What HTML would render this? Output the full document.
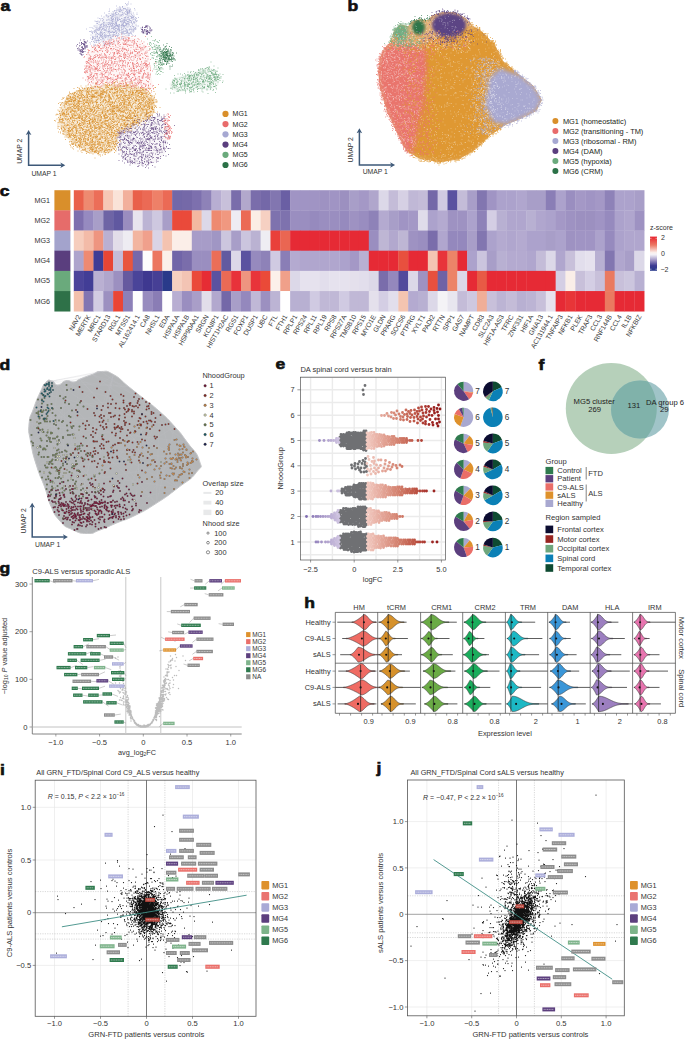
<!DOCTYPE html>
<html><head><meta charset="utf-8"><style>
html,body{margin:0;padding:0;background:#fff;}
svg{display:block;font-family:"Liberation Sans",sans-serif;}
</style></head><body>
<svg width="685" height="1039" viewBox="0 0 685 1039">
<rect width="685" height="1039" fill="#fff"/>
<text transform="translate(0.60 10.80) scale(1.17 1)" font-size="15" font-weight="bold" fill="#111" stroke="#111" stroke-width="0.6">a</text>
<g filter="url(#blr1)">
<polygon points="57.9,120.9 60.0,108.0 66.0,98.0 75.0,91.0 89.4,86.7 115.7,84.1 136.0,86.0 150.0,92.0 155.1,100.0 155.0,110.0 149.8,118.0 138.0,124.0 128.0,128.0 118.3,136.0 116.0,148.0 110.4,152.4 92.0,153.7 76.3,147.1 63.1,134.0" fill="#d98f2b" fill-opacity="0.2"/>
<polygon points="87.0,55.0 92.0,46.0 105.2,40.5 120.9,36.5 136.7,38.5 147.2,46.0 149.8,60.4 151.2,76.2 153.8,89.3 136.7,88.0 115.7,85.0 96.0,87.5 86.5,82.0 85.0,68.0" fill="#e86b6b" fill-opacity="0.06"/>
<polygon points="94.0,26.0 104.0,16.0 117.0,9.2 124.9,5.3 131.0,9.2 136.5,20.0 137.5,28.0 133.0,33.0 120.0,37.0 105.0,41.0 93.0,44.0 91.5,36.0" fill="#a6a8d2" fill-opacity="0.1"/>
<polygon points="118.3,131.4 128.8,126.1 147.2,118.2 160.4,115.6 166.9,120.9 168.2,136.6 165.6,152.4 157.7,161.6 144.6,165.5 131.4,164.2 122.3,157.6 117.8,147.1" fill="#5a3e7e" fill-opacity="0.05"/>
<polygon points="169.5,84.1 173.5,78.8 184.0,74.9 197.1,70.9 207.6,67.0 215.5,69.6 220.3,77.5 218.2,85.4 210.3,90.6 199.8,89.3 189.3,90.6 178.7,92.0 170.9,89.3" fill="#6aaa7c" fill-opacity="0.08"/>
</g>
<path transform="scale(.5)" d="M232 163h0m3-1h0m5 2h0m6 0h0m5 0h0m14 0h0m-89 6h0m14 2h0m1-4h0m1-3h0m0 3h0m16 0h0m2 2h0m1 0h0m0-5h0m1 4h0m1 2h0m2 1h0m1-5h0m2 4h0m1-1h0m0 0h0m0-1h0m3 2h0m1-2h0m4-3h0m1 0h0m1-1h0m0 3h0m0-3h0m7 5h0m2-2h0m2-1h0m0 4h0m1 0h0m1 1h0m5-5h0m1 5h0m4-7h0m0 5h0m1-1h0m1 1h0m1 0h0m0 1h0m1 0h0m0-1h0m2-1h0m3-3h0m1 6h0m2-6h0m4 4h0m3 1h0m26 1h0m-149 5h0m7-2h0m3 1h0m1 1h0m1 3h0m2-8h0m2 3h0m1 2h0m3 1h0m1-1h0m1-1h0m0 2h0m2-6h0m2 6h0m0-3h0m1 2h0m0 2h0m0-1h0m1-1h0m1-2h0m2 3h0m2-3h0m1 2h0m1 0h0m0-5h0m1 4h0m0 1h0m2-3h0m1 3h0m3-4h0m0 7h0m1-7h0m3 7h0m1-7h0m0 0h0m1 2h0m2-1h0m0 1h0m1 4h0m1-2h0m4 0h0m0 0h0m1 3h0m3-1h0m0 0h0m3-5h0m0 2h0m2 0h0m1-4h0m0 2h0m0 0h0m1 0h0m1 5h0m1-4h0m0 0h0m2 3h0m1-1h0m1 2h0m2 0h0m0-3h0m0 1h0m1 2h0m0-3h0m1 2h0m0 0h0m0 1h0m1-7h0m2 5h0m0-3h0m1 3h0m0-1h0m2 4h0m0-5h0m0-1h0m0 5h0m1-3h0m0-2h0m0 5h0m1-1h0m1 1h0m1-3h0m0 2h0m1-4h0m1 0h0m2 4h0m0 0h0m1 1h0m0-3h0m0-3h0m1 7h0m1-6h0m1 3h0m2 1h0m1-5h0m2 4h0m0 0h0m0-5h0m0 5h0m1-5h0m3 5h0m0 3h0m0-6h0m2 1h0m0 5h0m0-7h0m2 3h0m2-2h0m2 2h0m0-1h0m1 5h0m2-7h0m0 4h0m3 0h0m3-1h0m0 4h0m3-6h0m0 4h0m1-1h0m3 1h0m1-4h0m3 6h0m1-4h0m0 0h0m2 1h0m2 1h0m0 1h0m1-1h0m0 1h0m1-1h0m2-2h0m1 3h0m1-1h0m2 0h0m0 2h0m4-3h0m2 1h0m1 0h0m10-3h0m1 0h0m-172 11h0m0-2h0m1 4h0m1-1h0m4 0h0m1-1h0m3-1h0m0 1h0m0 1h0m2-2h0m2 2h0m1-4h0m0-2h0m1 5h0m2-4h0m1 0h0m0-1h0m1 3h0m0-4h0m0 6h0m1 2h0m0-4h0m1-4h0m0 1h0m1 0h0m0 6h0m0-3h0m1-1h0m0 5h0m1-6h0m0 3h0m0 1h0m1-5h0m1 0h0m2 1h0m4 1h0m0-2h0m1 5h0m0 0h0m0-4h0m2 1h0m0-3h0m0 4h0m1 0h0m0 2h0m0-2h0m0 0h0m1 0h0m1 4h0m0-2h0m0-6h0m0 1h0m1 2h0m2 1h0m2 1h0m0-2h0m1-2h0m0 7h0m0-7h0m0-1h0m2 1h0m0 1h0m1 0h0m3 0h0m0-1h0m0 6h0m0-2h0m1 2h0m1-1h0m0 0h0m0-1h0m1-3h0m0 4h0m0 2h0m1-2h0m0-1h0m0-1h0m2-2h0m0 4h0m0 0h0m0-4h0m4-2h0m0 6h0m1-2h0m0 3h0m0-5h0m1 5h0m1-5h0m0 5h0m0 0h0m0-4h0m1 2h0m1-2h0m0 2h0m1 2h0m0-6h0m0 5h0m1-5h0m0 4h0m0-2h0m1-1h0m1 3h0m0-2h0m1 3h0m0-3h0m2 2h0m0 0h0m0-2h0m1 4h0m0 1h0m0-6h0m1-2h0m0 1h0m0 4h0m0-3h0m2 6h0m2-8h0m1 3h0m0 1h0m1 1h0m0-2h0m1 2h0m0-5h0m3 2h0m1 3h0m1 2h0m2 0h0m0 0h0m0-2h0m1 0h0m1 0h0m0 0h0m0-3h0m0 4h0m2 0h0m1-3h0m1 3h0m0 2h0m0-4h0m1-2h0m0 2h0m0-1h0m0 1h0m1-3h0m2 1h0m1 3h0m1-4h0m1 2h0m1-1h0m0 3h0m1-3h0m0 0h0m1 2h0m1-3h0m1 1h0m0 3h0m0 0h0m0 2h0m1-5h0m0 0h0m1 6h0m0-4h0m1 3h0m3-3h0m0-1h0m1-3h0m1 1h0m3 2h0m0 1h0m1 3h0m1 1h0m1-5h0m0 0h0m0 2h0m1-5h0m0 5h0m3-3h0m0 4h0m0-4h0m1 2h0m0-4h0m0 5h0m0 2h0m0-3h0m1 1h0m0 2h0m0-2h0m0 0h0m1-3h0m0 4h0m3-5h0m0 6h0m1-2h0m0 0h0m1 1h0m0-1h0m0-1h0m1-3h0m0 2h0m0-1h0m0 0h0m1-1h0m1 5h0m0-4h0m0-1h0m0 2h0m2-2h0m0 6h0m0-3h0m0 3h0m1-2h0m0-4h0m1 6h0m0-2h0m1-3h0m0 0h0m0-1h0m1 4h0m1-2h0m1 2h0m0 0h0m0 2h0m0-6h0m2 6h0m0-2h0m1-3h0m0-1h0m0 7h0m1-1h0m1-6h0m0 4h0m1 2h0m1-4h0m1 3h0m0-6h0m1 7h0m2-1h0m0-1h0m3-2h0m2 3h0m1 1h0m3-6h0m5 2h0m-183 13h0m3-1h0m5-1h0m3 2h0m0-5h0m0 1h0m1-1h0m1-2h0m0 3h0m1 4h0m1-3h0m1 1h0m0-1h0m0 2h0m2-7h0m1 7h0m1 1h0m0-2h0m1-6h0m0 6h0m1-5h0m0 5h0m1-3h0m0 4h0m1 1h0m0-6h0m1 4h0m0-3h0m1 1h0m0 0h0m3 2h0m0-5h0m1 4h0m1-1h0m0 1h0m0 3h0m0-2h0m0 0h0m1-5h0m0 1h0m1 6h0m1-5h0m1 0h0m0 5h0m1-6h0m1 4h0m1-3h0m0 2h0m1-1h0m0 3h0m0-6h0m0 7h0m1-7h0m1 1h0m1 1h0m0 4h0m0-4h0m2 4h0m0-2h0m0 0h0m3 2h0m0-4h0m0 3h0m1-5h0m0 7h0m1-6h0m0 3h0m1-1h0m0 3h0m0 0h0m0-5h0m0 2h0m1 2h0m1-6h0m0 0h0m2 5h0m0-4h0m1 4h0m1-3h0m1 6h0m0-4h0m1 1h0m0 3h0m1-5h0m0-3h0m0 5h0m0-1h0m1 1h0m0 1h0m1 0h0m0-5h0m0 5h0m0 0h0m0-4h0m0 2h0m0 2h0m0-5h0m1 3h0m1 0h0m0 1h0m0 1h0m1-6h0m0 4h0m0 2h0m0-1h0m1 2h0m0-3h0m1 2h0m2 1h0m0-2h0m2-1h0m1 3h0m0-5h0m1 1h0m0-1h0m1 1h0m0 1h0m1 0h0m1-2h0m0 1h0m0-2h0m1 3h0m0-3h0m0 5h0m1-2h0m0 3h0m0-6h0m0 3h0m0 2h0m1 0h0m1 1h0m0-5h0m0 6h0m0-7h0m1-1h0m0 6h0m0-6h0m1 6h0m0-5h0m1 0h0m2 7h0m0-1h0m1-1h0m1-2h0m0-1h0m1 2h0m0-2h0m0 3h0m4-1h0m0-2h0m1 3h0m0-4h0m0-2h0m1 3h0m0 5h0m0-1h0m1-3h0m0-2h0m0 2h0m0-2h0m0 3h0m1 1h0m0 0h0m1 1h0m2-7h0m2 4h0m0-2h0m1 0h0m0 3h0m1 1h0m1 2h0m1-6h0m3 2h0m1-1h0m1 1h0m0-1h0m0-1h0m1 3h0m0-1h0m1-1h0m0 4h0m2 1h0m0-6h0m1 5h0m0-7h0m1 8h0m1 0h0m0-3h0m0-3h0m1 2h0m0-2h0m1 0h0m0-1h0m1 6h0m1-2h0m1 0h0m0 2h0m1-4h0m2 0h0m1 0h0m0-2h0m0 7h0m0-3h0m0 1h0m1-1h0m1-5h0m0 3h0m0 0h0m0 0h0m1 0h0m1 4h0m0 0h0m0-4h0m2 1h0m1 4h0m0-6h0m1 0h0m0 0h0m1 2h0m0 0h0m2 3h0m0-7h0m0 4h0m2 2h0m0-5h0m0 1h0m1-1h0m0 0h0m0 1h0m0 3h0m0-4h0m2 1h0m1 5h0m1-6h0m0 2h0m3 3h0m0-4h0m1 2h0m0 3h0m0-6h0m1 3h0m2 1h0m1-3h0m0 1h0m0-1h0m1 1h0m1 2h0m0 2h0m1-1h0m1 0h0m1 2h0m0-7h0m1 4h0m0 0h0m1-4h0m0 2h0m0-2h0m1 6h0m0-6h0m1 0h0m0-1h0m1 7h0m1-3h0m0 2h0m1-3h0m0 3h0m1 1h0m1-1h0m1-4h0m2 3h0m0-5h0m1 2h0m0 4h0m0-2h0m0 2h0m2 0h0m1-5h0m3 6h0m1-4h0m0 0h0m1 0h0m1 3h0m1-2h0m2 0h0m3 0h0m0 3h0m2-7h0m-187 11h0m3-2h0m4 5h0m1 1h0m1 1h0m1 0h0m0-6h0m0 0h0m0 0h0m0-2h0m0 2h0m1 6h0m1-6h0m0 4h0m0 1h0m0-5h0m1 5h0m1-5h0m0 4h0m0-5h0m0 4h0m1 1h0m0 1h0m0-1h0m2-3h0m0-3h0m0 0h0m0 7h0m1-2h0m0 1h0m1-3h0m0 3h0m0 1h0m0 0h0m0-5h0m1 1h0m1 1h0m1 0h0m1-3h0m0 6h0m0-1h0m0 0h0m1 0h0m0-1h0m1 0h0m1-2h0m0-3h0m0 4h0m0 2h0m0 0h0m0-1h0m1-3h0m0 3h0m0-4h0m1 1h0m0 1h0m2 4h0m1-3h0m1 2h0m1 1h0m0-2h0m0 3h0m1-3h0m1 1h0m0 1h0m0-5h0m0 0h0m1-1h0m0-1h0m0 6h0m1 1h0m0-7h0m2 7h0m2-7h0m0 2h0m1 2h0m0 2h0m0 0h0m1-2h0m1 1h0m1-1h0m0-1h0m0 1h0m1-2h0m2 4h0m0-2h0m2 2h0m0 0h0m0-3h0m1 1h0m1-2h0m0 3h0m0 1h0m1-5h0m1 7h0m1-4h0m0 2h0m1-2h0m0-2h0m1 6h0m1-1h0m0-2h0m1-1h0m0-3h0m1 5h0m0 1h0m1-3h0m0-4h0m1 6h0m5 1h0m1-3h0m0 4h0m1-3h0m0 3h0m1-5h0m0 3h0m1-3h0m1-2h0m2 1h0m3 0h0m0 3h0m1-5h0m0 2h0m3 4h0m1 1h0m1-4h0m0 4h0m0-2h0m1-1h0m2-2h0m0 2h0m0 0h0m1-1h0m1 2h0m0 1h0m0-1h0m4 2h0m0 1h0m1-4h0m0 3h0m0 0h0m1-4h0m0-1h0m0 4h0m1-6h0m0 4h0m0 1h0m1-3h0m1-1h0m1-1h0m0 2h0m1 0h0m0 0h0m2 5h0m3-5h0m3 3h0m0 2h0m1 0h0m0-4h0m1-1h0m1-1h0m2-1h0m0 4h0m1-3h0m1 4h0m0 2h0m1-1h0m1-3h0m2-1h0m1 3h0m2 1h0m0-1h0m1 0h0m0-4h0m1 2h0m0-2h0m1 3h0m0 3h0m0-6h0m0 4h0m1-1h0m0 4h0m1-2h0m0-3h0m1 1h0m1 3h0m0 0h0m2-3h0m0-1h0m1-2h0m0 2h0m1 5h0m1-6h0m0 3h0m1-5h0m0 0h0m0 0h0m0 5h0m1-5h0m0 7h0m0-6h0m1 7h0m1-3h0m2-4h0m1 3h0m1-1h0m1 4h0m0-6h0m1-1h0m2 2h0m0 2h0m1 4h0m1-2h0m0-2h0m0 1h0m1 1h0m0-1h0m0 0h0m0-5h0m1 5h0m0-1h0m0-3h0m0 5h0m0-2h0m3-1h0m0-1h0m0 4h0m0-3h0m1 3h0m1-3h0m0 4h0m0-2h0m1-1h0m1-1h0m3 1h0m0-3h0m1 3h0m1-4h0m0 6h0m0-1h0m1 0h0m1-2h0m0-2h0m0 6h0m1-3h0m0 0h0m2-4h0m0 3h0m1-2h0m1 7h0m0-1h0m1-2h0m2 3h0m1-1h0m0-5h0m0 4h0m1-4h0m1 1h0m0-2h0m0 3h0m1 1h0m0-1h0m1 0h0m0-2h0m2 2h0m0-3h0m0 4h0m0 2h0m2-5h0m0 1h0m1 2h0m0 0h0m1 1h0m0 2h0m1-4h0m1-4h0m0 2h0m4 2h0m0-1h0m2 3h0m-197 5h0m3-2h0m1 6h0m0-2h0m2-3h0m0 2h0m2-3h0m1 1h0m2 5h0m1-1h0m1-2h0m0-4h0m0 2h0m1 2h0m1-1h0m0-3h0m1 4h0m0-2h0m0 3h0m3 2h0m0-4h0m0-2h0m1 3h0m2 0h0m0 4h0m1-3h0m0 1h0m1-2h0m2 1h0m1-5h0m0 3h0m2 1h0m1 1h0m0 0h0m1-4h0m0 3h0m0 3h0m1 1h0m0-4h0m0-2h0m1 6h0m1-1h0m0-1h0m1-4h0m1 3h0m1-1h0m0 4h0m0-5h0m1 3h0m0 2h0m1-7h0m0 0h0m0 2h0m1 0h0m0 4h0m0 0h0m0-7h0m1 6h0m1-1h0m0-1h0m0-4h0m1 3h0m4 0h0m0-1h0m2 4h0m1-1h0m0-4h0m1 4h0m0-1h0m0-1h0m0-3h0m1 3h0m0 0h0m1 4h0m1-7h0m0 1h0m1 6h0m1-7h0m0 1h0m1 0h0m0 1h0m0 5h0m1-6h0m1 7h0m1-5h0m0 3h0m0-2h0m0-2h0m0 1h0m1 2h0m1 2h0m1-6h0m0 7h0m0-6h0m1 2h0m1-2h0m3 0h0m0 0h0m1 0h0m0-1h0m1 6h0m0-1h0m1-6h0m2 0h0m1 8h0m2-7h0m0 4h0m0-2h0m1 5h0m0-7h0m0 0h0m1 0h0m1 5h0m0 0h0m1 0h0m1-1h0m3 2h0m0-3h0m0-3h0m0 0h0m0 6h0m2-7h0m0 5h0m1-1h0m1 3h0m1-6h0m0 6h0m3-3h0m2-3h0m0 1h0m1 5h0m1-7h0m1 5h0m0-5h0m1 4h0m1-3h0m0 7h0m1-4h0m2 1h0m0-5h0m0 6h0m1-6h0m0 5h0m0-2h0m1 2h0m0 2h0m1-7h0m0 5h0m0-4h0m0-1h0m1 5h0m1-2h0m1 5h0m0-6h0m0-1h0m0 1h0m1-1h0m1 5h0m1 2h0m0-6h0m1-2h0m0 3h0m0-2h0m0 6h0m1 1h0m2 0h0m1-1h0m1-6h0m0 3h0m1 2h0m0 1h0m1 1h0m1-8h0m2 3h0m0 1h0m0 3h0m1 0h0m0-2h0m0-2h0m1-2h0m0 6h0m1-3h0m0-3h0m1 1h0m0 2h0m0 1h0m2 3h0m0-7h0m2 7h0m0-3h0m0-3h0m0 0h0m1 4h0m0-3h0m1-2h0m0 4h0m0-2h0m0-1h0m1 4h0m2-5h0m0 3h0m0 1h0m2 1h0m0 1h0m2-2h0m0 3h0m1-1h0m0-5h0m0 1h0m1-2h0m0 4h0m0 2h0m1-6h0m0 2h0m0-2h0m1 5h0m0-2h0m1 0h0m0 2h0m1 1h0m0-6h0m2 6h0m1-2h0m0-1h0m2-1h0m0-1h0m3 0h0m0-1h0m1 7h0m1-5h0m3 3h0m2-2h0m0 0h0m0 1h0m2-2h0m0 0h0m0-2h0m0 6h0m1 0h0m0-4h0m1 2h0m0-4h0m1 2h0m0 1h0m1-3h0m1 5h0m0-5h0m0 5h0m2-1h0m2 1h0m0-4h0m0 6h0m0-1h0m2-5h0m1 2h0m0-4h0m0 7h0m0-3h0m1-3h0m0 7h0m1-2h0m1 0h0m1-4h0m0 2h0m1-1h0m1 1h0m0 2h0m1-6h0m0 3h0m0 5h0m0-8h0m0 6h0m1-5h0m0 1h0m0-1h0m1 4h0m0-3h0m1-2h0m1 5h0m0-3h0m0 6h0m1-6h0m1 2h0m0-2h0m0 4h0m2-3h0m0-1h0m1-1h0m1 0h0m0 5h0m2 1h0m1-7h0m1 8h0m1-8h0m1 0h0m-194 11h0m3 1h0m2 4h0m1-1h0m3-5h0m1 0h0m2 5h0m0-1h0m1 1h0m2-2h0m1-2h0m0 1h0m0 3h0m2-1h0m0-1h0m0 2h0m0-4h0m2 0h0m1 0h0m1 2h0m0 2h0m0-3h0m0-2h0m2 5h0m0-6h0m1 0h0m1 4h0m1-5h0m0 3h0m1-1h0m1-2h0m0 5h0m1-1h0m0 1h0m1-5h0m0 5h0m2-4h0m0 3h0m0-1h0m2 3h0m0-2h0m1 2h0m0-5h0m0 1h0m1 2h0m0 2h0m1-5h0m0 3h0m0 0h0m0 3h0m1 1h0m0-7h0m1 4h0m1-2h0m1-1h0m0 5h0m1-3h0m0-4h0m0 1h0m0 5h0m1-4h0m1 4h0m1 0h0m0-6h0m1 1h0m2 4h0m0-3h0m1-1h0m0 3h0m0 4h0m0-1h0m1 0h0m0-5h0m2 2h0m1 0h0m1-2h0m0 3h0m1 0h0m2-1h0m0 2h0m0-5h0m2 3h0m0-2h0m0 4h0m0-1h0m1 1h0m0 1h0m1 0h0m1-1h0m1 1h0m0 1h0m0-4h0m1 4h0m0-1h0m0-5h0m1-1h0m1 2h0m1 3h0m0-2h0m1-1h0m0 0h0m0 3h0m1 2h0m1-6h0m1-2h0m1 5h0m1-1h0m0-3h0m1 1h0m0 0h0m1 4h0m0-4h0m1 1h0m0 2h0m1-4h0m0 4h0m1 0h0m2 3h0m1-4h0m0 2h0m2 1h0m2-2h0m0 3h0m0-6h0m1 0h0m0 2h0m3-1h0m0 3h0m1-4h0m0 5h0m1-2h0m1-2h0m3-2h0m1 0h0m2 3h0m1 2h0m0 1h0m0 1h0m1 0h0m0-8h0m1 2h0m0-1h0m0 5h0m1 2h0m1-4h0m0 2h0m1-5h0m0-1h0m1 3h0m0 2h0m0 3h0m0-7h0m0 6h0m0-3h0m1-3h0m1 4h0m0 0h0m1-1h0m0 1h0m0 0h0m0-4h0m1 3h0m2-1h0m0 3h0m0-4h0m1 1h0m1 2h0m0-4h0m1 2h0m0 0h0m1 0h0m0 3h0m0-4h0m1 4h0m1-4h0m0 0h0m0 5h0m0 1h0m1-1h0m1-2h0m0 0h0m1 1h0m1-2h0m1-1h0m1-1h0m0 5h0m0-7h0m1 5h0m1 0h0m2-2h0m0-1h0m1-1h0m0 1h0m1 4h0m0 0h0m0-4h0m2-1h0m0 2h0m0 3h0m1-4h0m0 4h0m1-3h0m0 1h0m2 2h0m0 1h0m0-1h0m2-3h0m3 3h0m1-5h0m1 1h0m0 0h0m0 1h0m1 1h0m1-2h0m2 4h0m3-5h0m1 3h0m0 1h0m0 0h0m2-1h0m1 0h0m0-4h0m0 5h0m1 2h0m1-1h0m0-5h0m0 3h0m0 1h0m1-1h0m0-3h0m1 1h0m1 3h0m1-2h0m0 0h0m1-2h0m0 0h0m0 0h0m1 3h0m0 4h0m1-3h0m0 1h0m1-2h0m1 2h0m0 0h0m1-4h0m0 6h0m0 0h0m0-1h0m1-1h0m1-5h0m0 2h0m1-2h0m0 1h0m1-1h0m0 5h0m0 1h0m0 1h0m2-3h0m1-5h0m0 7h0m2-4h0m1-1h0m0 5h0m0-7h0m0 7h0m0-3h0m0-2h0m2 0h0m0-2h0m1 5h0m0-5h0m0 5h0m0 1h0m0-1h0m0-3h0m1 0h0m0 2h0m3 1h0m0-1h0m1-3h0m0 5h0m0-3h0m0-1h0m1 0h0m0 5h0m0-5h0m0 4h0m0 0h0m0-2h0m2 3h0m2-4h0m2-2h0m2 2h0m7 0h0m-206 13h0m2-8h0m2 2h0m1 1h0m0 4h0m2 1h0m1 0h0m1-4h0m1-1h0m0 5h0m1-7h0m0 7h0m1-2h0m0 1h0m0-2h0m1 2h0m0 1h0m0-3h0m1-3h0m1 2h0m0 3h0m0 0h0m1 1h0m0-8h0m3 5h0m0-1h0m0-2h0m0 6h0m1-4h0m1-2h0m1-1h0m0 6h0m1 0h0m1-3h0m3-1h0m0 2h0m1-4h0m0 3h0m0 0h0m0 0h0m1 4h0m1-7h0m0 2h0m1-2h0m0-1h0m1 7h0m0-7h0m1 2h0m1 1h0m0-2h0m0 2h0m1 1h0m0 2h0m1-3h0m0-3h0m1 2h0m1 0h0m0 3h0m1 1h0m1-3h0m2 4h0m0-6h0m1 0h0m0-1h0m3 6h0m1-2h0m0 0h0m0-3h0m1 4h0m1 1h0m1 1h0m0 0h0m0-4h0m0-1h0m1 4h0m1-5h0m0 1h0m1 0h0m0-1h0m0 3h0m0-3h0m1 0h0m1 2h0m0-1h0m2 4h0m1 0h0m0 0h0m1-6h0m1 2h0m1 0h0m0 6h0m1-1h0m0 0h0m0-3h0m0 0h0m1 4h0m3-7h0m0 1h0m0 2h0m1-1h0m0 4h0m2-6h0m0 2h0m1-2h0m2 7h0m0-3h0m0-1h0m1 0h0m0-1h0m2-2h0m0 0h0m0 2h0m1-3h0m1 6h0m0 0h0m1 1h0m1-2h0m0-2h0m0-1h0m2 0h0m1-1h0m1 7h0m1-3h0m0-4h0m2 4h0m0 3h0m4-3h0m0-3h0m0 3h0m1 1h0m0-4h0m0 3h0m0 1h0m0 1h0m0-1h0m0-3h0m2-3h0m0 4h0m1 4h0m1-8h0m1 3h0m0 2h0m0-3h0m1 5h0m0 1h0m1-5h0m2 2h0m0-4h0m1 0h0m0 1h0m0 0h0m1 2h0m0-1h0m0-3h0m1 1h0m1 7h0m1 0h0m0-8h0m2 7h0m0-4h0m2 1h0m1 2h0m0-4h0m0 2h0m1-1h0m0 3h0m0-4h0m0-1h0m0 7h0m1-6h0m0 2h0m0-4h0m1 3h0m0-1h0m1-1h0m0 4h0m1-2h0m0 4h0m0-4h0m1 4h0m0-7h0m1 6h0m1 1h0m0 1h0m0-1h0m0 0h0m1-4h0m1-3h0m0 1h0m1 1h0m1 0h0m1 0h0m0 0h0m1 2h0m1-3h0m0 0h0m1 1h0m0-1h0m1 3h0m0 2h0m0-4h0m1-1h0m1 2h0m0 1h0m1-1h0m0 1h0m1 0h0m0-1h0m1-2h0m1 3h0m0 1h0m0-3h0m1-2h0m0 2h0m1 0h0m0 2h0m1-3h0m1 4h0m0 2h0m2-7h0m0 8h0m1-1h0m0-6h0m1 4h0m1 1h0m1-6h0m1 3h0m1 2h0m0 1h0m0-5h0m0 7h0m1 0h0m1-6h0m0-1h0m1 0h0m0 6h0m0-5h0m2 3h0m0-1h0m1 3h0m1-2h0m1 1h0m0-2h0m1 2h0m0 1h0m1-6h0m0 7h0m0-8h0m0 1h0m1 2h0m1 3h0m0-2h0m0-2h0m0 0h0m3-1h0m0 7h0m1-4h0m0 1h0m1 0h0m1-1h0m1 0h0m2-4h0m1 2h0m1 5h0m1-3h0m2 2h0m0-4h0m1 4h0m1-4h0m1 3h0m1 1h0m2 0h0m2-2h0m0-1h0m0-2h0m0 5h0m1-4h0m0 4h0m0-5h0m0 7h0m0-2h0m0 0h0m1 1h0m0-3h0m2 3h0m0-2h0m1 0h0m1 0h0m1-3h0m1 1h0m0 3h0m0-2h0m1-2h0m1 1h0m0 1h0m3 2h0m0-4h0m1 2h0m1-2h0m0 2h0m2 1h0m5-1h0m-203 6h0m2-1h0m2 0h0m1 6h0m4-3h0m0-1h0m0 0h0m0 4h0m1-4h0m3-1h0m0-1h0m1-1h0m1 4h0m1-2h0m1-1h0m1 4h0m0-2h0m1 1h0m1-3h0m0 4h0m1-3h0m1 3h0m0 1h0m0-5h0m2 0h0m1 0h0m1 1h0m1 3h0m2 2h0m0 0h0m2-5h0m0 4h0m1 1h0m1-2h0m0-2h0m0-1h0m0 4h0m0-1h0m1 1h0m0-6h0m1 8h0m0 0h0m1-7h0m0-1h0m0 3h0m1 3h0m1-3h0m0 0h0m0-1h0m1 2h0m1-4h0m0 3h0m2 0h0m0 5h0m1-7h0m1 6h0m1 0h0m0-3h0m0 0h0m1 3h0m0-1h0m0-5h0m1 2h0m0-2h0m0 7h0m1-1h0m0-1h0m0-1h0m0 0h0m1-2h0m1 3h0m1-5h0m1 5h0m0-3h0m0 3h0m1 0h0m0-1h0m1-2h0m2-2h0m0 6h0m2-6h0m0 2h0m1-1h0m0 4h0m0 2h0m1-3h0m0-5h0m1 7h0m0-4h0m0 2h0m0 0h0m1-2h0m1 2h0m2-5h0m1 7h0m0 0h0m0-5h0m1 3h0m0-5h0m1 2h0m1 2h0m2-2h0m1-2h0m0 8h0m1 0h0m1-7h0m1 1h0m1 2h0m0 3h0m1-7h0m0 2h0m1 3h0m2-2h0m0 5h0m0-5h0m1 1h0m2 1h0m0-3h0m1 6h0m1-3h0m0-3h0m1 4h0m2-2h0m0 0h0m0-3h0m0 1h0m1 1h0m0 3h0m1 1h0m1 0h0m0-7h0m0 8h0m0-3h0m0 0h0m5-2h0m0-2h0m0 4h0m0-2h0m0 1h0m0 0h0m1 1h0m0 3h0m0-2h0m1-3h0m0 4h0m0-1h0m0-3h0m1 5h0m0-7h0m1 7h0m0-6h0m0 6h0m1-8h0m0 8h0m0-5h0m0 4h0m1-3h0m1 4h0m0-2h0m0 1h0m0-3h0m2 1h0m1-5h0m0 1h0m1 7h0m1-6h0m1 4h0m1-6h0m0 1h0m3 4h0m0-4h0m1 6h0m0 1h0m0-3h0m1-1h0m0-4h0m1 1h0m0 1h0m4 2h0m0 3h0m1-2h0m0-3h0m0 3h0m1-3h0m0 0h0m2 2h0m1 2h0m1 2h0m1-4h0m0-3h0m2 3h0m0-1h0m1 1h0m0 0h0m2-1h0m0 3h0m1 0h0m0-3h0m1 3h0m0-5h0m1 2h0m0 1h0m0 1h0m2 0h0m2-1h0m0 3h0m1 0h0m0 0h0m0-1h0m2 0h0m0 1h0m0 1h0m1-3h0m1-2h0m0 4h0m0-1h0m1 2h0m0-5h0m0-1h0m1 6h0m1-2h0m0-5h0m0 4h0m1-1h0m1 0h0m0 3h0m0-5h0m0 4h0m1-6h0m0 2h0m1 2h0m1 3h0m1 0h0m2-1h0m1-3h0m0 0h0m1 0h0m0 2h0m0-3h0m1 2h0m1 0h0m3 0h0m0-2h0m0 1h0m0-3h0m1 4h0m0 4h0m0-5h0m2 3h0m1-4h0m0 5h0m3-5h0m0 4h0m0-4h0m1 1h0m1-1h0m0-2h0m3 6h0m3-4h0m1 1h0m0 3h0m0-1h0m1-3h0m0-1h0m1 2h0m1 3h0m0-1h0m0-4h0m2 4h0m3-2h0m0 2h0m0 3h0m0-4h0m0 2h0m1-4h0m1 1h0m1 0h0m1-1h0m2 0h0m1 0h0m2 5h0m-198 6h0m2 1h0m3-4h0m5 0h0m0 4h0m0 0h0m1-3h0m0 0h0m0 1h0m1 4h0m1-6h0m1 1h0m1 4h0m0-4h0m1-2h0m0 4h0m0-2h0m1-1h0m0 0h0m1 3h0m2-5h0m2 2h0m0 0h0m1 0h0m2 3h0m0-3h0m1 6h0m1-5h0m0 0h0m0 0h0m1 5h0m0-7h0m2 4h0m1-3h0m0 5h0m1-6h0m0 0h0m0 0h0m1 1h0m2 0h0m0-2h0m1 6h0m0 0h0m1-1h0m2 0h0m1 1h0m0-2h0m1-3h0m0 0h0m0 4h0m2-4h0m1 0h0m1 5h0m0-4h0m1 5h0m1-7h0m2 1h0m0 4h0m1-4h0m0 4h0m1-4h0m2 5h0m1-4h0m0-1h0m0 1h0m1 1h0m1 2h0m0-3h0m0 0h0m0-1h0m1 4h0m1 1h0m0-2h0m1 1h0m1-5h0m0 3h0m0 4h0m0-2h0m1 2h0m1-2h0m0-4h0m1 2h0m1 4h0m1-3h0m0 3h0m1 0h0m1-6h0m2 5h0m0-1h0m0 0h0m0 1h0m1-5h0m0 4h0m0 2h0m1-2h0m0-4h0m1 2h0m0 0h0m0-1h0m1 1h0m0 0h0m2 5h0m0-1h0m0-3h0m1-1h0m0 3h0m0 1h0m1-6h0m0 4h0m0 2h0m0 1h0m0 0h0m1-3h0m1-2h0m0 4h0m1-5h0m0 4h0m0-3h0m0-3h0m1 3h0m0-2h0m1 4h0m0-2h0m0 4h0m4 1h0m0-4h0m1-3h0m0 4h0m0-2h0m2-3h0m1 4h0m0 2h0m2 0h0m0-1h0m0-3h0m1 2h0m0 1h0m0-2h0m2-2h0m4 0h0m0 3h0m0 4h0m2 0h0m0-3h0m0 2h0m0-6h0m1 4h0m0-1h0m1 3h0m1-2h0m1 1h0m0-1h0m1 1h0m0-1h0m1 1h0m0-1h0m1-1h0m1-1h0m1-3h0m0 2h0m2 1h0m0-1h0m1 0h0m0-2h0m0 7h0m1-2h0m2-2h0m0 4h0m1 0h0m0-6h0m0 5h0m1-3h0m0 0h0m1-3h0m1 4h0m0 3h0m2-1h0m1 1h0m2-3h0m0-3h0m1 5h0m0-6h0m0 0h0m2 1h0m1 3h0m0-2h0m0 6h0m1-2h0m1-3h0m2 0h0m0-1h0m1 0h0m0-2h0m1 6h0m0-4h0m1 1h0m0 3h0m2-2h0m1 2h0m0-1h0m0 0h0m0-1h0m1-1h0m0 2h0m2-3h0m1 3h0m1-5h0m0 1h0m0-1h0m1 6h0m0-2h0m0-3h0m0 0h0m1 3h0m3 1h0m0-4h0m0 4h0m0 2h0m1-6h0m2 0h0m0 7h0m0-6h0m2-1h0m0 0h0m1 4h0m0-5h0m1 1h0m0 5h0m0-2h0m1-3h0m1 6h0m1-3h0m0 1h0m0 1h0m1 0h0m0-4h0m1 3h0m0 1h0m0-2h0m1-3h0m1 7h0m1-2h0m0-2h0m0 1h0m1-5h0m1 6h0m1-3h0m0 0h0m1 1h0m1-4h0m1 3h0m0 0h0m2-1h0m1 4h0m1 0h0m2-5h0m2 5h0m0-5h0m1 6h0m0-5h0m4 1h0m0-2h0m1 3h0m4-3h0m1-1h0m0 3h0m4-3h0m-186 12h0m0 4h0m0-7h0m2 0h0m4-1h0m2 2h0m0-1h0m1-1h0m1 8h0m2-6h0m0-1h0m0 1h0m1 2h0m0 3h0m2-1h0m2 1h0m1-3h0m1 2h0m0 1h0m1-2h0m0 1h0m0 0h0m2 1h0m1-5h0m1 4h0m2-3h0m1 2h0m1 0h0m0 1h0m0-5h0m1-1h0m1 6h0m1-4h0m0-1h0m1 3h0m1 3h0m2-1h0m1 2h0m0-2h0m2-3h0m0 5h0m1-7h0m0 0h0m2 5h0m0-1h0m1 0h0m0 0h0m0 1h0m1-4h0m0 1h0m0 1h0m1 3h0m1-4h0m0 4h0m0 0h0m1-1h0m1-6h0m0 6h0m1-3h0m0-2h0m1 6h0m0-6h0m1 3h0m1 1h0m0-1h0m1-1h0m0-2h0m0 0h0m1 3h0m1 4h0m1-6h0m1 2h0m3 3h0m0-4h0m1 1h0m0-1h0m2 2h0m1-3h0m0-1h0m0 0h0m0 2h0m0-1h0m1 2h0m0-2h0m0-1h0m0 3h0m1 3h0m0 1h0m0 0h0m1-2h0m0-2h0m2-3h0m1 2h0m2 4h0m0-5h0m1 3h0m1-4h0m0 6h0m2-4h0m0 0h0m1 3h0m1-5h0m0-1h0m1 5h0m1-4h0m0 5h0m1-5h0m0 3h0m1 2h0m0-2h0m1-4h0m0 2h0m0 3h0m2 3h0m1-2h0m1 1h0m0-6h0m0 2h0m1 3h0m0-4h0m0 0h0m0 5h0m2-5h0m0 6h0m0-8h0m1 0h0m0 5h0m0-3h0m0-2h0m3 4h0m1-4h0m0 3h0m0 0h0m1 2h0m0-1h0m1 1h0m0 3h0m1-5h0m0 3h0m0 1h0m2 0h0m0 1h0m1-5h0m1-1h0m0 3h0m1-4h0m0 6h0m1-1h0m0-2h0m1 4h0m1-4h0m1-3h0m0 5h0m1-3h0m2 0h0m0 4h0m1 0h0m1-1h0m0-5h0m1 0h0m0 0h0m1 4h0m2 1h0m1 1h0m1-2h0m0-5h0m1 5h0m1 0h0m0-2h0m0 3h0m2-5h0m1-1h0m0 1h0m3 7h0m0-4h0m0 3h0m1-2h0m1-2h0m0 3h0m2 1h0m1-3h0m1-2h0m0 6h0m1-3h0m1-2h0m0 0h0m0 3h0m0-1h0m1 0h0m0 3h0m0-7h0m0 1h0m1-2h0m1 7h0m0-1h0m0 0h0m1-1h0m0 1h0m0 0h0m1 2h0m0-6h0m1 3h0m0-1h0m0 1h0m1-2h0m4 5h0m0-3h0m0 1h0m2-2h0m0-1h0m0-1h0m2 1h0m1-2h0m0 1h0m1 4h0m0-6h0m0 2h0m0 2h0m0 1h0m1-3h0m0-1h0m1 6h0m0-2h0m0-1h0m1 1h0m0-4h0m3 3h0m0-3h0m1 0h0m0 1h0m1 0h0m0-1h0m1 0h0m2-1h0m0 7h0m0-3h0m1-2h0m2 0h0m2 4h0m9-4h0m-175 8h0m0 3h0m2-4h0m1 6h0m3-3h0m1 0h0m0 1h0m0 1h0m0-6h0m3 2h0m1 1h0m1-1h0m0 2h0m1 1h0m0 2h0m2 0h0m1-3h0m0-3h0m4 3h0m1 1h0m0 0h0m1 2h0m0-1h0m1-4h0m0 2h0m0 4h0m1-4h0m1-1h0m2 4h0m1-2h0m0 2h0m0-5h0m0 5h0m1-3h0m0 2h0m2-1h0m0-4h0m1 0h0m0 2h0m0-2h0m0 2h0m1 0h0m1-3h0m1 3h0m1 2h0m0 1h0m0-2h0m0-1h0m0 4h0m1-5h0m1 4h0m0 2h0m2-3h0m2-5h0m0 0h0m1 4h0m1 0h0m0-2h0m0 0h0m1 4h0m1-3h0m1 1h0m0-1h0m0 1h0m2 2h0m0-1h0m1 2h0m0-1h0m0 2h0m1-6h0m0 5h0m1-5h0m2 5h0m0-6h0m1 7h0m2 0h0m0-5h0m1-3h0m0 2h0m1-2h0m1 3h0m0-1h0m2 4h0m0 1h0m2-5h0m0-1h0m1 4h0m1-3h0m0 2h0m0 0h0m1 1h0m0-5h0m1 7h0m1-5h0m0 1h0m3-1h0m1 0h0m0 4h0m0 0h0m1-4h0m0-2h0m0 2h0m0 3h0m1 0h0m0-2h0m1-3h0m0 5h0m1 0h0m0-2h0m1 1h0m1-1h0m1 4h0m1-6h0m0 3h0m1 2h0m0-2h0m1-3h0m0 4h0m0-2h0m0 3h0m1-2h0m0 3h0m1-5h0m0 2h0m0 0h0m1-1h0m1-2h0m0 5h0m1-6h0m1 2h0m1 0h0m0 1h0m2 0h0m1 4h0m0-4h0m2 1h0m1 2h0m1-1h0m2 0h0m0-4h0m1 5h0m0-5h0m0 2h0m0-1h0m1 6h0m1-8h0m0 0h0m1 3h0m1 3h0m0-1h0m1-3h0m0-1h0m0 2h0m0 0h0m1 4h0m1-3h0m0 4h0m0-7h0m1 5h0m1-3h0m1 1h0m0-1h0m1-1h0m0-2h0m0 5h0m2-4h0m2 2h0m2 4h0m0-3h0m1-3h0m0 7h0m1-1h0m1-6h0m0 7h0m1-4h0m0 4h0m1-3h0m1-2h0m1 5h0m0-4h0m3 1h0m1 0h0m0 1h0m1-3h0m1 3h0m0-1h0m2 3h0m1-3h0m1-4h0m0 1h0m1-1h0m1 3h0m0 3h0m4-1h0m0-5h0m2 2h0m1 3h0m2-5h0m0 0h0m0 2h0m0 2h0m1-5h0m1 2h0m1 4h0m6-2h0m1 0h0m-154 8h0m4 0h0m0 2h0m3-6h0m2 7h0m0 1h0m0-5h0m1-1h0m1 0h0m0-1h0m2 3h0m2-2h0m2 4h0m1-5h0m1 1h0m0 3h0m1-4h0m0 2h0m0-2h0m1 7h0m0-4h0m0 4h0m0-1h0m0-6h0m0 7h0m0-4h0m1-1h0m2-2h0m0 2h0m0-2h0m0 7h0m1-6h0m1-2h0m1 7h0m0-1h0m1-5h0m0 5h0m1-4h0m0 1h0m2 3h0m3 2h0m1-7h0m0 4h0m1-2h0m0-1h0m0 3h0m0 2h0m0-4h0m1 4h0m0-5h0m0-1h0m2 1h0m2 3h0m0-1h0m0 2h0m1 2h0m1-7h0m0 0h0m1 6h0m0-2h0m1 3h0m2-1h0m1-6h0m0 4h0m2 3h0m0-1h0m1-3h0m0 3h0m1-3h0m0-1h0m2 1h0m0 2h0m0 2h0m0-2h0m0-3h0m1 3h0m1-2h0m0-4h0m1 8h0m0-5h0m0-1h0m0 3h0m1-4h0m1-1h0m1 0h0m1 4h0m0-4h0m0 1h0m1 7h0m0-1h0m1-3h0m0-1h0m0 0h0m0 2h0m0 2h0m1-2h0m1-1h0m0 3h0m2-4h0m0-3h0m0 4h0m0-3h0m1 2h0m1-2h0m1 1h0m2 0h0m0 2h0m1 0h0m1 1h0m1-4h0m1 7h0m0-6h0m1 0h0m3 5h0m1-4h0m0 1h0m1 3h0m1-2h0m0-4h0m0 6h0m1 1h0m1-5h0m0 5h0m2-7h0m0 3h0m1-3h0m0 5h0m1-2h0m0 1h0m2-1h0m0-2h0m0 6h0m1-4h0m1 2h0m0-4h0m1-1h0m1 6h0m0-6h0m1 5h0m1-3h0m1 0h0m0 4h0m0-1h0m1-1h0m0 1h0m1 0h0m0 0h0m2-6h0m0 0h0m0 6h0m3-2h0m1-3h0m0 4h0m0 0h0m0-3h0m1 4h0m1-6h0m0 4h0m0 1h0m2 1h0m1 0h0m0 1h0m1-6h0m0 5h0m0-5h0m0 3h0m1-3h0m1 2h0m0 5h0m2 0h0m0-5h0m1 4h0m0 0h0m2-5h0m1-1h0m1-1h0m0 7h0m1-1h0m0-3h0m1 2h0m0 2h0m3-4h0m5 2h0m0 0h0m1 0h0m1-2h0m2-3h0m4 0h0m1 2h0m3-1h0m3 1h0m-135 7h0m2 5h0m2-4h0m2 0h0m0 4h0m1-5h0m2 6h0m1-5h0m0 2h0m1-2h0m0 0h0m0 3h0m1 2h0m0-3h0m0 1h0m0-2h0m0 2h0m2-2h0m0 4h0m1-6h0m0 1h0m2 1h0m2-1h0m0 3h0m0-4h0m1 3h0m0-1h0m1 4h0m0 0h0m0-4h0m0 5h0m1-6h0m0 2h0m0 3h0m1-4h0m1 2h0m0-2h0m0 4h0m1-1h0m2-2h0m2 3h0m1-4h0m2 0h0m0 5h0m1-2h0m0-4h0m1 3h0m1 3h0m0-6h0m2 4h0m0 0h0m0-3h0m1 0h0m2 0h0m0 5h0m0-5h0m1-2h0m0 6h0m0-2h0m2-1h0m1-3h0m0 4h0m3-4h0m1 7h0m1-6h0m0 5h0m0-4h0m1 3h0m0-2h0m0-2h0m1-2h0m2 3h0m0 2h0m1-2h0m0-1h0m0-1h0m0 4h0m0-2h0m1 5h0m3-3h0m0 2h0m0 0h0m0 1h0m0-8h0m1 1h0m1-1h0m0 8h0m0-2h0m0-2h0m2 1h0m0-4h0m0 1h0m1 6h0m0-3h0m1 3h0m0-1h0m0-1h0m0-2h0m1 3h0m0-3h0m1-2h0m0 3h0m1 0h0m0 0h0m1-3h0m1-1h0m2 0h0m2 5h0m1-3h0m2 3h0m0-5h0m0 4h0m0 0h0m0 2h0m1 0h0m3-2h0m1-4h0m1 6h0m0-3h0m1 3h0m1-3h0m1-2h0m0-2h0m1 5h0m1 2h0m1-4h0m3-2h0m0 0h0m1 1h0m0 1h0m0-2h0m0 6h0m1-2h0m1-4h0m1 3h0m0-4h0m0 1h0m1 3h0m0 2h0m1 1h0m0 0h0m1-5h0m1 1h0m0 0h0m0 2h0m2-5h0m1 3h0m0 5h0m1-6h0m0 1h0m0 5h0m1-3h0m1-2h0m1 0h0m2-2h0m0 5h0m2-3h0m-107 8h0m9 4h0m3 0h0m1-4h0m2-2h0m0 1h0m0 2h0m4 0h0m1 2h0m1-3h0m0 0h0m1 0h0m0-1h0m0 3h0m0 0h0m1-3h0m2 4h0m0 1h0m1-1h0m0-5h0m2 2h0m0 3h0m0-5h0m1 5h0m0-3h0m0-3h0m0 2h0m1-1h0m0 4h0m2 3h0m0-4h0m0-1h0m0 0h0m3 4h0m1-1h0m0-4h0m0 1h0m0-1h0m1 4h0m0 0h0m1-4h0m1 5h0m0-6h0m1 0h0m0 6h0m0-3h0m0 0h0m3-3h0m0 2h0m1 1h0m1-3h0m0 4h0m0-1h0m1-1h0m0 1h0m0-1h0m3 5h0m0 0h0m1-7h0m0 1h0m1 4h0m0-2h0m2 2h0m0 0h0m0-2h0m1 0h0m0 3h0m0-5h0m0 1h0m0 2h0m0-2h0m2 4h0m3 1h0m0 0h0m1-2h0m1-4h0m2 1h0m0 3h0m1 1h0m0-7h0m1 4h0m0 3h0m0 1h0m1-4h0m1-2h0m1 1h0m0-1h0m0 5h0m1-5h0m0-2h0m1 3h0m0-2h0m2 5h0m1-6h0m2 1h0m3 0h0m1 5h0m0-1h0m1-4h0m0 4h0m0-2h0m0 2h0m1 1h0m1-4h0m1-2h0m0 3h0m1 3h0m1 0h0m0-5h0m1 5h0m0 2h0m1-7h0m0 3h0m0 1h0m3 0h0m2-4h0m0 5h0m1-3h0m1 4h0m0-5h0m1 2h0m1 3h0m2 1h0m1-6h0m1 5h0m1-2h0m0 2h0m1-3h0m1 3h0m0-3h0m7 2h0m-102 2h0m1 5h0m1 2h0m2-7h0m0 4h0m1-1h0m1 2h0m1-1h0m0 0h0m0-4h0m0 4h0m1 0h0m1-2h0m1-2h0m2 2h0m0 5h0m0-2h0m1-3h0m0 5h0m1-6h0m2 0h0m2 6h0m0-2h0m0 2h0m2-1h0m1 1h0m0-5h0m0-1h0m0 6h0m0-7h0m0 5h0m1-1h0m0-1h0m0-3h0m1 4h0m0-4h0m2 6h0m0-1h0m1-1h0m0 0h0m1-2h0m4 2h0m0-4h0m0 6h0m1-3h0m0-3h0m0 7h0m1-4h0m0 4h0m0-6h0m2 1h0m0-1h0m0 4h0m0 0h0m0-2h0m0 2h0m1 1h0m1-3h0m1 4h0m1 0h0m0-3h0m1-2h0m0 4h0m1-2h0m1-4h0m0 4h0m1 3h0m1-1h0m0-5h0m1 5h0m0 0h0m0-1h0m0-3h0m1-1h0m1 4h0m0-3h0m0 4h0m1-2h0m1 1h0m1 1h0m0-2h0m1 0h0m0-2h0m0-1h0m0 6h0m1-1h0m1-1h0m3-1h0m0 0h0m1-2h0m0 3h0m1 1h0m1 0h0m0-5h0m0 2h0m0 0h0m0 1h0m1 2h0m0-5h0m1 5h0m1-1h0m0 2h0m0-5h0m1-2h0m1 1h0m1 0h0m0 0h0m0 3h0m1-3h0m1 5h0m0-4h0m1-1h0m0 5h0m1-2h0m1 2h0m0 2h0m1-8h0m1 4h0m2 4h0m1-8h0m0 6h0m1-3h0m1 4h0m0-6h0m0 3h0m0-2h0m1 0h0m0 2h0m1 4h0m0 0h0m0-7h0m1 3h0m0 3h0m0-6h0m1 3h0m1 4h0m0-7h0m2 3h0m0-2h0m3 0h0m0 0h0m1 1h0m0 1h0m0-2h0m2 3h0m0 1h0m1-1h0m1-2h0m0-1h0m2 3h0m1 2h0m1-4h0m1-2h0m1 0h0m-95 9h0m3 2h0m2 2h0m0-5h0m7 1h0m1 0h0m4-1h0m0 0h0m0 1h0m0 4h0m1-5h0m2 1h0m1 0h0m1 1h0m1 4h0m3-5h0m0-2h0m1 7h0m1-3h0m1 1h0m0 2h0m5-2h0m3-2h0m1 3h0m0-1h0m1 1h0m0-4h0m1 4h0m0-4h0m0 2h0m0-1h0m0 4h0m1-4h0m0-1h0m0 6h0m1-4h0m0 2h0m1-5h0m0 6h0m0 0h0m1-3h0m0-3h0m0 5h0m0-2h0m1 3h0m1-4h0m1-2h0m1 4h0m1-2h0m1 1h0m1 1h0m0-2h0m2-2h0m0 2h0m1-2h0m1 4h0m2-1h0m1 4h0m0-3h0m1-2h0m0 0h0m1 0h0m0-1h0m1 3h0m1-2h0m1 4h0m0-2h0m0-5h0m0 5h0m1-4h0m0 6h0m3-1h0m1-3h0m1 5h0m0-2h0m2-1h0m0-5h0m0 8h0m1 0h0m0 0h0m1-5h0m2-2h0m0 6h0m1 0h0m1-5h0m0 5h0m1 1h0m1-6h0m2 6h0m0-1h0m0 1h0m1-6h0m1-1h0m1 3h0m1 1h0m2 1h0m0 1h0m0-6h0m2 0h0m0 1h0m2 4h0m4-3h0m-81 7h0m6 0h0m2-1h0m0 4h0m2-5h0m1 0h0m1 0h0m2 1h0m1 1h0m2 1h0m0 4h0m1-3h0m1 0h0m2 1h0m2 1h0m0-5h0m3 5h0m0-3h0m2-3h0m1 3h0m0-2h0m1 1h0m2 1h0m1 1h0m0-1h0m1 2h0m0 0h0m0-5h0m0 2h0m1 0h0m0 1h0m1-1h0m0 0h0m1 3h0m0-5h0m0 0h0m1 2h0m1 0h0m0 5h0m2-4h0m0 4h0m0 0h0m0-2h0m1-5h0m1 4h0m1-2h0m1-1h0m2 3h0m0-4h0m1 1h0m4 5h0m0-3h0m1-1h0m0 1h0m1-2h0m0 4h0m0-4h0m1 7h0m1-3h0m0 0h0m3-3h0m1-2h0m0 6h0m1-1h0m1-1h0m2-2h0m9 3h0m2-4h0m1 1h0m9-2h0m-55 8h0m4 8h0m6-8h0m2 2h0m2-1h0m1 3h0m4-2h0m5-1h0" stroke="#d98f2b" stroke-width="1.60" stroke-linecap="round" fill="none"/>
<path transform="scale(.5)" d="M243 68h0m-16 4h0m4 1h0m7 3h0m5-2h0m5-1h0m2 3h0m2-2h0m4 1h0m8-2h0m6 0h0m21 0h0m-84 10h0m5 0h0m2 1h0m3 0h0m0-2h0m2-2h0m1 4h0m2-4h0m4-1h0m1 4h0m1-1h0m0 0h0m5-2h0m1 2h0m2-6h0m1 7h0m0-1h0m2-6h0m1 4h0m6-1h0m1-2h0m0 3h0m1 1h0m2 1h0m0 1h0m1-2h0m1-1h0m0 0h0m2-1h0m0 5h0m2-3h0m0 1h0m1-6h0m0 6h0m0-4h0m1 2h0m0-3h0m1-1h0m1 5h0m2 1h0m3 0h0m1-1h0m2 3h0m0-3h0m1-2h0m0 4h0m6 0h0m1-6h0m2 2h0m5 3h0m5 2h0m-105 8h0m8-2h0m4 0h0m2 1h0m1 1h0m1-5h0m2 3h0m7 1h0m1-1h0m0 1h0m0-2h0m1-3h0m0 6h0m1-4h0m0-1h0m1-3h0m1 5h0m1-3h0m1 2h0m0 0h0m2-1h0m1 3h0m0-2h0m1-2h0m0 5h0m1-4h0m2-1h0m0 2h0m1-3h0m1 0h0m1 4h0m1-1h0m0-2h0m2 2h0m3 2h0m0 1h0m4-3h0m1-3h0m1 2h0m1 3h0m1-5h0m2 4h0m5-3h0m1 2h0m0 1h0m2-3h0m1 3h0m0 0h0m0 0h0m1-2h0m1 2h0m1-3h0m1 4h0m2-1h0m2 1h0m1 1h0m3 0h0m0-1h0m2-5h0m2 6h0m1-3h0m1 0h0m1-2h0m1 0h0m3 1h0m0 3h0m1 0h0m1 1h0m0 1h0m5-3h0m5-2h0m10 1h0m-119 11h0m9-4h0m1 0h0m2-2h0m1 6h0m0-1h0m1-2h0m0 4h0m1-5h0m0 2h0m3-5h0m3 3h0m1-1h0m1 1h0m0-2h0m2 4h0m1 3h0m1-3h0m3 0h0m0-2h0m3-1h0m3 3h0m1-2h0m0-1h0m1 5h0m2-3h0m1-1h0m3-2h0m1 4h0m0 1h0m2-1h0m0 0h0m3-4h0m1 5h0m1-1h0m3 2h0m1-5h0m2 5h0m2-4h0m4 2h0m0-4h0m4 5h0m1-2h0m0 1h0m1-3h0m0 6h0m2-3h0m0 1h0m1 0h0m1 1h0m1-1h0m2 1h0m2-6h0m2 5h0m5-3h0m5-1h0m1 5h0m4 0h0m0-3h0m1 3h0m2-7h0m0 2h0m1 5h0m2-5h0m1 1h0m1-1h0m1 3h0m1-1h0m0 2h0m2-3h0m1 1h0m1 4h0m0-1h0m2-7h0m0 4h0m2-1h0m1-2h0m1 0h0m6 0h0m2 6h0m0-2h0m-124 11h0m0-3h0m1-4h0m0 3h0m2-3h0m5 3h0m1-1h0m3 1h0m3-3h0m2-1h0m1 2h0m1 1h0m1 1h0m3-3h0m1 0h0m5 1h0m0 1h0m4 4h0m2-6h0m3-1h0m0 4h0m0 0h0m1 1h0m0-3h0m2 0h0m4 4h0m3-6h0m2 5h0m2 2h0m0 1h0m1-2h0m0 0h0m0-1h0m4-3h0m1 5h0m0-3h0m1 3h0m0-6h0m1 4h0m1 1h0m0-5h0m0 1h0m1 2h0m1 3h0m0-7h0m1 3h0m2 5h0m1-7h0m2 2h0m2 5h0m2-2h0m0 0h0m1 0h0m3-5h0m1 4h0m1-3h0m2-1h0m4 1h0m0 5h0m0-2h0m2 1h0m2-1h0m0-1h0m0 3h0m4-6h0m0 1h0m1 1h0m1 0h0m2 0h0m2 2h0m0 2h0m3-4h0m0 2h0m0 1h0m1-2h0m3-2h0m0-2h0m1 7h0m2 1h0m4 0h0m1-2h0m1-2h0m1 3h0m2-5h0m0 3h0m4-4h0m-130 14h0m1-2h0m4-4h0m5 7h0m1-6h0m1 5h0m1-3h0m0 2h0m1-1h0m5 1h0m2 1h0m0-4h0m1 4h0m1-1h0m0-4h0m0 4h0m3-5h0m0 4h0m1-2h0m1 0h0m1 4h0m2-1h0m0-5h0m0 5h0m1-3h0m1-1h0m1 5h0m1-7h0m1 7h0m0-3h0m2 2h0m0 2h0m2-2h0m1-4h0m1 5h0m0-6h0m1 6h0m0-3h0m0-2h0m2 4h0m0-2h0m1 3h0m4 0h0m0-2h0m1-4h0m3 5h0m1 1h0m2 1h0m1-3h0m0 3h0m1 0h0m0-5h0m1-2h0m1 4h0m1 0h0m2 3h0m3-8h0m1 7h0m2-2h0m1-2h0m1 1h0m1 0h0m1 1h0m1 0h0m4-3h0m0 4h0m1-4h0m0 5h0m1-5h0m1 3h0m1-3h0m0 5h0m0-6h0m1 1h0m0 2h0m3 1h0m1-5h0m1 6h0m1-6h0m1 3h0m0 3h0m2-6h0m1 7h0m1-2h0m3 0h0m2 1h0m2-5h0m0 2h0m1 0h0m0 3h0m0 1h0m3-7h0m0 4h0m4 2h0m0-4h0m2 1h0m1-1h0m4 5h0m6-4h0m2 2h0m1-1h0m2 1h0m-123 10h0m2 0h0m2-2h0m1-1h0m0-3h0m0 3h0m2-3h0m1 2h0m0-1h0m1 0h0m0-1h0m0 5h0m3-4h0m0 1h0m2-2h0m0 4h0m1-3h0m3 6h0m0-3h0m1 3h0m3-2h0m2-6h0m0 8h0m2-2h0m3-5h0m1 3h0m4 2h0m1-3h0m3 3h0m2-5h0m0 5h0m4 0h0m1-5h0m1 3h0m3 1h0m0-4h0m1 3h0m0-3h0m1 7h0m0-1h0m5-4h0m1 4h0m1-5h0m0 1h0m3 4h0m4-1h0m0-6h0m1 2h0m0 6h0m1-3h0m1 1h0m1-1h0m0 1h0m1-4h0m2 3h0m1 2h0m1 0h0m1-2h0m1-4h0m0-1h0m0 1h0m1 4h0m4-4h0m2 1h0m3 3h0m2-3h0m2 2h0m3 1h0m2-3h0m5 4h0m2-5h0m0 3h0m4-3h0m1 2h0m1-1h0m0 1h0m0-1h0m2 5h0m3-7h0m4 6h0m1-5h0m1 5h0m2 0h0m2-4h0m5 1h0m-131 13h0m2-8h0m1 8h0m0-5h0m1 5h0m2-7h0m0 0h0m0 1h0m2 1h0m1 1h0m1-4h0m1 5h0m1 2h0m1 0h0m0-7h0m3 0h0m1 2h0m0 6h0m1-8h0m6 2h0m0 2h0m1 1h0m1-1h0m1-1h0m0 4h0m3-3h0m3-1h0m2 1h0m1-3h0m0 1h0m2 5h0m1-2h0m1-2h0m1-2h0m0 4h0m0 3h0m1-8h0m1 6h0m0-2h0m2-1h0m0 1h0m2-3h0m0 5h0m1 0h0m0-1h0m3 1h0m1 0h0m1-5h0m0 2h0m2-1h0m1 4h0m1-2h0m2-4h0m0 3h0m1-3h0m2 7h0m0-4h0m2 2h0m1-3h0m2 5h0m1-2h0m3 2h0m3 1h0m1-1h0m0-4h0m1 2h0m0-4h0m1 6h0m3 0h0m1-5h0m0-2h0m4 5h0m0-3h0m0 6h0m2-5h0m0-2h0m2 7h0m2-7h0m4 0h0m0 5h0m0-3h0m1-1h0m0 1h0m0 2h0m1 2h0m1-3h0m2 1h0m3-2h0m1 0h0m1-2h0m0 1h0m1 6h0m1-2h0m0-2h0m4 1h0m1 1h0m1-4h0m3 2h0m1-1h0m2 4h0m0-5h0m0 0h0m2 2h0m0-2h0m0 3h0m0-1h0m1 3h0m1-4h0m0 4h0m0-3h0m1 1h0m1 1h0m0 1h0m2-2h0m2-3h0m0 2h0m12-2h0m-142 13h0m1-2h0m1-1h0m2-2h0m1 6h0m0-3h0m2-5h0m1 4h0m1 3h0m0-5h0m1-1h0m0 2h0m1-3h0m0 6h0m2 0h0m0-3h0m2 2h0m0-3h0m2 4h0m3-2h0m0-3h0m1 6h0m1-4h0m0 3h0m0-1h0m1 1h0m1 0h0m0-2h0m0 2h0m1-6h0m0 5h0m1-1h0m0-3h0m1 6h0m3-2h0m1-3h0m5 2h0m0-4h0m1 0h0m1 7h0m0-1h0m1-6h0m0 2h0m1-2h0m2 5h0m4-1h0m0-3h0m1 4h0m0 0h0m3-1h0m1-4h0m2 4h0m0 4h0m0-3h0m0-2h0m1 0h0m1 4h0m2-5h0m1 4h0m1 0h0m2 1h0m1 0h0m0 0h0m0-6h0m3 6h0m3 1h0m1-7h0m0 4h0m0-1h0m0 2h0m4 1h0m1-4h0m3-1h0m1 4h0m1 1h0m1 1h0m1-8h0m1 2h0m7 4h0m1-5h0m0 6h0m3-2h0m0-1h0m2 4h0m2-6h0m1 3h0m0 0h0m0-4h0m0 1h0m0 3h0m1-3h0m1 6h0m0-3h0m3-5h0m1 3h0m0-3h0m2 1h0m2 6h0m2-6h0m2 5h0m1-4h0m1 2h0m2 2h0m1-1h0m0-5h0m1 3h0m5-2h0m0 2h0m2-2h0m0 6h0m1-2h0m1-3h0m4-2h0m1 4h0m-132 9h0m1-1h0m0-1h0m1 3h0m1-5h0m0 4h0m1-2h0m2-1h0m0 3h0m5-2h0m0-2h0m1 3h0m0-4h0m2 6h0m1 0h0m2-6h0m4 0h0m0 3h0m1 4h0m3 0h0m0 0h0m1-6h0m1 1h0m1-2h0m2 1h0m2 0h0m1 5h0m2-2h0m0 3h0m1 1h0m3-5h0m1-2h0m1 6h0m1-2h0m1-3h0m0 3h0m1-1h0m1-3h0m1-1h0m1 4h0m2 2h0m1-6h0m2 4h0m0 2h0m2-5h0m1 1h0m2 0h0m7 0h0m6 4h0m5-1h0m0-3h0m2 4h0m3 0h0m0 0h0m1-3h0m0-2h0m1 1h0m3 6h0m3-1h0m0-1h0m0 1h0m0 0h0m4-5h0m2-2h0m0 2h0m0 5h0m1-5h0m2 4h0m0 1h0m2-5h0m0-1h0m1 3h0m0 4h0m1-7h0m2 1h0m1-1h0m1 4h0m3-5h0m0 6h0m0 0h0m1-3h0m1 3h0m1 1h0m0-1h0m1-5h0m0 2h0m1-3h0m1 3h0m0-3h0m4 7h0m1-6h0m1 0h0m0 5h0m0-2h0m2 3h0m5-2h0m0 2h0m5-7h0m0 1h0m4 1h0m-139 14h0m9-3h0m1 1h0m1 0h0m0 0h0m3-6h0m0 3h0m0 3h0m1 1h0m0-5h0m1 0h0m1-1h0m0 4h0m2 2h0m1-1h0m1-2h0m0 1h0m1-2h0m0 1h0m1-4h0m2 8h0m2-8h0m1 3h0m0-2h0m1 5h0m5-5h0m2 7h0m0-1h0m1-7h0m1 4h0m1-2h0m0 2h0m1 3h0m0-6h0m2 0h0m0 7h0m1-4h0m2 1h0m0 1h0m1-1h0m2 0h0m0 2h0m1-1h0m1 1h0m1-5h0m3-2h0m1 7h0m1 1h0m1-7h0m3 7h0m1-6h0m2 0h0m2 3h0m3-1h0m1 1h0m0-1h0m1 0h0m0-1h0m0 3h0m0-4h0m2 5h0m2-6h0m1 6h0m1-5h0m1 3h0m1-3h0m3 0h0m1 0h0m4 5h0m0-5h0m1 0h0m1-1h0m1 2h0m1-1h0m0 3h0m1 2h0m0-4h0m1-1h0m1 3h0m0 1h0m2-5h0m4 6h0m1 0h0m1-6h0m1 0h0m0 1h0m1 0h0m0 0h0m1 3h0m1-5h0m5 8h0m2-3h0m0 0h0m1 1h0m5 2h0m0-2h0m1 2h0m0-4h0m1 2h0m1-4h0m0 2h0m0-3h0m1-1h0m4 7h0m0-1h0m0-5h0m2 4h0m1-3h0m0 6h0m1-3h0m0-2h0m0 5h0m1-7h0m1 1h0m0 5h0m2-1h0m1-6h0m0 2h0m-130 10h0m5 2h0m0-3h0m1-2h0m1 0h0m1-1h0m3 3h0m1 5h0m0-1h0m1-6h0m2 3h0m1-2h0m5-2h0m1 4h0m1-4h0m1 7h0m1-3h0m2 0h0m2 0h0m2 3h0m1-3h0m2 0h0m0 2h0m1-1h0m0 2h0m2-4h0m6-2h0m0 5h0m1-4h0m0 1h0m1-1h0m1-1h0m2 0h0m1 0h0m2 1h0m0 2h0m3-1h0m0 4h0m2-1h0m0-2h0m2 0h0m2 4h0m0-5h0m1-1h0m1 1h0m0 1h0m1-2h0m1-2h0m1 1h0m4 0h0m2 0h0m1 5h0m1-6h0m1 6h0m0-1h0m3 1h0m1-4h0m2 3h0m0-3h0m1-1h0m0-1h0m0 2h0m2 1h0m2 5h0m4-6h0m0 5h0m1-3h0m1-1h0m0 4h0m1-2h0m0-4h0m0 5h0m5-2h0m0 1h0m2-2h0m0 1h0m1-3h0m0 1h0m0-2h0m2 2h0m3 4h0m0-2h0m3-2h0m0 2h0m1-1h0m1 2h0m1 0h0m1 1h0m1-1h0m2-5h0m7 5h0m2 2h0m1 0h0m1 1h0m1-7h0m1 2h0m-122 9h0m2-3h0m2 5h0m5-4h0m6 1h0m0 0h0m1 1h0m0-1h0m1 3h0m0-5h0m1 1h0m1-2h0m0 5h0m3 0h0m2-2h0m2 5h0m0-7h0m1 0h0m2 5h0m0-3h0m7-2h0m1 0h0m1 4h0m3-3h0m2-2h0m3 1h0m1 3h0m1-4h0m0 3h0m0-3h0m4 8h0m1-1h0m5 1h0m0-7h0m3 3h0m0 4h0m3-5h0m2 0h0m1 1h0m3 0h0m4 2h0m0-4h0m1 0h0m1 5h0m0-4h0m6-1h0m2 4h0m2-4h0m2 1h0m0 3h0m2 2h0m2 0h0m1-4h0m0-3h0m2 2h0m1 3h0m1 1h0m0-3h0m1-3h0m2 2h0m0 1h0m1-4h0m0 2h0m1-1h0m1-1h0m1 0h0m1 4h0m1-3h0m1 6h0m3-4h0m1 1h0m2 0h0m1 2h0m2 0h0m4 1h0m0-1h0m4-2h0m4 4h0m2-1h0m10-2h0m-135 6h0m8-1h0m1 0h0m9 1h0m1-1h0m28 5h0m5-7h0m12 1h0m2-1h0m1 1h0m2 4h0m12-1h0m0-3h0m1-1h0m2 0h0m4 3h0m11 0h0m1 0h0m1-2h0m1 1h0m1 1h0m2 0h0m4-3h0m0 1h0m1 5h0m0 1h0m2 1h0m2-4h0m2 0h0m3 1h0m6 1h0m0-1h0m-26 5h0m11 4h0m4-5h0m7 3h0" stroke="#e86b6b" stroke-width="1.60" stroke-linecap="round" fill="none"/>
<path transform="scale(.5)" d="M257 4h0m-6 3h0m2 2h0m1 2h0m2-2h0m0-2h0m6 1h0m-43 10h0m14-6h0m0 6h0m3 1h0m0-3h0m3 2h0m0-4h0m1 6h0m0-6h0m1 2h0m0 3h0m0-1h0m4-4h0m0 6h0m0-7h0m0 1h0m2 3h0m0 0h0m2 0h0m1 1h0m1-1h0m1 2h0m2 1h0m0-1h0m1-3h0m3 4h0m0-4h0m2 3h0m1-1h0m8-1h0m1 3h0m-61 6h0m9 1h0m0-4h0m1-1h0m7 1h0m0 5h0m0 0h0m1-2h0m2-5h0m0 1h0m1 5h0m1 0h0m0-2h0m1-4h0m0 4h0m1-3h0m1 3h0m2-4h0m1 6h0m1-4h0m0-3h0m1 3h0m0-1h0m1 2h0m0-1h0m1-1h0m2-2h0m0 1h0m1 3h0m1 1h0m1 2h0m1-7h0m1 6h0m1 0h0m2-3h0m0 5h0m2-4h0m0-3h0m1 5h0m0-4h0m1 4h0m0 0h0m0 1h0m0-4h0m0 5h0m0-3h0m0-1h0m1 2h0m0-6h0m1 6h0m0-2h0m1 4h0m0-6h0m1 0h0m0 1h0m0-2h0m0 4h0m0 1h0m1-4h0m0 0h0m2 5h0m0-3h0m5 2h0m7 0h0m-78 10h0m7-4h0m5 2h0m4-4h0m1 0h0m1 3h0m0-2h0m2 4h0m1-2h0m1-1h0m3-1h0m0 5h0m0-5h0m1 0h0m1-3h0m0 6h0m1 0h0m0 0h0m1-4h0m0 3h0m1-1h0m0-3h0m0 5h0m1-2h0m1-3h0m0 2h0m2 4h0m0-3h0m1-2h0m1 2h0m0-4h0m1 1h0m1 5h0m0-5h0m1 7h0m1-6h0m0 6h0m0-2h0m2-5h0m1 5h0m1-3h0m1 1h0m1-3h0m1 2h0m1-2h0m0 3h0m1-3h0m2 1h0m1 6h0m1 0h0m1-1h0m0 0h0m1 0h0m1-6h0m0 0h0m0 4h0m2-3h0m1 5h0m0-5h0m1 4h0m1 1h0m1-3h0m0 0h0m4 1h0m0-1h0m0 1h0m1 3h0m0-7h0m0 7h0m0-1h0m1 0h0m1 0h0m0-4h0m1 2h0m1 2h0m0-1h0m1-4h0m0 3h0m3 2h0m1 1h0m2-7h0m3 6h0m-87 7h0m2 1h0m2 0h0m0 0h0m2-1h0m2 2h0m1-7h0m2 3h0m1-3h0m3 5h0m0-5h0m1 4h0m1-2h0m1 5h0m5-4h0m1 1h0m2-2h0m2 1h0m0-2h0m2 2h0m2 1h0m1-3h0m0-2h0m0 5h0m0-4h0m1 2h0m1 5h0m0-2h0m0-4h0m0 1h0m0 4h0m1-4h0m0 2h0m0-2h0m1-2h0m0 1h0m1 5h0m2-3h0m1-3h0m0 1h0m0 3h0m0-5h0m0 3h0m1 4h0m1-7h0m0 8h0m1-4h0m1 1h0m0-2h0m0 3h0m0-3h0m1-2h0m1 4h0m1-2h0m1-1h0m0 1h0m0 0h0m2 4h0m0-4h0m0 3h0m1 1h0m1-6h0m1 6h0m0-2h0m0-4h0m1 7h0m1-2h0m0-2h0m1 4h0m1-3h0m0-1h0m0 4h0m0-5h0m1 2h0m0 2h0m0-4h0m2-1h0m1 4h0m0-1h0m0-5h0m0 4h0m0 1h0m2-2h0m0 5h0m1-1h0m0 0h0m1-4h0m0-2h0m1 6h0m1-4h0m0 1h0m1-2h0m0 2h0m1 1h0m1 0h0m0 0h0m1-4h0m0 7h0m1-1h0m1-2h0m1-5h0m1 3h0m2 4h0m0-4h0m0-2h0m2 7h0m1-5h0m0 2h0m2-4h0m0 6h0m1-1h0m0-1h0m-86 11h0m2 0h0m4-6h0m0 6h0m0-5h0m1 0h0m3 2h0m1-5h0m2 6h0m0 0h0m2 0h0m0-1h0m0-1h0m3-1h0m0 1h0m1 1h0m0 2h0m0-6h0m1 0h0m0 3h0m1 3h0m1-1h0m0-4h0m1 4h0m2 1h0m0-1h0m1-5h0m0 3h0m2 0h0m1-3h0m0 4h0m0 0h0m1 3h0m0-4h0m1-2h0m1-2h0m0 1h0m0 3h0m0 0h0m1 1h0m1 2h0m0-1h0m0-3h0m1-3h0m0 3h0m1-1h0m0 5h0m1 0h0m0-3h0m0 1h0m1-5h0m0 8h0m0-5h0m0 1h0m1-1h0m2 2h0m1 3h0m0-4h0m0-2h0m1 0h0m0 5h0m1-5h0m0 3h0m0-4h0m0 1h0m0-2h0m1 7h0m0-3h0m0 2h0m0-3h0m0 3h0m0-3h0m1 4h0m0 1h0m1-2h0m0 1h0m1 0h0m0 0h0m2-1h0m0-1h0m1 0h0m0 1h0m1 1h0m2-7h0m1 8h0m0-6h0m0 4h0m0 1h0m1 0h0m0-2h0m1 1h0m0-2h0m0 2h0m1-3h0m0 2h0m1 2h0m0-6h0m0 5h0m0-3h0m0 4h0m1 1h0m1-7h0m0-1h0m1 7h0m0 0h0m1-6h0m0 5h0m0-3h0m1 4h0m1-2h0m0-2h0m0 2h0m0-2h0m1 3h0m1-2h0m0-1h0m1-1h0m1 1h0m1 5h0m0-8h0m0 0h0m0 4h0m0 2h0m0-1h0m2-4h0m3 1h0m0-1h0m1 6h0m1-3h0m0 0h0m2-4h0m1 1h0m0 1h0m1 0h0m3 4h0m5 2h0m-104 6h0m7-3h0m4 0h0m2 2h0m5 3h0m1-5h0m1 3h0m0 2h0m1-4h0m1 3h0m1-3h0m1 2h0m1-1h0m1-1h0m0 3h0m0-5h0m1 4h0m0-6h0m0 4h0m0 0h0m0 4h0m1-8h0m0 3h0m1 0h0m1-1h0m0 5h0m1-6h0m1 3h0m0 3h0m0-2h0m1 0h0m1-3h0m0 3h0m0 3h0m0-7h0m2 5h0m0-4h0m1 5h0m0 0h0m2 1h0m0-7h0m0 1h0m0 1h0m1 2h0m2-4h0m0 1h0m2 4h0m1-4h0m0 5h0m1-3h0m0-3h0m0 3h0m1-3h0m2 7h0m1-3h0m0-4h0m1 0h0m0 3h0m1 1h0m1-2h0m1 2h0m0-1h0m0-4h0m1 3h0m0 4h0m0 0h0m1-5h0m0 0h0m0 0h0m1 6h0m0-2h0m1-1h0m0-4h0m0 3h0m1-4h0m1 5h0m1-1h0m1-3h0m0 5h0m0-6h0m0 7h0m2-4h0m0-2h0m0 1h0m0 3h0m0 1h0m1-5h0m0 6h0m1-5h0m0 4h0m0 0h0m1-4h0m3 4h0m0 2h0m0-5h0m1-1h0m0 4h0m1 1h0m1-6h0m1-1h0m0 5h0m1-5h0m0 3h0m1-2h0m1 3h0m1 1h0m1-5h0m0 6h0m1 1h0m1 1h0m0-6h0m2 6h0m0-6h0m3 5h0m0-1h0m2-4h0m0-1h0m0 5h0m1 1h0m1 1h0m0-4h0m1 3h0m1-6h0m1 5h0m1-4h0m0-1h0m0 7h0m1-6h0m0 4h0m1-1h0m1 2h0m1-1h0m0-2h0m0-1h0m1 3h0m2-6h0m7 4h0m-102 7h0m2 0h0m2-1h0m1 3h0m0-1h0m1 0h0m0 3h0m3-4h0m1-2h0m0 3h0m0 1h0m2-3h0m1-2h0m0 4h0m0-1h0m1 2h0m2 2h0m0 0h0m1-6h0m0-1h0m2 1h0m0 7h0m2 0h0m0-2h0m1 2h0m0-5h0m0 2h0m1 0h0m1-4h0m0 4h0m1-2h0m0 3h0m1 2h0m1-2h0m2 0h0m1-1h0m0 0h0m0-4h0m2 0h0m1 3h0m1-4h0m1 2h0m2 4h0m0-3h0m1 0h0m0 1h0m0-2h0m1 2h0m1 3h0m0-3h0m0-2h0m0 0h0m1 1h0m1 2h0m1 0h0m1 0h0m1-2h0m1 1h0m1-2h0m0 2h0m1 1h0m0 3h0m0-3h0m1 0h0m1 0h0m0 0h0m0 0h0m1-2h0m1 0h0m0-2h0m1 5h0m1-4h0m0 4h0m0 1h0m1-5h0m0 3h0m2-5h0m1 0h0m0 7h0m1-4h0m1-2h0m0-1h0m0 4h0m1-3h0m2 4h0m2 0h0m0-3h0m0 1h0m0 2h0m0 2h0m2 1h0m0-4h0m0 2h0m1 0h0m0-3h0m0-3h0m2 2h0m1 5h0m0-4h0m1-1h0m1 0h0m0 5h0m1-2h0m0-3h0m1 0h0m0 5h0m1-5h0m0 3h0m0 0h0m0-2h0m1 2h0m1 2h0m2-7h0m0 7h0m1-1h0m1-2h0m0 2h0m2-2h0m0 3h0m2-5h0m2 2h0m0-4h0m1 2h0m-87 14h0m1-6h0m3 5h0m0-2h0m1 2h0m1-1h0m0 2h0m3-3h0m1 1h0m0-4h0m1-2h0m1 6h0m1-6h0m0 4h0m1 4h0m0-4h0m0 1h0m0 0h0m1 3h0m1-7h0m2 1h0m0 5h0m1-1h0m1-3h0m0-1h0m0 3h0m1-5h0m0 3h0m1 1h0m0-1h0m0 1h0m0 3h0m1-7h0m1 6h0m0 2h0m0-6h0m0-1h0m0 4h0m2 1h0m1-3h0m1 1h0m0-3h0m1 5h0m0-2h0m0 0h0m0 4h0m1-1h0m0-7h0m0 3h0m1 2h0m0 2h0m1-5h0m0 2h0m2 0h0m1-1h0m0 0h0m1 1h0m0 0h0m1 2h0m1-4h0m0 1h0m1-2h0m1 2h0m0 5h0m0-1h0m0-1h0m2 0h0m1-4h0m1 2h0m0 1h0m1-4h0m1 1h0m0 2h0m2-3h0m1 2h0m1-1h0m2 1h0m1-1h0m1 3h0m1-2h0m0 0h0m2-2h0m6-1h0m1 5h0m1 1h0m3-6h0m3 3h0m4-1h0m0 2h0m2-1h0m0 0h0m0-2h0m6 0h0m2 2h0m5 0h0m-88 12h0m1-4h0m1-1h0m0 1h0m0 0h0m1-2h0m1 6h0m2-5h0m1 3h0m0 3h0m0-7h0m1 3h0m0-3h0m2 5h0m0-1h0m1-1h0m1 1h0m2 0h0m0-1h0m0 0h0m0 2h0m0-2h0m2 1h0m0-4h0m2 2h0m3 3h0m0-3h0m1-2h0m2 0h0m1 3h0m0 0h0m3 4h0m5-5h0m0-3h0m4 2h0m0 4h0m3-5h0m0 3h0m10-3h0m3 6h0m7-5h0m1-1h0m3 0h0m5 0h0m-72 8h0m1 3h0m7 3h0m0-2h0m1-4h0m1 6h0m3-6h0m4 1h0m3-1h0m6-1h0m0 8h0m2-6h0m0 2h0m2 1h0m4 1h0m5-4h0m1 0h0m0 3h0m9-5h0" stroke="#a6a8d2" stroke-width="1.60" stroke-linecap="round" fill="none"/>
<path transform="scale(.5)" d="M314 227h0m5 1h0m-48 5h0m22-5h0m2 6h0m6-1h0m3 2h0m1-3h0m2 3h0m0 0h0m2 0h0m0 0h0m6-6h0m0 3h0m3 0h0m1-2h0m4 4h0m5-4h0m1 6h0m1-3h0m-74 8h0m13 0h0m6 2h0m1-4h0m3 1h0m8 3h0m1 0h0m3-2h0m2 2h0m1-2h0m1-2h0m0 1h0m3-4h0m2 4h0m1 0h0m2 1h0m0 0h0m1-5h0m2 5h0m1 1h0m0-2h0m2-2h0m0 0h0m2-2h0m4 3h0m0 3h0m1-3h0m0 0h0m3 2h0m2 0h0m1 1h0m1-1h0m0-2h0m1-2h0m1 6h0m0-4h0m1 4h0m0-6h0m1-1h0m3 4h0m1 1h0m-75 8h0m10-2h0m0 3h0m2 0h0m4-1h0m6-4h0m1 2h0m4 2h0m3 0h0m2-2h0m1 2h0m0 1h0m1 1h0m2-2h0m2 0h0m2 0h0m1 0h0m1-5h0m3 8h0m1-2h0m0-2h0m1 2h0m0 0h0m0-4h0m1-1h0m0 5h0m0-4h0m1 0h0m3 2h0m1-4h0m2 2h0m3 2h0m2-4h0m1 0h0m0 4h0m1 0h0m1 2h0m4 2h0m1-1h0m1-2h0m2-1h0m2 0h0m2 1h0m0 0h0m18 2h0m-106 4h0m6 5h0m1-3h0m3 0h0m1-4h0m1 6h0m1-3h0m1 4h0m3-3h0m0 0h0m2 0h0m1 0h0m0-5h0m3 2h0m4 3h0m2-3h0m2 5h0m1 1h0m0-8h0m2 4h0m2-2h0m2 4h0m0 0h0m4 0h0m1 1h0m1-3h0m0 4h0m1-6h0m0 1h0m1 3h0m0-5h0m1 5h0m3-2h0m2-3h0m5 3h0m2 1h0m1-2h0m0 3h0m0 0h0m1 0h0m1-2h0m1 2h0m0 0h0m0-2h0m0 0h0m1 3h0m0-1h0m1-3h0m2-2h0m0 5h0m1 0h0m0-2h0m0 0h0m0 2h0m1 1h0m1-6h0m0 3h0m2 1h0m4-1h0m0 2h0m4-2h0m1-1h0m1 0h0m5 5h0m2-7h0m4 1h0m-101 10h0m2 2h0m1 0h0m2-4h0m0 3h0m0 2h0m0 1h0m2-1h0m0-2h0m2-3h0m0 2h0m0 3h0m2-2h0m1-4h0m0 3h0m3 3h0m2-5h0m0 2h0m3-1h0m0 3h0m2-2h0m3 0h0m0 0h0m0 0h0m1 2h0m2-2h0m1-2h0m0 5h0m3-3h0m0 1h0m2 0h0m1-1h0m0 1h0m1-2h0m2-1h0m1 5h0m1-3h0m2 0h0m2 3h0m3-2h0m1 2h0m2-2h0m1 1h0m0-4h0m0 3h0m1 3h0m3-7h0m0 6h0m2-4h0m1 2h0m2 1h0m1-3h0m1 1h0m0 3h0m0-7h0m2 4h0m1 3h0m0-6h0m1 0h0m0 1h0m2 3h0m2 0h0m0 1h0m2-4h0m0 4h0m1-2h0m1 3h0m1-4h0m2 3h0m1-2h0m1-2h0m1 3h0m2 3h0m1-1h0m0-7h0m1 3h0m1-3h0m1 2h0m2 2h0m0-2h0m2 4h0m2-3h0m2 2h0m1-3h0m0 3h0m2-3h0m0 5h0m1-1h0m0 0h0m0-5h0m1 3h0m0-3h0m0 6h0m1 1h0m4-4h0m-105 12h0m2-2h0m2 1h0m1-3h0m1 3h0m0 1h0m1-3h0m1 1h0m0-4h0m2 0h0m3-2h0m1 6h0m1 2h0m2-5h0m1 1h0m2-2h0m1 2h0m0-1h0m1 1h0m0 3h0m2-3h0m2 0h0m3-2h0m5-2h0m2 1h0m1 2h0m0-1h0m2-2h0m0 6h0m2 1h0m4-5h0m2 6h0m5-5h0m1-2h0m1 5h0m1-6h0m0 5h0m0 2h0m4-2h0m1-3h0m1 2h0m0-3h0m2 0h0m0 7h0m2-6h0m1 3h0m1 2h0m0-4h0m1 3h0m1 1h0m1-1h0m5-1h0m1-1h0m1 0h0m0 4h0m3-7h0m1 4h0m0-1h0m1 4h0m0-5h0m5 3h0m2 0h0m0 1h0m1-2h0m4 0h0m2 0h0m2-5h0m5 6h0m1 2h0m-99 5h0m1 1h0m2-3h0m0 0h0m3 0h0m1 2h0m1-1h0m1-1h0m1-2h0m0 2h0m1-2h0m2 3h0m1 0h0m0-1h0m2 2h0m1 1h0m0-1h0m1 1h0m0-5h0m3 6h0m0-7h0m2 4h0m0 0h0m3-2h0m0 2h0m1 2h0m1-6h0m0 1h0m0 0h0m0 2h0m2-2h0m1 3h0m2 2h0m5 0h0m2-5h0m2 5h0m1-3h0m1 5h0m1-7h0m1 6h0m1-3h0m5-2h0m1 3h0m0 2h0m1 1h0m0-6h0m1 1h0m1 0h0m0-2h0m2 2h0m1 1h0m0-2h0m1-1h0m0 1h0m1 2h0m0 4h0m2-7h0m0-1h0m2 1h0m2 3h0m2-1h0m0-1h0m1 5h0m0-1h0m2-4h0m5 1h0m0-1h0m2-2h0m1 7h0m1-5h0m3 2h0m0 1h0m0-1h0m1-3h0m2 6h0m1 1h0m0-2h0m3 0h0m1 2h0m-97 3h0m5 1h0m0 4h0m0-3h0m2 1h0m1-4h0m0 2h0m5-3h0m1-1h0m1 3h0m1 5h0m1-6h0m5 4h0m1-6h0m0 1h0m1 6h0m0-5h0m1 1h0m1 2h0m0-4h0m1 0h0m1 0h0m1 1h0m1 1h0m0-2h0m4 6h0m3 0h0m1-7h0m2 3h0m1-2h0m0 0h0m1 0h0m0 1h0m2 2h0m0-1h0m1-2h0m1 5h0m0 2h0m1 0h0m0-6h0m2 1h0m0-2h0m1 7h0m0-2h0m1 0h0m1 2h0m0-7h0m1 2h0m0 4h0m1-1h0m1 0h0m0-6h0m1 6h0m0-3h0m1 4h0m4-2h0m0-4h0m3 6h0m0-3h0m2 4h0m3-5h0m2 2h0m1-2h0m4 2h0m2-1h0m2-1h0m0 1h0m5 0h0m0 3h0m1-2h0m0 1h0m1-5h0m5 0h0m1 3h0m0 4h0m1-7h0m3 1h0m0-1h0m4 1h0m4 3h0m-103 5h0m1 2h0m4-2h0m1 5h0m1-1h0m2-2h0m1-1h0m0-1h0m1-1h0m2 2h0m1 0h0m2 1h0m1-2h0m0 3h0m1 2h0m0-4h0m1 4h0m3-3h0m2 3h0m2-1h0m3-3h0m1 2h0m0-2h0m0 1h0m0 0h0m2-3h0m2 5h0m0 1h0m1 0h0m1-2h0m1-4h0m0 5h0m5-1h0m1-3h0m0 3h0m0 3h0m1-1h0m0-4h0m1 4h0m0 1h0m1-7h0m2 1h0m1 3h0m1-3h0m2 2h0m0-4h0m4 8h0m0-3h0m1-2h0m3 2h0m1 0h0m0-1h0m1-4h0m1 6h0m0-1h0m1-2h0m1-2h0m1 4h0m0-5h0m1 1h0m0 2h0m0 1h0m1 0h0m4 4h0m1-6h0m2 2h0m0-3h0m1 1h0m1 5h0m0-3h0m3 2h0m4 2h0m0 0h0m0-1h0m1-6h0m0 1h0m1-1h0m0 5h0m1 0h0m4-1h0m0-1h0m1 2h0m0-3h0m1 5h0m1-3h0m3-3h0m0-1h0m3 4h0m1 0h0m3 0h0m-103 3h0m1 0h0m0 8h0m6-7h0m1 1h0m0 2h0m1 0h0m1 0h0m1 1h0m1-2h0m4 3h0m0-3h0m0 4h0m6-1h0m0-4h0m1 1h0m1 4h0m3 1h0m1-5h0m3-3h0m1 7h0m1-6h0m0 0h0m0-1h0m1 1h0m1 4h0m2 2h0m0-2h0m0-2h0m1-2h0m2 4h0m2 1h0m1 0h0m0-2h0m2 2h0m2 0h0m1-2h0m2 0h0m0-1h0m1-2h0m3-1h0m3 5h0m0 0h0m0-4h0m2-1h0m1 1h0m0-1h0m2 1h0m3 5h0m0-5h0m0 0h0m1 5h0m0-5h0m3 5h0m6-5h0m2 0h0m0 3h0m1 0h0m0-3h0m3 1h0m1 4h0m1-1h0m4 0h0m0-3h0m7 1h0m-88 9h0m2-4h0m1 5h0m1 2h0m1-2h0m2-2h0m0-3h0m1 2h0m0 0h0m1 5h0m2-6h0m1 4h0m1-4h0m1 3h0m3-3h0m1 6h0m2-6h0m1 0h0m4 2h0m0-2h0m0 3h0m0-4h0m2 4h0m2 1h0m1-5h0m1 2h0m4 5h0m2-2h0m2 0h0m1 1h0m0 1h0m0-5h0m1-1h0m1 6h0m1-3h0m1-3h0m0 1h0m4 3h0m0-3h0m1 5h0m0-3h0m3 1h0m1 3h0m0-6h0m0 2h0m3-4h0m0 7h0m1-4h0m2 2h0m1 0h0m1 1h0m1 2h0m0-8h0m0 2h0m2 5h0m4-7h0m2 7h0m3-6h0m0 6h0m0 1h0m0-7h0m5 4h0m6-2h0m5 1h0m5-3h0m-99 12h0m7 1h0m0-6h0m3 2h0m3 1h0m0-1h0m0-1h0m3 3h0m1 4h0m0-2h0m3 0h0m2-6h0m0 3h0m1 4h0m1-2h0m2 2h0m1 1h0m0-2h0m3-5h0m1 2h0m1-1h0m0 4h0m4 0h0m2-5h0m1 1h0m2 5h0m4-4h0m1 2h0m0 3h0m0-3h0m0-4h0m5 1h0m0 5h0m0 1h0m1-6h0m4 3h0m0 2h0m3-3h0m1 0h0m3 4h0m0-5h0m2 5h0m10 0h0m0-4h0m3 3h0m0-6h0m0-1h0m5 1h0m-72 9h0m7-1h0m4-1h0m0 6h0m1-4h0m2-1h0m2 2h0m2-2h0m2 0h0m1 1h0m6 1h0m2 4h0m1-4h0m1-2h0m4 1h0m0 4h0m1-4h0m0 0h0m2 1h0m4 2h0m2 3h0m1-8h0m2 6h0m0-1h0m1-4h0m0 2h0m0-3h0m1 2h0m5-1h0m2 6h0m1-6h0m-30 8h0m0 0h0m10-1h0m5 3h0m6 1h0m13-2h0" stroke="#5a3e7e" stroke-width="1.60" stroke-linecap="round" fill="none"/>
<path transform="scale(.5)" d="M422 124h0m6 8h0m-31 8h0m0 0h0m4-2h0m1 0h0m3 2h0m0-3h0m5 1h0m1-1h0m2-1h0m2 4h0m0-5h0m2 2h0m1-1h0m0 3h0m0-5h0m1 0h0m8 6h0m1-1h0m0 1h0m8-4h0m-80 12h0m13-1h0m7-3h0m5 1h0m1-2h0m5 0h0m2 5h0m1 0h0m1-3h0m1 1h0m4 0h0m1-1h0m1 0h0m0-5h0m1 7h0m1-2h0m0-3h0m1 5h0m3-3h0m0 3h0m2-3h0m0 3h0m1-7h0m0 6h0m0-4h0m3 0h0m0 0h0m0 3h0m2 2h0m0-1h0m4-2h0m2-1h0m0-3h0m2 2h0m1 1h0m1 0h0m1 2h0m0 2h0m0-7h0m1 5h0m0 1h0m1-5h0m0 7h0m1-1h0m2-5h0m3 3h0m0-3h0m0 6h0m0-2h0m3-3h0m0-1h0m6 6h0m-91 3h0m12-3h0m3 7h0m1-5h0m3 4h0m3 0h0m0-4h0m1 2h0m3-2h0m1 1h0m0-2h0m1 5h0m1-1h0m0-3h0m0 4h0m1 2h0m0-2h0m0-1h0m0-2h0m0 1h0m2-1h0m0 1h0m1 0h0m0 3h0m1-5h0m2 1h0m0 1h0m2 3h0m0-1h0m0-4h0m1 5h0m1-2h0m0-2h0m0-1h0m3 6h0m0-2h0m1-5h0m0 1h0m1-2h0m0 3h0m0-1h0m1 5h0m1-3h0m0-3h0m1 1h0m1 0h0m3 3h0m2-1h0m0-3h0m1 5h0m0-5h0m3 3h0m1 2h0m0-3h0m2 4h0m3-3h0m0 2h0m1-5h0m1 1h0m0 2h0m1-2h0m0 5h0m0-2h0m2-1h0m0 1h0m1-2h0m0 5h0m1-5h0m1 1h0m0 0h0m1-1h0m0 4h0m4-6h0m0 2h0m1 3h0m1-6h0m0 3h0m0-2h0m0 6h0m0-6h0m1 4h0m0 2h0m1-6h0m0-1h0m0 6h0m2-5h0m0 6h0m0-2h0m0-5h0m1 1h0m0 1h0m1 4h0m1 1h0m0-2h0m0 3h0m1-7h0m0 5h0m1 0h0m0-4h0m1 1h0m1 5h0m1 0h0m2-3h0m4-4h0m-101 15h0m0 0h0m1-4h0m1 1h0m1-1h0m1 1h0m0 1h0m0 0h0m1-6h0m0 1h0m2 1h0m0 1h0m2-1h0m0 4h0m1 0h0m1 1h0m3-4h0m1-3h0m2 5h0m1 2h0m1-1h0m0-2h0m2-4h0m2 6h0m1-4h0m0-1h0m1 0h0m0 3h0m4-3h0m1-1h0m1 1h0m0 1h0m0 2h0m1 1h0m0 1h0m2-5h0m0 1h0m0 3h0m1-3h0m1 4h0m1-1h0m1-2h0m0-2h0m3 7h0m0-6h0m1 1h0m0 3h0m0-3h0m0-3h0m1 3h0m0-3h0m2 3h0m1 1h0m0 4h0m0-7h0m2 0h0m0 5h0m1-4h0m1 1h0m0 3h0m0 0h0m1 1h0m0-1h0m3-4h0m1 5h0m1-7h0m1 1h0m2 2h0m0 0h0m1 5h0m0-2h0m1 1h0m0 0h0m0 0h0m0 0h0m1-3h0m0 1h0m0 1h0m2-4h0m1 5h0m1-2h0m0-1h0m2-3h0m0-1h0m0 0h0m1 6h0m1 0h0m1-4h0m0 6h0m1-6h0m1 5h0m0 0h0m0-5h0m1-2h0m0 2h0m1-2h0m0 0h0m0 1h0m0 7h0m0-6h0m1 2h0m1 4h0m1-5h0m0 0h0m0 5h0m1-7h0m1 4h0m3 1h0m1-3h0m1-3h0m0 4h0m0-1h0m0-3h0m1 2h0m1 3h0m0 1h0m0-5h0m1 3h0m2-1h0m1 5h0m0-5h0m1 0h0m3 2h0m2-5h0m4 6h0m-102 8h0m2-2h0m0-3h0m0 3h0m1 3h0m0-4h0m1-3h0m1 4h0m1 3h0m0-1h0m2 0h0m1-5h0m0 6h0m1-6h0m0 1h0m0 0h0m1 3h0m0 0h0m4 0h0m0-1h0m1-1h0m0 2h0m1 0h0m0 1h0m1-5h0m0 2h0m0 2h0m1-3h0m0 1h0m0 0h0m5 0h0m0 5h0m1 0h0m0-6h0m0 0h0m0-1h0m0 4h0m1-1h0m0 3h0m0-7h0m0 6h0m1-1h0m2-5h0m1 8h0m0-3h0m0-4h0m1 7h0m1-2h0m0-3h0m0 4h0m0-2h0m1-1h0m0 0h0m2 1h0m0 0h0m0-3h0m1 2h0m3-1h0m1-2h0m0 3h0m0 0h0m2 4h0m0-8h0m0 7h0m1-7h0m1 5h0m1 2h0m1-5h0m0 4h0m0-1h0m2-4h0m1 5h0m1-2h0m1 0h0m0 0h0m1 0h0m0 1h0m1-2h0m1 1h0m0 4h0m0-7h0m1 3h0m2-1h0m1 3h0m2-2h0m1 4h0m1-7h0m2 3h0m0-3h0m2 4h0m5 1h0m0 2h0m3-1h0m1-4h0m0 3h0m0-2h0m1-2h0m1 1h0m1 2h0m0-5h0m0 4h0m1-3h0m1-1h0m1 2h0m2-2h0m0 3h0m0 2h0m4 3h0m0-4h0m2 3h0m12-6h0m-113 13h0m10-1h0m0-1h0m3 2h0m1-3h0m0-2h0m3 2h0m0-3h0m1 4h0m2-2h0m2-1h0m0 5h0m2 0h0m2-3h0m1 4h0m2-7h0m1 3h0m0-2h0m1 3h0m2 4h0m0-8h0m1 7h0m3-3h0m0 1h0m1 2h0m0-5h0m1-2h0m3 5h0m1-4h0m0 5h0m2-5h0m2 2h0m0 3h0m1-3h0m1 1h0m1 2h0m0-4h0m1 1h0m0 5h0m1-5h0m1-2h0m1 6h0m1-1h0m1-1h0m4-2h0m2-2h0m0 2h0m1 3h0m0-5h0m0 6h0m2-2h0m3 0h0m2-1h0m2 2h0m1-5h0m1 4h0m0-3h0m1 1h0m2 0h0m0-1h0m0 0h0m0 2h0m5 4h0m0-2h0m1-5h0m0 0h0m2 0h0m0 1h0m1-1h0m0 2h0m3-3h0m0 6h0m0 0h0m1-4h0m0 1h0m5 4h0m0-6h0m2 0h0m0 0h0m3 3h0m1 2h0m-92 8h0m7 0h0m6-3h0m1-1h0m2 0h0m0 0h0m3-1h0m2-1h0m6 1h0m3 5h0m0-4h0m0 0h0m8 2h0m0-3h0m2 2h0m1 1h0m1-1h0m4-2h0m1 3h0m7-1h0m9-1h0m2 2h0m10 3h0m10-6h0m5 4h0" stroke="#6aaa7c" stroke-width="1.60" stroke-linecap="round" fill="none"/>
<path transform="scale(.5)" d="M161 80h0m7-1h0m0 3h0m1 1h0m1 0h0m2 1h0m3-2h0m-22 10h0m2-3h0m4-3h0m1 5h0m3-2h0m0-3h0m0-1h0m0 0h0m1 2h0m1 0h0m2 2h0m0-2h0m1 2h0m0 1h0m1-1h0m0-3h0m0 4h0m0 2h0m1-7h0m0 7h0m0-5h0m0 3h0m1-5h0m1 7h0m1-6h0m1 5h0m-19 6h0m1 3h0m1-4h0m1 4h0m1-2h0m0-6h0m2 8h0m2-5h0m0 5h0m1-7h0m0 6h0m1-5h0m0 3h0m0 3h0m0-5h0m2 4h0m0-2h0m0 0h0m2-3h0m1 3h0m0-2h0m0 3h0m1-4h0m1 0h0m1 0h0m1-2h0m1 2h0m-16 8h0m1 5h0m1-5h0m0 0h0m1 3h0m0-5h0m0 7h0m0-4h0m1 0h0m2-2h0m0 4h0m0-2h0m1 1h0m0 1h0m1-2h0m3 0h0m-8 6h0m1 0h0m1 2h0m2-2h0" stroke="#5a3e7e" stroke-width="1.70" stroke-linecap="round" fill="none"/>
<path transform="scale(.5)" d="M292 51h0m3 1h0m-12 7h0m1-3h0m1-2h0m0 1h0m0 4h0m0 0h0m4-4h0m0 4h0m2-5h0m0 0h0m1 0h0m0 0h0m0 5h0m1-6h0m0-1h0m2 4h0m1-4h0m3 2h0m1 4h0m0 0h0m1-2h0m3 4h0m-20 3h0m0 1h0m1-3h0m0 3h0m1 2h0m1 0h0m0-1h0m0-1h0m1-1h0m0-2h0m1-1h0m1 6h0m1-4h0m2 2h0m0-2h0m0 1h0m1-1h0m0 5h0m0-5h0m1 5h0m0 1h0m0-4h0m0-3h0m1 1h0m0 2h0m0 0h0m1 1h0m2 0h0m0 1h0m1-4h0m0-1h0m0 5h0m2-4h0m1-2h0m-10 8h0m1 1h0" stroke="#5a3e7e" stroke-width="1.70" stroke-linecap="round" fill="none"/>
<path transform="scale(.5)" d="M327 90h0m7-3h0m-20 8h0m2 1h0m4 3h0m0-4h0m1 3h0m6 0h0m1-1h0m0 2h0m2-3h0m0-2h0m1-1h0m1 6h0m1-2h0m0-5h0m1 7h0m2 1h0m1-2h0m2-5h0m2 6h0m2-4h0m-39 10h0m9-3h0m0 2h0m1 2h0m1 0h0m4-6h0m2 3h0m1 4h0m1-1h0m1-4h0m0 1h0m0 0h0m0 3h0m2-5h0m0-1h0m0 5h0m0 1h0m1 0h0m0 1h0m0 0h0m0-2h0m1 0h0m0-1h0m1-1h0m0 1h0m2 1h0m0-1h0m0 1h0m0 0h0m0-5h0m1 6h0m0 2h0m0-2h0m0-2h0m0 2h0m1-3h0m0 2h0m0-2h0m2 0h0m0-1h0m0 0h0m0 4h0m0 2h0m1-2h0m0-2h0m0 3h0m1-5h0m1 0h0m0 2h0m2 4h0m0-2h0m0 0h0m1-4h0m1 0h0m0 4h0m1-6h0m2 5h0m1 2h0m1-1h0m6 0h0m-39 8h0m5-5h0m1 2h0m0 5h0m2 0h0m0-4h0m1 0h0m1 0h0m0-4h0m0 4h0m1-4h0m1 7h0m0-6h0m0 2h0m0-2h0m1 5h0m0-1h0m0-4h0m0 7h0m0-4h0m0-3h0m1 2h0m0 4h0m0 0h0m1-3h0m0-4h0m0 8h0m0-8h0m1 5h0m0-2h0m0 1h0m0 3h0m0 0h0m1-6h0m0 5h0m1-3h0m0 3h0m0 1h0m0-7h0m1 3h0m0-1h0m0 6h0m0-8h0m0 1h0m0 7h0m1-1h0m0-3h0m0-3h0m0 1h0m1 2h0m0-1h0m0 0h0m0 2h0m1-3h0m1 6h0m0-2h0m1-1h0m0 1h0m0-3h0m0 5h0m0-5h0m1 5h0m0-4h0m0-4h0m0 3h0m2-2h0m0 2h0m0 2h0m1-3h0m0 0h0m1 4h0m1-2h0m0-1h0m0 5h0m1-7h0m0 1h0m1 0h0m1 6h0m1-4h0m-37 11h0m8-6h0m1 4h0m0 0h0m2-1h0m1-3h0m2 3h0m0 4h0m1-5h0m1 0h0m1-1h0m1 4h0m0 0h0m0-2h0m0 1h0m1-3h0m0 1h0m1 4h0m0-3h0m0-3h0m0 6h0m1-3h0m0 3h0m0-1h0m0-6h0m1 2h0m1-2h0m1 4h0m0 3h0m0 0h0m1-5h0m0 0h0m0 4h0m0 2h0m1-6h0m0 0h0m1 0h0m0 0h0m0 3h0m1-2h0m0-1h0m1 4h0m1-3h0m1 0h0m0-1h0m0 1h0m1-3h0m0 6h0m0-2h0m0-4h0m2 2h0m0 5h0m1-7h0m0 3h0m2-2h0m0 3h0m1-2h0m2 2h0m-31 8h0m1-4h0m0 1h0m2 1h0m0 3h0m2-1h0m2 0h0m1 0h0m5 0h0m0 1h0m1-2h0m0-2h0m4 2h0m7 3h0m-28 5h0m2 2h0m3-2h0m18-3h0m0 2h0m0 4h0m4-5h0" stroke="#2b7147" stroke-width="1.70" stroke-linecap="round" fill="none"/>
<path transform="scale(.5)" d="M303 73h0m-8 5h0m11 3h0m3 1h0m1-1h0m1-2h0m3 4h0m5-2h0m-20 5h0m0 3h0m1-3h0m1 5h0m0-6h0m2 3h0m4-1h0m2 3h0m3 0h0m1 1h0m2-7h0m1 8h0m1-7h0m0 7h0m2-1h0m-20 7h0m4-4h0m2 2h0m0-1h0m1 4h0m2-5h0m1-1h0m0 6h0m2 0h0m0-1h0m0-4h0m2 4h0m2 0h0m1-2h0m2 2h0m1-6h0m-18 15h0m6-1h0m1-3h0m1 4h0m1-2h0m1 1h0m2-1h0m2 1h0m1-4h0m3 0h0m2 2h0m1-4h0m5 7h0m-26 1h0m3 8h0m0-6h0m1 1h0m1 4h0m2-4h0m5 2h0m2-1h0m1-2h0m2-1h0m0 4h0m0-2h0m2 2h0m1-3h0m0 2h0m1 1h0m2 2h0m3-6h0m-20 8h0m4 2h0m2 4h0m1-4h0m2 5h0m1-2h0m2 1h0m0-5h0m2 1h0m5-3h0m-18 12h0m1-1h0m0 4h0m4-5h0m1 5h0m3-3h0m0 1h0m1-4h0m1 4h0m2 2h0m0-5h0m3 5h0m1-1h0m1-1h0m2-1h0m-20 10h0m1-4h0m3 0h0m0 5h0m2-1h0m3-5h0m1 3h0m0-2h0m1 5h0m1-2h0m2 1h0m2-2h0m2 2h0m-14 10h0m1-4h0m2-1h0m1-3h0m1 7h0m1-6h0m2-1h0m1 3h0m2 0h0m3 2h0m-11 4h0m5 0h0" stroke="#6aaa7c" stroke-width="1.60" stroke-linecap="round" fill="none"/>
<path transform="scale(.5)" d="M336 227h0m-8 6h0m6-3h0m3-1h0m0 4h0m1 2h0m0-2h0m1 2h0m2-4h0m-15 11h0m2 0h0m1-1h0m0 2h0m0-6h0m2 1h0m0 3h0m3-4h0m0 3h0m1 2h0m1 0h0m1-2h0m1 1h0m1 0h0m-9 7h0m0-2h0m1 0h0m1-1h0m2 1h0m0 1h0m1 2h0m1 0h0m2 2h0m0 0h0m-9 7h0m0-2h0m1 2h0m0-5h0m1 2h0m1 1h0m0-3h0m2 5h0m1-5h0m1-1h0m0 1h0m1 0h0m0 6h0m1-6h0m0 6h0m0-3h0m0-2h0m1 3h0m0 0h0m1-2h0m1-1h0m0 4h0m2-1h0m-12 10h0m2-2h0m1 2h0m1-6h0m1 4h0m0-3h0m1 1h0m1 3h0m1-4h0m0 5h0m2-6h0m2 6h0m0-4h0m1 2h0m0-1h0m-15 8h0m0-3h0m2 6h0m2-6h0m1 6h0m3-4h0m0 1h0m1 2h0m1 2h0m0-2h0m1-2h0m0 2h0m1-1h0m-9 3h0m3 1h0m1 2h0m2-2h0m1 1h0m2-2h0" stroke="#e86b6b" stroke-width="1.60" stroke-linecap="round" fill="none"/>
<circle cx="225.5" cy="113.90" r="3.1" fill="#d98f2b"/>
<text x="232.60" y="113.90" dy="0.35em" font-size="7" fill="#231f20">MG1</text>
<circle cx="225.5" cy="124.12" r="3.1" fill="#e86b6b"/>
<text x="232.60" y="124.12" dy="0.35em" font-size="7" fill="#231f20">MG2</text>
<circle cx="225.5" cy="134.34" r="3.1" fill="#a6a8d2"/>
<text x="232.60" y="134.34" dy="0.35em" font-size="7" fill="#231f20">MG3</text>
<circle cx="225.5" cy="144.56" r="3.1" fill="#5a3e7e"/>
<text x="232.60" y="144.56" dy="0.35em" font-size="7" fill="#231f20">MG4</text>
<circle cx="225.5" cy="154.78" r="3.1" fill="#6aaa7c"/>
<text x="232.60" y="154.78" dy="0.35em" font-size="7" fill="#231f20">MG5</text>
<circle cx="225.5" cy="165.00" r="3.1" fill="#2b7147"/>
<text x="232.60" y="165.00" dy="0.35em" font-size="7" fill="#231f20">MG6</text>
<path d="M28.6 133.5 V165.3 H61.8" stroke="#3d5878" stroke-width="1.5" fill="none"/>
<path d="M25.8 135.0 L28.6 130.0 L31.400000000000002 135.0 L28.6 133.7Z" fill="#3d5878"/>
<path d="M60.3 162.5 L65.3 165.3 L60.3 168.10000000000002 L61.599999999999994 165.3Z" fill="#3d5878"/>
<text x="19.60" y="151.20" dy="0.35em" font-size="6.8" text-anchor="middle" fill="#333" transform="rotate(-90 19.60 151.20)">UMAP 2</text>
<text x="44.00" y="173.60" dy="0.35em" font-size="6.8" text-anchor="middle" fill="#333">UMAP 1</text>
<text transform="translate(347.40 10.70) scale(1.17 1)" font-size="15" font-weight="bold" fill="#111" stroke="#111" stroke-width="0.6">b</text>
<defs><filter id="blr1" x="-10%" y="-10%" width="120%" height="120%"><feGaussianBlur stdDeviation="0.6"/></filter><filter id="blr2" x="-20%" y="-20%" width="140%" height="140%"><feGaussianBlur stdDeviation="2.2"/></filter><filter id="blr3" x="-30%" y="-30%" width="160%" height="160%"><feGaussianBlur stdDeviation="1.4"/></filter><clipPath id="clipb"><polygon points="379.7,58.3 383.0,50.0 390.0,42.0 394.0,30.0 400.0,24.0 408.0,26.0 412.0,21.0 420.0,19.0 428.0,20.0 432.0,15.0 442.0,12.0 455.0,12.0 466.0,18.0 472.0,25.0 481.0,30.5 494.8,44.4 503.1,61.0 519.8,74.9 533.7,86.0 542.0,99.9 536.4,111.0 519.8,119.3 506.0,124.8 489.3,135.9 475.4,149.8 458.8,159.5 439.3,162.3 419.9,159.0 406.0,151.0 397.5,134.0 387.0,112.0 380.0,88.8 378.0,72.1"/></clipPath></defs>
<g clip-path="url(#clipb)">
<polygon points="379.7,58.3 383.0,50.0 390.0,42.0 394.0,30.0 400.0,24.0 408.0,26.0 412.0,21.0 420.0,19.0 428.0,20.0 432.0,15.0 442.0,12.0 455.0,12.0 466.0,18.0 472.0,25.0 481.0,30.5 494.8,44.4 503.1,61.0 519.8,74.9 533.7,86.0 542.0,99.9 536.4,111.0 519.8,119.3 506.0,124.8 489.3,135.9 475.4,149.8 458.8,159.5 439.3,162.3 419.9,159.0 406.0,151.0 397.5,134.0 387.0,112.0 380.0,88.8 378.0,72.1" fill="#e4b27a"/>
<polygon points="418.0,48.0 428.0,40.0 440.0,36.0 455.0,34.0 468.0,27.0 481.0,30.5 494.8,44.4 503.1,61.0 519.8,74.9 533.7,86.0 542.0,99.9 536.4,111.0 519.8,119.3 506.0,124.8 489.3,135.9 475.4,149.8 458.8,159.5 439.3,162.3 419.9,158.1 408.8,149.8 404.0,130.0 408.0,90.0 412.0,60.0" fill="#df9830" filter="url(#blr2)"/>
<polygon points="378.0,72.1 379.7,58.3 384.0,49.0 392.0,44.0 405.0,43.0 417.0,45.0 425.0,52.0 426.0,70.0 423.0,100.0 418.0,130.0 413.0,154.0 406.0,151.0 397.5,134.0 387.0,112.0 380.0,88.8" fill="#e9756d" filter="url(#blr2)"/>
<polygon points="489.0,78.0 500.0,68.0 519.8,74.9 533.7,86.0 542.0,99.9 536.4,111.0 519.8,119.3 506.0,124.8 494.0,123.0 485.0,106.0" fill="#a9a9d1" filter="url(#blr2)"/>
<ellipse cx="449" cy="25" rx="17" ry="12" fill="#5c4484" filter="url(#blr3)"/>
<ellipse cx="418.5" cy="27.5" rx="6.5" ry="7.5" fill="#2f7449" filter="url(#blr3)"/>
<ellipse cx="401" cy="33" rx="7.5" ry="9" fill="#72ad82" filter="url(#blr3)"/>
</g>
<path transform="scale(.5)" d="M894 27h0m8-2h0m7 0h0m-47 8h0m6-2h0m8 3h0m7-4h0m7 4h0m7-1h0m3-4h0m6 0h0m8-1h0m5 4h0m-94 11h0m16 0h0m2-3h0m12 3h0m1 1h0m3-7h0m6 6h0m1-3h0m3-1h0m9-2h0m1 5h0m3-5h0m1 6h0m1-4h0m0 2h0m7-4h0m9 6h0m5-2h0m3-1h0m1 1h0m10-2h0m8 3h0m2-2h0m-129 10h0m2 0h0m18-1h0m4 1h0m7 2h0m13-3h0m4-2h0m3 0h0m4 5h0m6-4h0m9 0h0m0 2h0m16-4h0m0 3h0m2-4h0m2 0h0m1 6h0m0-3h0m4-2h0m1 4h0m0-4h0m9-1h0m36 6h0m-149 6h0m3-3h0m5 1h0m1 0h0m10 2h0m1-2h0m10-1h0m1 2h0m10-3h0m0 4h0m20-3h0m6 5h0m1-1h0m3-6h0m19 5h0m8-1h0m0-2h0m5 3h0m9 0h0m0-4h0m2 0h0m4 3h0m1-3h0m1 2h0m13 2h0m13 0h0m6-1h0m-157 8h0m3-2h0m5 0h0m9 4h0m1-3h0m4 3h0m17-6h0m0 4h0m1-2h0m24 6h0m11-1h0m4-6h0m2 2h0m9-1h0m4 5h0m12 0h0m1 0h0m5-6h0m7 3h0m27 2h0m3-3h0m7-2h0m4 6h0m1-6h0m2 4h0m14-1h0m2 1h0m-180 6h0m5 2h0m6-2h0m2 4h0m6-4h0m3 2h0m5-3h0m33 3h0m10-5h0m4 6h0m0-4h0m2 4h0m0-5h0m6 5h0m6-1h0m0 1h0m0-4h0m3 1h0m15 5h0m11-4h0m14 3h0m1 0h0m0-6h0m4 3h0m4-4h0m4 1h0m3 4h0m0-4h0m2 1h0m4 1h0m8 3h0m10-4h0m6 4h0m-178 5h0m9 4h0m10-4h0m3-1h0m1-2h0m1 6h0m8-4h0m1-1h0m4 3h0m2 2h0m1-4h0m1 4h0m1-3h0m4-3h0m2 6h0m8-2h0m3-1h0m2 1h0m3 0h0m6-1h0m19-2h0m5 7h0m13-3h0m6-1h0m3 3h0m11-4h0m2-2h0m9 6h0m12-2h0m2-1h0m1 3h0m1 0h0m4-3h0m0 1h0m6 1h0m0-2h0m4-2h0m4 0h0m7-1h0m1 6h0m3-5h0m5 1h0m8 4h0m-206 7h0m0-1h0m3 1h0m6-2h0m1-3h0m17 4h0m2 0h0m17-3h0m1 5h0m3-7h0m8 6h0m7 1h0m17-7h0m4 0h0m7 5h0m3-3h0m8 4h0m7 0h0m1 1h0m21 1h0m2-2h0m8 1h0m0 1h0m2-2h0m7-4h0m2 6h0m12-3h0m7 1h0m17-5h0m5 2h0m5 3h0m9 0h0m-216 10h0m2 0h0m19-1h0m3-7h0m3 7h0m3-3h0m7 2h0m0 1h0m7-3h0m5 2h0m2 0h0m1-1h0m3 0h0m5 3h0m8-4h0m9-3h0m3 6h0m9-6h0m6 7h0m2-1h0m6-1h0m15-2h0m12-4h0m12 5h0m1 2h0m1-2h0m4 0h0m4 0h0m19 0h0m1 0h0m18 2h0m13-1h0m7-2h0m8 0h0m-222 11h0m5-2h0m8 2h0m3-5h0m6 4h0m2-5h0m15 6h0m2-5h0m4 4h0m11-5h0m5 4h0m0-1h0m1 1h0m16 2h0m3-2h0m1-5h0m17 2h0m4 1h0m9 3h0m1-6h0m4 5h0m13 2h0m8-1h0m12 0h0m7-2h0m6-1h0m7-1h0m3-1h0m20-1h0m2 4h0m1 4h0m12-5h0m11 5h0m0 0h0m5-3h0m4-2h0m-224 9h0m2-4h0m7 2h0m5 3h0m3 1h0m4 1h0m3-3h0m1-3h0m6 6h0m0-5h0m14 3h0m4-2h0m0 2h0m3-2h0m12 1h0m2 2h0m4 0h0m3-6h0m5 8h0m3-6h0m3-1h0m8 2h0m5 2h0m14-1h0m0-2h0m4-2h0m4 6h0m3-1h0m2 1h0m17-3h0m37 0h0m2 4h0m3-5h0m3 2h0m18 2h0m1 0h0m14-1h0m0 1h0m2-3h0m-222 12h0m2-2h0m4 0h0m0 0h0m0-4h0m2 4h0m6-3h0m7-2h0m1 5h0m2-5h0m5 6h0m3-3h0m0-1h0m9 4h0m1 1h0m3 0h0m3-3h0m2-4h0m7 7h0m4 0h0m8-1h0m0-4h0m4-1h0m3 3h0m7-3h0m11 1h0m3 2h0m2-2h0m6 2h0m17-2h0m4-1h0m2 0h0m3 3h0m1-4h0m1 4h0m7 3h0m0 1h0m11-1h0m15-6h0m8 6h0m6-4h0m1-2h0m0 1h0m13 0h0m2 2h0m3 1h0m6-1h0m4-3h0m2 0h0m2 0h0m17 3h0m2 4h0m2-4h0m2-2h0m-231 11h0m2-1h0m3 2h0m3-2h0m15 0h0m3 0h0m3 1h0m1 3h0m2-7h0m3 2h0m0-2h0m2 6h0m4-1h0m2 0h0m11-1h0m3 0h0m3 3h0m15-1h0m2-3h0m24-3h0m1 6h0m2-6h0m2 3h0m17 1h0m2-1h0m1 0h0m3 2h0m0-4h0m9-1h0m5-1h0m3 3h0m5 4h0m1-3h0m18-4h0m7 2h0m1 2h0m4 3h0m15-3h0m6 1h0m8-2h0m1-1h0m6 5h0m1 0h0m0-7h0m1 7h0m4-2h0m0-2h0m4 2h0m8 1h0m2-4h0m-239 8h0m10 2h0m2 0h0m11 3h0m5 0h0m1-1h0m8 2h0m28-3h0m7-4h0m17 5h0m3-2h0m2 4h0m0-2h0m2-5h0m5 1h0m0 4h0m6 2h0m4-7h0m1 6h0m3-5h0m5 1h0m11-2h0m3 0h0m8 7h0m5-5h0m1 4h0m13-4h0m1-1h0m3 0h0m6 3h0m3-3h0m2 6h0m10-3h0m6 1h0m11-2h0m7 0h0m0-2h0m1 4h0m5 1h0m8-2h0m6 0h0m1-4h0m3 6h0m1-4h0m1 5h0m8-7h0m3 3h0m1 2h0m-256 5h0m5 1h0m7 2h0m3-5h0m10 4h0m4-2h0m1 3h0m5 1h0m0 0h0m0-6h0m12 5h0m2-1h0m0-3h0m0 0h0m3 6h0m5-2h0m1-2h0m1 3h0m6-6h0m0 4h0m6-4h0m18 1h0m0-1h0m6 4h0m3-4h0m4 2h0m3 3h0m8-4h0m3-2h0m0 1h0m4 6h0m6-1h0m9 0h0m5 0h0m3-2h0m6-3h0m5 1h0m5 5h0m7 0h0m1-6h0m14 2h0m1 1h0m4-4h0m3 4h0m2 1h0m9-2h0m5 5h0m3-8h0m1 4h0m4 4h0m8-1h0m8-4h0m6 3h0m13 2h0m18-7h0m-268 13h0m6-4h0m3-1h0m5 4h0m6 3h0m5-2h0m7 1h0m3-2h0m2 3h0m24-3h0m6-2h0m2-1h0m0 4h0m6-3h0m3-1h0m3 6h0m5-5h0m4 1h0m1-1h0m1 1h0m9 0h0m1-3h0m5 7h0m4-2h0m9 0h0m0-6h0m0 8h0m3-1h0m20-5h0m9 2h0m1 0h0m0 1h0m2 1h0m16-4h0m2-2h0m8 1h0m7-1h0m0 1h0m2 0h0m5 5h0m11-4h0m1-1h0m1 1h0m16 3h0m5 2h0m6-2h0m4-4h0m6 0h0m0 7h0m3-2h0m4-3h0m0-2h0m4 7h0m0-2h0m6 1h0m0-1h0m1-3h0m5 2h0m2-1h0m0 0h0m-270 11h0m0-1h0m5-1h0m4 0h0m15-5h0m1 1h0m21 1h0m3 5h0m5 0h0m6-2h0m1 1h0m2-2h0m6 0h0m4 0h0m2-4h0m6 5h0m10-5h0m1 4h0m8 4h0m1-7h0m14 0h0m0 3h0m6 3h0m11-4h0m8 1h0m6-3h0m3 4h0m9 0h0m4-4h0m3 4h0m4-3h0m7-1h0m7 5h0m6-1h0m1 0h0m13 2h0m2-2h0m1-4h0m12 4h0m15-3h0m5-1h0m7-1h0m0 5h0m3-3h0m15 0h0m0 5h0m7 1h0m6 0h0m0-8h0m10 4h0m0-2h0m-287 8h0m4 3h0m22-4h0m10 4h0m8-3h0m3 4h0m9 1h0m9-7h0m14 8h0m0-6h0m3 1h0m1-3h0m2 0h0m8 5h0m6 0h0m5-5h0m5 5h0m8 2h0m5 0h0m0-3h0m9 2h0m3 0h0m1-5h0m3 3h0m10 1h0m1-4h0m1 0h0m10 4h0m6-5h0m9 8h0m9-6h0m2 4h0m1-3h0m10-1h0m10 1h0m5-2h0m0 4h0m7-3h0m12-1h0m3 4h0m13-4h0m2 7h0m5-2h0m3 1h0m17-2h0m2-2h0m5 1h0m7-4h0m9 3h0m3 3h0m2 0h0m-297 9h0m2-1h0m5-4h0m15-2h0m1 4h0m5 2h0m1-2h0m1-3h0m10 2h0m4 5h0m6-5h0m2 3h0m7-2h0m2 1h0m4-1h0m6-1h0m0 3h0m6 1h0m7-6h0m11 4h0m6-2h0m1 5h0m1-4h0m2 0h0m13-4h0m4 7h0m1 0h0m5-3h0m9 1h0m0-3h0m0 3h0m2-4h0m2 2h0m2 2h0m24-2h0m1 2h0m5 2h0m4 1h0m2-7h0m4 4h0m0 0h0m9 3h0m6-4h0m0 3h0m4-6h0m7 2h0m4 0h0m5 1h0m6-1h0m9-2h0m7 1h0m24 4h0m3-4h0m0-1h0m7 6h0m1-1h0m1 0h0m2-1h0m11-5h0m2 4h0m3 3h0m5 0h0m4 1h0m1-3h0m-303 5h0m1 4h0m2-4h0m9 5h0m7-5h0m5 3h0m14-5h0m4 0h0m8 1h0m2 1h0m3 3h0m13-2h0m12 0h0m4-2h0m4 4h0m6 3h0m1-2h0m13 0h0m18-4h0m4-2h0m14 6h0m0 1h0m1-2h0m2 1h0m7-3h0m3 0h0m7 1h0m2 1h0m4 2h0m4-5h0m10-1h0m15 6h0m3-6h0m7 6h0m13 0h0m25-7h0m18 4h0m2 4h0m10-3h0m10 3h0m8-3h0m9-2h0m-303 12h0m3-3h0m9 0h0m1 1h0m2 1h0m4 0h0m0-1h0m14-1h0m7-1h0m1 2h0m20 1h0m2 0h0m6-4h0m13 1h0m4 5h0m2-4h0m1 0h0m22-2h0m2-1h0m2 1h0m6 0h0m4 0h0m0-1h0m10 2h0m5-1h0m9 5h0m6-4h0m2 1h0m7 0h0m2-1h0m13 4h0m1-4h0m1 4h0m4-2h0m3 1h0m0-4h0m1-1h0m9 1h0m2 3h0m9 0h0m1 1h0m8-2h0m1-2h0m3 0h0m1 1h0m9 3h0m0 1h0m9-5h0m2 2h0m31-3h0m18 1h0m1 4h0m16-5h0m-299 13h0m14-6h0m17 0h0m8 7h0m8 0h0m0 0h0m5 1h0m12-3h0m10-1h0m4 3h0m7-6h0m3 4h0m0 3h0m32-6h0m15-2h0m14 5h0m27-1h0m4-1h0m6 4h0m1-3h0m2 3h0m7-4h0m2 3h0m8-1h0m21-1h0m2-2h0m5 6h0m2-2h0m0-4h0m4 6h0m0-8h0m1 4h0m7-3h0m9 0h0m8 3h0m3 0h0m9-4h0m11 8h0m3-3h0m0-3h0m15 1h0m-303 8h0m14 4h0m0 0h0m4-3h0m21-1h0m12-3h0m13 0h0m7 5h0m2 2h0m7-6h0m7 4h0m2 1h0m2 0h0m8 2h0m10-2h0m5-2h0m0-2h0m1-1h0m1 3h0m2 3h0m2-4h0m3 0h0m9 1h0m12 1h0m2 0h0m1 1h0m7-2h0m15-3h0m9 7h0m9-2h0m0-5h0m8 5h0m10 1h0m10-2h0m1-3h0m2-1h0m5 6h0m4-2h0m7-2h0m8 3h0m3-1h0m11-2h0m2 1h0m0 3h0m9 1h0m3-1h0m8-4h0m1 1h0m7 2h0m9-2h0m1-1h0m2 4h0m3-5h0m-310 8h0m2 3h0m4 2h0m2-1h0m5-3h0m5 0h0m1 3h0m1 1h0m7-7h0m2 1h0m1 4h0m2 0h0m4-4h0m1 4h0m2 2h0m6-5h0m1 1h0m1 4h0m0-7h0m2 5h0m3 1h0m7-2h0m8 4h0m1-3h0m0-2h0m2 0h0m2 4h0m4-6h0m8 6h0m6-5h0m2 0h0m1 5h0m1 0h0m4-5h0m4 2h0m1 3h0m9-4h0m0-2h0m6 1h0m3-2h0m2 1h0m13 0h0m12 6h0m10-3h0m24 2h0m5 2h0m0-2h0m4-3h0m20 2h0m20-2h0m10 1h0m4 2h0m9 0h0m5-3h0m4 3h0m2-5h0m12 0h0m1 0h0m2 4h0m4-1h0m1 1h0m3-1h0m1 1h0m5 0h0m1 0h0m-291 3h0m1 0h0m0 4h0m2-3h0m8 2h0m8 5h0m1-4h0m0 2h0m3 0h0m2 2h0m1 0h0m6-2h0m9 2h0m7-6h0m3-2h0m3 5h0m0-3h0m0 4h0m5 2h0m1-6h0m5-1h0m9 3h0m13 4h0m4-5h0m10 0h0m11 0h0m3-1h0m1 6h0m10-6h0m8 2h0m7 1h0m1-2h0m15 5h0m2-5h0m13 0h0m4 1h0m3 2h0m2-3h0m12 1h0m1-3h0m3 3h0m2-2h0m4 3h0m4 0h0m13-5h0m1 8h0m6-2h0m4-1h0m9-2h0m4 4h0m4 0h0m7-5h0m6-1h0m1 3h0m6-3h0m6 3h0m4 0h0m2-2h0m3 4h0m1-4h0m-272 11h0m1-4h0m2 6h0m7-4h0m2 5h0m19-1h0m3-7h0m2 8h0m2-3h0m9 2h0m4-4h0m3 4h0m2-2h0m1 0h0m9 1h0m2-1h0m4-1h0m12-2h0m2-1h0m29-1h0m5 5h0m5-5h0m1 4h0m4-3h0m5-1h0m3 7h0m0-3h0m2 3h0m5 1h0m0-5h0m6 5h0m6-2h0m5 0h0m2-6h0m0 4h0m7-2h0m6 0h0m0-1h0m1 5h0m2 1h0m8 0h0m16-3h0m2-4h0m12 5h0m0 2h0m4-3h0m4-3h0m1 0h0m1-1h0m8 5h0m1-4h0m3 2h0m1 4h0m1-5h0m1 4h0m9-5h0m9 4h0m2-2h0m-269 7h0m21-1h0m1-1h0m3 2h0m3 4h0m0-1h0m1-4h0m3 6h0m4-7h0m8 5h0m5 2h0m13-4h0m3-1h0m1 3h0m9-2h0m3-1h0m6 1h0m1 3h0m8-5h0m13 1h0m18-1h0m5 7h0m0-3h0m13 1h0m23 1h0m4-7h0m2 2h0m0 5h0m1-1h0m5 1h0m1-4h0m2-2h0m7 3h0m3-2h0m6 5h0m4-2h0m12 1h0m17-4h0m3 3h0m1-3h0m7 6h0m1-8h0m4 1h0m11 2h0m1-2h0m-250 9h0m4 5h0m6-6h0m2 6h0m2-5h0m2 3h0m2-3h0m4-1h0m2 4h0m12-5h0m2 2h0m15 3h0m0-3h0m4 0h0m14 2h0m7 1h0m5-3h0m6 3h0m2-1h0m7-4h0m4 6h0m30-2h0m3 4h0m4-3h0m11-1h0m7 2h0m13 1h0m1-4h0m2-2h0m2-1h0m5 4h0m4-3h0m7 6h0m2-7h0m3 6h0m1-3h0m3 4h0m2-2h0m3 1h0m1-4h0m8 4h0m6-6h0m9 3h0m6-2h0m-229 13h0m2-1h0m4 1h0m1 2h0m5-3h0m5-3h0m6-2h0m1 4h0m12 1h0m7-1h0m2-1h0m9 0h0m1 0h0m4 3h0m2 1h0m0-1h0m6-1h0m1 2h0m10-6h0m0 0h0m6 4h0m1-4h0m23 4h0m9 1h0m4-5h0m6-1h0m4 7h0m3 1h0m1-8h0m6 3h0m19 2h0m3 2h0m7 1h0m6-5h0m14 4h0m2-6h0m12 2h0m-204 8h0m0-2h0m4 1h0m9 5h0m13-6h0m6-1h0m1 3h0m9 3h0m3 1h0m9-4h0m6 0h0m6 1h0m1 0h0m2-3h0m8 2h0m2 2h0m12 0h0m12-5h0m7 4h0m5 3h0m9-4h0m1 0h0m3 4h0m6 1h0m3-5h0m5 2h0m2 3h0m15-3h0m4-1h0m2-2h0m6 1h0m2 2h0m7 0h0m3-2h0m1 3h0m2 0h0m-181 7h0m2 0h0m4-3h0m3 1h0m3 0h0m3 2h0m3 2h0m9-1h0m2-6h0m1 6h0m2-2h0m6-4h0m10 3h0m2-1h0m9 3h0m5-1h0m6-1h0m0-2h0m4 0h0m2 7h0m10 0h0m0-7h0m5 0h0m2 1h0m1 5h0m3-6h0m0 5h0m1-3h0m0 0h0m5 3h0m0-2h0m7 2h0m13-2h0m2-2h0m1 2h0m4-3h0m8 4h0m0 1h0m2 0h0m7-3h0m4 3h0m4-3h0m3 2h0m0 0h0m20-3h0m0 1h0m5-2h0m-174 9h0m2 0h0m0-2h0m6 4h0m1-1h0m14 1h0m1-1h0m5 5h0m8 0h0m1-2h0m9-5h0m4 6h0m1-4h0m3 4h0m5-2h0m2-2h0m2 2h0m8-4h0m3 6h0m1-5h0m4 5h0m0 0h0m4-1h0m7-4h0m11 5h0m14-4h0m12 3h0m1-2h0m2 2h0m3 0h0m4-2h0m9-2h0m1 0h0m-145 9h0m13-1h0m3 2h0m0 0h0m4-1h0m1 1h0m8 4h0m2-7h0m6 6h0m6-1h0m12-1h0m1 1h0m6 0h0m0-1h0m2-3h0m10 1h0m6-1h0m7-1h0m1 6h0m1-4h0m4-1h0m3 3h0m1-4h0m1 0h0m2 1h0m0 3h0m4 1h0m5-1h0m2-4h0m1 2h0m1 2h0m6-4h0m1 0h0m12-1h0m2 5h0m2-1h0m0-3h0m8 5h0m2-4h0m0 0h0m0 4h0m1-5h0m2 2h0m1 0h0m-134 7h0m0 0h0m3 1h0m4-3h0m11 6h0m10-4h0m14 2h0m4 0h0m9 4h0m11-1h0m2-4h0m1 3h0m1 0h0m3-2h0m1 3h0m2-4h0m0-2h0m2 2h0m23 3h0m1 1h0m6-4h0m3 1h0m13 1h0m5-5h0m1 0h0m-145 8h0m4 0h0m11 7h0m10 0h0m13-4h0m13 1h0m4-1h0m14 2h0m17-1h0m7 4h0m1-2h0m4-6h0m10 3h0m0 2h0m5-4h0m18-1h0m-119 9h0m12 2h0m3 1h0m11 0h0m8-2h0m7 4h0m0-6h0m1 2h0m1 5h0m6 0h0m5-3h0m5 3h0m0-3h0m2 0h0m1-3h0m1 0h0m1 4h0m2-3h0m1 2h0m6-3h0m4 2h0m1 4h0m0-4h0m2-2h0m5 3h0m4-2h0m7 1h0m-78 5h0m6 1h0m14 1h0m0 1h0m8-2h0m2 2h0m2 2h0m6-1h0m6 0h0m12-3h0m8 3h0" stroke="#ffffff" stroke-width="1.40" stroke-linecap="round" fill="none" stroke-opacity="0.5"/>
<path transform="scale(.5)" d="M791 91h0m10-1h0m4-1h0m1 3h0m3-5h0m2-1h0m4 5h0m7 1h0m5 0h0m-51 5h0m3-4h0m1 0h0m2 6h0m5-5h0m1 1h0m3 1h0m2 0h0m1 4h0m1-5h0m8 2h0m3-4h0m5 5h0m8 0h0m6-1h0m0-1h0m1-1h0m1-3h0m9 2h0m4 3h0m1 2h0m2 0h0m1 1h0m-76 7h0m1-2h0m1-5h0m0 2h0m1 3h0m5 0h0m2 0h0m3-5h0m1 7h0m2-3h0m1-1h0m1 4h0m0-1h0m1-5h0m10 3h0m3 1h0m0-4h0m5 6h0m0-4h0m1-1h0m2 4h0m0-4h0m0 5h0m6 0h0m1-4h0m3-1h0m7-1h0m2 3h0m1 0h0m0-3h0m2 3h0m4-1h0m1 1h0m2-1h0m2 1h0m4 0h0m4 3h0m-84 8h0m4-2h0m0-3h0m1-2h0m0 6h0m2 0h0m2-3h0m5 0h0m0 5h0m1-5h0m3-1h0m2 3h0m3 2h0m3 1h0m1-3h0m5 0h0m1-1h0m1 3h0m1-7h0m9 3h0m5 0h0m6 0h0m1-2h0m3 6h0m0 0h0m4-5h0m4 5h0m11-1h0m6-4h0m-85 12h0m2-2h0m3 4h0m2-5h0m3-1h0m0 2h0m1-4h0m1 1h0m1 7h0m0-1h0m1 1h0m3-8h0m1 5h0m2-3h0m1 4h0m1 1h0m2 0h0m4-2h0m2 1h0m8-4h0m0-2h0m5 5h0m1 2h0m3-5h0m0 0h0m3 0h0m2 4h0m1-5h0m15 4h0m2 3h0m0-5h0m1 1h0m0-2h0m2-1h0m7 6h0m2-6h0m1 1h0m1 2h0m-88 10h0m1 1h0m2-5h0m1-2h0m2 5h0m1-2h0m2 0h0m0-1h0m5-2h0m0 0h0m0 7h0m3-5h0m8 5h0m2-3h0m1-1h0m6 1h0m0 4h0m0-1h0m1-2h0m4 2h0m1-1h0m0 2h0m1-3h0m2-5h0m1 7h0m0 0h0m7-5h0m1 2h0m3-3h0m5 3h0m2 0h0m4 3h0m2-1h0m0-4h0m0 3h0m1-2h0m1 1h0m5-3h0m4 0h0m8 6h0m1 1h0m3-3h0m2-3h0m0 0h0m-90 6h0m1 1h0m5 2h0m0 1h0m2-2h0m1 3h0m1-2h0m5 5h0m0-3h0m2 3h0m0-8h0m2 7h0m0-4h0m5 2h0m1-4h0m2 4h0m1-2h0m8-1h0m3 4h0m10 1h0m1-5h0m2-1h0m0 2h0m3-2h0m5 6h0m7-4h0m2 1h0m1 1h0m3-4h0m2 1h0m2 0h0m3 3h0m3 0h0m4-3h0m2 0h0m1 2h0m-94 12h0m3-7h0m3 3h0m0 2h0m7-3h0m2 2h0m2 2h0m1-6h0m2 4h0m3 2h0m2-1h0m1-5h0m5 2h0m1 4h0m4-3h0m4 0h0m0-2h0m4 4h0m2-3h0m1 5h0m2 0h0m8-6h0m0 0h0m1 5h0m1-1h0m0-2h0m3 0h0m6-3h0m13 2h0m7-2h0m2 5h0m5-6h0m-93 8h0m1 0h0m2 2h0m1-1h0m0 5h0m0-6h0m5 5h0m4-5h0m0 6h0m3-1h0m1 1h0m0-5h0m4 3h0m0 3h0m3-4h0m2 1h0m0 0h0m4-2h0m2-1h0m1 6h0m3 0h0m1-2h0m0 0h0m1-4h0m3 2h0m1 2h0m2-4h0m1 3h0m1-3h0m2 1h0m2-1h0m1-1h0m0 5h0m2 1h0m6 1h0m1-1h0m1-5h0m1 1h0m0 0h0m2 6h0m1-8h0m0 7h0m1-5h0m0 5h0m2-1h0m0-3h0m1 1h0m4 2h0m3-1h0m0-2h0m3-2h0m4 3h0m1 3h0m2-3h0m2 0h0m-87 5h0m2 0h0m5 1h0m3 5h0m3-4h0m3-2h0m11 3h0m1 3h0m1 0h0m3-6h0m1 3h0m3 1h0m3 3h0m10-3h0m7-4h0m0 0h0m0 6h0m1-6h0m1 4h0m0-5h0m0 4h0m1 1h0m3-5h0m1 2h0m2 3h0m0 1h0m5-2h0m0-1h0m4 3h0m0 1h0m3 0h0m5-1h0m2-1h0m0 2h0m1-6h0m1 6h0m2-4h0m0 5h0m2-8h0m-92 9h0m1 1h0m4 0h0m0 2h0m3 3h0m0-2h0m10-4h0m1 5h0m0-1h0m2 0h0m1 1h0m1-1h0m13 2h0m2 0h0m4-4h0m1 0h0m5 4h0m2 1h0m0-2h0m3 1h0m1 0h0m6-3h0m2 1h0m6-3h0m0 3h0m3-3h0m2 5h0m1-7h0m3 6h0m2-4h0m1 0h0m4 5h0m1-5h0m1 0h0m0-2h0m3 0h0m0 8h0m-78 4h0m1 0h0m1-1h0m1 1h0m1-2h0m9 1h0m1-1h0m1 2h0m1 1h0m2-3h0m5 2h0m3 0h0m3 3h0m2-3h0m3 2h0m0-5h0m15 3h0m0-1h0m10 4h0m1-3h0m2 0h0m5 1h0m2 0h0m8 0h0m-83 8h0m0-1h0m3 1h0m2-1h0m1-1h0m0 0h0m2-3h0m0 7h0m0 0h0m3-7h0m1 6h0m6 1h0m13-5h0m3 0h0m0 4h0m4 1h0m0-6h0m7 5h0m1-6h0m4 4h0m6-3h0m3 7h0m1-6h0m5 3h0m3 0h0m5-3h0m1 5h0m2-2h0m4 1h0m1 2h0m0-2h0m3-6h0m0 4h0m-73 11h0m1-1h0m1-3h0m0-2h0m0 6h0m1-7h0m5 1h0m0 0h0m4 4h0m4 2h0m3-2h0m1-2h0m3 0h0m1 5h0m1-3h0m2-1h0m1-2h0m1 5h0m0-7h0m3 1h0m5 7h0m1-4h0m1 3h0m5-2h0m0-3h0m4 4h0m8-3h0m9-2h0m8 2h0m0 0h0m-77 11h0m2-3h0m1 3h0m2-6h0m2 2h0m2 6h0m0-3h0m3 1h0m0 1h0m4-3h0m1-3h0m0 0h0m0 2h0m5 4h0m1-7h0m1 2h0m4-2h0m1 3h0m0 2h0m0-2h0m4-3h0m0 5h0m6-4h0m1 2h0m2 0h0m8 3h0m5 0h0m1-2h0m3-1h0m5 3h0m6 1h0m6-4h0m-66 8h0m1-1h0m2 3h0m0 2h0m1 1h0m4-2h0m18-4h0m3 6h0m9-6h0m4 0h0m2 1h0m0 2h0m4-4h0m2 3h0m2 2h0m2 0h0m0-2h0m0-2h0m2 6h0m1-6h0m3 4h0m2-6h0m2 7h0m0-5h0m-72 8h0m1 2h0m2 2h0m6-5h0m8 7h0m0-7h0m3 7h0m7-7h0m0 1h0m2-1h0m3 1h0m2 0h0m3-1h0m2 3h0m3 0h0m0 3h0m3-2h0m1-5h0m3 7h0m0-7h0m2 7h0m3-5h0m8 0h0m8 4h0m-67 9h0m1-7h0m2 6h0m2-3h0m2 4h0m5-4h0m2 2h0m2-2h0m1-3h0m1 4h0m2-2h0m11 4h0m2 1h0m3-4h0m1 5h0m1-3h0m16-2h0m4 3h0m0-5h0m3 4h0m0-3h0m1 3h0m1-1h0m-59 8h0m1-2h0m6 3h0m0-2h0m12 1h0m3 0h0m0 0h0m2-1h0m7-1h0m7 5h0m6-5h0m3 2h0m3-3h0m7 0h0m1 2h0m-55 5h0m1 4h0m7 1h0m2 0h0m3-2h0m11 4h0m3-6h0m0 5h0m2 1h0m4-1h0m1-5h0m2 2h0m0 2h0m1 2h0m0-6h0m4 3h0m2 4h0m2-2h0m0-4h0m2 5h0m2-1h0m3-1h0m1-4h0m-47 10h0m0 4h0m1-5h0m6-2h0m1 4h0m6 1h0m2-4h0m4 7h0m1-4h0m2-2h0m0 0h0m1 5h0m0-3h0m4-3h0m0 6h0m2-6h0m3 0h0m2 5h0m5 2h0m0-4h0m5-3h0m0 1h0m-39 11h0m10 2h0m1-3h0m7 3h0m1-6h0m0 4h0m2 2h0m1-4h0m5 4h0m4 0h0m1-2h0m1-3h0m2 3h0m2-1h0m2 4h0m1-7h0m-31 11h0m6 1h0m1 2h0m3-1h0m4-2h0m1-4h0m2 8h0m3-6h0m5 1h0m-30 9h0m5 3h0m1-7h0m0 6h0m11-5h0m8 5h0m0 2h0m8-6h0m1 6h0m-28 2h0m1-1h0m2 2h0m1 1h0m0 1h0m0 1h0m6-2h0m1-2h0m0 5h0m2-1h0m1-2h0m3-4h0m1 5h0m0-2h0m2 2h0m0-3h0m1 4h0m0 2h0m1-7h0m0 5h0m3 1h0m-19 7h0m1-5h0m11 0h0m1 0h0m2 6h0m4-1h0m1-5h0m-20 12h0m4-5h0m2 6h0m5 1h0m4-5h0m1 1h0m-9 8h0m5-1h0m2 1h0" stroke="#ffffff" stroke-width="1.40" stroke-linecap="round" fill="none" stroke-opacity="0.55"/>
<path transform="scale(.5)" d="M801 56h0m12 4h0m123-1h0m-142 8h0m19 0h0m8-7h0m3 1h0m3 6h0m7-4h0m5 3h0m4 2h0m10-7h0m5 3h0m17 1h0m33-4h0m1-1h0m6 2h0m24 2h0m-154 10h0m4-2h0m2-1h0m3 3h0m2-2h0m0 1h0m10-1h0m0 4h0m2-3h0m0-3h0m6 0h0m0 3h0m3 0h0m0 0h0m7-2h0m1 0h0m2-1h0m2 0h0m1 1h0m9 5h0m8-4h0m2 4h0m14-1h0m1-4h0m0 4h0m2 1h0m0-3h0m1 3h0m0-5h0m2 2h0m4 3h0m0-7h0m1 4h0m2 2h0m0-3h0m1 4h0m0-6h0m1-1h0m0 0h0m4 4h0m9 3h0m2-5h0m1 1h0m3-2h0m0 3h0m8-3h0m4 2h0m1 3h0m5-3h0m3 0h0m0 2h0m2-6h0m5 4h0m3 3h0m1-1h0m4-3h0m3 2h0m2 1h0m-154 2h0m2 0h0m1 6h0m0-5h0m1 0h0m3 5h0m0-2h0m4 0h0m1 3h0m1 1h0m1-4h0m1 4h0m0-3h0m1-4h0m1 5h0m0-5h0m0 2h0m1 2h0m1 0h0m2 3h0m0-1h0m1-4h0m1-2h0m3 2h0m3-2h0m0 6h0m1-5h0m1 2h0m0-1h0m3 4h0m0-5h0m1 2h0m0 4h0m1-8h0m1 0h0m1 2h0m3-2h0m1 6h0m0 1h0m1-6h0m2-1h0m5 4h0m1 3h0m1 0h0m1-4h0m2 1h0m0 0h0m1-1h0m2-2h0m3 5h0m2-1h0m0 1h0m1-3h0m0 5h0m4-5h0m1 4h0m2-6h0m0 6h0m0-1h0m1 0h0m0 1h0m4-2h0m1 1h0m2-2h0m0 3h0m2-4h0m1 1h0m1 1h0m1-2h0m1 0h0m1 4h0m0-7h0m1 7h0m0-7h0m3 2h0m0-2h0m2 5h0m1 2h0m1 1h0m1 0h0m1-1h0m0 0h0m1-5h0m3 2h0m0 0h0m2 1h0m2-1h0m1-1h0m1 3h0m1-2h0m1 4h0m1-2h0m3-1h0m1 1h0m0-1h0m0 2h0m1-6h0m1 4h0m1-4h0m0 3h0m6 1h0m1-4h0m6 1h0m3 2h0m0-3h0m1 2h0m0-2h0m1 5h0m1-5h0m1 0h0m0 3h0m3-2h0m1 0h0m3 1h0m4 1h0m0-3h0m1-1h0m0 5h0m2 1h0m1-5h0m0 2h0m3 1h0m1 2h0m1-1h0m-159 5h0m0-1h0m1 0h0m1 6h0m1 0h0m3-3h0m4 2h0m0-3h0m1-1h0m1 6h0m0-1h0m0-4h0m2-1h0m1-2h0m1 1h0m2 4h0m4-2h0m0-3h0m1 7h0m1-5h0m0 1h0m1 2h0m2-4h0m0 0h0m1 5h0m0-4h0m3 2h0m0-2h0m2 4h0m0-1h0m1 0h0m0-3h0m0 4h0m1-1h0m0 2h0m2-6h0m1 6h0m1 0h0m5-1h0m1-5h0m0 5h0m0-5h0m3 3h0m0-2h0m1-1h0m1 5h0m0-1h0m2-5h0m3 4h0m1-3h0m0 3h0m6 3h0m4-6h0m1 5h0m1-2h0m0 1h0m1-4h0m2 0h0m0 2h0m1 4h0m1-2h0m0-5h0m0 1h0m2 1h0m3 3h0m1 0h0m1 1h0m2-4h0m0-1h0m4 1h0m1 3h0m0-1h0m1 0h0m0-2h0m2-1h0m2-1h0m0 5h0m1-5h0m2 4h0m1-2h0m1 1h0m0 0h0m1-3h0m1 7h0m0 0h0m2-5h0m3-1h0m2 1h0m0 5h0m1 0h0m0-1h0m0-4h0m1 2h0m2 0h0m0-4h0m0 4h0m1-2h0m0 5h0m2 1h0m2-4h0m0-1h0m1 1h0m1 3h0m1-4h0m2-1h0m0-1h0m1 5h0m3-2h0m2 1h0m1 2h0m0-1h0m1-3h0m2-1h0m0 2h0m0 3h0m1-1h0m1 1h0m0-1h0m3-4h0m1 0h0m2 5h0m1 0h0m0-4h0m0 0h0m2-2h0m5 6h0m0 0h0m1-2h0m0 1h0m2-5h0m1 3h0m0-2h0m2 2h0m1 3h0m3-7h0m0 4h0m2-1h0m-158 7h0m8 4h0m0-4h0m1-1h0m4-1h0m2 3h0m3-2h0m4 1h0m1 4h0m2-1h0m3-2h0m0-3h0m0 1h0m1 0h0m2 2h0m1-2h0m0 1h0m14-1h0m1-1h0m4 2h0m2-2h0m1 7h0m0-6h0m1 2h0m1-2h0m2 3h0m0 0h0m0-2h0m1 2h0m2-3h0m1 4h0m1-1h0m3 3h0m2-7h0m3 4h0m1-3h0m2 1h0m1 2h0m1-1h0m2 0h0m0 0h0m5-2h0m0 4h0m7-4h0m0 5h0m0 1h0m1-7h0m2 1h0m1 6h0m0-2h0m1-1h0m2 2h0m0-3h0m4-2h0m1 6h0m3-2h0m0-4h0m1 0h0m2 2h0m1-3h0m2 7h0m1-4h0m1 2h0m2 0h0m6-3h0m0-1h0m4 5h0m1 0h0m1-4h0m1 1h0m2 1h0m5-1h0m2 5h0m1-3h0m1 0h0m2 1h0m3-4h0m5-1h0m1 0h0m3-1h0m3 3h0m0-1h0m2 2h0m1 4h0m-157 3h0m1-3h0m5 7h0m17-6h0m7 3h0m8-3h0m7 0h0m5 2h0m6 0h0m9-1h0m5 2h0m11 0h0m6 4h0m2-8h0m4 3h0m5 2h0m24-4h0m2 0h0m6 1h0m4 4h0m6-1h0m0-1h0m1-3h0m8 4h0m3-1h0m-155 4h0m76 1h0m37 0h0m29 8h0" stroke="#ffffff" stroke-width="1.60" stroke-linecap="round" fill="none" stroke-opacity="0.6"/>
<path transform="scale(.5)" d="M805 59h0m-7 8h0m11-1h0m2 0h0m3-4h0m9 5h0m2-1h0m49-2h0m4-1h0m35 0h0m3-1h0m3 2h0m-131 6h0m2 5h0m3 0h0m8-2h0m1 0h0m6 2h0m10-3h0m10-2h0m8-1h0m3 3h0m1 4h0m4-5h0m1-1h0m13 6h0m2-8h0m0 6h0m3 0h0m3 0h0m3-3h0m5-2h0m9 4h0m3 0h0m11 1h0m12 0h0m1-6h0m8 1h0m2 6h0m8 1h0m6-1h0m0-1h0m-153 9h0m4 0h0m1 1h0m2-4h0m0 4h0m5-2h0m2-5h0m1 2h0m1 4h0m3-7h0m0 5h0m3-1h0m4 0h0m2 1h0m3-1h0m4 0h0m1-3h0m2 0h0m1 3h0m0 3h0m13-3h0m10-1h0m1 1h0m0-2h0m0 1h0m5 4h0m2-5h0m0-1h0m1 7h0m5-5h0m0 1h0m4 0h0m1 2h0m0-2h0m4 3h0m1-5h0m3 3h0m1 2h0m1-4h0m4 4h0m0-3h0m1 2h0m2 0h0m0-3h0m3 1h0m7 1h0m2-2h0m0 3h0m2 1h0m4-4h0m2 5h0m4-8h0m4 7h0m0-7h0m2 7h0m0-1h0m3-4h0m1 2h0m13 1h0m6-4h0m5 6h0m0 0h0m-154 4h0m2 1h0m14 2h0m7-1h0m1-3h0m0 5h0m0-5h0m5 2h0m1-1h0m7 3h0m1 0h0m7 1h0m0 0h0m7-2h0m3 2h0m7-3h0m0-2h0m1 1h0m7-2h0m4 3h0m4 3h0m1 1h0m1-2h0m2-3h0m0-1h0m1 5h0m1-6h0m0 5h0m1-3h0m2 3h0m1-2h0m5 2h0m2-3h0m1-1h0m3 0h0m5-1h0m3 3h0m0 0h0m9-2h0m3 3h0m3-2h0m0 4h0m3-5h0m5 1h0m3-1h0m11 5h0m0-7h0m0 2h0m2-1h0m0 7h0m1 0h0m3-7h0m0 4h0m-152 6h0m9-1h0m10-1h0m0 4h0m7-3h0m9-2h0m8 4h0m14-1h0m1 4h0m8-6h0m0 2h0m12-1h0m0 3h0m2 2h0m4-6h0m2 0h0m6 3h0m8 3h0m2 0h0m5 1h0m0-4h0m2-3h0m4 3h0m5-3h0m4 1h0m2 0h0m1 1h0m2 2h0m5-3h0m10 0h0m5-1h0m1 7h0m2-2h0m1-6h0m-151 11h0m24-3h0m27 1h0m12 3h0m2 0h0m7-4h0m14 5h0m5-2h0m14 10h0" stroke="#e9756d" stroke-width="1.60" stroke-linecap="round" fill="none"/>
<path transform="scale(.5)" d="M800 57h0m63 2h0m-47 8h0m29-2h0m22 3h0m8-2h0m3-5h0m3 5h0m7 1h0m18-3h0m9 3h0m11 1h0m-133 1h0m0 1h0m13 5h0m0-3h0m2 0h0m4 4h0m3-3h0m5 2h0m3-5h0m3 4h0m3-2h0m4 1h0m1-5h0m8 5h0m2 1h0m3-1h0m3 1h0m9-3h0m3 4h0m4 0h0m4-5h0m4 5h0m3 1h0m11 0h0m0-1h0m6-3h0m7 0h0m0 2h0m1-6h0m6 0h0m3 5h0m2 1h0m4 0h0m1-3h0m13 2h0m-151 10h0m2-1h0m0-5h0m1 6h0m2-1h0m5 0h0m0-4h0m2 2h0m2-4h0m1 1h0m1 2h0m6 3h0m2 0h0m0-2h0m8 4h0m1-1h0m1-3h0m7 0h0m2 0h0m1-2h0m2 0h0m0 5h0m2-2h0m3-4h0m1 3h0m3 1h0m1 2h0m0-6h0m5 6h0m1-2h0m2 2h0m4-2h0m2 1h0m7-4h0m3 2h0m1-1h0m4 1h0m0 2h0m5 2h0m1-4h0m3-4h0m4 8h0m0-8h0m2 5h0m9-4h0m0 4h0m4 3h0m2-1h0m3-1h0m0-5h0m0 5h0m1 0h0m4-2h0m3 1h0m0-1h0m0-1h0m1 4h0m0-1h0m1-3h0m1-2h0m0 0h0m4 4h0m3-4h0m2 6h0m0-6h0m0 1h0m1 5h0m0-5h0m5-1h0m3 4h0m0 2h0m3 0h0m0-1h0m1 0h0m1-3h0m2 2h0m3-2h0m2 0h0m-157 8h0m1-2h0m5 5h0m1-4h0m1 4h0m2-2h0m2 4h0m13-4h0m3 1h0m2 1h0m4 1h0m1-4h0m0 2h0m3-1h0m1 0h0m7-4h0m3 2h0m2 6h0m0-2h0m0-4h0m1-1h0m6 6h0m3-3h0m3 4h0m1-1h0m3-1h0m0-4h0m6 0h0m5 1h0m1 1h0m1 4h0m4-6h0m0 0h0m1 4h0m0-2h0m3 2h0m0-1h0m1 0h0m1-1h0m3 0h0m3 2h0m1-4h0m10 0h0m8 2h0m1-3h0m5 7h0m0-2h0m2 2h0m1-6h0m5 5h0m1-2h0m3 1h0m3-3h0m2 0h0m2 1h0m3-4h0m3 1h0m0 2h0m3-1h0m2 4h0m-154 5h0m1 4h0m1-3h0m0-3h0m7-1h0m3 2h0m1 4h0m2 1h0m1-4h0m3 5h0m1-5h0m1 2h0m2 2h0m0-6h0m7 5h0m2-1h0m8-3h0m9 6h0m4-1h0m2-7h0m4 1h0m3 0h0m1 0h0m3 4h0m0 2h0m13-3h0m5-1h0m1 0h0m10-3h0m1 0h0m1 0h0m3 8h0m1-7h0m1 7h0m5-8h0m9 3h0m0 1h0m1 1h0m1-3h0m3 0h0m2 2h0m7-4h0m2 1h0m3 0h0m9 4h0m15-4h0m-128 13h0m1-1h0m9-3h0m1-2h0m31 1h0m14 1h0m38-1h0m28 3h0m3-3h0m-47 9h0m-76 10h0" stroke="#df9830" stroke-width="1.60" stroke-linecap="round" fill="none"/>
<path transform="scale(.5)" d="M859 49h0m13 1h0m8 2h0m3 0h0m0-6h0m24 0h0m5 4h0m28-2h0m-95 12h0m27-7h0m3 5h0m1 0h0m5-1h0m0-5h0m1 4h0m0 3h0m0-3h0m2 0h0m5-2h0m3 4h0m1-2h0m3-1h0m1 1h0m2 3h0m1 0h0m2-2h0m0 0h0m3 2h0m2-2h0m1 0h0m0 0h0m6-4h0m5 6h0m4 0h0m5-4h0m14 4h0m-121 7h0m16-3h0m8 1h0m0 2h0m7 2h0m1-1h0m4 0h0m3-2h0m0-1h0m0-1h0m3 4h0m1 0h0m1-3h0m0-1h0m0 1h0m8 4h0m1-5h0m8-2h0m1 5h0m4-4h0m1 2h0m0 1h0m2-4h0m3 6h0m1-4h0m0 1h0m1 3h0m1-2h0m0 2h0m1-3h0m0 3h0m1-7h0m0 6h0m8 1h0m0 1h0m1-1h0m3-5h0m2 4h0m1 0h0m1 1h0m3-1h0m0 1h0m2-3h0m1-2h0m1 2h0m4 3h0m0 0h0m6-2h0m2-4h0m3 1h0m0 5h0m2-1h0m0 1h0m1-5h0m4-1h0m0 2h0m12-3h0m10 7h0m-115 8h0m0-6h0m5 0h0m1 3h0m4 4h0m2-1h0m1 0h0m1-3h0m1-4h0m6 4h0m2 0h0m2-1h0m1 2h0m0 3h0m0-2h0m2 0h0m0-6h0m3 2h0m1 6h0m1-6h0m0 4h0m1-1h0m1-1h0m0-3h0m0 2h0m0-1h0m3-1h0m2 0h0m1 7h0m0-3h0m0 2h0m2 0h0m0-1h0m2-5h0m2 6h0m1-7h0m2 1h0m0 2h0m1-2h0m0 0h0m1-1h0m1 3h0m0 1h0m0 0h0m2-2h0m3 1h0m1-2h0m1 4h0m1-2h0m0 4h0m0-1h0m0-3h0m1 4h0m5-6h0m0 6h0m1-4h0m0 0h0m3 0h0m0-2h0m2 1h0m1-1h0m1 5h0m1 1h0m0-3h0m5 2h0m1-1h0m0 1h0m1 0h0m8-5h0m2 0h0m2 1h0m2 3h0m21-3h0m-122 12h0m2 0h0m0-5h0m0 4h0m8-4h0m2 5h0m1-5h0m3 1h0m4-1h0m1 6h0m0-4h0m0 0h0m8-2h0m6 5h0m0 1h0m0-7h0m4 7h0m1-1h0m3 2h0m0-7h0m1 1h0m0 0h0m1 0h0m1-2h0m0 6h0m1 1h0m1-4h0m0-2h0m0 1h0m1 4h0m0-2h0m0 4h0m0-5h0m1-1h0m1 2h0m0 2h0m0-1h0m1-5h0m2 8h0m0-5h0m0 5h0m2-2h0m0-4h0m0-2h0m0 3h0m1 4h0m0-2h0m3 2h0m0-5h0m1 0h0m0 4h0m1 0h0m1-6h0m0 0h0m0 7h0m2-5h0m2 0h0m2 4h0m0 2h0m3-4h0m3-2h0m10 3h0m7-1h0m9 3h0m26 1h0m-133 2h0m9 2h0m6-2h0m18 1h0m4-1h0m4 3h0m0-1h0m1-3h0m3 0h0m0 0h0m4 0h0m1 0h0m3 6h0m1-5h0m1 4h0m7-2h0m7 0h0m4-2h0m7 4h0m8 0h0m14-5h0m13 3h0m-104 6h0m41 1h0m10-1h0m15 4h0m1-6h0" stroke="#5c4484" stroke-width="1.60" stroke-linecap="round" fill="none"/>
<path transform="scale(.5)" d="M805 67h0m2 0h0m5-2h0m30 3h0m-53 3h0m0 2h0m1-3h0m1 3h0m9-2h0m2 3h0m3 1h0m0-2h0m14-4h0m1 5h0m2-2h0m5 1h0m1 1h0m20 2h0m-66 3h0m4 2h0m3 0h0m1-4h0m1 2h0m0 4h0m3 1h0m1-3h0m1 2h0m1 1h0m0-5h0m0 0h0m2 3h0m0-6h0m3 7h0m0-5h0m1 0h0m0 6h0m1-6h0m0 1h0m2 3h0m0 0h0m2-3h0m0-1h0m3 0h0m1 2h0m0-3h0m2 3h0m3 0h0m2 2h0m0-3h0m0 1h0m1 2h0m0-2h0m0-1h0m1 0h0m2 5h0m0-2h0m1 1h0m0-5h0m0 3h0m2 1h0m0 0h0m2-6h0m0 1h0m2 2h0m3 5h0m1-1h0m1-4h0m3 4h0m1 0h0m1-6h0m2 0h0m2 0h0m2 1h0m-67 7h0m3 6h0m1-7h0m0 7h0m1-6h0m3 2h0m0-2h0m1 4h0m1-2h0m0-2h0m4 6h0m0-5h0m2 1h0m0 4h0m0 0h0m1-1h0m0-4h0m0 1h0m1-3h0m0 4h0m0-3h0m0 6h0m2-7h0m1 8h0m0-1h0m1-5h0m1-1h0m0 2h0m0 1h0m1-1h0m0 1h0m1-4h0m1 5h0m1 0h0m1-3h0m0 5h0m1-3h0m0-4h0m0 3h0m2 3h0m1-6h0m0 0h0m2 5h0m0 2h0m1-1h0m0 1h0m0-4h0m2 5h0m2-6h0m1 4h0m0 0h0m2-5h0m1 3h0m1 2h0m1 0h0m0-4h0m0 2h0m2 1h0m0 0h0m0-1h0m0-1h0m1 2h0m2 0h0m2 2h0m2-3h0m0 3h0m2-6h0m1-1h0m1 3h0m2 0h0m1 4h0m0-7h0m2 3h0m2-1h0m8 0h0m-75 13h0m10-7h0m5 5h0m4-4h0m0 0h0m9 0h0m0 0h0m1 0h0m4 7h0m0-7h0m2-1h0m1 2h0m1 2h0m2-4h0m0 6h0m3-5h0m1-1h0m0 5h0m1-4h0m2 0h0m2 7h0m6-8h0m4 4h0m2-1h0m2 3h0m3-2h0m-45 5h0" stroke="#72ad82" stroke-width="1.60" stroke-linecap="round" fill="none"/>
<path transform="scale(.5)" d="M940 45h0m1 2h0m2 3h0m1-5h0m0 1h0m0 3h0m2 1h0m0-1h0m6 3h0m1-1h0m0 0h0m-10 2h0m6 4h0m2 0h0m2 0h0m1-2h0m1-1h0m1 4h0m0-2h0m2 3h0m1-1h0m0 2h0m0-2h0m0-3h0m0 1h0m1 0h0m0 3h0m2 6h0m1 0h0m2 0h0m0 2h0m1-5h0m0 5h0m3 0h0m2 0h0m1 0h0m4 0h0m-6 4h0m0-3h0m2 2h0m2 5h0m0-4h0m1 2h0m0 2h0m0-1h0m0-4h0m6 5h0m-7 2h0m9 4h0m1 2h0m0 1h0m1-3h0m0-4h0m0 6h0m1-1h0m1-1h0m4 1h0m-10 4h0m1 0h0m1 1h0m0 3h0m1-5h0m2 1h0m1 1h0m0-3h0m0 2h0m1 2h0m0-1h0m1-2h0m0 3h0m0-1h0m1 3h0m1-6h0m1 6h0m1 0h0m-5 5h0m3 1h0m1 0h0m9 3h0m-11 2h0m5 0h0m1 5h0m1-3h0m0-3h0m0 3h0m1 3h0m2-4h0m0 3h0m0 1h0m1-5h0m0 2h0m0 4h0m-5 2h0m0 5h0m3 2h0m1-5h0m0 1h0m1-3h0m0 1h0m2 2h0m0 1h0m0-5h0m2 4h0m1 3h0m-5 2h0m1 7h0m0-5h0m0 0h0m1 3h0m0-1h0m2-3h0m0-2h0m2 1h0m4 1h0m-4 10h0m0-2h0m2 4h0m3-4h0m0 0h0m0 0h0m1 1h0m1 4h0m0-7h0m1 4h0m0 0h0m2 1h0m1 3h0m1 4h0m0-1h0m3 3h0m0-3h0m1 4h0m0-2h0m1-4h0m0 2h0m0 3h0m2-1h0m4 3h0m-36 119h0m0-1h0m1 1h0m1 0h0m2 1h0m2-3h0m1 1h0m0 0h0m1 1h0m-23 8h0m2 0h0m1-2h0m0 3h0m6-5h0m0 3h0m0 0h0m3-3h0m1 4h0m2-7h0m0 2h0m1 0h0m0 0h0m1 3h0m5-5h0m-31 13h0m4 1h0m1 0h0m0 0h0m1-2h0m0 2h0m0 1h0m0-2h0m3-2h0m0 3h0m2-1h0m4-5h0m1 1h0m0 3h0m1-4h0m5 0h0m-28 13h0m1 1h0m1 1h0m1-2h0m1 1h0m0-1h0m1 1h0m1-1h0m0 2h0m2-6h0m0 1h0m1 0h0m2-1h0m1 1h0m-17 11h0m0 1h0m1 0h0m1-1h0m0-3h0m1 3h0m0 2h0m2-4h0m0 2h0m0-2h0m3-2h0m0-1h0m0 0h0m-22 16h0m1-2h0m3 1h0m5-3h0m0-3h0m1 6h0m1-3h0m2-3h0m5-1h0m-136 15h0m2-1h0m103 2h0m3-1h0m0-1h0m1 2h0m2-1h0m3-5h0m0 0h0m1 4h0m0-5h0m0 4h0m2 0h0m0-3h0m0 1h0m1 1h0m1-2h0m2 1h0m1 0h0m0 1h0m1-1h0m-126 7h0m1 1h0m1 3h0m1 1h0m2 0h0m2-4h0m0-1h0m1 3h0m1-1h0m2-2h0m1 6h0m0-3h0m1-2h0m1 1h0m0 4h0m1-3h0m71 3h0m3-1h0m3-1h0m2 0h0m0 1h0m10-4h0m0 5h0m1-8h0m1 8h0m0-7h0m1 3h0m1 0h0m2-2h0m1 0h0m1-1h0m4 1h0m0-2h0m-108 8h0m5 4h0m2 0h0m1 3h0m1-5h0m1 5h0m0-2h0m1 1h0m1-4h0m0 0h0m2 5h0m1-5h0m0 1h0m1 4h0m1-1h0m1-1h0m1 0h0m0-4h0m3 3h0m0 0h0m0 0h0m0 3h0m1-5h0m1 5h0m3-3h0m1 3h0m0 0h0m1 0h0m2-4h0m0 1h0m4 1h0m0 0h0m1 2h0m1-3h0m0 0h0m1 3h0m1 1h0m0-1h0m2 1h0m3-3h0m3 0h0m0 0h0m3 2h0m0-1h0m0 1h0m3-1h0m3 1h0m0 0h0m0-1h0m2-2h0m1 2h0m3 2h0m0-3h0m2-1h0m1 2h0m0 1h0m4-3h0m1 2h0m6-5h0m1 1h0m1 5h0m0-2h0m2 0h0m0 3h0m2-3h0m2 0h0m0-2h0m1-1h0m1 3h0m0-3h0m1 2h0m2-3h0m2 1h0m2 0h0m1-1h0m-68 7h0m11 2h0m6-1h0m1 2h0m0 0h0m2 3h0m0-5h0m1 1h0m1 0h0m1 0h0m0-1h0m1-1h0m4 1h0m2 3h0m4-1h0m9-3h0" stroke="#df9830" stroke-width="1.60" stroke-linecap="round" fill="none"/>
<path transform="scale(.5)" d="M770 90h0m3 2h0m2-2h0m2-1h0m2 0h0m2-1h0m1 3h0m-17 2h0m2 3h0m1-1h0m1 1h0m1-1h0m0 3h0m0-2h0m0 1h0m1 2h0m1-3h0m2-3h0m3 0h0m-18 14h0m2 1h0m1 0h0m2-4h0m0 2h0m1-5h0m0 5h0m1-3h0m2 2h0m-10 8h0m1 3h0m1-6h0m0 3h0m0 2h0m0-2h0m1 2h0m3-6h0m1 4h0m-14 7h0m3 2h0m0-4h0m3 5h0m1-6h0m0-1h0m0 3h0m1 1h0m0-1h0m-5 11h0m1-1h0m1 3h0m1-4h0m0 0h0m1 1h0m0-1h0m2 2h0m0-3h0m1-3h0m0 2h0m-7 6h0m2 4h0m0 0h0m0 0h0m0 1h0m1 0h0m1-3h0m1 5h0m1-1h0m2-5h0m-7 9h0m1 1h0m1 1h0m0 2h0m2-1h0m1 1h0m2-5h0m-9 8h0m0 0h0m2 1h0m1 0h0m0-2h0m3 1h0m-4 11h0m0-1h0m2 1h0m1 0h0m0 3h0m0 1h0m1-1h0m0-6h0m1 0h0m4 4h0m-10 4h0m1 3h0m0 2h0m1 0h0m1-3h0m1 2h0m1 1h0m0 1h0m0-6h0m0 1h0m1 3h0m2 1h0m-6 6h0m1-2h0m1 3h0m2-1h0m0-3h0m0 6h0m1-2h0m0 3h0m1-5h0m-2 11h0m1-5h0m1 5h0m1 2h0m1-6h0m-4 8h0m2 3h0m1 2h0m0-4h0m1 0h0m0 3h0m1-4h0m1 3h0m4 2h0m-8 3h0m2 1h0m0 1h0m2-3h0m0 3h0m3-1h0m-8 6h0m1 2h0m2 1h0m5 4h0m0-5h0m1 4h0m0-4h0m2 3h0m2 0h0m1-5h0m-6 14h0m0-1h0m0-5h0m3 0h0m0 6h0m1-6h0m1 5h0m1-2h0m0 3h0m2-1h0m-9 4h0m3 0h0m1 2h0m0-1h0m2 3h0m0-6h0m1 1h0m0 6h0m1-6h0m0 5h0m0 1h0m-5 7h0m2-5h0m1 3h0m1 0h0m2-3h0m1 5h0m1-4h0m1 3h0m0-3h0m0 3h0m1 3h0m0-2h0m2-1h0m-5 6h0m1 1h0m1-2h0m1 5h0m1-1h0m3 1h0m0-3h0m-2 11h0m0-6h0m1 4h0m0-4h0m2 0h0m0 3h0m1 4h0m2-3h0m2 1h0m-6 3h0m0 4h0m1-4h0m1 5h0m2-3h0m2 1h0m2 0h0m1 1h0m1 0h0m-10 4h0m6-1h0m0 1h0m0 7h0m1-7h0m1 3h0m1-2h0m1 2h0m0-2h0m1 4h0m1 1h0m3 0h0m-5 5h0m0-3h0m3 5h0m0-1h0m1 2h0m1-4h0m2 4h0m-5 2h0m1 3h0m0-3h0m1 0h0m2 2h0m0 1h0m0 6h0m1-2h0m1 3h0m0-1h0m1 0h0m0-1h0m1 1h0m0 4h0m1-1h0m1 2h0m0-5h0m0 1h0m0 8h0m0 4h0m0-6h0m0 4h0m2-5h0m0 1h0m2 1h0m1 6h0m1 0h0m2-3h0m1 0h0m-6 6h0m0-2h0m2 1h0m0-1h0m0 1h0m1 4h0m1-5h0m1 4h0m1-1h0m0-1h0m0 3h0m2-5h0m1 5h0m0-4h0m1 3h0m3 0h0m-3 7h0m2-1h0m1 0h0m1-1h0" stroke="#e9756d" stroke-width="1.60" stroke-linecap="round" fill="none"/>
<path transform="scale(.5)" d="M1026 140h0m3 3h0m0 1h0m0-3h0m0 3h0m1 2h0m1-5h0m0 1h0m0 4h0m0-3h0m1-1h0m1 4h0m2-2h0m0 3h0m0-2h0m0-3h0m2 2h0m1 1h0m0 3h0m-1 5h0m1-4h0m1 2h0m2 0h0m0 1h0m1 1h0m1 0h0m1-1h0m0 2h0m1 0h0m0-4h0m0 3h0m1 2h0m1 0h0m1-2h0m4 3h0m-10 0h0m1 3h0m2 0h0m2 0h0m4 2h0m1-3h0m1 3h0m1-3h0m0 5h0m0 1h0m2-7h0m0 6h0m2 2h0m1 1h0m1 2h0m0-3h0m2 3h0m1 4h0m0-3h0m-3 5h0m4-1h0m1 1h0m0 5h0m1-6h0m2 5h0m0-3h0m0-2h0m1-1h0m2 0h0m0 2h0m0 5h0m1-5h0m0 3h0m-4 7h0m3 1h0m3-1h0m1 2h0m1-5h0m0 6h0m0-3h0m0 2h0m1-4h0m1 3h0m1 3h0m2-1h0m0-6h0m-9 7h0m1 1h0m1 1h0m2-1h0m1 1h0m0 5h0m1-4h0m3 2h0m0 1h0m3 0h0m-5 5h0m0 2h0m3-1h0m0-1h0m2 1h0m1-4h0m1 4h0m-10 8h0m3 2h0m0-2h0m1-3h0m0 4h0m1 1h0m2 1h0m0-4h0m1-1h0m1 0h0m-15 12h0m7-6h0m0 1h0m1 1h0m0 6h0m0-8h0m2 7h0m-19 9h0m1-1h0m2-3h0m1 2h0m0-3h0m1 2h0m1-1h0m3-2h0m1-1h0m1 3h0m0-2h0m1 0h0m1 0h0m1-2h0m1 6h0m2-3h0m-35 12h0m1-1h0m0 2h0m0-1h0m3-3h0m4-3h0m1 1h0m1 4h0m1-1h0m0-3h0m0 2h0m0 1h0m2-1h0m0-2h0m2 1h0m1-2h0m0 1h0m0 4h0m1-4h0m1-2h0m2 2h0m4-2h0m-42 11h0m1 4h0m0 0h0m3-2h0m0-2h0m2 0h0m1-1h0m2 3h0m0-3h0m1 4h0m0 0h0m2 0h0m1-1h0m0-5h0m2 1h0m0-1h0m3 6h0m1-5h0m1 0h0m1-1h0m4 0h0m2 1h0m-45 14h0m0 0h0m0-1h0m2-1h0m1 1h0m0-1h0m4 2h0m0 0h0m1-6h0m1 6h0m2-1h0m0-3h0m1 1h0m0-1h0m1 3h0m0-1h0m1-2h0m1-2h0m3 4h0m4-5h0m4 3h0m2-1h0m-34 9h0m0 0h0m1-1h0m1 2h0m2-2h0m0-1h0m5 2h0m7-1h0m8-2h0" stroke="#a9a9d1" stroke-width="1.60" stroke-linecap="round" fill="none"/>
<path transform="scale(.5)" d="M885 18h0m-21 7h0m8-1h0m1 2h0m0-3h0m2 5h0m1-6h0m1 5h0m1-6h0m1 2h0m0 0h0m0-2h0m1 4h0m2 3h0m2-4h0m0-1h0m2 0h0m0-3h0m0 3h0m3 0h0m0 1h0m0 0h0m0-3h0m1 5h0m3-1h0m0 0h0m0-2h0m1 0h0m1-2h0m0 4h0m1-3h0m1 1h0m0 5h0m3-2h0m1-2h0m4 3h0m1-4h0m0 2h0m1-2h0m2 2h0m1-5h0m0 2h0m1 3h0m1 1h0m1 1h0m0-1h0m2-4h0m0 2h0m1-2h0m1 5h0m3 0h0m5 1h0m3-1h0m-65 4h0m1 0h0m1 3h0m2-3h0m2-2h0m0 0h0m1 3h0m3-4h0m2 1h0m2 0h0m1 1h0m17-1h0m6 0h0m12-1h0m0 2h0m5 3h0m1-4h0m2 2h0m0-1h0m1-2h0m1 4h0m0 2h0m0 1h0m0-6h0m2 0h0m4 4h0m1-1h0m4 3h0m1 1h0m0-4h0m-75 5h0m1 3h0m2-4h0m69 6h0m0-6h0m3 1h0m0 0h0m0 7h0m1-6h0m1-1h0m0 2h0m1-2h0m0 5h0m1 2h0m1-6h0m-5 7h0m2 5h0" stroke="#5c4484" stroke-width="1.60" stroke-linecap="round" fill="none"/>
<path transform="scale(.5)" d="M802 43h0m-11 8h0m4-2h0m1 2h0m1-1h0m0-5h0m2 2h0m1 4h0m1-3h0m1-1h0m0 1h0m0 0h0m4-2h0m0 1h0m0 2h0m3-1h0m2-1h0m0 3h0m1-1h0m2-2h0m0 2h0m3-3h0m1 3h0m0-3h0m1 3h0m1 0h0m-34 10h0m0 0h0m1-1h0m1-4h0m1 5h0m0-2h0m1-1h0m0 1h0m1-1h0m1 1h0m3-2h0m5 0h0m0-1h0m3 0h0m6-1h0m4-1h0m0 1h0m1 1h0m2-1h0m0 1h0m2 2h0m-35 12h0m3-7h0m1 5h0m0 1h0m1-6h0m2 7h0m0-2h0m0-1h0m1-2h0m2 0h0m1 0h0m-14 11h0m1-2h0m2 2h0m1-2h0m1 1h0m1-4h0m1 6h0m1-5h0m-8 11h0m1 2h0m0-2h0m1 2h0m0-5h0m0-1h0m1 5h0m-14 5h0m8-3h0" stroke="#72ad82" stroke-width="1.60" stroke-linecap="round" fill="none"/>
<path transform="scale(.5)" d="M830 33h0m9 2h0m3 0h0m1-4h0m12 0h0m0 5h0m4-2h0m-38 9h0m2-1h0m1 2h0m0-3h0m3 0h0m2-2h0m0 2h0m0 1h0m0-3h0m3 4h0m1-4h0m1 4h0m2-2h0m0 0h0m1-4h0m0 6h0m2-6h0m3 1h0m1 2h0m0-3h0m2 2h0m0 1h0m1 1h0m3-2h0m0-1h0m2 3h0m0 1h0m0-2h0m2-3h0m2-1h0m1 3h0m0 3h0m2-4h0m1-1h0m1 3h0m-40 7h0m0 0h0m1-3h0m1 2h0m12 1h0" stroke="#2f7449" stroke-width="1.60" stroke-linecap="round" fill="none"/>
<path transform="scale(.5)" d="M846 91h0m5 1h0m1-2h0m12 1h0m4 1h0m-47 3h0m2 4h0m2 0h0m3-3h0m4 3h0m2-3h0m12-3h0m0 6h0m2-1h0m0-2h0m1 1h0m1-4h0m1 6h0m0-2h0m6 3h0m3-5h0m1 2h0m1 3h0m0-2h0m13-4h0m-50 8h0m8 0h0m3 4h0m3 0h0m4-2h0m2 2h0m2-3h0m1 5h0m0-7h0m2 2h0m1 1h0m0 0h0m2 1h0m2 0h0m0-3h0m8 0h0m0 4h0m2-2h0m4 2h0m-49 8h0m10-4h0m2 3h0m0-3h0m4 3h0m0 1h0m2 1h0m0-4h0m1 3h0m1-4h0m2 2h0m1 2h0m1 0h0m0 1h0m2-2h0m1-3h0m0-1h0m2 1h0m2-2h0m0 8h0m1-7h0m2 7h0m1-2h0m0-2h0m0-1h0m2-3h0m4 2h0m2-1h0m5 0h0m0 1h0m-43 9h0m7 4h0m3 0h0m0-6h0m1 6h0m2-2h0m1 2h0m0-2h0m2 0h0m3 0h0m0-3h0m0-1h0m3 4h0m1-5h0m2 3h0m1 1h0m6-3h0m3-1h0m4 0h0m7 1h0m-49 13h0m11 0h0m4-1h0m0-4h0m3 4h0m0-3h0m2 1h0m2 0h0m0 1h0m2-3h0m1 4h0m1 2h0m0-5h0m1 4h0m0-3h0m1-1h0m0 4h0m2-2h0m2-3h0m2 3h0m0 0h0m18-4h0m9 5h0m-66 7h0m12-3h0m4 1h0m4-1h0m3 0h0m2 5h0m2-5h0m1-1h0m1 3h0m1-1h0m0-2h0m0 4h0m1 1h0m0 3h0m2-1h0m0-6h0m2 3h0m0 1h0m1 2h0m0-5h0m3 0h0m3 1h0m1 3h0m2-1h0m2-4h0m12 7h0m-49 7h0m7-3h0m2 0h0m1 1h0m5-5h0m1 2h0m0-1h0m3 7h0m0-4h0m0-3h0m1 3h0m1 0h0m0 2h0m1-5h0m4 0h0m1 6h0m1-2h0m9 2h0m0-7h0m5 0h0m1 8h0m-43 5h0m10-4h0m1 2h0m2 4h0m2-1h0m3-3h0m2 0h0m2-3h0m3 8h0m5-8h0m0 7h0m8-2h0m1-2h0m-52 13h0m7-1h0m17-2h0m0-2h0m2 1h0m0-1h0m1-2h0m3 0h0m0 4h0m0 2h0m1-2h0m1 1h0m1 2h0m0-1h0m4 1h0m4-8h0m2 4h0m1-3h0m2 4h0m-28 10h0m2-1h0m0-6h0m2 7h0m1-1h0m1-3h0m0 3h0m7 0h0m2 1h0m2-2h0m0-3h0m1 0h0m2 3h0m0-2h0m4-3h0m2 4h0m3-1h0m2-3h0m3 6h0m-47 9h0m10-4h0m2 4h0m4-1h0m0-5h0m1 2h0m3-1h0m3 1h0m1 4h0m0-3h0m4 2h0m3-3h0m0 1h0m0 2h0m5-3h0m1 4h0m2-1h0m0 0h0m3-2h0m5-4h0m7 3h0m-41 11h0m2-4h0m6 1h0m3 0h0m1 5h0m2-6h0m0 2h0m5 3h0m2-3h0m2-3h0m0 0h0m1 5h0m1-1h0m0-4h0m3 6h0m12-2h0m-50 10h0m15-1h0m3-5h0m1 6h0m2-1h0m1-6h0m0 1h0m0 2h0m1 2h0m2 0h0m1-1h0m1-1h0m1 4h0m1-3h0m1 3h0m14 0h0m3-1h0m-35 8h0m0-5h0m2 5h0m2-4h0m1 2h0m0-1h0m3 1h0m3 1h0m1-4h0m1 7h0m0-5h0m1-3h0m1 6h0m0-2h0m1-2h0m0-1h0m0 6h0m0-5h0m0-1h0m1-1h0m0 4h0m2-2h0m0-1h0m2 6h0m4-4h0m3 4h0m3 0h0m-33 2h0m0 1h0m0 0h0m4 1h0m6 3h0m2-3h0m1 4h0m2 1h0m1-3h0m1 2h0m1-1h0m1-3h0m0 1h0m1-3h0m2 0h0m1 2h0m0 3h0m0-5h0m3 3h0m1-2h0m2 0h0m7-2h0m-53 14h0m1-3h0m16 4h0m6-3h0m4 0h0m0-3h0m2 4h0m0 1h0m1-6h0m2 6h0m0-5h0m0 1h0m2 4h0m0-2h0m1 1h0m2-1h0m1-2h0m1 6h0m0-2h0m1-3h0m1 3h0m0 2h0m6-4h0m2-4h0m1 5h0m-43 11h0m11-8h0m2 6h0m3-2h0m1 0h0m2-2h0m1-1h0m1 1h0m2 5h0m1-2h0m0-1h0m2-4h0m1 7h0m3-2h0m2 2h0m2-5h0m1-1h0m0 4h0m0-3h0m2 4h0m2-6h0m7 5h0m7 1h0m-52 8h0m4-5h0m3 5h0m0 0h0m2 0h0m1 0h0m1-1h0m2-5h0m1 8h0m4-6h0m4-1h0m1 0h0m1 5h0m1-1h0m2-2h0m2 4h0m0-6h0m2 7h0m3-6h0m2 3h0m1-4h0m5 3h0m1-2h0m2 2h0m-51 4h0m10 4h0m4 3h0m2-4h0m3 4h0m6-1h0m1-5h0m0 7h0m1-7h0m2 4h0m3 1h0m2-2h0m0 0h0m2-1h0m0-1h0m2 4h0m2 0h0m1 0h0m1 1h0m0 1h0m1-7h0m2 1h0m1-1h0m12 4h0m7 1h0m-64 9h0m8 0h0m1-2h0m3 2h0m0-5h0m5-1h0m0 5h0m1 0h0m3-1h0m5-2h0m3 3h0m1-6h0m0 8h0m0-4h0m1 1h0m0 0h0m1 3h0m0-8h0m1 7h0m1-5h0m1 6h0m0-7h0m0 1h0m3 3h0m1 0h0m1-5h0m1 8h0m0-3h0m4-3h0m5 0h0m-34 10h0m3 0h0m1 0h0m1-2h0m1 1h0m1 3h0m0-3h0m5 1h0m1-2h0m0-1h0m1 6h0m4-1h0m0-1h0m2-1h0m5 2h0m5 1h0m3-3h0m7 2h0m0-1h0m0-1h0m-43 12h0m3-6h0m1 5h0m3-3h0m4-4h0m1 4h0m1 1h0m2-5h0m1 4h0m4-1h0m1 2h0m1 2h0m2-2h0m1-2h0m1 0h0m1-3h0m3 2h0m7 4h0m-49 8h0m19-2h0m1-3h0m0 5h0m2-6h0m0 5h0m1-2h0m0 1h0m1-4h0m1 5h0m2-1h0m4-1h0m2 3h0m0-5h0m1 4h0m0-5h0m1 0h0m0 4h0m1 2h0m0-2h0m1-3h0m2 6h0m5-6h0m-43 7h0m1 8h0m0-5h0m10 4h0m2-3h0m1 2h0m1-4h0m1-1h0m5 7h0m5-1h0m1 0h0m0-4h0m8-1h0m1 4h0m1-5h0m0 1h0m5 1h0m2 3h0m5 0h0m5-6h0m-44 16h0m2-5h0m2-2h0m4 3h0m2 3h0m1-4h0m1-3h0m1 2h0m1 2h0m3-3h0m2 2h0m3 5h0m1-5h0m1 3h0m1-2h0m0-2h0m2-1h0m1 6h0m8-2h0m4-2h0m4-2h0m6 5h0m-48 2h0m2 8h0m1-1h0m2-4h0m3 1h0m0 4h0m3-7h0m3 1h0m0 2h0m1 0h0m1 3h0m0 0h0m1-1h0m1-5h0m4 3h0m2-4h0m3 7h0m0-2h0m1 2h0m1-2h0m1-2h0m2-3h0m-36 13h0m2 0h0m2-2h0m4-1h0m4 5h0m1-6h0m0 2h0m0 1h0m1-1h0m0 2h0m3 0h0m1 1h0m1 1h0m1-5h0m4 5h0m2-4h0m0 5h0m2-1h0m8-4h0m2 2h0m1-3h0m1 5h0m13-1h0m-41 3h0m1-1h0m2 1h0m4 1h0m0-2h0m5 0h0m4 1h0" stroke="#e9756d" stroke-width="1.60" stroke-linecap="round" fill="none"/>
<path transform="scale(.5)" d="M808 91h0m13 0h0m6-1h0m7 2h0m2-1h0m6 0h0m-33 1h0m4 1h0m4 5h0m4 0h0m1 0h0m1 1h0m1-1h0m2-1h0m0 2h0m1-4h0m0 4h0m1-1h0m2 1h0m2-7h0m7 3h0m0 2h0m3-5h0m4 3h0m-40 8h0m2 3h0m1 0h0m1-5h0m4 1h0m4 3h0m1-4h0m1 6h0m1-1h0m2-6h0m7 7h0m2-4h0m0-2h0m2 2h0m1-1h0m0 6h0m2-7h0m0 4h0m3-4h0m-31 12h0m3 2h0m6-6h0m1 3h0m0-1h0m7 0h0m1 2h0m4 2h0m3-6h0m0 4h0m2-3h0m0 0h0m-27 14h0m9-1h0m2-4h0m1 4h0m1 0h0m0-1h0m5-2h0m3-4h0m0 6h0m0-6h0m4 6h0m0-2h0m1 2h0m0-2h0m5-3h0m17 6h0m-59 3h0m15 1h0m6-1h0m6 4h0m1-3h0m2 0h0m1 1h0m8-1h0m3 4h0m-48 4h0m15 4h0m1-3h0m3 0h0m7 3h0m3-1h0m0-4h0m4 1h0m0 3h0m4-2h0m0 1h0m1-4h0m1 2h0m2-1h0m3 5h0m10-7h0m-29 11h0m2 3h0m0 0h0m0-6h0m1 8h0m2 0h0m0-1h0m2-2h0m3-5h0m0 3h0m0 0h0m3 0h0m0 0h0m10-2h0m1 2h0m-33 6h0m32 2h0m-40 5h0m13 6h0m3-6h0m3 6h0m1 1h0m5-4h0m1-1h0m2-1h0m7 5h0m0-3h0m2 3h0m8-5h0m2 0h0m3 0h0m-33 15h0m1-1h0m2 0h0m0-4h0m2 0h0m0 1h0m3 4h0m2-5h0m1-2h0m1 6h0m2-1h0m2-1h0m5 1h0m5-5h0m1 1h0m3 4h0m0-5h0m8 1h0m-45 6h0m1 6h0m14-2h0m2-1h0m3-2h0m2 5h0m2-5h0m3 5h0m1-5h0m1 5h0m-35 3h0m10 2h0m0-3h0m1 7h0m1-2h0m7 1h0m4-4h0m5 5h0m2-7h0m1 5h0m-29 8h0m12 0h0m2-2h0m1 0h0m1 2h0m11-4h0m3 4h0m4-1h0m2 0h0m6-4h0m2 3h0m-40 9h0m2-2h0m3 1h0m5 2h0m1-3h0m3 4h0m3 0h0m0-1h0m1-5h0m0 4h0m1-2h0m5 5h0m2 0h0m1 0h0m2-7h0m4 5h0m9-4h0m2 6h0m-49 6h0m3 3h0m2-7h0m0 4h0m1-1h0m2 2h0m3-4h0m1 3h0m1 2h0m1-7h0m0 5h0m5 3h0m1-4h0m2 2h0m1-6h0m1 7h0m1-5h0m0-2h0m0 6h0m1-2h0m1-4h0m1 4h0m4 3h0m1 0h0m1 1h0m-39 4h0m10-1h0m10 4h0m1-7h0m1 5h0m6 0h0m1 3h0m3-3h0m6 3h0m6-5h0m12 3h0m-63 6h0m16 2h0m2-3h0m0-1h0m5 2h0m0 0h0m0 2h0m4 1h0m1-4h0m2 4h0m0-1h0m1-1h0m1 1h0m13-1h0m0-2h0m3 2h0m10-5h0m-56 12h0m8-1h0m21-2h0m0 5h0m1-3h0m2 3h0m0-6h0m3 2h0m1 0h0m2 3h0m0 1h0m11-1h0m1 1h0m-36 8h0m13 0h0m2-2h0m0-4h0m1 6h0m1-6h0m0 3h0m3-2h0m1 0h0m2 2h0m0 3h0m4 0h0m1 1h0m1 1h0m0-2h0m3-5h0m4-1h0m-48 12h0m5 2h0m4-2h0m3-1h0m2 3h0m5-3h0m7 3h0m1 1h0m0-6h0m5 6h0m1-5h0m3 2h0m1 0h0m3-3h0m2 2h0m1 1h0m1-4h0m-31 15h0m1-2h0m8 3h0m2-4h0m1-4h0m1 7h0m0-7h0m3 3h0m5 1h0m0 1h0m0-5h0m3 7h0m1-7h0m0 7h0m2-7h0m0 6h0m1-3h0m12 3h0m-48 2h0m2 6h0m12 0h0m0 0h0m2-2h0m1-4h0m2 3h0m3 4h0m3-5h0m3 5h0m3-2h0m1 0h0m5-3h0m3 1h0m6 2h0m-41 4h0m1 6h0m11 0h0m0-3h0m1 1h0m4 0h0m2 1h0m3-1h0m4 2h0m1-2h0m4-5h0m2 1h0m1 2h0m10 0h0m-33 12h0m7-7h0m2 6h0m1-4h0m3 5h0m4 1h0m1-8h0m3 1h0m1 4h0m18 3h0m-50 4h0m11-3h0m0 6h0m2-1h0m2-1h0m5-1h0m9-1h0m0 2h0m3-2h0m-23 13h0m3-5h0m1 0h0m2-1h0m0 4h0m1 1h0m3-4h0m1 0h0m2 0h0m0 5h0m1-2h0m4 0h0m3-1h0m2-4h0m-23 8h0m1 2h0m1 3h0m1-1h0m1 1h0m1-2h0m1-3h0m6 0h0m2 6h0m0-3h0m1-4h0m1 4h0m1-3h0m6 5h0m-12 3h0m7 0h0m1-1h0m0 1h0" stroke="#df9830" stroke-width="1.60" stroke-linecap="round" fill="none"/>
<path transform="scale(.5)" d="M940 119h0m1 2h0m1 0h0m8-3h0m2 5h0m4-4h0m3-2h0m2 0h0m1-1h0m3 4h0m0 0h0m1-4h0m1 2h0m1 2h0m1 2h0m0-1h0m0-3h0m0 1h0m3 5h0m0-7h0m1-1h0m1 5h0m1-2h0m1 4h0m2-6h0m2 1h0m4 6h0m3-1h0m0-3h0m3-3h0m6 6h0m3 1h0m-57 4h0m14 1h0m0 0h0m1-1h0m2 3h0m2-2h0m2 1h0m1-5h0m1-1h0m3 4h0m0 1h0m1 1h0m2 0h0m1 0h0m0-3h0m2 0h0m2-2h0m2 2h0m0-1h0m1 4h0m1-6h0m1 3h0m0-1h0m1 2h0m0 4h0m2-8h0m2 3h0m0-1h0m2 0h0m2 1h0m2 4h0m0-5h0m1 1h0m-60 11h0m1-1h0m14 3h0m6-4h0m1-2h0m2 4h0m1 0h0m5-3h0m1 0h0m1 0h0m4 3h0m2 1h0m2-4h0m1 4h0m1-4h0m2 0h0m0 0h0m1 4h0m0-3h0m2-3h0m1 3h0m2-1h0m7 2h0m0 0h0m3-2h0m1-3h0m1 5h0m1 2h0m2 0h0m11-1h0m-84 5h0m27-1h0m0 3h0m0-2h0m3 0h0m7-1h0m1-1h0m1 6h0m2-6h0m2 4h0m1-4h0m0 6h0m0-6h0m1 4h0m0-3h0m1 4h0m0-1h0m0-2h0m4-2h0m2 0h0m0 1h0m0 0h0m1 6h0m2-2h0m1-5h0m1 3h0m2 1h0m1-4h0m1 2h0m1-2h0m2 6h0m1-6h0m1 4h0m7 0h0m5-5h0m2 1h0m0 0h0m-56 13h0m2-4h0m3 2h0m0 1h0m2-4h0m1 3h0m2 0h0m1-1h0m0 0h0m2 4h0m0-2h0m2-4h0m1 1h0m0 6h0m1-7h0m1 5h0m1-2h0m0 2h0m2-3h0m1 3h0m0-4h0m1 1h0m0 4h0m1-3h0m3 2h0m0-6h0m6 5h0m1 1h0m3-6h0m1 4h0m8 1h0m3-4h0m1 7h0m0 0h0m1-4h0m1 0h0m-73 7h0m23-2h0m4 2h0m0-3h0m6 4h0m1 0h0m1 2h0m3-5h0m3 4h0m0-3h0m1 1h0m1 4h0m0-3h0m0-2h0m3-1h0m0 5h0m1-3h0m1-3h0m2 4h0m2 2h0m0 1h0m1-3h0m2 1h0m0 1h0m2-3h0m1 4h0m0-5h0m1 2h0m1 2h0m4-4h0m4 1h0m1 0h0m0 4h0m1-2h0m9 0h0m0-2h0m3 1h0m1-3h0m-64 12h0m0 0h0m10 1h0m3-3h0m1 0h0m0-1h0m0 4h0m1-4h0m2 5h0m0-5h0m1 5h0m0-1h0m5-1h0m1-1h0m1 4h0m0-6h0m1 1h0m1 1h0m1-3h0m0 3h0m1 0h0m3 1h0m1-3h0m1 5h0m0 1h0m2-8h0m0 6h0m1-2h0m1 3h0m0 0h0m5-4h0m1 2h0m0-2h0m1 3h0m0-2h0m5 4h0m1 0h0m0-7h0m1 6h0m13 0h0m-62 6h0m3 3h0m2-3h0m2 0h0m1 0h0m0-1h0m3 2h0m1-3h0m2 0h0m1 0h0m1-2h0m3 4h0m1-3h0m2 1h0m2 2h0m4-4h0m5 2h0m1-2h0m1 4h0m1 0h0m0 1h0m2 2h0m3-8h0m1 3h0m3 0h0m12 1h0m1 2h0m7-4h0m-83 13h0m11 1h0m3-6h0m10 1h0m1 5h0m5 0h0m5-5h0m1-3h0m1 8h0m1-7h0m1 5h0m0-4h0m1 3h0m5 2h0m0-6h0m0 6h0m0-4h0m0 1h0m1 3h0m0 0h0m1-2h0m2-2h0m1-2h0m0 0h0m1 5h0m1-1h0m0-3h0m0 3h0m1 3h0m2-3h0m1-3h0m0 0h0m0 0h0m1-2h0m1 3h0m5-2h0m0 5h0m3-1h0m1 2h0m17-5h0m-66 7h0m0 1h0m3 2h0m0 3h0m5-3h0m1 4h0m2-2h0m2-1h0m2-4h0m2 1h0m0 1h0m3 4h0m0 0h0m1-1h0m0-3h0m0 2h0m0 2h0m1-4h0m1 4h0m1 1h0m0-4h0m2 0h0m0-4h0m3 1h0m3 3h0m1 0h0m2-4h0m2 0h0m2 7h0m1-6h0m2 6h0m2-3h0m1 1h0m4-1h0m6 1h0m0 1h0m-66 5h0m3 4h0m4-4h0m2 0h0m5 2h0m0-1h0m1-3h0m0 0h0m2-1h0m1 5h0m0-4h0m3 3h0m1 0h0m3-4h0m0 5h0m1 1h0m0-6h0m1 1h0m5 3h0m1-2h0m0 2h0m1-1h0m1 5h0m0-4h0m0 4h0m2-6h0m1 1h0m3 3h0m0-3h0m3 1h0m0 2h0m0-1h0m1 3h0m2-4h0m1 2h0m5-3h0m1 1h0m0 2h0m1-6h0m1 6h0m10-4h0m4 6h0m-62 7h0m1-2h0m10 3h0m0-5h0m4-1h0m0-1h0m1 5h0m1-6h0m0 3h0m1 1h0m0 0h0m1-2h0m1 0h0m1 3h0m3 0h0m0 2h0m1 0h0m0-2h0m0 2h0m2-5h0m1 5h0m3-4h0m2-3h0m1 2h0m4-1h0m4 4h0m4-5h0m4 8h0m0-4h0m2 1h0m14-1h0m-71 5h0m4 1h0m7 0h0m2 3h0m2-3h0m2 5h0m2-7h0m1 2h0m0 3h0m2-4h0m0 3h0m3 3h0m0 0h0m0-2h0m1 2h0m0-2h0m1 1h0m0 0h0m0-3h0m1 1h0m0 4h0m0-2h0m1-1h0m5 0h0m5-3h0m1 3h0m0-4h0m1 3h0m1-3h0m1 7h0m2-7h0m2 6h0m1-3h0m0-4h0m8 1h0m1-1h0m1 7h0m16-5h0m-65 11h0m3 0h0m0-5h0m2 3h0m0-2h0m5 1h0m0 2h0m1-4h0m4 6h0m0-3h0m0 3h0m1 1h0m1-5h0m1 5h0m2-3h0m1 1h0m3-4h0m0 2h0m2 4h0m3 0h0m2-7h0m4 5h0m0 0h0m2 2h0m13 1h0m0-2h0m3-1h0m-55 7h0m1 0h0m3 3h0m1 1h0m4-2h0m2 0h0m1-5h0m0 1h0m3 3h0m3-5h0m0 2h0m1 4h0m1 0h0m2 2h0m1-2h0m1-1h0m0-2h0m3-1h0m2 5h0m1-4h0m0 2h0m0-4h0m2 1h0m0-1h0m1 4h0m2 2h0m1-2h0m0-1h0m0-3h0m0 1h0m2 0h0m2 5h0m1-1h0m0-3h0m1 1h0m1 0h0m3-2h0m2 4h0m3 1h0m3-4h0m26 0h0m-92 6h0m13 6h0m0-5h0m9 2h0m2-1h0m1 2h0m5-4h0m1 0h0m1 3h0m0-3h0m1 2h0m0 1h0m2-1h0m1 3h0m2-4h0m1 5h0m1-1h0m1-5h0m0 2h0m0-3h0m2 0h0m1 5h0m0-1h0m3 2h0m2-2h0m2-4h0m1 3h0m1-1h0m0 2h0m2 4h0m4-7h0m8 2h0m-59 10h0m13-1h0m8 4h0m1-7h0m1 2h0m0 0h0m1 4h0m1-1h0m0-1h0m1-3h0m0 0h0m1 5h0m2-4h0m3 3h0m4-4h0m4 3h0m0-5h0m3 7h0m3 1h0m1-8h0m-59 8h0m8 2h0m3 6h0m10-1h0m0-3h0m1 3h0m3-3h0m0-1h0m2 3h0m1-2h0m1 0h0m1 3h0m0-1h0m2 1h0m0 0h0m4-2h0m1 2h0m1-1h0m0-6h0m2 1h0m0 2h0m1 0h0m1 3h0m1-2h0m2 4h0m0-2h0m0-6h0m5 1h0m0 3h0m0 4h0m1-6h0m4-1h0m1 0h0m0 6h0m1 0h0m0-1h0m2-4h0m0 0h0m3 4h0m4-3h0m1-3h0m0 3h0m-70 8h0m11 4h0m15-2h0m6-3h0m1 4h0m2 1h0m1-6h0m0 3h0m0-3h0m0 3h0m1-3h0m1 3h0m2-4h0m0 3h0m0 4h0m0-6h0m1 6h0m2-1h0m1 1h0m7-5h0m2 4h0m0-5h0m3 2h0m-28 6h0m8 0h0m5-1h0m6 1h0" stroke="#a9a9d1" stroke-width="1.60" stroke-linecap="round" fill="none"/>
<path transform="scale(.5)" d="M946 121h0m2-3h0m10 1h0m5 1h0m2-2h0m3-1h0m6 4h0m4-2h0m5 0h0m1 0h0m1 1h0m2 1h0m6-1h0m2 3h0m-37 2h0m0 7h0m6-7h0m3 6h0m1-1h0m0-2h0m2-1h0m3 0h0m3 4h0m1-6h0m0 0h0m1 6h0m7 0h0m0-4h0m1-2h0m3 2h0m5-1h0m3-2h0m1 7h0m0-2h0m-55 7h0m2-1h0m4 5h0m6-5h0m6 1h0m2 2h0m1-5h0m3 0h0m7 6h0m1-6h0m2 6h0m2-1h0m2 0h0m0-4h0m3 0h0m2-2h0m8 6h0m2-2h0m9-1h0m-61 5h0m10 4h0m0 4h0m0-6h0m3 3h0m5 1h0m0-5h0m4 7h0m0-3h0m0 2h0m4-4h0m0 3h0m3 1h0m1-4h0m2 2h0m0-4h0m0 1h0m4 4h0m0-1h0m1 0h0m3-5h0m0 5h0m1-4h0m1 4h0m0-5h0m3 3h0m12-1h0m-61 10h0m0-2h0m12 5h0m4-6h0m0 0h0m1 0h0m0 5h0m1-1h0m1 0h0m7 3h0m3-6h0m0 0h0m4 5h0m2 0h0m2 1h0m2-7h0m0 5h0m2 2h0m1-6h0m1 5h0m0-6h0m3 4h0m0-3h0m17 3h0m0 3h0m0 0h0m-60 2h0m6 3h0m1-3h0m16 1h0m0 4h0m2-5h0m2-1h0m1 3h0m1-4h0m7 5h0m0-2h0m1-2h0m0 3h0m6 3h0m1 0h0m2-3h0m1-2h0m18 4h0m3 0h0m-64 7h0m1-4h0m5-1h0m1 3h0m1 1h0m7-4h0m4 7h0m2-7h0m1 2h0m0-1h0m4-1h0m1 2h0m2 5h0m1-6h0m1 2h0m2-1h0m0-1h0m2 0h0m0 2h0m6 4h0m2 0h0m1-6h0m2 1h0m39 3h0m-89 10h0m7 1h0m3-6h0m5 0h0m4 5h0m1-2h0m0-1h0m5-1h0m0-1h0m1-1h0m2 3h0m3-1h0m2 4h0m1-3h0m0-1h0m0 1h0m2 2h0m1-1h0m0-1h0m4 3h0m1-2h0m2-3h0m1-2h0m2 5h0m4-5h0m1 1h0m0-1h0m2 5h0m2-2h0m-57 5h0m5 4h0m5-4h0m4 3h0m3-1h0m0 3h0m2 2h0m0-5h0m2 3h0m2-1h0m1-1h0m0 3h0m1-5h0m0 5h0m0-5h0m4 6h0m1-3h0m1-2h0m1 5h0m6-6h0m0 3h0m0 0h0m1 0h0m0 3h0m3-4h0m2-2h0m3 2h0m29 2h0m-91 6h0m22 5h0m8-7h0m0 6h0m3-1h0m3 0h0m2-3h0m4 5h0m1-7h0m1 0h0m2 3h0m1-1h0m2-1h0m1 5h0m5-4h0m0 1h0m1 3h0m0-5h0m2 4h0m1-5h0m0 1h0m1-1h0m1 5h0m1-2h0m4-3h0m-56 11h0m7-1h0m8-2h0m2 4h0m6-4h0m4 5h0m5-3h0m2 5h0m1-1h0m3-6h0m3 3h0m0-3h0m3 6h0m0 0h0m2-6h0m0 6h0m6-1h0m0-2h0m2-3h0m1 0h0m0 7h0m1-2h0m5-2h0m1-4h0m4 2h0m-62 14h0m4-6h0m1 0h0m2-1h0m0 2h0m4 4h0m0-2h0m1 0h0m10-2h0m1 2h0m4-2h0m1 2h0m0-1h0m2-1h0m1 1h0m0 2h0m0-1h0m0-2h0m2-2h0m3 5h0m2-5h0m1 2h0m1-1h0m2 0h0m1 1h0m14 2h0m1-5h0m2 4h0m3-2h0m-62 9h0m9 1h0m0-2h0m2 2h0m2 1h0m0 3h0m0-7h0m2 5h0m6-3h0m7-2h0m2 3h0m3 4h0m5-7h0m1 2h0m2-1h0m1 6h0m2-2h0m1 0h0m0-5h0m4 6h0m4-2h0m8 2h0m0-5h0m8 2h0m0 3h0m-72 1h0m15 1h0m5 4h0m1 2h0m3-3h0m7-2h0m2 0h0m0 2h0m1-2h0m2 5h0m0-6h0m0 1h0m1 5h0m2-1h0m3-3h0m2 4h0m1-6h0m1 1h0m2 3h0m1-5h0m1 2h0m1 2h0m25 0h0m-78 8h0m5-2h0m5-2h0m11 4h0m12-2h0m1 5h0m1 0h0m0-4h0m3 2h0m1-1h0m1 4h0m3-4h0m3 0h0m1-1h0m2 2h0m0 1h0m8-4h0m1 3h0m5-1h0m0 0h0m-62 6h0m4 3h0m0-1h0m5 1h0m1 0h0m1-2h0m1 1h0m0-1h0m1 1h0m6-3h0m5 0h0m1 2h0m0 1h0m0 2h0m3-5h0m1 0h0m3 5h0m14-6h0m5 1h0m17 4h0m4-4h0m-63 9h0m11 5h0m1-1h0m1 2h0m1-1h0m6-4h0m2 1h0m2 1h0m2 1h0m0-1h0m2-1h0m3 1h0m1-3h0m1 4h0m1-1h0m5-4h0m1 4h0m8 0h0m1-1h0m2-1h0m-51 5h0m0 6h0m8 1h0m4 1h0m0-1h0m5-5h0m4 4h0m4 0h0m3-5h0m0 2h0m4-1h0m1 1h0m0 2h0m2-3h0m7-2h0m2 1h0m0 6h0m1-3h0m3-3h0m-60 10h0m6 0h0m6 3h0m5 1h0m3-3h0m3 0h0m8 1h0m1 0h0m1-2h0m1 0h0m2 4h0m1-6h0m1 1h0m0 3h0m2 0h0m0-1h0m1 4h0m2-1h0m1 0h0m2-1h0m0 1h0m0-1h0m-9 3h0" stroke="#ffffff" stroke-width="1.60" stroke-linecap="round" fill="none" stroke-opacity="0.6"/>
<circle cx="555.4" cy="121.00" r="3.0" fill="#d98f2b"/>
<text x="562.90" y="121.00" dy="0.35em" font-size="7.45" fill="#231f20">MG1 (homeostatic)</text>
<circle cx="555.4" cy="130.98" r="3.0" fill="#e86b6b"/>
<text x="562.90" y="130.98" dy="0.35em" font-size="7.45" fill="#231f20">MG2 (transitioning - TM)</text>
<circle cx="555.4" cy="140.96" r="3.0" fill="#a6a8d2"/>
<text x="562.90" y="140.96" dy="0.35em" font-size="7.45" fill="#231f20">MG3 (ribosomal - RM)</text>
<circle cx="555.4" cy="150.94" r="3.0" fill="#5a3e7e"/>
<text x="562.90" y="150.94" dy="0.35em" font-size="7.45" fill="#231f20">MG4 (DAM)</text>
<circle cx="555.4" cy="160.92" r="3.0" fill="#6aaa7c"/>
<text x="562.90" y="160.92" dy="0.35em" font-size="7.45" fill="#231f20">MG5 (hypoxia)</text>
<circle cx="555.4" cy="170.90" r="3.0" fill="#2b7147"/>
<text x="562.90" y="170.90" dy="0.35em" font-size="7.45" fill="#231f20">MG6 (CRM)</text>
<path d="M359.4 131.8 V165.0 H391.6" stroke="#3d5878" stroke-width="1.5" fill="none"/>
<path d="M356.59999999999997 133.3 L359.4 128.3 L362.2 133.3 L359.4 132.0Z" fill="#3d5878"/>
<path d="M390.1 162.2 L395.1 165.0 L390.1 167.8 L391.40000000000003 165.0Z" fill="#3d5878"/>
<text x="351.00" y="149.80" dy="0.35em" font-size="6.8" text-anchor="middle" fill="#333" transform="rotate(-90 351.00 149.80)">UMAP 2</text>
<text x="375.30" y="171.80" dy="0.35em" font-size="6.8" text-anchor="middle" fill="#333">UMAP 1</text>
<text transform="translate(-0.20 195.60) scale(1.17 1)" font-size="15" font-weight="bold" fill="#111" stroke="#111" stroke-width="0.6">c</text>
<rect x="73.80" y="190.20" width="10.13" height="20.47" fill="#e9604a"/>
<rect x="83.63" y="190.20" width="10.13" height="20.47" fill="#ee8a70"/>
<rect x="93.47" y="190.20" width="10.13" height="20.47" fill="#ec6e58"/>
<rect x="103.30" y="190.20" width="10.13" height="20.47" fill="#f6c7b5"/>
<rect x="113.14" y="190.20" width="10.13" height="20.47" fill="#fae3d8"/>
<rect x="122.97" y="190.20" width="10.13" height="20.47" fill="#f2b09c"/>
<rect x="132.80" y="190.20" width="10.13" height="20.47" fill="#e9604a"/>
<rect x="142.64" y="190.20" width="10.13" height="20.47" fill="#eb6a55"/>
<rect x="152.47" y="190.20" width="10.13" height="20.47" fill="#ee8068"/>
<rect x="162.31" y="190.20" width="10.13" height="20.47" fill="#eb6a55"/>
<rect x="172.14" y="190.20" width="10.13" height="20.47" fill="#7268a8"/>
<rect x="181.97" y="190.20" width="10.13" height="20.47" fill="#7569a8"/>
<rect x="191.81" y="190.20" width="10.13" height="20.47" fill="#7d70ae"/>
<rect x="201.64" y="190.20" width="10.13" height="20.47" fill="#8e82b8"/>
<rect x="211.48" y="190.20" width="10.13" height="20.47" fill="#b8aed2"/>
<rect x="221.31" y="190.20" width="10.13" height="20.47" fill="#c8c0da"/>
<rect x="231.14" y="190.20" width="10.13" height="20.47" fill="#7a6dab"/>
<rect x="240.98" y="190.20" width="10.13" height="20.47" fill="#b2a8cc"/>
<rect x="250.81" y="190.20" width="10.13" height="20.47" fill="#7a6dab"/>
<rect x="260.65" y="190.20" width="10.13" height="20.47" fill="#7468a8"/>
<rect x="270.48" y="190.20" width="10.13" height="20.47" fill="#8276b0"/>
<rect x="280.31" y="190.20" width="10.13" height="20.47" fill="#6a5fa4"/>
<rect x="290.15" y="190.20" width="10.13" height="20.47" fill="#a094c4"/>
<rect x="299.98" y="190.20" width="10.13" height="20.47" fill="#a094c4"/>
<rect x="309.82" y="190.20" width="10.13" height="20.47" fill="#a094c4"/>
<rect x="319.65" y="190.20" width="10.13" height="20.47" fill="#9e92c2"/>
<rect x="329.48" y="190.20" width="10.13" height="20.47" fill="#a094c4"/>
<rect x="339.32" y="190.20" width="10.13" height="20.47" fill="#9c90c0"/>
<rect x="349.15" y="190.20" width="10.13" height="20.47" fill="#a89ec8"/>
<rect x="358.99" y="190.20" width="10.13" height="20.47" fill="#a498c6"/>
<rect x="368.82" y="190.20" width="10.13" height="20.47" fill="#b0a6cc"/>
<rect x="378.65" y="190.20" width="10.13" height="20.47" fill="#dcd8e8"/>
<rect x="388.49" y="190.20" width="10.13" height="20.47" fill="#c4bcd8"/>
<rect x="398.32" y="190.20" width="10.13" height="20.47" fill="#d6d0e4"/>
<rect x="408.16" y="190.20" width="10.13" height="20.47" fill="#c0b8d6"/>
<rect x="417.99" y="190.20" width="10.13" height="20.47" fill="#c4bcd8"/>
<rect x="427.82" y="190.20" width="10.13" height="20.47" fill="#7468a8"/>
<rect x="437.66" y="190.20" width="10.13" height="20.47" fill="#d0cae2"/>
<rect x="447.49" y="190.20" width="10.13" height="20.47" fill="#5a52a0"/>
<rect x="457.33" y="190.20" width="10.13" height="20.47" fill="#c4bcd8"/>
<rect x="467.16" y="190.20" width="10.13" height="20.47" fill="#a89ec8"/>
<rect x="476.99" y="190.20" width="10.13" height="20.47" fill="#8276b0"/>
<rect x="486.83" y="190.20" width="10.13" height="20.47" fill="#a094c4"/>
<rect x="496.66" y="190.20" width="10.13" height="20.47" fill="#aca2cc"/>
<rect x="506.50" y="190.20" width="10.13" height="20.47" fill="#aca2cc"/>
<rect x="516.33" y="190.20" width="10.13" height="20.47" fill="#b0a6ce"/>
<rect x="526.16" y="190.20" width="10.13" height="20.47" fill="#a89ec8"/>
<rect x="536.00" y="190.20" width="10.13" height="20.47" fill="#a89ec8"/>
<rect x="545.83" y="190.20" width="10.13" height="20.47" fill="#8a7eb6"/>
<rect x="555.67" y="190.20" width="10.13" height="20.47" fill="#aca2cc"/>
<rect x="565.50" y="190.20" width="10.13" height="20.47" fill="#9a8ec0"/>
<rect x="575.33" y="190.20" width="10.13" height="20.47" fill="#a498c6"/>
<rect x="585.17" y="190.20" width="10.13" height="20.47" fill="#a094c4"/>
<rect x="595.00" y="190.20" width="10.13" height="20.47" fill="#a498c6"/>
<rect x="604.84" y="190.20" width="10.13" height="20.47" fill="#8e82b8"/>
<rect x="614.67" y="190.20" width="10.13" height="20.47" fill="#aca2cc"/>
<rect x="624.50" y="190.20" width="10.13" height="20.47" fill="#aca2cc"/>
<rect x="634.34" y="190.20" width="10.13" height="20.47" fill="#a89ec8"/>
<rect x="73.80" y="210.37" width="10.13" height="20.47" fill="#7e6fae"/>
<rect x="83.63" y="210.37" width="10.13" height="20.47" fill="#968ac0"/>
<rect x="93.47" y="210.37" width="10.13" height="20.47" fill="#a89ec8"/>
<rect x="103.30" y="210.37" width="10.13" height="20.47" fill="#6e64a5"/>
<rect x="113.14" y="210.37" width="10.13" height="20.47" fill="#6058a0"/>
<rect x="122.97" y="210.37" width="10.13" height="20.47" fill="#9a8dbf"/>
<rect x="132.80" y="210.37" width="10.13" height="20.47" fill="#e8e4ee"/>
<rect x="142.64" y="210.37" width="10.13" height="20.47" fill="#bcb4d4"/>
<rect x="152.47" y="210.37" width="10.13" height="20.47" fill="#cec8e0"/>
<rect x="162.31" y="210.37" width="10.13" height="20.47" fill="#a89ec8"/>
<rect x="172.14" y="210.37" width="10.13" height="20.47" fill="#ea4a3a"/>
<rect x="181.97" y="210.37" width="10.13" height="20.47" fill="#ea4a3a"/>
<rect x="191.81" y="210.37" width="10.13" height="20.47" fill="#f3b8a0"/>
<rect x="201.64" y="210.37" width="10.13" height="20.47" fill="#dcd8e8"/>
<rect x="211.48" y="210.37" width="10.13" height="20.47" fill="#ee8a70"/>
<rect x="221.31" y="210.37" width="10.13" height="20.47" fill="#f09880"/>
<rect x="231.14" y="210.37" width="10.13" height="20.47" fill="#eeecf3"/>
<rect x="240.98" y="210.37" width="10.13" height="20.47" fill="#eb6a55"/>
<rect x="250.81" y="210.37" width="10.13" height="20.47" fill="#fbede5"/>
<rect x="260.65" y="210.37" width="10.13" height="20.47" fill="#f6d0c2"/>
<rect x="270.48" y="210.37" width="10.13" height="20.47" fill="#7e72ae"/>
<rect x="280.31" y="210.37" width="10.13" height="20.47" fill="#7e72ae"/>
<rect x="290.15" y="210.37" width="10.13" height="20.47" fill="#9a8ec0"/>
<rect x="299.98" y="210.37" width="10.13" height="20.47" fill="#9a8ec0"/>
<rect x="309.82" y="210.37" width="10.13" height="20.47" fill="#968abe"/>
<rect x="319.65" y="210.37" width="10.13" height="20.47" fill="#9a8ec0"/>
<rect x="329.48" y="210.37" width="10.13" height="20.47" fill="#9a8ec0"/>
<rect x="339.32" y="210.37" width="10.13" height="20.47" fill="#968abe"/>
<rect x="349.15" y="210.37" width="10.13" height="20.47" fill="#9e92c2"/>
<rect x="358.99" y="210.37" width="10.13" height="20.47" fill="#998dc0"/>
<rect x="368.82" y="210.37" width="10.13" height="20.47" fill="#8e82b8"/>
<rect x="378.65" y="210.37" width="10.13" height="20.47" fill="#b4aad0"/>
<rect x="388.49" y="210.37" width="10.13" height="20.47" fill="#a89ec8"/>
<rect x="398.32" y="210.37" width="10.13" height="20.47" fill="#a094c4"/>
<rect x="408.16" y="210.37" width="10.13" height="20.47" fill="#a498c6"/>
<rect x="417.99" y="210.37" width="10.13" height="20.47" fill="#e0dcea"/>
<rect x="427.82" y="210.37" width="10.13" height="20.47" fill="#aca2cc"/>
<rect x="437.66" y="210.37" width="10.13" height="20.47" fill="#b4aad0"/>
<rect x="447.49" y="210.37" width="10.13" height="20.47" fill="#9e92c2"/>
<rect x="457.33" y="210.37" width="10.13" height="20.47" fill="#9e92c2"/>
<rect x="467.16" y="210.37" width="10.13" height="20.47" fill="#aca2cc"/>
<rect x="476.99" y="210.37" width="10.13" height="20.47" fill="#8e82b8"/>
<rect x="486.83" y="210.37" width="10.13" height="20.47" fill="#d4cee4"/>
<rect x="496.66" y="210.37" width="10.13" height="20.47" fill="#b8b0d2"/>
<rect x="506.50" y="210.37" width="10.13" height="20.47" fill="#b0a6ce"/>
<rect x="516.33" y="210.37" width="10.13" height="20.47" fill="#b0a6ce"/>
<rect x="526.16" y="210.37" width="10.13" height="20.47" fill="#b8b0d2"/>
<rect x="536.00" y="210.37" width="10.13" height="20.47" fill="#b0a6ce"/>
<rect x="545.83" y="210.37" width="10.13" height="20.47" fill="#aca2cc"/>
<rect x="555.67" y="210.37" width="10.13" height="20.47" fill="#a498c6"/>
<rect x="565.50" y="210.37" width="10.13" height="20.47" fill="#9e92c2"/>
<rect x="575.33" y="210.37" width="10.13" height="20.47" fill="#9c90c0"/>
<rect x="585.17" y="210.37" width="10.13" height="20.47" fill="#9c90c0"/>
<rect x="595.00" y="210.37" width="10.13" height="20.47" fill="#a094c4"/>
<rect x="604.84" y="210.37" width="10.13" height="20.47" fill="#968abe"/>
<rect x="614.67" y="210.37" width="10.13" height="20.47" fill="#aca2cc"/>
<rect x="624.50" y="210.37" width="10.13" height="20.47" fill="#b0a6ce"/>
<rect x="634.34" y="210.37" width="10.13" height="20.47" fill="#9e92c2"/>
<rect x="73.80" y="230.54" width="10.13" height="20.47" fill="#f6cdbd"/>
<rect x="83.63" y="230.54" width="10.13" height="20.47" fill="#f3bba8"/>
<rect x="93.47" y="230.54" width="10.13" height="20.47" fill="#ee9580"/>
<rect x="103.30" y="230.54" width="10.13" height="20.47" fill="#bab0d2"/>
<rect x="113.14" y="230.54" width="10.13" height="20.47" fill="#e2dde9"/>
<rect x="122.97" y="230.54" width="10.13" height="20.47" fill="#eeecf2"/>
<rect x="132.80" y="230.54" width="10.13" height="20.47" fill="#f2b5a0"/>
<rect x="142.64" y="230.54" width="10.13" height="20.47" fill="#f0a08c"/>
<rect x="152.47" y="230.54" width="10.13" height="20.47" fill="#dad4e6"/>
<rect x="162.31" y="230.54" width="10.13" height="20.47" fill="#f4c3b0"/>
<rect x="172.14" y="230.54" width="10.13" height="20.47" fill="#fbeee8"/>
<rect x="181.97" y="230.54" width="10.13" height="20.47" fill="#fbeee8"/>
<rect x="191.81" y="230.54" width="10.13" height="20.47" fill="#a79cc8"/>
<rect x="201.64" y="230.54" width="10.13" height="20.47" fill="#a79cc8"/>
<rect x="211.48" y="230.54" width="10.13" height="20.47" fill="#a096c4"/>
<rect x="221.31" y="230.54" width="10.13" height="20.47" fill="#ccc6de"/>
<rect x="231.14" y="230.54" width="10.13" height="20.47" fill="#a89ec8"/>
<rect x="240.98" y="230.54" width="10.13" height="20.47" fill="#cbc5de"/>
<rect x="250.81" y="230.54" width="10.13" height="20.47" fill="#bab2d2"/>
<rect x="260.65" y="230.54" width="10.13" height="20.47" fill="#eeedf3"/>
<rect x="270.48" y="230.54" width="10.13" height="20.47" fill="#e9403a"/>
<rect x="280.31" y="230.54" width="10.13" height="20.47" fill="#ea6652"/>
<rect x="290.15" y="230.54" width="10.13" height="20.47" fill="#e62a35"/>
<rect x="299.98" y="230.54" width="10.13" height="20.47" fill="#e62a35"/>
<rect x="309.82" y="230.54" width="10.13" height="20.47" fill="#e62a35"/>
<rect x="319.65" y="230.54" width="10.13" height="20.47" fill="#e62a35"/>
<rect x="329.48" y="230.54" width="10.13" height="20.47" fill="#e62a35"/>
<rect x="339.32" y="230.54" width="10.13" height="20.47" fill="#e62a35"/>
<rect x="349.15" y="230.54" width="10.13" height="20.47" fill="#e62a35"/>
<rect x="358.99" y="230.54" width="10.13" height="20.47" fill="#e62a35"/>
<rect x="368.82" y="230.54" width="10.13" height="20.47" fill="#9a8ec0"/>
<rect x="378.65" y="230.54" width="10.13" height="20.47" fill="#beb6d4"/>
<rect x="388.49" y="230.54" width="10.13" height="20.47" fill="#b2a8ce"/>
<rect x="398.32" y="230.54" width="10.13" height="20.47" fill="#beb6d4"/>
<rect x="408.16" y="230.54" width="10.13" height="20.47" fill="#9e92c2"/>
<rect x="417.99" y="230.54" width="10.13" height="20.47" fill="#9a8ec0"/>
<rect x="427.82" y="230.54" width="10.13" height="20.47" fill="#7a6dab"/>
<rect x="437.66" y="230.54" width="10.13" height="20.47" fill="#b0a6ce"/>
<rect x="447.49" y="230.54" width="10.13" height="20.47" fill="#9488bd"/>
<rect x="457.33" y="230.54" width="10.13" height="20.47" fill="#9488bd"/>
<rect x="467.16" y="230.54" width="10.13" height="20.47" fill="#a89ec8"/>
<rect x="476.99" y="230.54" width="10.13" height="20.47" fill="#8276b0"/>
<rect x="486.83" y="230.54" width="10.13" height="20.47" fill="#aca2cc"/>
<rect x="496.66" y="230.54" width="10.13" height="20.47" fill="#b4aad0"/>
<rect x="506.50" y="230.54" width="10.13" height="20.47" fill="#b0a6ce"/>
<rect x="516.33" y="230.54" width="10.13" height="20.47" fill="#b4aad0"/>
<rect x="526.16" y="230.54" width="10.13" height="20.47" fill="#aca2cc"/>
<rect x="536.00" y="230.54" width="10.13" height="20.47" fill="#aca2cc"/>
<rect x="545.83" y="230.54" width="10.13" height="20.47" fill="#a89ec8"/>
<rect x="555.67" y="230.54" width="10.13" height="20.47" fill="#aca2cc"/>
<rect x="565.50" y="230.54" width="10.13" height="20.47" fill="#9e92c2"/>
<rect x="575.33" y="230.54" width="10.13" height="20.47" fill="#a094c4"/>
<rect x="585.17" y="230.54" width="10.13" height="20.47" fill="#a094c4"/>
<rect x="595.00" y="230.54" width="10.13" height="20.47" fill="#aca2cc"/>
<rect x="604.84" y="230.54" width="10.13" height="20.47" fill="#968abe"/>
<rect x="614.67" y="230.54" width="10.13" height="20.47" fill="#aca2cc"/>
<rect x="624.50" y="230.54" width="10.13" height="20.47" fill="#b0a6ce"/>
<rect x="634.34" y="230.54" width="10.13" height="20.47" fill="#b0a6ce"/>
<rect x="73.80" y="250.71" width="10.13" height="20.47" fill="#aea4cc"/>
<rect x="83.63" y="250.71" width="10.13" height="20.47" fill="#ee8a72"/>
<rect x="93.47" y="250.71" width="10.13" height="20.47" fill="#3f3c95"/>
<rect x="103.30" y="250.71" width="10.13" height="20.47" fill="#e84535"/>
<rect x="113.14" y="250.71" width="10.13" height="20.47" fill="#c4bcd8"/>
<rect x="122.97" y="250.71" width="10.13" height="20.47" fill="#e8563f"/>
<rect x="132.80" y="250.71" width="10.13" height="20.47" fill="#7668aa"/>
<rect x="142.64" y="250.71" width="10.13" height="20.47" fill="#fdfcfc"/>
<rect x="152.47" y="250.71" width="10.13" height="20.47" fill="#ec7660"/>
<rect x="162.31" y="250.71" width="10.13" height="20.47" fill="#fbf0ea"/>
<rect x="172.14" y="250.71" width="10.13" height="20.47" fill="#7165a8"/>
<rect x="181.97" y="250.71" width="10.13" height="20.47" fill="#7a6dab"/>
<rect x="191.81" y="250.71" width="10.13" height="20.47" fill="#9a8ec0"/>
<rect x="201.64" y="250.71" width="10.13" height="20.47" fill="#9a8ec0"/>
<rect x="211.48" y="250.71" width="10.13" height="20.47" fill="#eb6e58"/>
<rect x="221.31" y="250.71" width="10.13" height="20.47" fill="#625aa0"/>
<rect x="231.14" y="250.71" width="10.13" height="20.47" fill="#dcd8e8"/>
<rect x="240.98" y="250.71" width="10.13" height="20.47" fill="#5a52a0"/>
<rect x="250.81" y="250.71" width="10.13" height="20.47" fill="#968abe"/>
<rect x="260.65" y="250.71" width="10.13" height="20.47" fill="#8e82b8"/>
<rect x="270.48" y="250.71" width="10.13" height="20.47" fill="#d0cae2"/>
<rect x="280.31" y="250.71" width="10.13" height="20.47" fill="#8a7eb6"/>
<rect x="290.15" y="250.71" width="10.13" height="20.47" fill="#b4aad0"/>
<rect x="299.98" y="250.71" width="10.13" height="20.47" fill="#b0a6ce"/>
<rect x="309.82" y="250.71" width="10.13" height="20.47" fill="#b0a6ce"/>
<rect x="319.65" y="250.71" width="10.13" height="20.47" fill="#b0a6ce"/>
<rect x="329.48" y="250.71" width="10.13" height="20.47" fill="#b0a6ce"/>
<rect x="339.32" y="250.71" width="10.13" height="20.47" fill="#aca2cc"/>
<rect x="349.15" y="250.71" width="10.13" height="20.47" fill="#a498c6"/>
<rect x="358.99" y="250.71" width="10.13" height="20.47" fill="#b8b0d2"/>
<rect x="368.82" y="250.71" width="10.13" height="20.47" fill="#e62a35"/>
<rect x="378.65" y="250.71" width="10.13" height="20.47" fill="#e62a35"/>
<rect x="388.49" y="250.71" width="10.13" height="20.47" fill="#e62a35"/>
<rect x="398.32" y="250.71" width="10.13" height="20.47" fill="#e8503e"/>
<rect x="408.16" y="250.71" width="10.13" height="20.47" fill="#e62a35"/>
<rect x="417.99" y="250.71" width="10.13" height="20.47" fill="#e62a35"/>
<rect x="427.82" y="250.71" width="10.13" height="20.47" fill="#f4c4b2"/>
<rect x="437.66" y="250.71" width="10.13" height="20.47" fill="#e8343a"/>
<rect x="447.49" y="250.71" width="10.13" height="20.47" fill="#ec8468"/>
<rect x="457.33" y="250.71" width="10.13" height="20.47" fill="#e62a35"/>
<rect x="467.16" y="250.71" width="10.13" height="20.47" fill="#aca2cc"/>
<rect x="476.99" y="250.71" width="10.13" height="20.47" fill="#cbc5de"/>
<rect x="486.83" y="250.71" width="10.13" height="20.47" fill="#a89ec8"/>
<rect x="496.66" y="250.71" width="10.13" height="20.47" fill="#b8b0d2"/>
<rect x="506.50" y="250.71" width="10.13" height="20.47" fill="#b4aad0"/>
<rect x="516.33" y="250.71" width="10.13" height="20.47" fill="#b4aad0"/>
<rect x="526.16" y="250.71" width="10.13" height="20.47" fill="#b0a6ce"/>
<rect x="536.00" y="250.71" width="10.13" height="20.47" fill="#c4bcd8"/>
<rect x="545.83" y="250.71" width="10.13" height="20.47" fill="#dcd8e8"/>
<rect x="555.67" y="250.71" width="10.13" height="20.47" fill="#b0a6ce"/>
<rect x="565.50" y="250.71" width="10.13" height="20.47" fill="#c8c0da"/>
<rect x="575.33" y="250.71" width="10.13" height="20.47" fill="#e2deec"/>
<rect x="585.17" y="250.71" width="10.13" height="20.47" fill="#e6e2ee"/>
<rect x="595.00" y="250.71" width="10.13" height="20.47" fill="#b8b0d2"/>
<rect x="604.84" y="250.71" width="10.13" height="20.47" fill="#8276b0"/>
<rect x="614.67" y="250.71" width="10.13" height="20.47" fill="#b0a6ce"/>
<rect x="624.50" y="250.71" width="10.13" height="20.47" fill="#a89ec8"/>
<rect x="634.34" y="250.71" width="10.13" height="20.47" fill="#dcd8e8"/>
<rect x="73.80" y="270.88" width="10.13" height="20.47" fill="#4b449a"/>
<rect x="83.63" y="270.88" width="10.13" height="20.47" fill="#423d96"/>
<rect x="93.47" y="270.88" width="10.13" height="20.47" fill="#bab0d2"/>
<rect x="103.30" y="270.88" width="10.13" height="20.47" fill="#b0a6cc"/>
<rect x="113.14" y="270.88" width="10.13" height="20.47" fill="#9c90c0"/>
<rect x="122.97" y="270.88" width="10.13" height="20.47" fill="#665a9f"/>
<rect x="132.80" y="270.88" width="10.13" height="20.47" fill="#4a4499"/>
<rect x="142.64" y="270.88" width="10.13" height="20.47" fill="#3e3890"/>
<rect x="152.47" y="270.88" width="10.13" height="20.47" fill="#463f95"/>
<rect x="162.31" y="270.88" width="10.13" height="20.47" fill="#293a8a"/>
<rect x="172.14" y="270.88" width="10.13" height="20.47" fill="#f6d0c0"/>
<rect x="181.97" y="270.88" width="10.13" height="20.47" fill="#f3c4b4"/>
<rect x="191.81" y="270.88" width="10.13" height="20.47" fill="#ea4a3a"/>
<rect x="201.64" y="270.88" width="10.13" height="20.47" fill="#e62c34"/>
<rect x="211.48" y="270.88" width="10.13" height="20.47" fill="#5a52a0"/>
<rect x="221.31" y="270.88" width="10.13" height="20.47" fill="#eb6a55"/>
<rect x="231.14" y="270.88" width="10.13" height="20.47" fill="#e8323a"/>
<rect x="240.98" y="270.88" width="10.13" height="20.47" fill="#ee9580"/>
<rect x="250.81" y="270.88" width="10.13" height="20.47" fill="#e8343a"/>
<rect x="260.65" y="270.88" width="10.13" height="20.47" fill="#ea4a38"/>
<rect x="270.48" y="270.88" width="10.13" height="20.47" fill="#fcf0ea"/>
<rect x="280.31" y="270.88" width="10.13" height="20.47" fill="#f0a08a"/>
<rect x="290.15" y="270.88" width="10.13" height="20.47" fill="#dcd8e8"/>
<rect x="299.98" y="270.88" width="10.13" height="20.47" fill="#e6e2ee"/>
<rect x="309.82" y="270.88" width="10.13" height="20.47" fill="#e6e2ee"/>
<rect x="319.65" y="270.88" width="10.13" height="20.47" fill="#e2deec"/>
<rect x="329.48" y="270.88" width="10.13" height="20.47" fill="#e6e2ee"/>
<rect x="339.32" y="270.88" width="10.13" height="20.47" fill="#e6e2ee"/>
<rect x="349.15" y="270.88" width="10.13" height="20.47" fill="#e4e0ec"/>
<rect x="358.99" y="270.88" width="10.13" height="20.47" fill="#e2deec"/>
<rect x="368.82" y="270.88" width="10.13" height="20.47" fill="#dcd8e8"/>
<rect x="378.65" y="270.88" width="10.13" height="20.47" fill="#7a6dab"/>
<rect x="388.49" y="270.88" width="10.13" height="20.47" fill="#9488bd"/>
<rect x="398.32" y="270.88" width="10.13" height="20.47" fill="#524a9c"/>
<rect x="408.16" y="270.88" width="10.13" height="20.47" fill="#dcd8e8"/>
<rect x="417.99" y="270.88" width="10.13" height="20.47" fill="#9e92c2"/>
<rect x="427.82" y="270.88" width="10.13" height="20.47" fill="#e8503e"/>
<rect x="437.66" y="270.88" width="10.13" height="20.47" fill="#6e62a5"/>
<rect x="447.49" y="270.88" width="10.13" height="20.47" fill="#ec8468"/>
<rect x="457.33" y="270.88" width="10.13" height="20.47" fill="#dcd8e8"/>
<rect x="467.16" y="270.88" width="10.13" height="20.47" fill="#e62a35"/>
<rect x="476.99" y="270.88" width="10.13" height="20.47" fill="#e85a45"/>
<rect x="486.83" y="270.88" width="10.13" height="20.47" fill="#e62a35"/>
<rect x="496.66" y="270.88" width="10.13" height="20.47" fill="#e62a35"/>
<rect x="506.50" y="270.88" width="10.13" height="20.47" fill="#e62a35"/>
<rect x="516.33" y="270.88" width="10.13" height="20.47" fill="#e62a35"/>
<rect x="526.16" y="270.88" width="10.13" height="20.47" fill="#e62a35"/>
<rect x="536.00" y="270.88" width="10.13" height="20.47" fill="#e62a35"/>
<rect x="545.83" y="270.88" width="10.13" height="20.47" fill="#e62a35"/>
<rect x="555.67" y="270.88" width="10.13" height="20.47" fill="#d4cee4"/>
<rect x="565.50" y="270.88" width="10.13" height="20.47" fill="#faeee8"/>
<rect x="575.33" y="270.88" width="10.13" height="20.47" fill="#c8c0da"/>
<rect x="585.17" y="270.88" width="10.13" height="20.47" fill="#d4cee4"/>
<rect x="595.00" y="270.88" width="10.13" height="20.47" fill="#c8c0da"/>
<rect x="604.84" y="270.88" width="10.13" height="20.47" fill="#ea7a60"/>
<rect x="614.67" y="270.88" width="10.13" height="20.47" fill="#c8c0da"/>
<rect x="624.50" y="270.88" width="10.13" height="20.47" fill="#ccc6de"/>
<rect x="634.34" y="270.88" width="10.13" height="20.47" fill="#b8b0d2"/>
<rect x="73.80" y="291.05" width="10.13" height="20.47" fill="#f3c0ac"/>
<rect x="83.63" y="291.05" width="10.13" height="20.47" fill="#8275b2"/>
<rect x="93.47" y="291.05" width="10.13" height="20.47" fill="#d2cce2"/>
<rect x="103.30" y="291.05" width="10.13" height="20.47" fill="#9c90c0"/>
<rect x="113.14" y="291.05" width="10.13" height="20.47" fill="#ea4535"/>
<rect x="122.97" y="291.05" width="10.13" height="20.47" fill="#8c80b8"/>
<rect x="132.80" y="291.05" width="10.13" height="20.47" fill="#fefefe"/>
<rect x="142.64" y="291.05" width="10.13" height="20.47" fill="#988cbf"/>
<rect x="152.47" y="291.05" width="10.13" height="20.47" fill="#8a7db5"/>
<rect x="162.31" y="291.05" width="10.13" height="20.47" fill="#fefefe"/>
<rect x="172.14" y="291.05" width="10.13" height="20.47" fill="#b8aed2"/>
<rect x="181.97" y="291.05" width="10.13" height="20.47" fill="#9a8ec0"/>
<rect x="191.81" y="291.05" width="10.13" height="20.47" fill="#a99ec8"/>
<rect x="201.64" y="291.05" width="10.13" height="20.47" fill="#e2deea"/>
<rect x="211.48" y="291.05" width="10.13" height="20.47" fill="#b2a8ce"/>
<rect x="221.31" y="291.05" width="10.13" height="20.47" fill="#7468a8"/>
<rect x="231.14" y="291.05" width="10.13" height="20.47" fill="#a89ec8"/>
<rect x="240.98" y="291.05" width="10.13" height="20.47" fill="#9488bd"/>
<rect x="250.81" y="291.05" width="10.13" height="20.47" fill="#c0b8d6"/>
<rect x="260.65" y="291.05" width="10.13" height="20.47" fill="#9c90c0"/>
<rect x="270.48" y="291.05" width="10.13" height="20.47" fill="#bcb4d4"/>
<rect x="280.31" y="291.05" width="10.13" height="20.47" fill="#ffffff"/>
<rect x="290.15" y="291.05" width="10.13" height="20.47" fill="#b8b0d2"/>
<rect x="299.98" y="291.05" width="10.13" height="20.47" fill="#b8b0d2"/>
<rect x="309.82" y="291.05" width="10.13" height="20.47" fill="#d0cae2"/>
<rect x="319.65" y="291.05" width="10.13" height="20.47" fill="#c0b8d6"/>
<rect x="329.48" y="291.05" width="10.13" height="20.47" fill="#c0b8d6"/>
<rect x="339.32" y="291.05" width="10.13" height="20.47" fill="#d0cae2"/>
<rect x="349.15" y="291.05" width="10.13" height="20.47" fill="#c0b8d6"/>
<rect x="358.99" y="291.05" width="10.13" height="20.47" fill="#c0b8d6"/>
<rect x="368.82" y="291.05" width="10.13" height="20.47" fill="#e4e0ec"/>
<rect x="378.65" y="291.05" width="10.13" height="20.47" fill="#d4cee4"/>
<rect x="388.49" y="291.05" width="10.13" height="20.47" fill="#e2deec"/>
<rect x="398.32" y="291.05" width="10.13" height="20.47" fill="#f4c4b0"/>
<rect x="408.16" y="291.05" width="10.13" height="20.47" fill="#b4aad0"/>
<rect x="417.99" y="291.05" width="10.13" height="20.47" fill="#b8b0d2"/>
<rect x="427.82" y="291.05" width="10.13" height="20.47" fill="#dcd8e8"/>
<rect x="437.66" y="291.05" width="10.13" height="20.47" fill="#f4f3f6"/>
<rect x="447.49" y="291.05" width="10.13" height="20.47" fill="#e8e6ef"/>
<rect x="457.33" y="291.05" width="10.13" height="20.47" fill="#c4bcd8"/>
<rect x="467.16" y="291.05" width="10.13" height="20.47" fill="#cec8e0"/>
<rect x="476.99" y="291.05" width="10.13" height="20.47" fill="#f0ae98"/>
<rect x="486.83" y="291.05" width="10.13" height="20.47" fill="#c8c0da"/>
<rect x="496.66" y="291.05" width="10.13" height="20.47" fill="#bcb4d4"/>
<rect x="506.50" y="291.05" width="10.13" height="20.47" fill="#c4bcd8"/>
<rect x="516.33" y="291.05" width="10.13" height="20.47" fill="#b8b0d2"/>
<rect x="526.16" y="291.05" width="10.13" height="20.47" fill="#bcb4d4"/>
<rect x="536.00" y="291.05" width="10.13" height="20.47" fill="#c8c0da"/>
<rect x="545.83" y="291.05" width="10.13" height="20.47" fill="#e6e2ee"/>
<rect x="555.67" y="291.05" width="10.13" height="20.47" fill="#e62a35"/>
<rect x="565.50" y="291.05" width="10.13" height="20.47" fill="#e83538"/>
<rect x="575.33" y="291.05" width="10.13" height="20.47" fill="#e62a35"/>
<rect x="585.17" y="291.05" width="10.13" height="20.47" fill="#e62a35"/>
<rect x="595.00" y="291.05" width="10.13" height="20.47" fill="#e62a35"/>
<rect x="604.84" y="291.05" width="10.13" height="20.47" fill="#ea7a60"/>
<rect x="614.67" y="291.05" width="10.13" height="20.47" fill="#e62a35"/>
<rect x="624.50" y="291.05" width="10.13" height="20.47" fill="#e62a35"/>
<rect x="634.34" y="291.05" width="10.13" height="20.47" fill="#e62a35"/>
<rect x="54.4" y="190.20" width="16.0" height="20.47" fill="#d98f2b"/>
<text x="50.00" y="200.28" dy="0.35em" font-size="7.2" text-anchor="end" fill="#333">MG1</text>
<rect x="54.4" y="210.37" width="16.0" height="20.47" fill="#e66c6a"/>
<text x="50.00" y="220.46" dy="0.35em" font-size="7.2" text-anchor="end" fill="#333">MG2</text>
<rect x="54.4" y="230.54" width="16.0" height="20.47" fill="#a3a3cc"/>
<text x="50.00" y="240.62" dy="0.35em" font-size="7.2" text-anchor="end" fill="#333">MG3</text>
<rect x="54.4" y="250.71" width="16.0" height="20.47" fill="#5a3e7e"/>
<text x="50.00" y="260.79" dy="0.35em" font-size="7.2" text-anchor="end" fill="#333">MG4</text>
<rect x="54.4" y="270.88" width="16.0" height="20.47" fill="#6aaa7c"/>
<text x="50.00" y="280.96" dy="0.35em" font-size="7.2" text-anchor="end" fill="#333">MG5</text>
<rect x="54.4" y="291.05" width="16.0" height="20.47" fill="#2e7148"/>
<text x="50.00" y="301.13" dy="0.35em" font-size="7.2" text-anchor="end" fill="#333">MG6</text>
<text x="81.22" y="316.50" font-size="6.75" text-anchor="end" fill="#333" transform="rotate(-60 81.22 316.50)">NAV2</text>
<text x="91.05" y="316.50" font-size="6.75" text-anchor="end" fill="#333" transform="rotate(-60 91.05 316.50)">MERTK</text>
<text x="100.88" y="316.50" font-size="6.75" text-anchor="end" fill="#333" transform="rotate(-60 100.88 316.50)">MRC1</text>
<text x="110.72" y="316.50" font-size="6.75" text-anchor="end" fill="#333" transform="rotate(-60 110.72 316.50)">STARD13</text>
<text x="120.55" y="316.50" font-size="6.75" text-anchor="end" fill="#333" transform="rotate(-60 120.55 316.50)">RGL1</text>
<text x="130.39" y="316.50" font-size="6.75" text-anchor="end" fill="#333" transform="rotate(-60 130.39 316.50)">MTSS1</text>
<text x="140.22" y="316.50" font-size="6.75" text-anchor="end" fill="#333" transform="rotate(-60 140.22 316.50)">AL162414.1</text>
<text x="150.06" y="316.50" font-size="6.75" text-anchor="end" fill="#333" transform="rotate(-60 150.06 316.50)">CA8</text>
<text x="159.89" y="316.50" font-size="6.75" text-anchor="end" fill="#333" transform="rotate(-60 159.89 316.50)">NHSL1</text>
<text x="169.72" y="316.50" font-size="6.75" text-anchor="end" fill="#333" transform="rotate(-60 169.72 316.50)">EDA</text>
<text x="179.56" y="316.50" font-size="6.75" text-anchor="end" fill="#333" transform="rotate(-60 179.56 316.50)">HSPA1A</text>
<text x="189.39" y="316.50" font-size="6.75" text-anchor="end" fill="#333" transform="rotate(-60 189.39 316.50)">HSPA1B</text>
<text x="199.22" y="316.50" font-size="6.75" text-anchor="end" fill="#333" transform="rotate(-60 199.22 316.50)">HSP90AA1</text>
<text x="209.06" y="316.50" font-size="6.75" text-anchor="end" fill="#333" transform="rotate(-60 209.06 316.50)">SRGN</text>
<text x="218.89" y="316.50" font-size="6.75" text-anchor="end" fill="#333" transform="rotate(-60 218.89 316.50)">KCNIP1</text>
<text x="228.73" y="316.50" font-size="6.75" text-anchor="end" fill="#333" transform="rotate(-60 228.73 316.50)">HIST1H2AC</text>
<text x="238.56" y="316.50" font-size="6.75" text-anchor="end" fill="#333" transform="rotate(-60 238.56 316.50)">RGS1</text>
<text x="248.39" y="316.50" font-size="6.75" text-anchor="end" fill="#333" transform="rotate(-60 248.39 316.50)">FOXP1</text>
<text x="258.23" y="316.50" font-size="6.75" text-anchor="end" fill="#333" transform="rotate(-60 258.23 316.50)">DUSP1</text>
<text x="268.06" y="316.50" font-size="6.75" text-anchor="end" fill="#333" transform="rotate(-60 268.06 316.50)">UBC</text>
<text x="277.90" y="316.50" font-size="6.75" text-anchor="end" fill="#333" transform="rotate(-60 277.90 316.50)">FTL</text>
<text x="287.73" y="316.50" font-size="6.75" text-anchor="end" fill="#333" transform="rotate(-60 287.73 316.50)">FTH1</text>
<text x="297.56" y="316.50" font-size="6.75" text-anchor="end" fill="#333" transform="rotate(-60 297.56 316.50)">RPLP1</text>
<text x="307.40" y="316.50" font-size="6.75" text-anchor="end" fill="#333" transform="rotate(-60 307.40 316.50)">RPS24</text>
<text x="317.23" y="316.50" font-size="6.75" text-anchor="end" fill="#333" transform="rotate(-60 317.23 316.50)">RPL11</text>
<text x="327.07" y="316.50" font-size="6.75" text-anchor="end" fill="#333" transform="rotate(-60 327.07 316.50)">RPL19</text>
<text x="336.90" y="316.50" font-size="6.75" text-anchor="end" fill="#333" transform="rotate(-60 336.90 316.50)">RPS8</text>
<text x="346.74" y="316.50" font-size="6.75" text-anchor="end" fill="#333" transform="rotate(-60 346.74 316.50)">RPS27A</text>
<text x="356.57" y="316.50" font-size="6.75" text-anchor="end" fill="#333" transform="rotate(-60 356.57 316.50)">TMSB10</text>
<text x="366.40" y="316.50" font-size="6.75" text-anchor="end" fill="#333" transform="rotate(-60 366.40 316.50)">RPS15</text>
<text x="376.24" y="316.50" font-size="6.75" text-anchor="end" fill="#333" transform="rotate(-60 376.24 316.50)">MYO1E</text>
<text x="386.07" y="316.50" font-size="6.75" text-anchor="end" fill="#333" transform="rotate(-60 386.07 316.50)">GLDN</text>
<text x="395.90" y="316.50" font-size="6.75" text-anchor="end" fill="#333" transform="rotate(-60 395.90 316.50)">PPARG</text>
<text x="405.74" y="316.50" font-size="6.75" text-anchor="end" fill="#333" transform="rotate(-60 405.74 316.50)">SOCS6</text>
<text x="415.57" y="316.50" font-size="6.75" text-anchor="end" fill="#333" transform="rotate(-60 415.57 316.50)">PTPRG</text>
<text x="425.41" y="316.50" font-size="6.75" text-anchor="end" fill="#333" transform="rotate(-60 425.41 316.50)">XYLT1</text>
<text x="435.24" y="316.50" font-size="6.75" text-anchor="end" fill="#333" transform="rotate(-60 435.24 316.50)">PADI2</text>
<text x="445.07" y="316.50" font-size="6.75" text-anchor="end" fill="#333" transform="rotate(-60 445.07 316.50)">RTTN</text>
<text x="454.91" y="316.50" font-size="6.75" text-anchor="end" fill="#333" transform="rotate(-60 454.91 316.50)">SPP1</text>
<text x="464.74" y="316.50" font-size="6.75" text-anchor="end" fill="#333" transform="rotate(-60 464.74 316.50)">GAS7</text>
<text x="474.58" y="316.50" font-size="6.75" text-anchor="end" fill="#333" transform="rotate(-60 474.58 316.50)">NAMPT</text>
<text x="484.41" y="316.50" font-size="6.75" text-anchor="end" fill="#333" transform="rotate(-60 484.41 316.50)">CD83</text>
<text x="494.25" y="316.50" font-size="6.75" text-anchor="end" fill="#333" transform="rotate(-60 494.25 316.50)">SLC2A3</text>
<text x="504.08" y="316.50" font-size="6.75" text-anchor="end" fill="#333" transform="rotate(-60 504.08 316.50)">HIF1A-AS3</text>
<text x="513.91" y="316.50" font-size="6.75" text-anchor="end" fill="#333" transform="rotate(-60 513.91 316.50)">TFRC</text>
<text x="523.75" y="316.50" font-size="6.75" text-anchor="end" fill="#333" transform="rotate(-60 523.75 316.50)">ZNF331</text>
<text x="533.58" y="316.50" font-size="6.75" text-anchor="end" fill="#333" transform="rotate(-60 533.58 316.50)">HIF1A</text>
<text x="543.41" y="316.50" font-size="6.75" text-anchor="end" fill="#333" transform="rotate(-60 543.41 316.50)">GNA13</text>
<text x="553.25" y="316.50" font-size="6.75" text-anchor="end" fill="#333" transform="rotate(-60 553.25 316.50)">AC131944.1</text>
<text x="563.08" y="316.50" font-size="6.75" text-anchor="end" fill="#333" transform="rotate(-60 563.08 316.50)">TNFAIP3</text>
<text x="572.92" y="316.50" font-size="6.75" text-anchor="end" fill="#333" transform="rotate(-60 572.92 316.50)">NFKB1</text>
<text x="582.75" y="316.50" font-size="6.75" text-anchor="end" fill="#333" transform="rotate(-60 582.75 316.50)">PLEK</text>
<text x="592.58" y="316.50" font-size="6.75" text-anchor="end" fill="#333" transform="rotate(-60 592.58 316.50)">TRAF3</text>
<text x="602.42" y="316.50" font-size="6.75" text-anchor="end" fill="#333" transform="rotate(-60 602.42 316.50)">CCL3</text>
<text x="612.25" y="316.50" font-size="6.75" text-anchor="end" fill="#333" transform="rotate(-60 612.25 316.50)">RNF144B</text>
<text x="622.09" y="316.50" font-size="6.75" text-anchor="end" fill="#333" transform="rotate(-60 622.09 316.50)">CCL4</text>
<text x="631.92" y="316.50" font-size="6.75" text-anchor="end" fill="#333" transform="rotate(-60 631.92 316.50)">IL1B</text>
<text x="641.75" y="316.50" font-size="6.75" text-anchor="end" fill="#333" transform="rotate(-60 641.75 316.50)">NFKBIZ</text>
<text x="650.00" y="227.50" dy="0.35em" font-size="7" fill="#333">z-score</text>
<defs><linearGradient id="zg" x1="0" y1="0" x2="0" y2="1"><stop offset="0" stop-color="#e8232e"/><stop offset="0.25" stop-color="#ec7a66"/><stop offset="0.47" stop-color="#fbf1ee"/><stop offset="0.53" stop-color="#f3f1f7"/><stop offset="0.7" stop-color="#9a8fc2"/><stop offset="0.85" stop-color="#3c3a92"/><stop offset="1" stop-color="#283a8c"/></linearGradient></defs>
<rect x="650" y="236.6" width="7" height="34.2" fill="url(#zg)"/>
<path d="M650 238.3h1.5M655.5 238.3h1.5" stroke="#fff" stroke-width="0.5"/>
<path d="M650 269.2h1.5M655.5 269.2h1.5" stroke="#fff" stroke-width="0.5"/>
<text x="661.10" y="237.60" dy="0.35em" font-size="7" fill="#333">2</text>
<text x="661.10" y="253.40" dy="0.35em" font-size="7" fill="#333">0</text>
<text x="660.50" y="269.20" dy="0.35em" font-size="7" fill="#333">−2</text>
<text transform="translate(-0.40 369.60) scale(1.17 1)" font-size="15" font-weight="bold" fill="#111" stroke="#111" stroke-width="0.6">d</text>
<path d="M46.0 382.2C49.6 378.6 48.4 380.2 52.0 381.0C55.6 381.8 53.8 385.1 58.0 385.0C62.2 384.9 61.2 381.6 66.0 380.7C70.8 379.8 69.8 382.5 74.0 382.0C78.2 381.5 74.6 381.4 80.0 379.1C85.4 376.9 85.6 376.8 92.0 374.5C98.4 372.2 94.8 371.5 101.2 371.5C107.6 371.5 105.1 369.9 113.4 374.5C121.7 379.1 119.6 379.4 128.8 386.8C138.0 394.2 134.9 391.6 144.1 399.0C153.3 406.4 150.2 403.0 159.4 411.3C168.6 419.6 166.4 417.4 174.7 426.6C183.0 435.8 179.6 431.9 187.0 442.0C194.4 452.1 196.5 451.2 199.3 460.4C202.1 469.6 202.6 464.3 196.2 472.6C189.8 480.9 189.8 478.8 177.8 488.0C165.8 497.2 169.2 495.1 156.3 503.3C143.4 511.6 146.8 509.6 134.9 515.5C123.0 521.4 127.0 518.6 116.5 523.0C106.0 527.4 108.7 526.9 100.0 530.0C91.3 533.1 95.8 533.6 87.4 533.5C79.0 533.4 80.2 533.2 72.0 529.5C63.8 525.8 66.3 528.0 60.0 521.0C53.7 514.0 55.5 516.2 51.0 506.3C46.5 496.4 49.3 499.9 45.0 488.0C40.7 476.1 41.1 480.3 36.8 466.5C32.5 452.7 33.0 454.9 30.7 442.0C28.4 429.1 28.2 433.7 29.1 423.6C30.0 413.5 30.5 417.4 33.7 408.2C36.9 399.0 36.2 400.7 39.9 392.9C43.6 385.1 42.4 385.8 46.0 382.2Z" fill="#b4b6b8" stroke="#c6c7c9" stroke-width="1.0" stroke-linejoin="round"/>
<path d="M101.2 371.5L174.7 426.6M36.8 466.5L87.4 533.5M159.4 411.3L29.1 423.6M58.0 385.0L45.0 488.0M159.4 411.3L100.0 530.0M66.0 380.7L60.0 521.0M113.4 374.5L87.4 533.5M46.0 382.2L80.0 379.1M177.8 488.0L33.7 408.2M159.4 411.3L177.8 488.0M29.1 423.6L30.7 442.0M72.0 529.5L113.4 374.5M29.1 423.6L116.5 523.0M30.7 442.0L187.0 442.0M46.0 382.2L52.0 381.0M52.0 381.0L156.3 503.3M134.9 515.5L156.3 503.3M80.0 379.1L60.0 521.0M101.2 371.5L80.0 379.1M187.0 442.0L116.5 523.0M45.0 488.0L199.3 460.4M159.4 411.3L196.2 472.6M159.4 411.3L30.7 442.0M36.8 466.5L29.1 423.6M51.0 506.3L66.0 380.7M156.3 503.3L39.9 392.9M177.8 488.0L80.0 379.1M51.0 506.3L52.0 381.0M72.0 529.5L113.4 374.5M51.0 506.3L134.9 515.5M52.0 381.0L101.2 371.5M174.7 426.6L80.0 379.1M134.9 515.5L30.7 442.0M156.3 503.3L159.4 411.3M196.2 472.6L66.0 380.7M92.0 374.5L187.0 442.0M92.0 374.5L144.1 399.0M177.8 488.0L80.0 379.1M196.2 472.6L58.0 385.0M45.0 488.0L45.0 488.0M116.5 523.0L159.4 411.3M144.1 399.0L134.9 515.5M100.0 530.0L39.9 392.9M46.0 382.2L33.7 408.2M33.7 408.2L30.7 442.0M187.0 442.0L174.7 426.6M199.3 460.4L30.7 442.0M144.1 399.0L36.8 466.5M51.0 506.3L144.1 399.0M36.8 466.5L74.0 382.0M52.0 381.0L60.0 521.0M174.7 426.6L39.9 392.9M113.4 374.5L87.4 533.5M29.1 423.6L134.9 515.5M80.0 379.1L101.2 371.5M177.8 488.0L36.8 466.5M33.7 408.2L199.3 460.4M177.8 488.0L60.0 521.0M58.0 385.0L33.7 408.2M113.4 374.5L30.7 442.0M58.0 385.0L92.0 374.5M134.9 515.5L134.9 515.5M144.1 399.0L33.7 408.2M144.1 399.0L134.9 515.5M187.0 442.0L134.9 515.5M74.0 382.0L52.0 381.0M51.0 506.3L45.0 488.0M51.0 506.3L30.7 442.0M52.0 381.0L33.7 408.2M128.8 386.8L66.0 380.7M60.0 521.0L159.4 411.3M87.4 533.5L45.0 488.0M52.0 381.0L92.0 374.5M174.7 426.6L156.3 503.3M128.8 386.8L46.0 382.2M116.5 523.0L58.0 385.0M113.4 374.5L60.0 521.0M33.7 408.2L29.1 423.6M101.2 371.5L159.4 411.3M52.0 381.0L159.4 411.3M58.0 385.0L33.7 408.2M46.0 382.2L101.2 371.5M159.4 411.3L187.0 442.0M36.8 466.5L199.3 460.4M33.7 408.2L58.0 385.0M29.1 423.6L187.0 442.0M92.0 374.5L128.8 386.8M174.7 426.6L51.0 506.3M134.9 515.5L29.1 423.6M116.5 523.0L100.0 530.0" stroke="#c4c5c7" stroke-width="0.3" fill="none" opacity="0.5"/>
<path transform="scale(.5)" d="M143 951h0m13 2h0m-55 8h0m144-4h0m39 7h0m-164 3h0m7-3h0m3 8h0m34-4h0m16-2h0m2 4h0m3-2h0m23-1h0m26 5h0m5-6h0m-135 14h0m28-2h0m8-6h0m4 6h0m2 0h0m60 0h0m3 2h0m27-5h0m2 1h0m15-3h0m5 6h0m-159 5h0m4-4h0m9 1h0m4-1h0m3 6h0m22 0h0m4-2h0m1 3h0m1 0h0m26-1h0m11-2h0m7 1h0m7 1h0m3-5h0m6 3h0m19 0h0m1-3h0m13 1h0m13 5h0m8 0h0m40-2h0m-205 8h0m1-3h0m3 2h0m12 1h0m0-2h0m8 0h0m7-1h0m1 1h0m0-2h0m1 5h0m22 0h0m1-3h0m12-3h0m2 1h0m6 7h0m2 0h0m1 0h0m3-6h0m11 2h0m1 3h0m1-1h0m11-5h0m5 4h0m0 0h0m9 1h0m4-1h0m2-1h0m23 3h0m5-6h0m0 0h0m5 3h0m8-2h0m3 2h0m3-1h0m13 1h0m-184 8h0m6 2h0m2 2h0m3-8h0m8 7h0m1-4h0m1-1h0m2 0h0m1-2h0m18 7h0m3-6h0m2 3h0m3 3h0m3-1h0m2-4h0m0 0h0m6-1h0m2 7h0m1-2h0m1-5h0m13 5h0m1-1h0m6-2h0m6 5h0m5-7h0m5 6h0m4-3h0m7 3h0m11 1h0m2 0h0m3-3h0m8 2h0m8-5h0m5 0h0m0 3h0m3 0h0m8 3h0m7-5h0m0 0h0m-155 5h0m8 2h0m0 5h0m2-1h0m1-1h0m2-3h0m1 4h0m2-2h0m0-1h0m1 1h0m0 3h0m2 0h0m1-2h0m2-5h0m2 8h0m1-4h0m2 2h0m6-5h0m3 1h0m3 3h0m7-4h0m4 1h0m4 1h0m0-1h0m3 6h0m1-1h0m2-5h0m0 2h0m5 0h0m1 1h0m4 1h0m3 1h0m2 0h0m0-2h0m2 2h0m1-4h0m3-1h0m1-2h0m1 2h0m1 0h0m2 1h0m1 1h0m2 0h0m1-3h0m1 2h0m2-2h0m2 1h0m1-1h0m3 6h0m1-6h0m0 5h0m5-4h0m1 0h0m6 5h0m2 0h0m6-7h0m2 7h0m3 0h0m4-2h0m10 1h0m23 1h0m0-4h0m22-1h0m-187 9h0m3-1h0m5 6h0m1-5h0m6-2h0m5-1h0m3 0h0m3 6h0m4-3h0m0 1h0m1-3h0m4 4h0m1-3h0m1 6h0m2-5h0m1-1h0m3 6h0m1-7h0m2 4h0m2 2h0m1-6h0m4 0h0m1 5h0m0-5h0m1 0h0m5 3h0m0 3h0m4-3h0m3 3h0m0-3h0m4 4h0m0-4h0m3-3h0m1 5h0m1-5h0m1 6h0m6-7h0m1 0h0m1 0h0m2 3h0m1 4h0m5-5h0m4-1h0m5 1h0m0 2h0m3 3h0m1-6h0m0 6h0m1-3h0m1-1h0m8-1h0m3 6h0m3-8h0m2 4h0m8-3h0m1 0h0m6 2h0m5 2h0m3 2h0m10-6h0m1 7h0m1-2h0m13 2h0m-170 4h0m8-1h0m1 0h0m6-3h0m2 1h0m3 5h0m0-1h0m2 1h0m2-3h0m4 2h0m1-4h0m1 4h0m3-3h0m2 4h0m2-6h0m3 7h0m6 1h0m1-2h0m6-2h0m0-3h0m4 2h0m3 4h0m4-7h0m1 1h0m5 5h0m10-5h0m2 6h0m0-4h0m1 5h0m1 0h0m4-2h0m0 0h0m1-3h0m0-2h0m2 0h0m1 0h0m2 5h0m0-3h0m11-2h0m3 2h0m1-1h0m5 1h0m1 2h0m2-1h0m4 3h0m6-3h0m1 0h0m5 1h0m5 2h0m4-3h0m13-3h0m14 3h0m4-3h0m-164 9h0m10 2h0m4 3h0m4 0h0m3-5h0m3-2h0m1 6h0m2-1h0m2-2h0m3 4h0m0-6h0m0 4h0m0-1h0m1-2h0m1 2h0m0 1h0m4-3h0m3 0h0m0 4h0m1 1h0m1-5h0m2-1h0m3 5h0m1-6h0m6 6h0m2 1h0m0-1h0m1-5h0m2 1h0m1 4h0m2 1h0m4-1h0m9-4h0m0-1h0m3-1h0m3 6h0m4 0h0m1 0h0m4-5h0m10 7h0m0-6h0m3 5h0m2-7h0m1 6h0m0 2h0m2-3h0m2-4h0m3 6h0m0-3h0m5-4h0m1 5h0m1 1h0m4-6h0m4 5h0m6-2h0m6-2h0m-133 8h0m1 1h0m0 0h0m3-1h0m4 2h0m1-1h0m5 2h0m6-3h0m1-1h0m4 5h0m2-4h0m4 3h0m2 1h0m1-3h0m1 1h0m3-1h0m4-1h0m2 1h0m3 2h0m1 3h0m1-6h0m0 4h0m2-4h0m1 6h0m1-5h0m3 3h0m3 3h0m4-4h0m8-3h0m3 2h0m8 3h0m1-3h0m0 5h0m8-6h0m10 6h0m10-6h0m5 1h0m6-1h0m-122 8h0m18 3h0m1-5h0m3 1h0m8 6h0m1-2h0m3 2h0m1-6h0m0 0h0m2 1h0m1 6h0m3-8h0m7 6h0m6-2h0m4 1h0m7-1h0m7-3h0m-49 15h0m5-2h0m1 0h0m17-5h0m19 0h0m6 5h0m5-2h0m7-2h0m3 1h0" stroke="#333" stroke-width="4.20" stroke-linecap="round" fill="none" stroke-opacity="0.55"/>
<path transform="scale(.5)" d="M143 951h0m13 2h0m-55 8h0m144-4h0m39 7h0m-164 3h0m7-3h0m3 8h0m34-4h0m16-2h0m2 4h0m3-2h0m23-1h0m26 5h0m5-6h0m-135 14h0m28-2h0m8-6h0m4 6h0m2 0h0m60 0h0m3 2h0m27-5h0m2 1h0m15-3h0m5 6h0m-159 5h0m4-4h0m9 1h0m4-1h0m3 6h0m22 0h0m4-2h0m1 3h0m1 0h0m26-1h0m11-2h0m7 1h0m7 1h0m3-5h0m6 3h0m19 0h0m1-3h0m13 1h0m13 5h0m8 0h0m40-2h0m-205 8h0m1-3h0m3 2h0m12 1h0m0-2h0m8 0h0m7-1h0m1 1h0m0-2h0m1 5h0m22 0h0m1-3h0m12-3h0m2 1h0m6 7h0m2 0h0m1 0h0m3-6h0m11 2h0m1 3h0m1-1h0m11-5h0m5 4h0m0 0h0m9 1h0m4-1h0m2-1h0m23 3h0m5-6h0m0 0h0m5 3h0m8-2h0m3 2h0m3-1h0m13 1h0m-184 8h0m6 2h0m2 2h0m3-8h0m8 7h0m1-4h0m1-1h0m2 0h0m1-2h0m18 7h0m3-6h0m2 3h0m3 3h0m3-1h0m2-4h0m0 0h0m6-1h0m2 7h0m1-2h0m1-5h0m13 5h0m1-1h0m6-2h0m6 5h0m5-7h0m5 6h0m4-3h0m7 3h0m11 1h0m2 0h0m3-3h0m8 2h0m8-5h0m5 0h0m0 3h0m3 0h0m8 3h0m7-5h0m0 0h0m-155 5h0m8 2h0m0 5h0m2-1h0m1-1h0m2-3h0m1 4h0m2-2h0m0-1h0m1 1h0m0 3h0m2 0h0m1-2h0m2-5h0m2 8h0m1-4h0m2 2h0m6-5h0m3 1h0m3 3h0m7-4h0m4 1h0m4 1h0m0-1h0m3 6h0m1-1h0m2-5h0m0 2h0m5 0h0m1 1h0m4 1h0m3 1h0m2 0h0m0-2h0m2 2h0m1-4h0m3-1h0m1-2h0m1 2h0m1 0h0m2 1h0m1 1h0m2 0h0m1-3h0m1 2h0m2-2h0m2 1h0m1-1h0m3 6h0m1-6h0m0 5h0m5-4h0m1 0h0m6 5h0m2 0h0m6-7h0m2 7h0m3 0h0m4-2h0m10 1h0m23 1h0m0-4h0m22-1h0m-187 9h0m3-1h0m5 6h0m1-5h0m6-2h0m5-1h0m3 0h0m3 6h0m4-3h0m0 1h0m1-3h0m4 4h0m1-3h0m1 6h0m2-5h0m1-1h0m3 6h0m1-7h0m2 4h0m2 2h0m1-6h0m4 0h0m1 5h0m0-5h0m1 0h0m5 3h0m0 3h0m4-3h0m3 3h0m0-3h0m4 4h0m0-4h0m3-3h0m1 5h0m1-5h0m1 6h0m6-7h0m1 0h0m1 0h0m2 3h0m1 4h0m5-5h0m4-1h0m5 1h0m0 2h0m3 3h0m1-6h0m0 6h0m1-3h0m1-1h0m8-1h0m3 6h0m3-8h0m2 4h0m8-3h0m1 0h0m6 2h0m5 2h0m3 2h0m10-6h0m1 7h0m1-2h0m13 2h0m-170 4h0m8-1h0m1 0h0m6-3h0m2 1h0m3 5h0m0-1h0m2 1h0m2-3h0m4 2h0m1-4h0m1 4h0m3-3h0m2 4h0m2-6h0m3 7h0m6 1h0m1-2h0m6-2h0m0-3h0m4 2h0m3 4h0m4-7h0m1 1h0m5 5h0m10-5h0m2 6h0m0-4h0m1 5h0m1 0h0m4-2h0m0 0h0m1-3h0m0-2h0m2 0h0m1 0h0m2 5h0m0-3h0m11-2h0m3 2h0m1-1h0m5 1h0m1 2h0m2-1h0m4 3h0m6-3h0m1 0h0m5 1h0m5 2h0m4-3h0m13-3h0m14 3h0m4-3h0m-164 9h0m10 2h0m4 3h0m4 0h0m3-5h0m3-2h0m1 6h0m2-1h0m2-2h0m3 4h0m0-6h0m0 4h0m0-1h0m1-2h0m1 2h0m0 1h0m4-3h0m3 0h0m0 4h0m1 1h0m1-5h0m2-1h0m3 5h0m1-6h0m6 6h0m2 1h0m0-1h0m1-5h0m2 1h0m1 4h0m2 1h0m4-1h0m9-4h0m0-1h0m3-1h0m3 6h0m4 0h0m1 0h0m4-5h0m10 7h0m0-6h0m3 5h0m2-7h0m1 6h0m0 2h0m2-3h0m2-4h0m3 6h0m0-3h0m5-4h0m1 5h0m1 1h0m4-6h0m4 5h0m6-2h0m6-2h0m-133 8h0m1 1h0m0 0h0m3-1h0m4 2h0m1-1h0m5 2h0m6-3h0m1-1h0m4 5h0m2-4h0m4 3h0m2 1h0m1-3h0m1 1h0m3-1h0m4-1h0m2 1h0m3 2h0m1 3h0m1-6h0m0 4h0m2-4h0m1 6h0m1-5h0m3 3h0m3 3h0m4-4h0m8-3h0m3 2h0m8 3h0m1-3h0m0 5h0m8-6h0m10 6h0m10-6h0m5 1h0m6-1h0m-122 8h0m18 3h0m1-5h0m3 1h0m8 6h0m1-2h0m3 2h0m1-6h0m0 0h0m2 1h0m1 6h0m3-8h0m7 6h0m6-2h0m4 1h0m7-1h0m7-3h0m-49 15h0m5-2h0m1 0h0m17-5h0m19 0h0m6 5h0m5-2h0m7-2h0m3 1h0" stroke="#741636" stroke-width="2.70" stroke-linecap="round" fill="none"/>
<path transform="scale(.5)" d="M200 763h0m-41 11h0m35 3h0m-29 7h0m46 0h0m60 3h0m-83 8h0m33-3h0m21-3h0m5 3h0m21 2h0m-137 7h0m31 1h0m63-3h0m22 2h0m29 1h0m2-4h0m7-1h0m7 7h0m-76 3h0m6 1h0m10-1h0m15-2h0m12 2h0m1 3h0m1-4h0m14 0h0m4 4h0m20-3h0m-147 13h0m23-2h0m19-6h0m9 8h0m3-8h0m10 3h0m15 1h0m8 1h0m9-1h0m2 3h0m4-7h0m3 6h0m0 0h0m1 1h0m7-7h0m3 1h0m4-1h0m4 3h0m17 4h0m1-6h0m3-1h0m1 5h0m-110 9h0m30 0h0m3 0h0m32-2h0m3-2h0m1-2h0m7 0h0m0 3h0m4 4h0m0-4h0m35 1h0m0 4h0m4-2h0m-152 5h0m35 0h0m9 2h0m3-3h0m1 6h0m5-4h0m14 2h0m5-1h0m3-2h0m9 0h0m10-3h0m1 7h0m14-2h0m20-4h0m7 4h0m0 0h0m30-3h0m-147 12h0m25 2h0m6 0h0m2-3h0m31-3h0m0 1h0m10 3h0m29 0h0m2-6h0m2 1h0m6 7h0m6-1h0m5-2h0m3 0h0m2 2h0m8-7h0m-170 9h0m25 2h0m5 4h0m7-1h0m23 1h0m11-3h0m17 0h0m7 4h0m14-6h0m0 4h0m2-5h0m7 3h0m16 2h0m5-1h0m2 0h0m0 2h0m13-4h0m12 3h0m3-6h0m14 6h0m7-1h0m6-1h0m-260 9h0m94 1h0m15-2h0m7 3h0m13-5h0m2 4h0m5-3h0m0-1h0m16 1h0m1 3h0m3-3h0m2-1h0m1-1h0m3 3h0m3 2h0m1-4h0m2 4h0m11 2h0m38-5h0m6 3h0m49 0h0m-163 5h0m5 3h0m33-1h0m8 2h0m9-4h0m19 3h0m1-1h0m9-3h0m1 1h0m22 3h0m26-5h0m-152 12h0m15-3h0m4 4h0m18-1h0m27-2h0m23 0h0m38-2h0m17 4h0m5 1h0m-127 8h0m0 1h0m3 0h0m4 0h0m11-5h0m2 1h0m6 5h0m4-1h0m23-7h0m6 4h0m11 2h0m27-3h0m6 2h0m21-4h0m-149 10h0m38 5h0m3-4h0m4 3h0m19 0h0m4-2h0m6-3h0m2 0h0m17-2h0m10 1h0m10-1h0m-125 15h0m1-2h0m23-5h0m15 4h0m14 1h0m5 0h0m51 3h0m8 0h0m41-8h0m-162 14h0m11 0h0m12-4h0m7 5h0m5-1h0m6-3h0m4-1h0m5 4h0m19-1h0m2 3h0m10-7h0m0 4h0m7-4h0m20-1h0m11 4h0m5 1h0m-137 9h0m9-4h0m33 2h0m10 1h0m0-2h0m5-3h0m0 0h0m26 3h0m2 5h0m7-1h0m9-2h0m1 3h0m45-6h0m15 6h0m-172 6h0m9-5h0m33 0h0m1 5h0m11-3h0m7 4h0m5-1h0m11-4h0m8 6h0m0-3h0m2 3h0m68-3h0m-126 8h0m44-2h0m21-3h0m3 1h0m31 4h0m12-4h0m32 6h0m15-7h0m-207 11h0m26 3h0m19-1h0m20-4h0m26 1h0m27 3h0m-103 4h0m40 1h0m51 4h0m1-2h0m42-4h0m32 1h0m-117 11h0m16 5h0m8 3h0m29 3h0m16-1h0m-90 10h0m129-5h0m-101 9h0m12-3h0m4 3h0m15 1h0m23-4h0m-66 15h0m40-7h0" stroke="#333" stroke-width="4.20" stroke-linecap="round" fill="none" stroke-opacity="0.55"/>
<path transform="scale(.5)" d="M200 763h0m-41 11h0m35 3h0m-29 7h0m46 0h0m60 3h0m-83 8h0m33-3h0m21-3h0m5 3h0m21 2h0m-137 7h0m31 1h0m63-3h0m22 2h0m29 1h0m2-4h0m7-1h0m7 7h0m-76 3h0m6 1h0m10-1h0m15-2h0m12 2h0m1 3h0m1-4h0m14 0h0m4 4h0m20-3h0m-147 13h0m23-2h0m19-6h0m9 8h0m3-8h0m10 3h0m15 1h0m8 1h0m9-1h0m2 3h0m4-7h0m3 6h0m0 0h0m1 1h0m7-7h0m3 1h0m4-1h0m4 3h0m17 4h0m1-6h0m3-1h0m1 5h0m-110 9h0m30 0h0m3 0h0m32-2h0m3-2h0m1-2h0m7 0h0m0 3h0m4 4h0m0-4h0m35 1h0m0 4h0m4-2h0m-152 5h0m35 0h0m9 2h0m3-3h0m1 6h0m5-4h0m14 2h0m5-1h0m3-2h0m9 0h0m10-3h0m1 7h0m14-2h0m20-4h0m7 4h0m0 0h0m30-3h0m-147 12h0m25 2h0m6 0h0m2-3h0m31-3h0m0 1h0m10 3h0m29 0h0m2-6h0m2 1h0m6 7h0m6-1h0m5-2h0m3 0h0m2 2h0m8-7h0m-170 9h0m25 2h0m5 4h0m7-1h0m23 1h0m11-3h0m17 0h0m7 4h0m14-6h0m0 4h0m2-5h0m7 3h0m16 2h0m5-1h0m2 0h0m0 2h0m13-4h0m12 3h0m3-6h0m14 6h0m7-1h0m6-1h0m-260 9h0m94 1h0m15-2h0m7 3h0m13-5h0m2 4h0m5-3h0m0-1h0m16 1h0m1 3h0m3-3h0m2-1h0m1-1h0m3 3h0m3 2h0m1-4h0m2 4h0m11 2h0m38-5h0m6 3h0m49 0h0m-163 5h0m5 3h0m33-1h0m8 2h0m9-4h0m19 3h0m1-1h0m9-3h0m1 1h0m22 3h0m26-5h0m-152 12h0m15-3h0m4 4h0m18-1h0m27-2h0m23 0h0m38-2h0m17 4h0m5 1h0m-127 8h0m0 1h0m3 0h0m4 0h0m11-5h0m2 1h0m6 5h0m4-1h0m23-7h0m6 4h0m11 2h0m27-3h0m6 2h0m21-4h0m-149 10h0m38 5h0m3-4h0m4 3h0m19 0h0m4-2h0m6-3h0m2 0h0m17-2h0m10 1h0m10-1h0m-125 15h0m1-2h0m23-5h0m15 4h0m14 1h0m5 0h0m51 3h0m8 0h0m41-8h0m-162 14h0m11 0h0m12-4h0m7 5h0m5-1h0m6-3h0m4-1h0m5 4h0m19-1h0m2 3h0m10-7h0m0 4h0m7-4h0m20-1h0m11 4h0m5 1h0m-137 9h0m9-4h0m33 2h0m10 1h0m0-2h0m5-3h0m0 0h0m26 3h0m2 5h0m7-1h0m9-2h0m1 3h0m45-6h0m15 6h0m-172 6h0m9-5h0m33 0h0m1 5h0m11-3h0m7 4h0m5-1h0m11-4h0m8 6h0m0-3h0m2 3h0m68-3h0m-126 8h0m44-2h0m21-3h0m3 1h0m31 4h0m12-4h0m32 6h0m15-7h0m-207 11h0m26 3h0m19-1h0m20-4h0m26 1h0m27 3h0m-103 4h0m40 1h0m51 4h0m1-2h0m42-4h0m32 1h0m-117 11h0m16 5h0m8 3h0m29 3h0m16-1h0m-90 10h0m129-5h0m-101 9h0m12-3h0m4 3h0m15 1h0m23-4h0m-66 15h0m40-7h0" stroke="#8a2a22" stroke-width="2.70" stroke-linecap="round" fill="none"/>
<path transform="scale(.5)" d="M279 849h0m-10 4h0m9 3h0m15 0h0m11-3h0m-35 12h0m-20 17h0m9 0h0m91-2h0m4-1h0m-111 7h0m8 5h0m27-3h0m4-4h0m58 5h0m15 0h0m5 2h0m8-2h0m-144 6h0m32 4h0m0 0h0m19-5h0m11 1h0m13 1h0m16 0h0m23-3h0m0 5h0m1-2h0m21 3h0m1-7h0m1 0h0m4 6h0m3-5h0m1 1h0m4 5h0m0 1h0m-90 7h0m13-3h0m8 4h0m24-5h0m5 5h0m5-8h0m2 7h0m16 0h0m10-2h0m15 2h0m1-1h0m4-3h0m-132 5h0m5 6h0m10-4h0m9 4h0m8-2h0m15-3h0m45 7h0m5-7h0m6 2h0m3-2h0m3 0h0m2 6h0m5-5h0m1 1h0m1 1h0m0 3h0m1-1h0m3 0h0m0 0h0m-115 5h0m43 2h0m3-1h0m24-3h0m10 0h0m2 1h0m2-1h0m6 2h0m2-2h0m2 3h0m0 4h0m3-8h0m3 0h0m0 4h0m0 0h0m1 1h0m22 1h0m1-5h0m1 6h0m7-4h0m-188 12h0m75-6h0m16 5h0m5-1h0m12 3h0m16-5h0m4-3h0m6 4h0m4 0h0m0-1h0m4 5h0m8-8h0m11 8h0m0-4h0m8 2h0m1-5h0m1 2h0m0 1h0m5-2h0m2-1h0m-74 14h0m10-2h0m3-5h0m19 4h0m3 1h0m5 1h0m3-3h0m8 1h0m0-2h0m4 3h0m15 2h0m-88 6h0m31 0h0m23 2h0m3 0h0m19-4h0m2 1h0m9 3h0m6-1h0m-108 4h0m3 5h0m25-1h0m16-3h0m13 0h0m6 1h0m8-3h0m10 5h0m2-4h0m3-1h0m2-1h0m-70 10h0m15 5h0m12-7h0m8 2h0m21 3h0m1-1h0m3 1h0m25-5h0m-14 9h0m-35 10h0m18 3h0m-64 6h0m45 2h0" stroke="#333" stroke-width="4.20" stroke-linecap="round" fill="none" stroke-opacity="0.55"/>
<path transform="scale(.5)" d="M279 849h0m-10 4h0m9 3h0m15 0h0m11-3h0m-35 12h0m-20 17h0m9 0h0m91-2h0m4-1h0m-111 7h0m8 5h0m27-3h0m4-4h0m58 5h0m15 0h0m5 2h0m8-2h0m-144 6h0m32 4h0m0 0h0m19-5h0m11 1h0m13 1h0m16 0h0m23-3h0m0 5h0m1-2h0m21 3h0m1-7h0m1 0h0m4 6h0m3-5h0m1 1h0m4 5h0m0 1h0m-90 7h0m13-3h0m8 4h0m24-5h0m5 5h0m5-8h0m2 7h0m16 0h0m10-2h0m15 2h0m1-1h0m4-3h0m-132 5h0m5 6h0m10-4h0m9 4h0m8-2h0m15-3h0m45 7h0m5-7h0m6 2h0m3-2h0m3 0h0m2 6h0m5-5h0m1 1h0m1 1h0m0 3h0m1-1h0m3 0h0m0 0h0m-115 5h0m43 2h0m3-1h0m24-3h0m10 0h0m2 1h0m2-1h0m6 2h0m2-2h0m2 3h0m0 4h0m3-8h0m3 0h0m0 4h0m0 0h0m1 1h0m22 1h0m1-5h0m1 6h0m7-4h0m-188 12h0m75-6h0m16 5h0m5-1h0m12 3h0m16-5h0m4-3h0m6 4h0m4 0h0m0-1h0m4 5h0m8-8h0m11 8h0m0-4h0m8 2h0m1-5h0m1 2h0m0 1h0m5-2h0m2-1h0m-74 14h0m10-2h0m3-5h0m19 4h0m3 1h0m5 1h0m3-3h0m8 1h0m0-2h0m4 3h0m15 2h0m-88 6h0m31 0h0m23 2h0m3 0h0m19-4h0m2 1h0m9 3h0m6-1h0m-108 4h0m3 5h0m25-1h0m16-3h0m13 0h0m6 1h0m8-3h0m10 5h0m2-4h0m3-1h0m2-1h0m-70 10h0m15 5h0m12-7h0m8 2h0m21 3h0m1-1h0m3 1h0m25-5h0m-14 9h0m-35 10h0m18 3h0m-64 6h0m45 2h0" stroke="#c4864a" stroke-width="2.70" stroke-linecap="round" fill="none"/>
<path transform="scale(.5)" d="M142 778h0m-42 42h0m6-2h0m-20 20h0m25 6h0m105-3h0m-142 3h0m69 8h0m-58 11h0m11-2h0m62-1h0m-11 9h0m-32 13h0m34-6h0m-30 9h0m31 4h0m-75 6h0m34 1h0m-12 18h0m17-2h0m1 1h0m3-1h0m1 1h0m8-3h0m7 1h0m21 2h0m53 1h0m-93 5h0m0 1h0m14-1h0m6 1h0m121 0h0m4 3h0m-166 2h0m51 4h0m177-5h0m-216 12h0m28 4h0m70 0h0m-116 5h0m25-3h0m0 0h0m7 1h0m8 3h0m4 0h0m12 0h0m89 1h0m-107 6h0m29 0h0m16-3h0m18 0h0m-47 7h0m-35 9h0m22 6h0m33-2h0m3-2h0m33 1h0m29 2h0m39-2h0m-157 7h0m14 2h0m15-4h0m14-1h0m2 4h0m36 0h0m7-2h0m-57 6h0m31 2h0m98 18h0m-83 18h0" stroke="#333" stroke-width="4.20" stroke-linecap="round" fill="none" stroke-opacity="0.55"/>
<path transform="scale(.5)" d="M142 778h0m-42 42h0m6-2h0m-20 20h0m25 6h0m105-3h0m-142 3h0m69 8h0m-58 11h0m11-2h0m62-1h0m-11 9h0m-32 13h0m34-6h0m-30 9h0m31 4h0m-75 6h0m34 1h0m-12 18h0m17-2h0m1 1h0m3-1h0m1 1h0m8-3h0m7 1h0m21 2h0m53 1h0m-93 5h0m0 1h0m14-1h0m6 1h0m121 0h0m4 3h0m-166 2h0m51 4h0m177-5h0m-216 12h0m28 4h0m70 0h0m-116 5h0m25-3h0m0 0h0m7 1h0m8 3h0m4 0h0m12 0h0m89 1h0m-107 6h0m29 0h0m16-3h0m18 0h0m-47 7h0m-35 9h0m22 6h0m33-2h0m3-2h0m33 1h0m29 2h0m39-2h0m-157 7h0m14 2h0m15-4h0m14-1h0m2 4h0m36 0h0m7-2h0m-57 6h0m31 2h0m98 18h0m-83 18h0" stroke="#d6d9b4" stroke-width="2.70" stroke-linecap="round" fill="none"/>
<path transform="scale(.5)" d="M133 770h0m1 10h0m-48 10h0m3 6h0m31-4h0m11 2h0m-55 5h0m8 0h0m43-2h0m-43 10h0m11 3h0m8-2h0m27-3h0m8 3h0m17 2h0m5-5h0m-78 15h0m10 0h0m13-3h0m17-1h0m45-3h0m-94 13h0m3 0h0m1-3h0m6 1h0m2 0h0m2-3h0m18 5h0m39-5h0m-67 8h0m2 5h0m16-2h0m16-1h0m27 1h0m3 2h0m-80 6h0m18-3h0m9 0h0m1 4h0m1 2h0m3-5h0m0-1h0m1 6h0m6 0h0m11-3h0m7 1h0m6 3h0m2-2h0m-48 5h0m3-1h0m27 2h0m4 2h0m22 1h0m13 1h0m-73 4h0m2-1h0m9 4h0m32-2h0m26-3h0m1 2h0m15-3h0m-79 7h0m7 4h0m8 1h0m7 2h0m0-2h0m2 1h0m31-5h0m-72 9h0m30 1h0m4 4h0m17-1h0m1-1h0m11 1h0m0 2h0m10-6h0m4 0h0m5-1h0m27 7h0m33-6h0m-142 13h0m18-6h0m2 4h0m11 1h0m5-3h0m1 4h0m0-7h0m2 8h0m4-7h0m4 0h0m8 3h0m-52 6h0m0 5h0m28 1h0m21-3h0m0-1h0m20 1h0m30 2h0m-85 1h0m1 2h0m5 5h0m1-2h0m2 0h0m2 2h0m26 0h0m38 0h0m0-6h0m4-1h0m0 5h0m-81 8h0m34 3h0m2-1h0m0-6h0m5 4h0m5-1h0m6-3h0m3 2h0m29-1h0m13 4h0m-98 3h0m6 5h0m5 0h0m7 0h0m1 0h0m10-3h0m0-1h0m4 0h0m1 4h0m22 0h0m8-6h0m22 7h0m9-6h0m8 1h0m5 4h0m-86 10h0m1 0h0m3-2h0m1-1h0m1-2h0m6 1h0m16-3h0m25 5h0m17-3h0m-79 12h0m8-3h0m5-1h0m2 1h0m21-1h0m0 4h0m8-3h0m13 4h0m6-4h0m1 0h0m-62 7h0m0 0h0m3 0h0m15 0h0m1-1h0m1 1h0m2 4h0m6-2h0m2-2h0m22 0h0m5-3h0m-69 11h0m19 2h0m2 2h0m14-5h0m3 3h0m0 3h0m21-4h0m15-3h0m3 0h0m3 3h0m39 3h0m-115 8h0m12-2h0m15 3h0m7-2h0m71-1h0m-97 6h0m0 0h0m5-1h0m8 5h0m11-7h0m6 1h0m2 7h0m12-3h0m10-1h0m6 3h0m25-4h0m-83 10h0m7-5h0m14 8h0m35-4h0m0-1h0m-57 11h0m11-5h0m1 4h0m20-1h0m25 1h0m12 3h0m4-3h0m-64 4h0m11 7h0m12-3h0m4-4h0m11-1h0m6 6h0m28 0h0m16-2h0m6-1h0m-94 6h0m56 3h0m8 1h0m-55 3h0m1 11h0m11 11h0m46-1h0m-43 20h0" stroke="#333" stroke-width="4.20" stroke-linecap="round" fill="none" stroke-opacity="0.55"/>
<path transform="scale(.5)" d="M133 770h0m1 10h0m-48 10h0m3 6h0m31-4h0m11 2h0m-55 5h0m8 0h0m43-2h0m-43 10h0m11 3h0m8-2h0m27-3h0m8 3h0m17 2h0m5-5h0m-78 15h0m10 0h0m13-3h0m17-1h0m45-3h0m-94 13h0m3 0h0m1-3h0m6 1h0m2 0h0m2-3h0m18 5h0m39-5h0m-67 8h0m2 5h0m16-2h0m16-1h0m27 1h0m3 2h0m-80 6h0m18-3h0m9 0h0m1 4h0m1 2h0m3-5h0m0-1h0m1 6h0m6 0h0m11-3h0m7 1h0m6 3h0m2-2h0m-48 5h0m3-1h0m27 2h0m4 2h0m22 1h0m13 1h0m-73 4h0m2-1h0m9 4h0m32-2h0m26-3h0m1 2h0m15-3h0m-79 7h0m7 4h0m8 1h0m7 2h0m0-2h0m2 1h0m31-5h0m-72 9h0m30 1h0m4 4h0m17-1h0m1-1h0m11 1h0m0 2h0m10-6h0m4 0h0m5-1h0m27 7h0m33-6h0m-142 13h0m18-6h0m2 4h0m11 1h0m5-3h0m1 4h0m0-7h0m2 8h0m4-7h0m4 0h0m8 3h0m-52 6h0m0 5h0m28 1h0m21-3h0m0-1h0m20 1h0m30 2h0m-85 1h0m1 2h0m5 5h0m1-2h0m2 0h0m2 2h0m26 0h0m38 0h0m0-6h0m4-1h0m0 5h0m-81 8h0m34 3h0m2-1h0m0-6h0m5 4h0m5-1h0m6-3h0m3 2h0m29-1h0m13 4h0m-98 3h0m6 5h0m5 0h0m7 0h0m1 0h0m10-3h0m0-1h0m4 0h0m1 4h0m22 0h0m8-6h0m22 7h0m9-6h0m8 1h0m5 4h0m-86 10h0m1 0h0m3-2h0m1-1h0m1-2h0m6 1h0m16-3h0m25 5h0m17-3h0m-79 12h0m8-3h0m5-1h0m2 1h0m21-1h0m0 4h0m8-3h0m13 4h0m6-4h0m1 0h0m-62 7h0m0 0h0m3 0h0m15 0h0m1-1h0m1 1h0m2 4h0m6-2h0m2-2h0m22 0h0m5-3h0m-69 11h0m19 2h0m2 2h0m14-5h0m3 3h0m0 3h0m21-4h0m15-3h0m3 0h0m3 3h0m39 3h0m-115 8h0m12-2h0m15 3h0m7-2h0m71-1h0m-97 6h0m0 0h0m5-1h0m8 5h0m11-7h0m6 1h0m2 7h0m12-3h0m10-1h0m6 3h0m25-4h0m-83 10h0m7-5h0m14 8h0m35-4h0m0-1h0m-57 11h0m11-5h0m1 4h0m20-1h0m25 1h0m12 3h0m4-3h0m-64 4h0m11 7h0m12-3h0m4-4h0m11-1h0m6 6h0m28 0h0m16-2h0m6-1h0m-94 6h0m56 3h0m8 1h0m-55 3h0m1 11h0m11 11h0m46-1h0m-43 20h0" stroke="#6e7e52" stroke-width="2.70" stroke-linecap="round" fill="none"/>
<path transform="scale(.5)" d="M89 770h0m2 1h0m2-2h0m0-1h0m3 0h0m2 4h0m0-7h0m0 4h0m0-1h0m6 3h0m0-5h0m-15 13h0m5-1h0m1 0h0m0-2h0m3 4h0m2-1h0m1 1h0m0-4h0m3-3h0m-21 14h0m1 0h0m5-4h0m1 0h0m1-1h0m4 6h0m4-2h0m3-2h0m4-4h0m-19 10h0m2 3h0m2-1h0m5-3h0m0 0h0m3 4h0m-15 8h0m3 2h0m-14 12h0m22 0h0m2 2h0m7-1h0m-23 6h0m12 6h0m2-3h0m2-3h0m-20 11h0m7-2h0m4 7h0m2-1h0m17 5h0" stroke="#333" stroke-width="4.20" stroke-linecap="round" fill="none" stroke-opacity="0.55"/>
<path transform="scale(.5)" d="M89 770h0m2 1h0m2-2h0m0-1h0m3 0h0m2 4h0m0-7h0m0 4h0m0-1h0m6 3h0m0-5h0m-15 13h0m5-1h0m1 0h0m0-2h0m3 4h0m2-1h0m1 1h0m0-4h0m3-3h0m-21 14h0m1 0h0m5-4h0m1 0h0m1-1h0m4 6h0m4-2h0m3-2h0m4-4h0m-19 10h0m2 3h0m2-1h0m5-3h0m0 0h0m3 4h0m-15 8h0m3 2h0m-14 12h0m22 0h0m2 2h0m7-1h0m-23 6h0m12 6h0m2-3h0m2-3h0m-20 11h0m7-2h0m4 7h0m2-1h0m17 5h0" stroke="#1d5c66" stroke-width="2.70" stroke-linecap="round" fill="none"/>
<path transform="scale(.5)" d="M147 780h0m-64 34h0m111 3h0m-39 7h0m129 4h0m-207 37h0m205 4h0m-146 22h0m157 0h0m-71 12h0m-73 12h0m-11 2h0m101 6h0m9 0h0m-117 1h0m155 2h0m-61 31h0m-113 32h0m45 10h0m68 29h0" stroke="#333" stroke-width="4.20" stroke-linecap="round" fill="none" stroke-opacity="0.55"/>
<path transform="scale(.5)" d="M147 780h0m-64 34h0m111 3h0m-39 7h0m129 4h0m-207 37h0m205 4h0m-146 22h0m157 0h0m-71 12h0m-73 12h0m-11 2h0m101 6h0m9 0h0m-117 1h0m155 2h0m-61 31h0m-113 32h0m45 10h0m68 29h0" stroke="#1e2350" stroke-width="2.70" stroke-linecap="round" fill="none"/>
<path d="M32.2 506.3 V537.0 H64.4" stroke="#3d5878" stroke-width="1.5" fill="none"/>
<path d="M29.400000000000002 507.8 L32.2 502.8 L35.0 507.8 L32.2 506.5Z" fill="#3d5878"/>
<path d="M62.900000000000006 534.2 L67.9 537.0 L62.900000000000006 539.8 L64.2 537.0Z" fill="#3d5878"/>
<text x="24.00" y="520.80" dy="0.35em" font-size="6.8" text-anchor="middle" fill="#333" transform="rotate(-90 24.00 520.80)">UMAP 2</text>
<text x="47.60" y="544.80" dy="0.35em" font-size="6.8" text-anchor="middle" fill="#333">UMAP 1</text>
<text x="202.40" y="375.50" dy="0.35em" font-size="7.4" fill="#333">NhoodGroup</text>
<circle cx="205.1" cy="385.80" r="1.25" fill="#741636" stroke="#333" stroke-width="0.35"/>
<text x="209.60" y="385.80" dy="0.35em" font-size="7.4" fill="#333">1</text>
<circle cx="205.1" cy="395.55" r="1.25" fill="#8a2a22" stroke="#333" stroke-width="0.35"/>
<text x="209.60" y="395.55" dy="0.35em" font-size="7.4" fill="#333">2</text>
<circle cx="205.1" cy="405.30" r="1.25" fill="#c4864a" stroke="#333" stroke-width="0.35"/>
<text x="209.60" y="405.30" dy="0.35em" font-size="7.4" fill="#333">3</text>
<circle cx="205.1" cy="415.05" r="1.25" fill="#d6d9b4" stroke="#333" stroke-width="0.35"/>
<text x="209.60" y="415.05" dy="0.35em" font-size="7.4" fill="#333">4</text>
<circle cx="205.1" cy="424.80" r="1.25" fill="#6e7e52" stroke="#333" stroke-width="0.35"/>
<text x="209.60" y="424.80" dy="0.35em" font-size="7.4" fill="#333">5</text>
<circle cx="205.1" cy="434.55" r="1.25" fill="#1d5c66" stroke="#333" stroke-width="0.35"/>
<text x="209.60" y="434.55" dy="0.35em" font-size="7.4" fill="#333">6</text>
<circle cx="205.1" cy="444.30" r="1.25" fill="#1e2350" stroke="#333" stroke-width="0.35"/>
<text x="209.60" y="444.30" dy="0.35em" font-size="7.4" fill="#333">7</text>
<text x="202.60" y="483.70" dy="0.35em" font-size="7.4" fill="#333">Overlap size</text>
<rect x="203.4" y="491.90" width="8.0" height="2.0" fill="#e8e9ea"/>
<text x="215.20" y="492.90" dy="0.35em" font-size="7.4" fill="#333">20</text>
<rect x="203.4" y="500.75" width="8.0" height="3.8" fill="#e8e9ea"/>
<text x="215.20" y="502.65" dy="0.35em" font-size="7.4" fill="#333">40</text>
<rect x="203.4" y="509.70" width="8.0" height="5.4" fill="#e8e9ea"/>
<text x="215.20" y="512.40" dy="0.35em" font-size="7.4" fill="#333">60</text>
<text x="202.60" y="523.70" dy="0.35em" font-size="7.4" fill="#333">Nhood size</text>
<circle cx="208.0" cy="533.10" r="1.1" fill="#fff" stroke="#333" stroke-width="0.55"/>
<text x="214.20" y="533.10" dy="0.35em" font-size="7.4" fill="#333">100</text>
<circle cx="208.0" cy="542.70" r="1.35" fill="#fff" stroke="#333" stroke-width="0.55"/>
<text x="214.20" y="542.70" dy="0.35em" font-size="7.4" fill="#333">200</text>
<circle cx="208.0" cy="552.30" r="1.6" fill="#fff" stroke="#333" stroke-width="0.55"/>
<text x="214.20" y="552.30" dy="0.35em" font-size="7.4" fill="#333">300</text>
<text transform="translate(275.40 369.00) scale(1.17 1)" font-size="15" font-weight="bold" fill="#111" stroke="#111" stroke-width="0.6">e</text>
<text x="300.40" y="368.90" dy="0.35em" font-size="7.5" fill="#333">DA spinal cord versus brain</text>
<path d="M310.60 377.2V560.0M332.40 377.2V560.0M354.20 377.2V560.0M376.00 377.2V560.0M397.80 377.2V560.0M419.60 377.2V560.0M441.40 377.2V560.0M300.4 542.00H445.4M300.4 516.50H445.4M300.4 491.10H445.4M300.4 465.80H445.4M300.4 440.50H445.4M300.4 415.30H445.4M300.4 389.80H445.4M300.4 554.70H445.4M300.4 529.33H445.4M300.4 503.96H445.4M300.4 478.59H445.4M300.4 453.22H445.4M300.4 427.85H445.4M300.4 402.48H445.4M300.4 377.11H445.4" stroke="#ebebeb" stroke-width="1.4" fill="none"/>
<path transform="scale(.5)" d="M730 771h0m-4 9h0m1 9h0m-33 77h0m4-1h0m4 1h0m5-1h0m4 0h0m5 1h0m5 0h0m4 0h0m3-4h0m2 4h0m2-4h0m-52 12h0m2-5h0m3 4h0m2-4h0m2 4h0m3-4h0m2 4h0m1-4h0m3 4h0m2-4h0m2 5h0m3-5h0m2 5h0m2-5h0m3 4h0m2-4h0m2 5h0m2-4h0m2 4h0m3-4h0m2 3h0m2-4h0m3 4h0m2-4h0m-52 12h0m3-4h0m1 4h0m3-4h0m2 4h0m2-4h0m3 4h0m2-3h0m2 3h0m3-4h0m2 4h0m2-4h0m2 4h0m2-4h0m3 4h0m2-4h0m2 4h0m2-3h0m3 3h0m2-4h0m2 4h0m2-4h0m2 4h0m3-4h0m-52 12h0m2-4h0m2 4h0m3-4h0m2 4h0m2-5h0m3 5h0m2-4h0m2 4h0m2-4h0m2 4h0m3-4h0m2 4h0m2-4h0m3 3h0m2-3h0m2 4h0m3-4h0m2 4h0m2-4h0m2 4h0m3-4h0m2 4h0m2-4h0m-50 7h0m5 0h0m5 0h0m2 5h0m2-4h0m2 4h0m2-4h0m2 4h0m3-4h0m2 4h0m2-5h0m2 5h0m2-5h0m3 4h0m2-4h0m3 5h0m1-4h0m3 4h0m3-5h0m2 4h0m2-4h0m-5 8h0m5 1h0m-13 22h0m7-2h0m5-4h0m-28 13h0m7-3h0m6 1h0m8-1h0m6 2h0m0-5h0m-26 12h0m5-4h0m2 6h0m5-3h0m6 1h0m7 0h0m4-3h0m-14 7h0m3 4h0m6 0h0m5-1h0m-25 27h0m4 1h0m4-1h0m3-3h0m2 3h0m2-3h0m2 4h0m2-4h0m3 3h0m2-3h0m-48 11h0m5 0h0m2-3h0m3 3h0m2-4h0m2 4h0m2-4h0m3 5h0m2-5h0m2 4h0m2-4h0m3 4h0m2-4h0m2 5h0m2-5h0m2 5h0m3-4h0m2 4h0m3-5h0m2 5h0m2-5h0m-49 8h0m1 4h0m3-4h0m3 4h0m2-3h0m1 3h0m3-4h0m3 4h0m1-4h0m3 5h0m2-5h0m2 4h0m2-4h0m3 5h0m2-5h0m2 4h0m3-4h0m2 4h0m2-4h0m2 4h0m3-3h0m2 3h0m2-3h0m-40 7h0m4 0h0m4 0h0m5 0h0m3 3h0m2-3h0m1 4h0m3-4h0m2 4h0m2-4h0m2 4h0m3-4h0m2 3h0m2-3h0m2 4h0m3-4h0m-13 8h0m4 0h0m5 0h0m4 0h0m-45 19h0m5 0h0m4 1h0m5 0h0m5-1h0m4 0h0m4 1h0m2-4h0m3 3h0m2-3h0m2 3h0m3-3h0m2 4h0m2-4h0m3 3h0m-54 8h0m2-4h0m2 4h0m2-4h0m2 4h0m2-3h0m3 4h0m2-5h0m3 4h0m2-4h0m2 4h0m2-3h0m2 4h0m3-4h0m2 3h0m3-4h0m1 4h0m3-4h0m2 5h0m2-4h0m2 4h0m2-5h0m3 4h0m2-4h0m2 4h0m-52 4h0m3 4h0m3-4h0m2 4h0m2-4h0m2 4h0m2-4h0m3 4h0m1-4h0m3 4h0m2-4h0m3 4h0m2-4h0m2 4h0m2-4h0m2 4h0m3-4h0m2 4h0m2-4h0m2 4h0m3-4h0m2 4h0m2-4h0m2 4h0m-52 4h0m3 3h0m2-4h0m2 4h0m3-3h0m2 4h0m3-4h0m2 4h0m1-4h0m3 4h0m3-4h0m1 4h0m3-4h0m2 3h0m2-3h0m3 4h0m1-4h0m3 4h0m3-4h0m1 4h0m3-4h0m2 4h0m2-4h0m3 4h0m-53 3h0m5 0h0m3 4h0m2-3h0m2 3h0m2-4h0m3 5h0m2-5h0m2 4h0m2-3h0m2 4h0m3-5h0m2 5h0m2-4h0m3 4h0m1-5h0m3 5h0m2-5h0m2 4h0m3-3h0m2 4h0m2-4h0m3 4h0m-16 4h0m4-1h0m5 1h0m4 0h0m-27 12h0m5-1h0m4 1h0m5 0h0m4-1h0m-40 8h0m4 0h0m2-4h0m3 4h0m2-4h0m2 5h0m2-5h0m2 4h0m3-4h0m2 4h0m3-3h0m0 7h0m2-3h0m2 3h0m0-8h0m2 4h0m2-3h0m3 3h0m2-3h0m2 3h0m2-4h0m3 4h0m2-3h0m3 3h0m2-4h0m-52 12h0m2 4h0m0-8h0m3 4h0m2 4h0m0-8h0m2 5h0m2-5h0m0 8h0m2-4h0m3-4h0m2 4h0m2 4h0m0-7h0m2 3h0m5 0h0m4 0h0m2-4h0m3 4h0m2 4h0m0-7h0m2 3h0m2-4h0m1 8h0m2-4h0m2 4h0m0-7h0m2 3h0m3 4h0m0-8h0m-53 11h0m3 5h0m3-4h0m4 0h0m2 4h0m3-4h0m1-4h0m1 8h0m2-4h0m2 4h0m2-4h0m2-4h0m1 7h0m2-3h0m2-4h0m0 8h0m2-4h0m3-4h0m0 8h0m2-4h0m2 3h0m3-3h0m1 3h0m3-3h0m4 0h0m3 4h0m-52 4h0m4-1h0m3 4h0m0-7h0m1 3h0m3 4h0m2-4h0m2 5h0m3-5h0m2 4h0m2-3h0m2 3h0m3-4h0m2 5h0m2-5h0m2 5h0m2-5h0m3 4h0m3-3h0m2 4h0m2-5h0m2-3h0m0 8h0m2-4h0m2 4h0m-29 3h0m5 1h0m4-1h0m4 0h0m5 0h0" stroke="#6f7073" stroke-width="5.70" stroke-linecap="round" fill="none"/>
<path transform="scale(.5)" d="M737 1025h0m0 8h0m0 35h0m0 16h0m0 15h0" stroke="#f0c7bd" stroke-width="5.70" stroke-linecap="round" fill="none"/>
<path transform="scale(.5)" d="M742 1049h0m0 20h0m0 31h0" stroke="#eec1b7" stroke-width="5.70" stroke-linecap="round" fill="none"/>
<path transform="scale(.5)" d="M746 1068h0m0 24h0" stroke="#edbcb2" stroke-width="5.70" stroke-linecap="round" fill="none"/>
<path transform="scale(.5)" d="M676 1021h0m0 16h0m0 36h0" stroke="#ccc0de" stroke-width="5.70" stroke-linecap="round" fill="none"/>
<path transform="scale(.5)" d="M735 1021h0m0 52h0" stroke="#f1c9c0" stroke-width="5.70" stroke-linecap="round" fill="none"/>
<path transform="scale(.5)" d="M739 866h0m0 15h0m0 61h0m0 36h0m0 8h0m0 86h0" stroke="#f0c5bb" stroke-width="5.70" stroke-linecap="round" fill="none"/>
<path transform="scale(.5)" d="M743 865h0m0 8h0m0 8h0m0 8h0m0 89h0m0 16h0m0 78h0m0 16h0" stroke="#eec0b5" stroke-width="5.70" stroke-linecap="round" fill="none"/>
<path transform="scale(.5)" d="M748 1021h0m0 15h0m1 36h0m0 24h0" stroke="#ebb9ae" stroke-width="5.70" stroke-linecap="round" fill="none"/>
<path transform="scale(.5)" d="M753 930h0m0 92h0m0 7h0m0 8h0m0 36h0m0 22h0" stroke="#e9b4a8" stroke-width="5.70" stroke-linecap="round" fill="none"/>
<path transform="scale(.5)" d="M757 1030h0m1 15h0m-1 27h0m0 8h0m0 15h0" stroke="#e7afa2" stroke-width="5.70" stroke-linecap="round" fill="none"/>
<path transform="scale(.5)" d="M761 931h0m0 55h0m0 8h0m1 35h0m-1 8h0m1 36h0m0 7h0m0 8h0m-1 8h0" stroke="#e6aa9d" stroke-width="5.70" stroke-linecap="round" fill="none"/>
<path transform="scale(.5)" d="M766 1037h0m1 35h0m-1 8h0m1 15h0" stroke="#e3a496" stroke-width="5.70" stroke-linecap="round" fill="none"/>
<path transform="scale(.5)" d="M669 1026h0m0 51h0m0 7h0m0 7h0" stroke="#c4b8d9" stroke-width="5.70" stroke-linecap="round" fill="none"/>
<path transform="scale(.5)" d="M674 1033h0m0 8h0m0 35h0" stroke="#cabedd" stroke-width="5.70" stroke-linecap="round" fill="none"/>
<path transform="scale(.5)" d="M678 1084h0m1-8h0m-1 16h0" stroke="#cfc4e0" stroke-width="5.70" stroke-linecap="round" fill="none"/>
<path transform="scale(.5)" d="M737 1076h0m0 16h0" stroke="#f0c6bd" stroke-width="5.70" stroke-linecap="round" fill="none"/>
<path transform="scale(.5)" d="M741 870h0m0 15h0m0 81h0m0 24h0m0 7h0m0 20h0m0 16h0m0 51h0m0-8h0m0 15h0" stroke="#efc2b8" stroke-width="5.70" stroke-linecap="round" fill="none"/>
<path transform="scale(.5)" d="M747 915h0m-1 118h0m0 8h0m0 35h0m0 24h0" stroke="#ecbcb1" stroke-width="5.70" stroke-linecap="round" fill="none"/>
<path transform="scale(.5)" d="M751 1033h0m0 43h0m0 8h0" stroke="#eab7ab" stroke-width="5.70" stroke-linecap="round" fill="none"/>
<path transform="scale(.5)" d="M755 1025h0m0 51h0" stroke="#e8b1a5" stroke-width="5.70" stroke-linecap="round" fill="none"/>
<path transform="scale(.5)" d="M759 974h0m0 51h0m0 51h0m0 8h0" stroke="#e7ada0" stroke-width="5.70" stroke-linecap="round" fill="none"/>
<path transform="scale(.5)" d="M764 1026h0m0 15h0m0 36h0" stroke="#e4a799" stroke-width="5.70" stroke-linecap="round" fill="none"/>
<path transform="scale(.5)" d="M769 1025h0m0 51h0" stroke="#e2a293" stroke-width="5.70" stroke-linecap="round" fill="none"/>
<path transform="scale(.5)" d="M773 1076h0" stroke="#e09c8d" stroke-width="5.70" stroke-linecap="round" fill="none"/>
<path transform="scale(.5)" d="M778 1026h0m0 15h0m0 35h0" stroke="#dd9787" stroke-width="5.70" stroke-linecap="round" fill="none"/>
<path transform="scale(.5)" d="M782 834h0m0 199h0m0 43h0" stroke="#db9281" stroke-width="5.70" stroke-linecap="round" fill="none"/>
<path transform="scale(.5)" d="M787 837h0m-1 92h0m0 104h0m1 43h0m0 16h0" stroke="#d98d7b" stroke-width="5.70" stroke-linecap="round" fill="none"/>
<path transform="scale(.5)" d="M791 830h0m0 203h0m0 51h0m0-8h0m0 16h0" stroke="#d68775" stroke-width="5.70" stroke-linecap="round" fill="none"/>
<path transform="scale(.5)" d="M795 1077h0m0 7h0m0 8h0" stroke="#d4826f" stroke-width="5.70" stroke-linecap="round" fill="none"/>
<path transform="scale(.5)" d="M663 1029h0m0 7h0m0 44h0m0 8h0" stroke="#bcafd5" stroke-width="5.70" stroke-linecap="round" fill="none"/>
<path transform="scale(.5)" d="M667 1080h0" stroke="#c1b5d8" stroke-width="5.70" stroke-linecap="round" fill="none"/>
<path transform="scale(.5)" d="M672 1037h0m0 43h0m0 8h0" stroke="#c7bbdb" stroke-width="5.70" stroke-linecap="round" fill="none"/>
<path transform="scale(.5)" d="M677 1029h0m-1 16h0m0 35h0m0 8h0m0 7h0" stroke="#ccc1de" stroke-width="5.70" stroke-linecap="round" fill="none"/>
<path transform="scale(.5)" d="M735 971h0m0 109h0m0 8h0m0 8h0" stroke="#f1cac0" stroke-width="5.70" stroke-linecap="round" fill="none"/>
<path transform="scale(.5)" d="M740 1021h0m0 8h0m-1 8h0m0 43h0m1 8h0m-1 7h0" stroke="#efc4ba" stroke-width="5.70" stroke-linecap="round" fill="none"/>
<path transform="scale(.5)" d="M743 970h0m0 67h0m0 43h0" stroke="#eebfb5" stroke-width="5.70" stroke-linecap="round" fill="none"/>
<path transform="scale(.5)" d="M748 865h0m0 16h0m0 8h0m0 8h0m0 30h0m0 51h0m0 8h0m0 8h0m0 35h0m0 16h0m0 35h0m0 7h0" stroke="#ecbaaf" stroke-width="5.70" stroke-linecap="round" fill="none"/>
<path transform="scale(.5)" d="M752 873h0m0 106h0m1 14h0m-1 51h0m0 36h0m0 8h0" stroke="#eab5a9" stroke-width="5.70" stroke-linecap="round" fill="none"/>
<path transform="scale(.5)" d="M771 1037h0m0 43h0m0 8h0" stroke="#e19f90" stroke-width="5.70" stroke-linecap="round" fill="none"/>
<path transform="scale(.5)" d="M776 1080h0" stroke="#de9a8a" stroke-width="5.70" stroke-linecap="round" fill="none"/>
<path transform="scale(.5)" d="M780 1029h0m0 8h0m0 43h0" stroke="#dc9484" stroke-width="5.70" stroke-linecap="round" fill="none"/>
<path transform="scale(.5)" d="M784 979h0m1 50h0m0 52h0" stroke="#da8f7e" stroke-width="5.70" stroke-linecap="round" fill="none"/>
<path transform="scale(.5)" d="M789 1037h0m0 43h0m0 8h0" stroke="#d88a78" stroke-width="5.70" stroke-linecap="round" fill="none"/>
<path transform="scale(.5)" d="M793 837h0m0 192h0m0 51h0m0 8h0" stroke="#d58572" stroke-width="5.70" stroke-linecap="round" fill="none"/>
<path transform="scale(.5)" d="M798 1080h0" stroke="#d37f6c" stroke-width="5.70" stroke-linecap="round" fill="none"/>
<path transform="scale(.5)" d="M802 1080h0" stroke="#d07967" stroke-width="5.70" stroke-linecap="round" fill="none"/>
<path transform="scale(.5)" d="M807 840h0m0 146h0m0 94h0" stroke="#cd7361" stroke-width="5.70" stroke-linecap="round" fill="none"/>
<path transform="scale(.5)" d="M811 881h0m0 105h0m0 94h0" stroke="#ca6e5c" stroke-width="5.70" stroke-linecap="round" fill="none"/>
<path transform="scale(.5)" d="M816 1080h0" stroke="#c76856" stroke-width="5.70" stroke-linecap="round" fill="none"/>
<path transform="scale(.5)" d="M820 827h0m0 159h0m0 94h0" stroke="#c46251" stroke-width="5.70" stroke-linecap="round" fill="none"/>
<path transform="scale(.5)" d="M825 1080h0" stroke="#c05b4a" stroke-width="5.70" stroke-linecap="round" fill="none"/>
<path transform="scale(.5)" d="M829 1080h0" stroke="#be5545" stroke-width="5.70" stroke-linecap="round" fill="none"/>
<path transform="scale(.5)" d="M656 1033h0m0 51h0" stroke="#b4a6d0" stroke-width="5.70" stroke-linecap="round" fill="none"/>
<path transform="scale(.5)" d="M661 1084h0" stroke="#baadd4" stroke-width="5.70" stroke-linecap="round" fill="none"/>
<path transform="scale(.5)" d="M665 1084h0" stroke="#beb2d6" stroke-width="5.70" stroke-linecap="round" fill="none"/>
<path transform="scale(.5)" d="M674 1025h0m0 59h0" stroke="#c9bedd" stroke-width="5.70" stroke-linecap="round" fill="none"/>
<path transform="scale(.5)" d="M746 870h0m-1 15h0m1 82h0m0 15h0m-1 8h0m0 8h0m1 28h0m0 58h0" stroke="#edbdb2" stroke-width="5.70" stroke-linecap="round" fill="none"/>
<path transform="scale(.5)" d="M754 877h0m1 105h0m0 8h0m0 51h0m0 43h0m0 8h0" stroke="#e9b2a6" stroke-width="5.70" stroke-linecap="round" fill="none"/>
<path transform="scale(.5)" d="M764 1033h0m0 51h0m0 8h0" stroke="#e4a79a" stroke-width="5.70" stroke-linecap="round" fill="none"/>
<path transform="scale(.5)" d="M769 831h0m0 209h0m0 44h0" stroke="#e2a193" stroke-width="5.70" stroke-linecap="round" fill="none"/>
<path transform="scale(.5)" d="M773 1041h0m0 43h0m0 8h0" stroke="#df9c8d" stroke-width="5.70" stroke-linecap="round" fill="none"/>
<path transform="scale(.5)" d="M777 884h0m0 90h0m0 8h0m0 8h0m0 43h0m0 51h0" stroke="#de9888" stroke-width="5.70" stroke-linecap="round" fill="none"/>
<path transform="scale(.5)" d="M782 878h0m0 206h0" stroke="#db9282" stroke-width="5.70" stroke-linecap="round" fill="none"/>
<path transform="scale(.5)" d="M787 1084h0" stroke="#d98c7b" stroke-width="5.70" stroke-linecap="round" fill="none"/>
<path transform="scale(.5)" d="M800 877h0m0 113h0m0 94h0" stroke="#d17d6a" stroke-width="5.70" stroke-linecap="round" fill="none"/>
<path transform="scale(.5)" d="M805 825h0m0 208h0m0 51h0" stroke="#ce7664" stroke-width="5.70" stroke-linecap="round" fill="none"/>
<path transform="scale(.5)" d="M809 1084h0" stroke="#cb705e" stroke-width="5.70" stroke-linecap="round" fill="none"/>
<path transform="scale(.5)" d="M813 982h0m0 102h0" stroke="#c86b59" stroke-width="5.70" stroke-linecap="round" fill="none"/>
<path transform="scale(.5)" d="M818 1084h0" stroke="#c56554" stroke-width="5.70" stroke-linecap="round" fill="none"/>
<path transform="scale(.5)" d="M823 1084h0" stroke="#c25f4e" stroke-width="5.70" stroke-linecap="round" fill="none"/>
<path transform="scale(.5)" d="M827 1084h0" stroke="#bf5948" stroke-width="5.70" stroke-linecap="round" fill="none"/>
<path transform="scale(.5)" d="M832 1084h0" stroke="#bc5243" stroke-width="5.70" stroke-linecap="round" fill="none"/>
<path transform="scale(.5)" d="M836 828h0m0 10h0m0 43h0m0 203h0" stroke="#b84c3e" stroke-width="5.70" stroke-linecap="round" fill="none"/>
<path transform="scale(.5)" d="M840 982h0m0 102h0" stroke="#b4463a" stroke-width="5.70" stroke-linecap="round" fill="none"/>
<path transform="scale(.5)" d="M845 838h0m0 246h0" stroke="#b03f35" stroke-width="5.70" stroke-linecap="round" fill="none"/>
<path transform="scale(.5)" d="M849 982h0m0 102h0" stroke="#ac3931" stroke-width="5.70" stroke-linecap="round" fill="none"/>
<path transform="scale(.5)" d="M667 1030h0m1 6h0m0 52h0" stroke="#c2b5d8" stroke-width="5.70" stroke-linecap="round" fill="none"/>
<path transform="scale(.5)" d="M758 1088h0" stroke="#e7aea2" stroke-width="5.70" stroke-linecap="round" fill="none"/>
<path transform="scale(.5)" d="M766 881h0m0 7h0m0 90h0m0 8h0m0 8h0m0 94h0" stroke="#e3a597" stroke-width="5.70" stroke-linecap="round" fill="none"/>
<path transform="scale(.5)" d="M775 881h0m0 97h0m0 51h0m0 8h0m0 51h0" stroke="#df9a8b" stroke-width="5.70" stroke-linecap="round" fill="none"/>
<path transform="scale(.5)" d="M779 881h0m0 207h0" stroke="#dc9585" stroke-width="5.70" stroke-linecap="round" fill="none"/>
<path transform="scale(.5)" d="M784 873h0m0 8h0m0 53h0m0 103h0m0 50h0" stroke="#da907f" stroke-width="5.70" stroke-linecap="round" fill="none"/>
<path transform="scale(.5)" d="M798 828h0m0 260h0" stroke="#d27f6c" stroke-width="5.70" stroke-linecap="round" fill="none"/>
<path transform="scale(.5)" d="M803 1088h0" stroke="#cf7966" stroke-width="5.70" stroke-linecap="round" fill="none"/>
<path transform="scale(.5)" d="M807 1088h0" stroke="#cc7361" stroke-width="5.70" stroke-linecap="round" fill="none"/>
<path transform="scale(.5)" d="M812 820h0m0 268h0" stroke="#c96d5b" stroke-width="5.70" stroke-linecap="round" fill="none"/>
<path transform="scale(.5)" d="M816 1088h0" stroke="#c76756" stroke-width="5.70" stroke-linecap="round" fill="none"/>
<path transform="scale(.5)" d="M820 1088h0" stroke="#c46150" stroke-width="5.70" stroke-linecap="round" fill="none"/>
<path transform="scale(.5)" d="M825 1088h0" stroke="#c15b4b" stroke-width="5.70" stroke-linecap="round" fill="none"/>
<path transform="scale(.5)" d="M829 820h0m0 158h0m0 8h0m0 102h0" stroke="#be5646" stroke-width="5.70" stroke-linecap="round" fill="none"/>
<path transform="scale(.5)" d="M673 877h0m1 214h0" stroke="#c9bddc" stroke-width="5.70" stroke-linecap="round" fill="none"/>
<path transform="scale(.5)" d="M750 982h0m0 43h0m0 15h0m0 52h0" stroke="#ebb7ac" stroke-width="5.70" stroke-linecap="round" fill="none"/>
<path transform="scale(.5)" d="M760 1041h0m0 51h0" stroke="#e6ac9f" stroke-width="5.70" stroke-linecap="round" fill="none"/>
<path transform="scale(.5)" d="M768 870h0m0 15h0m0 97h0m0 8h0m0 43h0m0 59h0" stroke="#e2a294" stroke-width="5.70" stroke-linecap="round" fill="none"/>
<path transform="scale(.5)" d="M777 1091h0" stroke="#dd9788" stroke-width="5.70" stroke-linecap="round" fill="none"/>
<path transform="scale(.5)" d="M782 1092h0" stroke="#db9181" stroke-width="5.70" stroke-linecap="round" fill="none"/>
<path transform="scale(.5)" d="M744 923h0m0 63h0m0 35h0m0 74h0" stroke="#edbfb4" stroke-width="5.70" stroke-linecap="round" fill="none"/>
<path transform="scale(.5)" d="M737 975h0m0 15h0m0 28h0m0 23h0m0 8h0" stroke="#f1c7be" stroke-width="5.70" stroke-linecap="round" fill="none"/>
<path transform="scale(.5)" d="M757 944h0m0 78h0m0 14h0" stroke="#e8afa3" stroke-width="5.70" stroke-linecap="round" fill="none"/>
<path transform="scale(.5)" d="M742 1025h0m-1 15h0" stroke="#eec2b7" stroke-width="5.70" stroke-linecap="round" fill="none"/>
<path transform="scale(.5)" d="M772 877h0m1 105h0m0 8h0m0 35h0m0 8h0" stroke="#e09d8e" stroke-width="5.70" stroke-linecap="round" fill="none"/>
<path transform="scale(.5)" d="M671 1029h0" stroke="#c6badb" stroke-width="5.70" stroke-linecap="round" fill="none"/>
<path transform="scale(.5)" d="M734 874h0m0 15h0m0 8h0m0 30h0m1 11h0m0 12h0m-1 28h0m0 16h0m0 35h0m0 8h0m1 7h0" stroke="#f2cac1" stroke-width="5.70" stroke-linecap="round" fill="none"/>
<path transform="scale(.5)" d="M744 1029h0m0 16h0" stroke="#edbeb4" stroke-width="5.70" stroke-linecap="round" fill="none"/>
<path transform="scale(.5)" d="M766 1029h0" stroke="#e3a497" stroke-width="5.70" stroke-linecap="round" fill="none"/>
<path transform="scale(.5)" d="M771 921h0m0 21h0m0 29h0m0 23h0m0 35h0" stroke="#e19f91" stroke-width="5.70" stroke-linecap="round" fill="none"/>
<path transform="scale(.5)" d="M789 1029h0" stroke="#d78a78" stroke-width="5.70" stroke-linecap="round" fill="none"/>
<path transform="scale(.5)" d="M660 1033h0" stroke="#b9acd3" stroke-width="5.70" stroke-linecap="round" fill="none"/>
<path transform="scale(.5)" d="M665 1033h0" stroke="#beb1d6" stroke-width="5.70" stroke-linecap="round" fill="none"/>
<path transform="scale(.5)" d="M669 1033h0" stroke="#c4b7d9" stroke-width="5.70" stroke-linecap="round" fill="none"/>
<path transform="scale(.5)" d="M678 885h0m0 148h0m0 8h0" stroke="#cec3e0" stroke-width="5.70" stroke-linecap="round" fill="none"/>
<path transform="scale(.5)" d="M755 1033h0" stroke="#e8b2a5" stroke-width="5.70" stroke-linecap="round" fill="none"/>
<path transform="scale(.5)" d="M759 982h0m0 51h0" stroke="#e7aca0" stroke-width="5.70" stroke-linecap="round" fill="none"/>
<path transform="scale(.5)" d="M795 1033h0" stroke="#d48270" stroke-width="5.70" stroke-linecap="round" fill="none"/>
<path transform="scale(.5)" d="M800 930h0m0 103h0" stroke="#d17c6a" stroke-width="5.70" stroke-linecap="round" fill="none"/>
<path transform="scale(.5)" d="M794 1037h0" stroke="#d58472" stroke-width="5.70" stroke-linecap="round" fill="none"/>
<path transform="scale(.5)" d="M670 1040h0" stroke="#c4b8da" stroke-width="5.70" stroke-linecap="round" fill="none"/>
<path transform="scale(.5)" d="M739 994h0m0 51h0" stroke="#f0c4bb" stroke-width="5.70" stroke-linecap="round" fill="none"/>
<path transform="scale(.5)" d="M736 885h0m0 81h0m0 32h0" stroke="#f1c8be" stroke-width="5.70" stroke-linecap="round" fill="none"/>
<path transform="scale(.5)" d="M738 873h0m0 98h0" stroke="#f0c5bc" stroke-width="5.70" stroke-linecap="round" fill="none"/>
<path transform="scale(.5)" d="M748 970h0" stroke="#ecbbaf" stroke-width="5.70" stroke-linecap="round" fill="none"/>
<path transform="scale(.5)" d="M753 940h0m0 30h0" stroke="#eab4a9" stroke-width="5.70" stroke-linecap="round" fill="none"/>
<path transform="scale(.5)" d="M756 971h0m0 8h0m0 15h0" stroke="#e8b0a4" stroke-width="5.70" stroke-linecap="round" fill="none"/>
<path transform="scale(.5)" d="M761 881h0m0 8h0m0 81h0" stroke="#e6ab9e" stroke-width="5.70" stroke-linecap="round" fill="none"/>
<path transform="scale(.5)" d="M765 873h0m0 69h0m0 28h0" stroke="#e4a698" stroke-width="5.70" stroke-linecap="round" fill="none"/>
<path transform="scale(.5)" d="M740 877h0m0 15h0m1 39h0m0 43h0" stroke="#efc3b9" stroke-width="5.70" stroke-linecap="round" fill="none"/>
<path transform="scale(.5)" d="M745 974h0" stroke="#edbdb3" stroke-width="5.70" stroke-linecap="round" fill="none"/>
<path transform="scale(.5)" d="M750 869h0m0 8h0m-1 8h0m0 8h0m1 82h0" stroke="#ebb8ad" stroke-width="5.70" stroke-linecap="round" fill="none"/>
<path transform="scale(.5)" d="M754 869h0m0 15h0m0 9h0m0 81h0" stroke="#e9b3a7" stroke-width="5.70" stroke-linecap="round" fill="none"/>
<path transform="scale(.5)" d="M763 831h0m0 46h0m0 16h0m0 82h0" stroke="#e5a89b" stroke-width="5.70" stroke-linecap="round" fill="none"/>
<path transform="scale(.5)" d="M768 892h0m0 82h0" stroke="#e2a395" stroke-width="5.70" stroke-linecap="round" fill="none"/>
<path transform="scale(.5)" d="M772 885h0m0 89h0" stroke="#e09e8f" stroke-width="5.70" stroke-linecap="round" fill="none"/>
<path transform="scale(.5)" d="M782 885h0m-1 90h0m0 15h0" stroke="#db9382" stroke-width="5.70" stroke-linecap="round" fill="none"/>
<path transform="scale(.5)" d="M786 885h0m0 90h0m0 7h0" stroke="#d98e7c" stroke-width="5.70" stroke-linecap="round" fill="none"/>
<path transform="scale(.5)" d="M791 877h0m0 8h0m-1 90h0m0 7h0" stroke="#d78876" stroke-width="5.70" stroke-linecap="round" fill="none"/>
<path transform="scale(.5)" d="M795 885h0m0 89h0" stroke="#d58370" stroke-width="5.70" stroke-linecap="round" fill="none"/>
<path transform="scale(.5)" d="M799 885h0m0 89h0" stroke="#d27d6b" stroke-width="5.70" stroke-linecap="round" fill="none"/>
<path transform="scale(.5)" d="M804 885h0m0 48h0m0 41h0m0 16h0" stroke="#cf7765" stroke-width="5.70" stroke-linecap="round" fill="none"/>
<path transform="scale(.5)" d="M761 873h0m0 105h0" stroke="#e6ab9d" stroke-width="5.70" stroke-linecap="round" fill="none"/>
<path transform="scale(.5)" d="M770 978h0" stroke="#e1a092" stroke-width="5.70" stroke-linecap="round" fill="none"/>
<path transform="scale(.5)" d="M779 889h0m0 36h0m0 53h0m0 8h0" stroke="#dd9686" stroke-width="5.70" stroke-linecap="round" fill="none"/>
<path transform="scale(.5)" d="M788 979h0" stroke="#d88b7a" stroke-width="5.70" stroke-linecap="round" fill="none"/>
<path transform="scale(.5)" d="M792 978h0" stroke="#d68673" stroke-width="5.70" stroke-linecap="round" fill="none"/>
<path transform="scale(.5)" d="M797 881h0m0 97h0m0 8h0" stroke="#d3806d" stroke-width="5.70" stroke-linecap="round" fill="none"/>
<path transform="scale(.5)" d="M802 881h0m0 97h0" stroke="#d07a67" stroke-width="5.70" stroke-linecap="round" fill="none"/>
<path transform="scale(.5)" d="M806 979h0" stroke="#cd7562" stroke-width="5.70" stroke-linecap="round" fill="none"/>
<path transform="scale(.5)" d="M811 978h0" stroke="#ca6d5c" stroke-width="5.70" stroke-linecap="round" fill="none"/>
<path transform="scale(.5)" d="M815 979h0m0 7h0" stroke="#c76857" stroke-width="5.70" stroke-linecap="round" fill="none"/>
<path transform="scale(.5)" d="M819 978h0" stroke="#c46352" stroke-width="5.70" stroke-linecap="round" fill="none"/>
<path transform="scale(.5)" d="M825 978h0" stroke="#c15c4b" stroke-width="5.70" stroke-linecap="round" fill="none"/>
<path transform="scale(.5)" d="M833 978h0m0 8h0" stroke="#bb5041" stroke-width="5.70" stroke-linecap="round" fill="none"/>
<path transform="scale(.5)" d="M678 982h0" stroke="#cec3df" stroke-width="5.70" stroke-linecap="round" fill="none"/>
<path transform="scale(.5)" d="M736 869h0m0 8h0m0 15h0m0 21h0m0 69h0" stroke="#f1c8bf" stroke-width="5.70" stroke-linecap="round" fill="none"/>
<path transform="scale(.5)" d="M741 983h0" stroke="#efc3b8" stroke-width="5.70" stroke-linecap="round" fill="none"/>
<path transform="scale(.5)" d="M764 885h0m0 98h0" stroke="#e5a89a" stroke-width="5.70" stroke-linecap="round" fill="none"/>
<path transform="scale(.5)" d="M781 982h0" stroke="#dc9383" stroke-width="5.70" stroke-linecap="round" fill="none"/>
<path transform="scale(.5)" d="M795 878h0m0 104h0m0 8h0" stroke="#d48370" stroke-width="5.70" stroke-linecap="round" fill="none"/>
<path transform="scale(.5)" d="M799 983h0" stroke="#d27d6a" stroke-width="5.70" stroke-linecap="round" fill="none"/>
<path transform="scale(.5)" d="M804 982h0" stroke="#ce7764" stroke-width="5.70" stroke-linecap="round" fill="none"/>
<path transform="scale(.5)" d="M809 983h0" stroke="#cb705f" stroke-width="5.70" stroke-linecap="round" fill="none"/>
<path transform="scale(.5)" d="M817 982h0" stroke="#c66554" stroke-width="5.70" stroke-linecap="round" fill="none"/>
<path transform="scale(.5)" d="M822 982h0" stroke="#c35f4e" stroke-width="5.70" stroke-linecap="round" fill="none"/>
<path transform="scale(.5)" d="M826 982h0" stroke="#c05949" stroke-width="5.70" stroke-linecap="round" fill="none"/>
<path transform="scale(.5)" d="M831 982h0" stroke="#bc5343" stroke-width="5.70" stroke-linecap="round" fill="none"/>
<path transform="scale(.5)" d="M835 982h0" stroke="#b94d3f" stroke-width="5.70" stroke-linecap="round" fill="none"/>
<path transform="scale(.5)" d="M845 982h0" stroke="#b04036" stroke-width="5.70" stroke-linecap="round" fill="none"/>
<path transform="scale(.5)" d="M853 819h0m0 163h0" stroke="#a9342d" stroke-width="5.70" stroke-linecap="round" fill="none"/>
<path transform="scale(.5)" d="M734 986h0" stroke="#f2cbc1" stroke-width="5.70" stroke-linecap="round" fill="none"/>
<path transform="scale(.5)" d="M752 881h0m0 105h0" stroke="#eab5aa" stroke-width="5.70" stroke-linecap="round" fill="none"/>
<path transform="scale(.5)" d="M757 873h0m0 8h0m0 7h0m0 32h0m0 16h0m0 50h0" stroke="#e8b0a3" stroke-width="5.70" stroke-linecap="round" fill="none"/>
<path transform="scale(.5)" d="M770 873h0m0 16h0m0 39h0m0 58h0" stroke="#e1a091" stroke-width="5.70" stroke-linecap="round" fill="none"/>
<path transform="scale(.5)" d="M775 987h0" stroke="#df9a8a" stroke-width="5.70" stroke-linecap="round" fill="none"/>
<path transform="scale(.5)" d="M783 986h0" stroke="#da9080" stroke-width="5.70" stroke-linecap="round" fill="none"/>
<path transform="scale(.5)" d="M788 826h0m0 47h0m0 8h0m0 8h0m0 97h0" stroke="#d88b79" stroke-width="5.70" stroke-linecap="round" fill="none"/>
<path transform="scale(.5)" d="M793 881h0m0 105h0" stroke="#d58573" stroke-width="5.70" stroke-linecap="round" fill="none"/>
<path transform="scale(.5)" d="M802 986h0" stroke="#d07a68" stroke-width="5.70" stroke-linecap="round" fill="none"/>
<path transform="scale(.5)" d="M824 986h0" stroke="#c15d4c" stroke-width="5.70" stroke-linecap="round" fill="none"/>
<path transform="scale(.5)" d="M750 990h0" stroke="#ebb8ac" stroke-width="5.70" stroke-linecap="round" fill="none"/>
<path transform="scale(.5)" d="M759 990h0" stroke="#e7ada1" stroke-width="5.70" stroke-linecap="round" fill="none"/>
<path transform="scale(.5)" d="M764 990h0" stroke="#e4a89a" stroke-width="5.70" stroke-linecap="round" fill="none"/>
<path transform="scale(.5)" d="M786 877h0m0 113h0" stroke="#d98d7c" stroke-width="5.70" stroke-linecap="round" fill="none"/>
<path transform="scale(.5)" d="M790 990h0" stroke="#d78976" stroke-width="5.70" stroke-linecap="round" fill="none"/>
<path transform="scale(.5)" d="M734 866h0m0 15h0" stroke="#f2cbc2" stroke-width="5.70" stroke-linecap="round" fill="none"/>
<path transform="scale(.5)" d="M759 869h0m-1 8h0m0 8h0m0 7h0" stroke="#e7aea1" stroke-width="5.70" stroke-linecap="round" fill="none"/>
<path transform="scale(.5)" d="M763 870h0" stroke="#e5a99b" stroke-width="5.70" stroke-linecap="round" fill="none"/>
<path transform="scale(.5)" d="M747 873h0m0 70h0" stroke="#ecbbb0" stroke-width="5.70" stroke-linecap="round" fill="none"/>
<path transform="scale(.5)" d="M775 873h0m0 65h0" stroke="#df9b8b" stroke-width="5.70" stroke-linecap="round" fill="none"/>
<path transform="scale(.5)" d="M779 874h0" stroke="#dd9685" stroke-width="5.70" stroke-linecap="round" fill="none"/>
<path transform="scale(.5)" d="M677 877h0" stroke="#cec2df" stroke-width="5.70" stroke-linecap="round" fill="none"/>
<path transform="scale(.5)" d="M745 877h0m0 15h0" stroke="#edbeb3" stroke-width="5.70" stroke-linecap="round" fill="none"/>
<path transform="scale(.5)" d="M768 877h0m0 59h0" stroke="#e2a394" stroke-width="5.70" stroke-linecap="round" fill="none"/>
<path transform="scale(.5)" d="M777 832h0m0 45h0" stroke="#de9889" stroke-width="5.70" stroke-linecap="round" fill="none"/>
<path transform="scale(.5)" d="M804 877h0" stroke="#ce7765" stroke-width="5.70" stroke-linecap="round" fill="none"/>
<path transform="scale(.5)" d="M808 877h0" stroke="#cc7260" stroke-width="5.70" stroke-linecap="round" fill="none"/>
<path transform="scale(.5)" d="M813 877h0m0 8h0" stroke="#c96b5a" stroke-width="5.70" stroke-linecap="round" fill="none"/>
<path transform="scale(.5)" d="M662 881h0m0 101h0" stroke="#bbaed4" stroke-width="5.70" stroke-linecap="round" fill="none"/>
<path transform="scale(.5)" d="M667 881h0" stroke="#c1b4d8" stroke-width="5.70" stroke-linecap="round" fill="none"/>
<path transform="scale(.5)" d="M671 881h0" stroke="#c5b9da" stroke-width="5.70" stroke-linecap="round" fill="none"/>
<path transform="scale(.5)" d="M676 881h0m-1 101h0" stroke="#cbc0de" stroke-width="5.70" stroke-linecap="round" fill="none"/>
<path transform="scale(.5)" d="M770 881h0" stroke="#e1a192" stroke-width="5.70" stroke-linecap="round" fill="none"/>
<path transform="scale(.5)" d="M806 834h0m0 47h0" stroke="#cd7462" stroke-width="5.70" stroke-linecap="round" fill="none"/>
<path transform="scale(.5)" d="M815 881h0" stroke="#c76958" stroke-width="5.70" stroke-linecap="round" fill="none"/>
<path transform="scale(.5)" d="M820 843h0m0 38h0" stroke="#c46252" stroke-width="5.70" stroke-linecap="round" fill="none"/>
<path transform="scale(.5)" d="M824 881h0" stroke="#c25d4d" stroke-width="5.70" stroke-linecap="round" fill="none"/>
<path transform="scale(.5)" d="M673 885h0" stroke="#c8bcdc" stroke-width="5.70" stroke-linecap="round" fill="none"/>
<path transform="scale(.5)" d="M808 885h0" stroke="#cc715f" stroke-width="5.70" stroke-linecap="round" fill="none"/>
<path transform="scale(.5)" d="M738 889h0m0 7h0m0 23h0" stroke="#f0c6bc" stroke-width="5.70" stroke-linecap="round" fill="none"/>
<path transform="scale(.5)" d="M752 889h0m-1 58h0" stroke="#eab6aa" stroke-width="5.70" stroke-linecap="round" fill="none"/>
<path transform="scale(.5)" d="M774 889h0" stroke="#df9b8c" stroke-width="5.70" stroke-linecap="round" fill="none"/>
<path transform="scale(.5)" d="M783 889h0" stroke="#da9180" stroke-width="5.70" stroke-linecap="round" fill="none"/>
<path transform="scale(.5)" d="M743 897h0" stroke="#eec0b6" stroke-width="5.70" stroke-linecap="round" fill="none"/>
<path transform="scale(.5)" d="M632 1033h0m0 51h0" stroke="#9786bf" stroke-width="5.70" stroke-linecap="round" fill="none"/>
<path transform="scale(.5)" d="M636 1084h0" stroke="#9c8cc2" stroke-width="5.70" stroke-linecap="round" fill="none"/>
<path transform="scale(.5)" d="M643 1084h0" stroke="#a595c7" stroke-width="5.70" stroke-linecap="round" fill="none"/>
<path transform="scale(.5)" d="M651 1084h0" stroke="#ae9fcc" stroke-width="5.70" stroke-linecap="round" fill="none"/>
<path transform="scale(.5)" d="M613 1033h0" stroke="#806db2" stroke-width="5.70" stroke-linecap="round" fill="none"/>
<path transform="scale(.5)" d="M626 1033h0" stroke="#907ebb" stroke-width="5.70" stroke-linecap="round" fill="none"/>
<path transform="scale(.5)" d="M636 1033h0" stroke="#9d8cc2" stroke-width="5.70" stroke-linecap="round" fill="none"/>
<path transform="scale(.5)" d="M641 1033h0" stroke="#a292c6" stroke-width="5.70" stroke-linecap="round" fill="none"/>
<path transform="scale(.5)" d="M646 1033h0" stroke="#a899c9" stroke-width="5.70" stroke-linecap="round" fill="none"/>
<path transform="scale(.5)" d="M651 1033h0" stroke="#aea0cd" stroke-width="5.70" stroke-linecap="round" fill="none"/>
<path transform="scale(.5)" d="M639 881h0" stroke="#9f8fc4" stroke-width="5.70" stroke-linecap="round" fill="none"/>
<path transform="scale(.5)" d="M648 881h0" stroke="#ab9ccb" stroke-width="5.70" stroke-linecap="round" fill="none"/>
<path transform="scale(.5)" d="M657 881h0" stroke="#b5a7d1" stroke-width="5.70" stroke-linecap="round" fill="none"/>
<path transform="scale(.5)" d="M843 881h0" stroke="#b24237" stroke-width="5.70" stroke-linecap="round" fill="none"/>
<path transform="scale(.5)" d="M865 1084h0" stroke="#9e2623" stroke-width="5.70" stroke-linecap="round" fill="none"/>
<path transform="scale(.5)" d="M874 817h0m0 30h0m0 237h0" stroke="#961d1b" stroke-width="5.70" stroke-linecap="round" fill="none"/>
<path transform="scale(.5)" d="M868 815h0m0 6h0m0 161h0" stroke="#9b2320" stroke-width="5.70" stroke-linecap="round" fill="none"/>
<path transform="scale(.5)" d="M749 922h0m0 14h0" stroke="#ebb9ad" stroke-width="5.70" stroke-linecap="round" fill="none"/>
<path transform="scale(.5)" d="M762 920h0" stroke="#e5a99c" stroke-width="5.70" stroke-linecap="round" fill="none"/>
<path transform="scale(.5)" d="M742 938h0m0 10h0" stroke="#eec1b6" stroke-width="5.70" stroke-linecap="round" fill="none"/>
<path transform="scale(.5)" d="M794 822h0m0 114h0" stroke="#d58471" stroke-width="5.70" stroke-linecap="round" fill="none"/>
<path transform="scale(.5)" d="M792 931h0" stroke="#d68674" stroke-width="5.70" stroke-linecap="round" fill="none"/>
<path transform="scale(.5)" d="M777 932h0" stroke="#dd9888" stroke-width="5.70" stroke-linecap="round" fill="none"/>
<path transform="scale(.5)" d="M781 939h0" stroke="#db9383" stroke-width="5.70" stroke-linecap="round" fill="none"/>
<path transform="scale(.5)" d="M846 826h0m0 20h0" stroke="#af3e35" stroke-width="5.70" stroke-linecap="round" fill="none"/>
<path transform="scale(.5)" d="M814 839h0" stroke="#c86a59" stroke-width="5.70" stroke-linecap="round" fill="none"/>
<path transform="scale(.5)" d="M847 832h0" stroke="#ae3c33" stroke-width="5.70" stroke-linecap="round" fill="none"/>
<path transform="scale(.5)" d="M859 823h0m1 16h0" stroke="#a32b27" stroke-width="5.70" stroke-linecap="round" fill="none"/>
<path transform="scale(.5)" d="M851 813h0m1 12h0m-1 18h0m0 5h0" stroke="#aa362f" stroke-width="5.70" stroke-linecap="round" fill="none"/>
<path transform="scale(.5)" d="M877 838h0" stroke="#931919" stroke-width="5.70" stroke-linecap="round" fill="none"/>
<path transform="scale(.5)" d="M866 850h0" stroke="#9d2522" stroke-width="5.70" stroke-linecap="round" fill="none"/>
<path transform="scale(.5)" d="M857 813h0" stroke="#a52e29" stroke-width="5.70" stroke-linecap="round" fill="none"/>
<path transform="scale(.5)" d="M844 820h0" stroke="#b14036" stroke-width="5.70" stroke-linecap="round" fill="none"/>
<path transform="scale(.5)" d="M783 825h0" stroke="#db9180" stroke-width="5.70" stroke-linecap="round" fill="none"/>
<path transform="scale(.5)" d="M877 831h0" stroke="#941a19" stroke-width="5.70" stroke-linecap="round" fill="none"/>
<path transform="scale(.5)" d="M858 830h0" stroke="#a42d28" stroke-width="5.70" stroke-linecap="round" fill="none"/>
<path transform="scale(.5)" d="M877 810h0" stroke="#931a19" stroke-width="5.70" stroke-linecap="round" fill="none"/>
<path transform="scale(.5)" d="M871 838h0" stroke="#99201e" stroke-width="5.70" stroke-linecap="round" fill="none"/>
<path transform="scale(.5)" d="M869 826h0" stroke="#9a221f" stroke-width="5.70" stroke-linecap="round" fill="none"/>
<path transform="scale(.5)" d="M834 823h0m0 10h0" stroke="#ba4f41" stroke-width="5.70" stroke-linecap="round" fill="none"/>
<path transform="scale(.5)" d="M858 849h0" stroke="#a42c28" stroke-width="5.70" stroke-linecap="round" fill="none"/>
<path transform="scale(.5)" d="M801 833h0m0 6h0" stroke="#d17b69" stroke-width="5.70" stroke-linecap="round" fill="none"/>
<path transform="scale(.5)" d="M830 827h0" stroke="#bd5545" stroke-width="5.70" stroke-linecap="round" fill="none"/>
<path transform="scale(.5)" d="M821 835h0" stroke="#c36050" stroke-width="5.70" stroke-linecap="round" fill="none"/>
<path transform="scale(.5)" d="M839 822h0" stroke="#b5483b" stroke-width="5.70" stroke-linecap="round" fill="none"/>
<path transform="scale(.5)" d="M841 841h0" stroke="#b44539" stroke-width="5.70" stroke-linecap="round" fill="none"/>
<path transform="scale(.5)" d="M814 828h0" stroke="#c86a58" stroke-width="5.70" stroke-linecap="round" fill="none"/>
<path transform="scale(.5)" d="M809 829h0" stroke="#cb715f" stroke-width="5.70" stroke-linecap="round" fill="none"/>
<path transform="scale(.5)" d="M828 835h0" stroke="#be5747" stroke-width="5.70" stroke-linecap="round" fill="none"/>
<path transform="scale(.5)" d="M853 834h0" stroke="#a9332d" stroke-width="5.70" stroke-linecap="round" fill="none"/>
<path transform="scale(.5)" d="M862 818h0" stroke="#a12825" stroke-width="5.70" stroke-linecap="round" fill="none"/>
<path transform="scale(.5)" d="M841 834h0" stroke="#b34439" stroke-width="5.70" stroke-linecap="round" fill="none"/>
<path transform="scale(.5)" d="M828 842h0" stroke="#bf5747" stroke-width="5.70" stroke-linecap="round" fill="none"/>
<path transform="scale(.5)" d="M774 827h0" stroke="#df9c8c" stroke-width="5.70" stroke-linecap="round" fill="none"/>
<path transform="scale(.5)" d="M822 821h0" stroke="#c35f4f" stroke-width="5.70" stroke-linecap="round" fill="none"/>
<path transform="scale(.5)" d="M864 831h0" stroke="#9f2623" stroke-width="5.70" stroke-linecap="round" fill="none"/>
<path transform="scale(.5)" d="M843 814h0" stroke="#b24238" stroke-width="5.70" stroke-linecap="round" fill="none"/>
<path transform="scale(.5)" d="M835 846h0" stroke="#b94e40" stroke-width="5.70" stroke-linecap="round" fill="none"/>
<path transform="scale(.5)" d="M876 852h0" stroke="#941b1a" stroke-width="5.70" stroke-linecap="round" fill="none"/>
<path transform="scale(.5)" d="M879 844h0" stroke="#911717" stroke-width="5.70" stroke-linecap="round" fill="none"/>
<path transform="scale(.5)" d="M865 845h0" stroke="#9e2522" stroke-width="5.70" stroke-linecap="round" fill="none"/>
<path transform="scale(.5)" d="M815 833h0" stroke="#c76957" stroke-width="5.70" stroke-linecap="round" fill="none"/>
<path transform="scale(.5)" d="M824 830h0" stroke="#c15c4c" stroke-width="5.70" stroke-linecap="round" fill="none"/>
<path transform="scale(.5)" d="M880 818h0" stroke="#911716" stroke-width="5.70" stroke-linecap="round" fill="none"/>
<path transform="scale(.5)" d="M875 824h0" stroke="#951c1b" stroke-width="5.70" stroke-linecap="round" fill="none"/>
<path transform="scale(.5)" d="M837 816h0" stroke="#b74b3e" stroke-width="5.70" stroke-linecap="round" fill="none"/>
<path transform="scale(.5)" d="M817 823h0" stroke="#c66655" stroke-width="5.70" stroke-linecap="round" fill="none"/>
<rect x="300.4" y="377.2" width="145.0" height="182.8" fill="none" stroke="#555" stroke-width="0.7"/>
<text x="294.60" y="542.00" dy="0.35em" font-size="7.4" text-anchor="end" fill="#333">1</text>
<text x="294.60" y="516.50" dy="0.35em" font-size="7.4" text-anchor="end" fill="#333">2</text>
<text x="294.60" y="491.10" dy="0.35em" font-size="7.4" text-anchor="end" fill="#333">3</text>
<text x="294.60" y="465.80" dy="0.35em" font-size="7.4" text-anchor="end" fill="#333">4</text>
<text x="294.60" y="440.50" dy="0.35em" font-size="7.4" text-anchor="end" fill="#333">5</text>
<text x="294.60" y="415.30" dy="0.35em" font-size="7.4" text-anchor="end" fill="#333">6</text>
<text x="294.60" y="389.80" dy="0.35em" font-size="7.4" text-anchor="end" fill="#333">7</text>
<text x="310.60" y="569.40" dy="0.35em" font-size="7.4" text-anchor="middle" fill="#333">−2.5</text>
<text x="354.20" y="569.40" dy="0.35em" font-size="7.4" text-anchor="middle" fill="#333">0</text>
<text x="397.80" y="569.40" dy="0.35em" font-size="7.4" text-anchor="middle" fill="#333">2.5</text>
<text x="441.40" y="569.40" dy="0.35em" font-size="7.4" text-anchor="middle" fill="#333">5.0</text>
<path d="M297.4 542.00H300.4M297.4 516.50H300.4M297.4 491.10H300.4M297.4 465.80H300.4M297.4 440.50H300.4M297.4 415.30H300.4M297.4 389.80H300.4M310.60 560.0V562.5M354.20 560.0V562.5M397.80 560.0V562.5M441.40 560.0V562.5" stroke="#555" stroke-width="0.6"/>
<text x="372.60" y="579.80" dy="0.35em" font-size="7.4" text-anchor="middle" fill="#333">logFC</text>
<text x="280.20" y="468.30" dy="0.35em" font-size="7.4" text-anchor="middle" fill="#333" transform="rotate(-90 280.20 468.30)">NhoodGroup</text>
<path d="M463.6 547.5L463.60 537.90A9.6 9.6 0 0 1 469.77 540.15Z" fill="#a8a8d0"/>
<path d="M463.6 547.5L469.77 540.15A9.6 9.6 0 0 1 473.16 546.66Z" fill="#de912c"/>
<path d="M463.6 547.5L473.16 546.66A9.6 9.6 0 0 1 466.88 556.52Z" fill="#ea6e68"/>
<path d="M463.6 547.5L466.88 556.52A9.6 9.6 0 0 1 456.25 541.33Z" fill="#5c3f7e"/>
<path d="M463.6 547.5L456.25 541.33A9.6 9.6 0 0 1 463.60 537.90Z" fill="#2f7a4e"/>
<path d="M492.9 547.5L492.90 537.70A9.8 9.8 0 0 1 502.37 544.96Z" fill="#0e4a31"/>
<path d="M492.9 547.5L502.37 544.96A9.8 9.8 0 0 1 487.28 555.53Z" fill="#0b80b6"/>
<path d="M492.9 547.5L487.28 555.53A9.8 9.8 0 0 1 483.25 545.80Z" fill="#6ea67c"/>
<path d="M492.9 547.5L483.25 545.80A9.8 9.8 0 0 1 483.58 544.47Z" fill="#982421"/>
<path d="M492.9 547.5L483.58 544.47A9.8 9.8 0 0 1 492.90 537.70Z" fill="#0b0c30"/>
<text x="475.20" y="547.50" dy="0.35em" font-size="8.2" fill="#333">1</text>
<text x="504.80" y="547.50" dy="0.35em" font-size="8.2" fill="#333">1</text>
<path d="M463.6 521.4L463.60 511.80A9.6 9.6 0 0 1 468.40 513.09Z" fill="#a8a8d0"/>
<path d="M463.6 521.4L468.40 513.09A9.6 9.6 0 0 1 473.05 519.73Z" fill="#de912c"/>
<path d="M463.6 521.4L473.05 519.73A9.6 9.6 0 0 1 469.77 528.75Z" fill="#ea6e68"/>
<path d="M463.6 521.4L469.77 528.75A9.6 9.6 0 0 1 455.29 516.60Z" fill="#5c3f7e"/>
<path d="M463.6 521.4L455.29 516.60A9.6 9.6 0 0 1 463.60 511.80Z" fill="#2f7a4e"/>
<path d="M492.9 521.4L492.90 511.60A9.8 9.8 0 0 1 502.55 519.70Z" fill="#0e4a31"/>
<path d="M492.9 521.4L502.55 519.70A9.8 9.8 0 0 1 487.28 529.43Z" fill="#0b80b6"/>
<path d="M492.9 521.4L487.28 529.43A9.8 9.8 0 0 1 483.14 522.25Z" fill="#6ea67c"/>
<path d="M492.9 521.4L483.14 522.25A9.8 9.8 0 0 1 483.11 521.06Z" fill="#982421"/>
<path d="M492.9 521.4L483.11 521.06A9.8 9.8 0 0 1 492.90 511.60Z" fill="#0b0c30"/>
<text x="475.20" y="521.40" dy="0.35em" font-size="8.2" fill="#333">2</text>
<text x="504.80" y="521.40" dy="0.35em" font-size="8.2" fill="#333">2</text>
<path d="M463.6 495.4L463.60 485.80A9.6 9.6 0 0 1 470.39 488.61Z" fill="#a8a8d0"/>
<path d="M463.6 495.4L470.39 488.61A9.6 9.6 0 0 1 471.91 500.20Z" fill="#de912c"/>
<path d="M463.6 495.4L471.91 500.20A9.6 9.6 0 0 1 460.32 504.42Z" fill="#ea6e68"/>
<path d="M463.6 495.4L460.32 504.42A9.6 9.6 0 0 1 455.29 490.60Z" fill="#5c3f7e"/>
<path d="M463.6 495.4L455.29 490.60A9.6 9.6 0 0 1 463.60 485.80Z" fill="#2f7a4e"/>
<path d="M492.9 495.4L492.90 485.60A9.8 9.8 0 0 1 501.39 490.50Z" fill="#0e4a31"/>
<path d="M492.9 495.4L501.39 490.50A9.8 9.8 0 0 1 484.41 500.30Z" fill="#0b80b6"/>
<path d="M492.9 495.4L484.41 500.30A9.8 9.8 0 0 1 483.43 492.86Z" fill="#6ea67c"/>
<path d="M492.9 495.4L483.43 492.86A9.8 9.8 0 0 1 484.02 491.26Z" fill="#982421"/>
<path d="M492.9 495.4L484.02 491.26A9.8 9.8 0 0 1 492.90 485.60Z" fill="#0b0c30"/>
<text x="475.20" y="495.40" dy="0.35em" font-size="8.2" fill="#333">3</text>
<text x="504.80" y="495.40" dy="0.35em" font-size="8.2" fill="#333">3</text>
<path d="M463.6 469.4L463.60 459.80A9.6 9.6 0 0 1 470.39 462.61Z" fill="#a8a8d0"/>
<path d="M463.6 469.4L470.39 462.61A9.6 9.6 0 0 1 472.30 473.46Z" fill="#de912c"/>
<path d="M463.6 469.4L472.30 473.46A9.6 9.6 0 0 1 460.32 478.42Z" fill="#ea6e68"/>
<path d="M463.6 469.4L460.32 478.42A9.6 9.6 0 0 1 456.81 462.61Z" fill="#5c3f7e"/>
<path d="M463.6 469.4L456.81 462.61A9.6 9.6 0 0 1 463.60 459.80Z" fill="#2f7a4e"/>
<path d="M492.9 469.4L492.90 459.60A9.8 9.8 0 0 1 501.39 464.50Z" fill="#0e4a31"/>
<path d="M492.9 469.4L501.39 464.50A9.8 9.8 0 1 1 484.02 473.54Z" fill="#0b80b6"/>
<path d="M492.9 469.4L484.02 473.54A9.8 9.8 0 0 1 483.43 466.86Z" fill="#6ea67c"/>
<path d="M492.9 469.4L483.43 466.86A9.8 9.8 0 0 1 484.02 465.26Z" fill="#982421"/>
<path d="M492.9 469.4L484.02 465.26A9.8 9.8 0 0 1 492.90 459.60Z" fill="#0b0c30"/>
<text x="475.20" y="469.40" dy="0.35em" font-size="8.2" fill="#333">4</text>
<text x="504.80" y="469.40" dy="0.35em" font-size="8.2" fill="#333">4</text>
<path d="M463.6 443.4L463.60 433.80A9.6 9.6 0 0 1 469.51 435.84Z" fill="#a8a8d0"/>
<path d="M463.6 443.4L469.51 435.84A9.6 9.6 0 0 1 473.05 445.07Z" fill="#de912c"/>
<path d="M463.6 443.4L473.05 445.07A9.6 9.6 0 0 1 467.66 452.10Z" fill="#ea6e68"/>
<path d="M463.6 443.4L467.66 452.10A9.6 9.6 0 0 1 454.90 439.34Z" fill="#5c3f7e"/>
<path d="M463.6 443.4L454.90 439.34A9.6 9.6 0 0 1 463.60 433.80Z" fill="#2f7a4e"/>
<path d="M492.9 443.4L492.90 433.60A9.8 9.8 0 0 1 502.11 440.05Z" fill="#0e4a31"/>
<path d="M492.9 443.4L502.11 440.05A9.8 9.8 0 0 1 487.28 451.43Z" fill="#0b80b6"/>
<path d="M492.9 443.4L487.28 451.43A9.8 9.8 0 0 1 483.14 442.55Z" fill="#6ea67c"/>
<path d="M492.9 443.4L483.14 442.55A9.8 9.8 0 0 1 483.43 440.86Z" fill="#982421"/>
<path d="M492.9 443.4L483.43 440.86A9.8 9.8 0 0 1 492.90 433.60Z" fill="#0b0c30"/>
<text x="475.20" y="443.40" dy="0.35em" font-size="8.2" fill="#333">5</text>
<text x="504.80" y="443.40" dy="0.35em" font-size="8.2" fill="#333">5</text>
<path d="M463.6 417.3L463.60 407.70A9.6 9.6 0 1 1 460.32 426.32Z" fill="#a8a8d0"/>
<path d="M463.6 417.3L460.32 426.32A9.6 9.6 0 0 1 454.58 414.02Z" fill="#de912c"/>
<path d="M463.6 417.3L454.58 414.02A9.6 9.6 0 0 1 458.80 408.99Z" fill="#ea6e68"/>
<path d="M463.6 417.3L458.80 408.99A9.6 9.6 0 0 1 462.26 407.79Z" fill="#5c3f7e"/>
<path d="M463.6 417.3L462.26 407.79A9.6 9.6 0 0 1 463.60 407.70Z" fill="#2f7a4e"/>
<path d="M492.9 417.3L492.90 407.50A9.8 9.8 0 1 1 490.36 407.83Z" fill="#0b80b6"/>
<path d="M492.9 417.3L490.36 407.83A9.8 9.8 0 0 1 491.54 407.60Z" fill="#6ea67c"/>
<path d="M492.9 417.3L491.54 407.60A9.8 9.8 0 0 1 492.22 407.52Z" fill="#982421"/>
<path d="M492.9 417.3L492.22 407.52A9.8 9.8 0 0 1 492.90 407.50Z" fill="#0e4a31"/>
<text x="475.20" y="417.30" dy="0.35em" font-size="8.2" fill="#333">6</text>
<text x="504.80" y="417.30" dy="0.35em" font-size="8.2" fill="#333">6</text>
<path d="M463.6 391.3L463.60 381.70A9.6 9.6 0 0 1 473.16 392.14Z" fill="#a8a8d0"/>
<path d="M463.6 391.3L473.16 392.14A9.6 9.6 0 0 1 473.05 392.97Z" fill="#de912c"/>
<path d="M463.6 391.3L473.05 392.97A9.6 9.6 0 0 1 469.11 399.16Z" fill="#ea6e68"/>
<path d="M463.6 391.3L469.11 399.16A9.6 9.6 0 0 1 457.43 383.95Z" fill="#5c3f7e"/>
<path d="M463.6 391.3L457.43 383.95A9.6 9.6 0 0 1 463.60 381.70Z" fill="#2f7a4e"/>
<path d="M492.9 391.3L492.90 381.50A9.8 9.8 0 0 1 501.78 387.16Z" fill="#0e4a31"/>
<path d="M492.9 391.3L501.78 387.16A9.8 9.8 0 0 1 488.76 400.18Z" fill="#0b80b6"/>
<path d="M492.9 391.3L488.76 400.18A9.8 9.8 0 0 1 485.39 397.60Z" fill="#6ea67c"/>
<path d="M492.9 391.3L485.39 397.60A9.8 9.8 0 0 1 484.87 396.92Z" fill="#982421"/>
<path d="M492.9 391.3L484.87 396.92A9.8 9.8 0 0 1 492.90 381.50Z" fill="#0b0c30"/>
<text x="475.20" y="391.30" dy="0.35em" font-size="8.2" fill="#333">7</text>
<text x="504.80" y="391.30" dy="0.35em" font-size="8.2" fill="#333">7</text>
<text transform="translate(538.60 370.00) scale(1.17 1)" font-size="15" font-weight="bold" fill="#111" stroke="#111" stroke-width="0.6">f</text>
<circle cx="611.3" cy="408.5" r="45.5" fill="#b6d0ba"/>
<circle cx="640.0" cy="409.4" r="29.0" fill="#a0c4c8"/>
<clipPath id="cpf"><circle cx="611.3" cy="408.5" r="45.5"/></clipPath>
<circle cx="640.0" cy="409.4" r="29.0" fill="#80b2aa" clip-path="url(#cpf)"/>
<text x="594.20" y="401.80" dy="0.35em" font-size="7.65" text-anchor="middle" fill="#222">MG5 cluster</text>
<text x="594.60" y="409.80" dy="0.35em" font-size="7.65" text-anchor="middle" fill="#222">269</text>
<text x="633.90" y="405.80" dy="0.35em" font-size="7.65" text-anchor="middle" fill="#222">131</text>
<text x="665.00" y="402.00" dy="0.35em" font-size="7.65" text-anchor="middle" fill="#222">DA group 6</text>
<text x="664.20" y="409.80" dy="0.35em" font-size="7.65" text-anchor="middle" fill="#222">29</text>
<text x="545.50" y="461.00" dy="0.35em" font-size="7.6" fill="#333">Group</text>
<rect x="545.5" y="466.90" width="7.7" height="7.3" fill="#2f7a4e"/>
<text x="557.30" y="470.50" dy="0.35em" font-size="7.6" fill="#333">Control</text>
<rect x="545.5" y="475.10" width="7.7" height="7.3" fill="#5c3f7e"/>
<text x="557.30" y="478.70" dy="0.35em" font-size="7.6" fill="#333">Patient</text>
<rect x="545.5" y="483.30" width="7.7" height="7.3" fill="#ea6e68"/>
<text x="557.30" y="486.90" dy="0.35em" font-size="7.6" fill="#333">C9-ALS</text>
<rect x="545.5" y="491.50" width="7.7" height="7.3" fill="#de912c"/>
<text x="557.30" y="495.10" dy="0.35em" font-size="7.6" fill="#333">sALS</text>
<rect x="545.5" y="499.70" width="7.7" height="7.3" fill="#a8a8d0"/>
<text x="557.30" y="503.30" dy="0.35em" font-size="7.6" fill="#333">Healthy</text>
<path d="M586.2 467V479.5M586.2 484.5V501.5" stroke="#333" stroke-width="0.6"/>
<text x="588.20" y="473.20" dy="0.35em" font-size="7.6" fill="#333">FTD</text>
<text x="588.20" y="493.00" dy="0.35em" font-size="7.6" fill="#333">ALS</text>
<text x="545.50" y="517.40" dy="0.35em" font-size="7.6" fill="#333">Region sampled</text>
<rect x="545.5" y="525.60" width="7.7" height="7.6" fill="#0b0c30"/>
<text x="557.30" y="529.40" dy="0.35em" font-size="7.6" fill="#333">Frontal cortex</text>
<rect x="545.5" y="535.25" width="7.7" height="7.6" fill="#982421"/>
<text x="557.30" y="539.05" dy="0.35em" font-size="7.6" fill="#333">Motor cortex</text>
<rect x="545.5" y="544.90" width="7.7" height="7.6" fill="#6ea67c"/>
<text x="557.30" y="548.70" dy="0.35em" font-size="7.6" fill="#333">Occipital cortex</text>
<rect x="545.5" y="554.55" width="7.7" height="7.6" fill="#0b80b6"/>
<text x="557.30" y="558.35" dy="0.35em" font-size="7.6" fill="#333">Spinal cord</text>
<rect x="545.5" y="564.20" width="7.7" height="7.6" fill="#0e4a31"/>
<text x="557.30" y="568.00" dy="0.35em" font-size="7.6" fill="#333">Temporal cortex</text>
<text transform="translate(-0.50 572.60) scale(1.17 1)" font-size="15" font-weight="bold" fill="#111" stroke="#111" stroke-width="0.6">g</text>
<text x="32.30" y="571.40" dy="0.35em" font-size="7.6" fill="#333">C9-ALS versus sporadic ALS</text>
<path d="M32.3 577V734H241.7" stroke="#666" stroke-width="0.8" fill="none"/>
<path d="M32.3 727.0H241.7" stroke="#bbb" stroke-width="0.9"/>
<path d="M125.8 577V734M160.8 577V734" stroke="#c8c8c8" stroke-width="1.0"/>
<text x="27.60" y="727.00" dy="0.35em" font-size="7.6" text-anchor="end" fill="#333">0</text>
<text x="27.60" y="679.35" dy="0.35em" font-size="7.6" text-anchor="end" fill="#333">100</text>
<text x="27.60" y="631.70" dy="0.35em" font-size="7.6" text-anchor="end" fill="#333">200</text>
<text x="27.60" y="584.05" dy="0.35em" font-size="7.6" text-anchor="end" fill="#333">300</text>
<text x="55.85" y="742.60" dy="0.35em" font-size="7.6" text-anchor="middle" fill="#333">−1.0</text>
<text x="99.58" y="742.60" dy="0.35em" font-size="7.6" text-anchor="middle" fill="#333">−0.5</text>
<text x="143.30" y="742.60" dy="0.35em" font-size="7.6" text-anchor="middle" fill="#333">0</text>
<text x="187.03" y="742.60" dy="0.35em" font-size="7.6" text-anchor="middle" fill="#333">0.5</text>
<text x="230.75" y="742.60" dy="0.35em" font-size="7.6" text-anchor="middle" fill="#333">1.0</text>
<path d="M29.5 727.00H32.3M29.5 679.35H32.3M29.5 631.70H32.3M29.5 584.05H32.3M55.85 734V736.5M99.58 734V736.5M143.30 734V736.5M187.03 734V736.5M230.75 734V736.5" stroke="#666" stroke-width="0.6"/>
<text x="137.0" y="752.4" dy="0.35em" font-size="7.3" text-anchor="middle" fill="#333">avg_log<tspan font-size="5" dy="1.5">2</tspan><tspan dy="-1.5">FC</tspan></text>
<text transform="translate(6.8 656) rotate(-90)" dy="0" font-size="7.4" text-anchor="middle" fill="#333">−log<tspan font-size="5" dy="1.5">10</tspan><tspan dy="-1.5"> </tspan><tspan font-style="italic">P</tspan> value adjusted</text>
<path transform="scale(.5)" d="M350 1282h0m3-2h0m-8 19h0m-114 17h0m5-2h0m105-2h0m10-3h0m2 6h0m13-3h0m-28 12h0m3-1h0m0-2h0m2-1h0m2-3h0m0 3h0m5 2h0m21-1h0m-129 8h0m0 1h0m94-1h0m1 1h0m1 1h0m3 0h0m1-1h0m-102 3h0m0 3h0m92 2h0m3 0h0m1 1h0m1-4h0m0-1h0m5 3h0m0-2h0m10-2h0m-121 12h0m7-3h0m3-1h0m0 3h0m1 0h0m92 2h0m0-2h0m1 2h0m0-2h0m1 0h0m2 0h0m0 0h0m20-3h0m-119 11h0m2 0h0m1 2h0m0-4h0m86 4h0m3-3h0m2-1h0m0 1h0m1 1h0m1-2h0m0 2h0m10 3h0m4-4h0m4 0h0m-124 10h0m17 2h0m81-1h0m1-1h0m0 2h0m1-3h0m0 2h0m0-3h0m1 5h0m1-4h0m0 2h0m0-5h0m3 2h0m3 0h0m3 2h0m7-1h0m-116 6h0m8 0h0m8 1h0m2 4h0m76 0h0m1-1h0m1 1h0m1-7h0m0 7h0m0-6h0m1 3h0m1 3h0m0-1h0m0-3h0m2 0h0m1-1h0m4 4h0m1 1h0m0-4h0m2-1h0m7 3h0m-106 8h0m0-2h0m4 4h0m1-2h0m0 0h0m1-3h0m0 0h0m3 3h0m1 0h0m72-1h0m2-1h0m1 1h0m0 2h0m1-5h0m0 1h0m1 5h0m1-5h0m0 0h0m1 2h0m2 2h0m2-1h0m1 1h0m0 1h0m4-5h0m1 3h0m6-2h0m11 2h0m-121 4h0m2 2h0m1 3h0m2-2h0m3-4h0m2 5h0m0-5h0m1 6h0m3 0h0m0-5h0m1 2h0m0 1h0m1 4h0m1-4h0m69-2h0m0 2h0m0-1h0m1 2h0m1-2h0m0 0h0m0-2h0m1 0h0m1 4h0m1-4h0m0 3h0m1-1h0m3 0h0m6 3h0m1-6h0m1 5h0m-98 10h0m6-3h0m0 1h0m0 3h0m3-7h0m0-1h0m1 0h0m2 7h0m1-2h0m1-2h0m1 4h0m62 1h0m2-1h0m1-1h0m0-6h0m0 3h0m0 2h0m1-3h0m1 6h0m0-1h0m0-6h0m1 7h0m0-6h0m1-1h0m0 4h0m1 1h0m0-1h0m0-2h0m0 2h0m0-3h0m0 5h0m1-2h0m0-1h0m0-3h0m1 0h0m0 0h0m3 0h0m0 1h0m0-1h0m1-1h0m1 7h0m7-6h0m-101 11h0m3 0h0m2 1h0m1-4h0m2 7h0m1-6h0m0 6h0m3-2h0m1-2h0m0 1h0m1 3h0m0-3h0m0 2h0m0-3h0m1 0h0m1 3h0m1-4h0m0 1h0m1-2h0m60 6h0m0 0h0m2-6h0m0 4h0m0-2h0m0 2h0m0-2h0m0-3h0m0 3h0m0 4h0m0-8h0m0 8h0m1-1h0m0-6h0m0 1h0m0 2h0m0-4h0m0 6h0m1-5h0m0 6h0m1-4h0m0 5h0m0-1h0m1-4h0m0-2h0m1 0h0m0 4h0m0 2h0m0-4h0m1-1h0m0-2h0m1 7h0m0-4h0m0 3h0m1-5h0m0 4h0m1 1h0m0-1h0m1-2h0m0-2h0m0 3h0m6-2h0m2 1h0m-90 9h0m1 2h0m3 0h0m1-5h0m1 4h0m1 1h0m0-5h0m0 4h0m0-3h0m1 6h0m1-3h0m0-5h0m0 7h0m0-6h0m1 4h0m0-4h0m0 0h0m1 6h0m0 0h0m0-4h0m2 5h0m53-1h0m0-3h0m1 0h0m0 2h0m0 0h0m0 0h0m1-1h0m0-2h0m0 4h0m0-3h0m1 3h0m0 0h0m0-1h0m0 1h0m0 0h0m1-6h0m0 2h0m0 1h0m0 3h0m0-6h0m0 0h0m1 1h0m0 6h0m0-3h0m0-2h0m1-2h0m0 0h0m0 5h0m0 1h0m0-3h0m0 1h0m0 1h0m0-4h0m0 3h0m1-1h0m0-2h0m0 5h0m0 0h0m0-1h0m0-1h0m0-3h0m1 1h0m0 4h0m1-4h0m0 3h0m0 1h0m1-4h0m0 3h0m1 1h0m0-2h0m0-1h0m0 2h0m1-2h0m0-4h0m1 3h0m-73 8h0m0-2h0m1 3h0m0 0h0m0-3h0m0 0h0m1 4h0m1-4h0m1 7h0m0-1h0m0-3h0m0-1h0m0-2h0m0 4h0m1-2h0m0 0h0m0 4h0m0 1h0m0-4h0m0-3h0m0 5h0m1-2h0m0 0h0m0-2h0m0 3h0m0-5h0m0 3h0m0 5h0m1-4h0m0-3h0m0 3h0m0 0h0m0-2h0m0 6h0m0 0h0m51-4h0m1 1h0m0-2h0m1 4h0m0-2h0m0 3h0m0-2h0m1-3h0m0-3h0m0 4h0m0 2h0m0 0h0m0 0h0m0-1h0m0 2h0m0 1h0m0-8h0m0 7h0m1-6h0m0 5h0m0-4h0m0-1h0m0 6h0m0 0h0m0-4h0m0 0h0m0 3h0m0-1h0m0-2h0m1 4h0m0-6h0m0 7h0m0-6h0m0 0h0m0 5h0m0 1h0m0-4h0m0 0h0m1 2h0m0 1h0m0 0h0m0-6h0m0 6h0m0 1h0m1-1h0m0-4h0m0-2h0m0 4h0m0-3h0m0 5h0m1-6h0m0 5h0m0 1h0m0-1h0m1-3h0m0-2h0m0 5h0m1-5h0m0 1h0m0 1h0m1-2h0m0 0h0m1 1h0m0 1h0m1 4h0m1-7h0m0 1h0m-71 10h0m0-3h0m1 2h0m0 1h0m1 3h0m0-3h0m1-2h0m0 2h0m1 0h0m0-3h0m0 4h0m0-2h0m0 1h0m1 4h0m0-5h0m0 2h0m0-1h0m0 1h0m0 1h0m0 1h0m1-4h0m0 0h0m0-2h0m0 6h0m0-6h0m0 0h0m0 7h0m0-3h0m0-1h0m1 2h0m0 1h0m0-5h0m0 3h0m0 1h0m0-1h0m0 0h0m0-3h0m0 5h0m0 1h0m1-4h0m0 3h0m0-1h0m0 1h0m0-2h0m0-2h0m49 3h0m0-3h0m0 4h0m0-4h0m0 5h0m0-2h0m1 3h0m0-6h0m0 5h0m0 0h0m0 0h0m0 0h0m0-1h0m0-4h0m0 4h0m0 1h0m0 1h0m0-5h0m0-2h0m0 2h0m0 4h0m0-5h0m1 3h0m0-2h0m0 4h0m0 1h0m0-2h0m0-2h0m0 2h0m0-4h0m0 0h0m0 1h0m0 4h0m0-5h0m0 2h0m1 0h0m0 0h0m0 2h0m0-6h0m0 4h0m0-3h0m0 5h0m0-5h0m0 0h0m1 4h0m0-2h0m0 3h0m0-3h0m0-3h0m0 5h0m0 1h0m0-4h0m0 0h0m0 1h0m0 5h0m0-2h0m0 1h0m1-3h0m0 3h0m0-3h0m0 2h0m0-4h0m0-1h0m0 3h0m1-4h0m0 7h0m0-4h0m1-2h0m0 1h0m2 0h0m0 1h0m0 3h0m1-6h0m1 2h0m4-2h0m-68 10h0m1-2h0m0 1h0m0 0h0m1-1h0m0 0h0m0 2h0m0-2h0m1 2h0m0-2h0m0 8h0m0-2h0m0 1h0m0-1h0m0-4h0m1-2h0m0 1h0m0 4h0m0-4h0m0 2h0m0-1h0m0 0h0m0 1h0m1-1h0m0 2h0m0-2h0m0 1h0m0 1h0m0 0h0m0-1h0m0 2h0m1 1h0m0 0h0m0 1h0m0-2h0m0 2h0m0 1h0m1 0h0m0 0h0m0-1h0m0 1h0m43-1h0m1 0h0m0 0h0m0-2h0m0 2h0m1-1h0m0-2h0m0 2h0m0-1h0m0-2h0m0 2h0m0-3h0m0 2h0m1-3h0m0 0h0m0 2h0m0-1h0m0 0h0m0-1h0m0 3h0m0-3h0m0 1h0m0 1h0m0 4h0m0-1h0m0-2h0m1 0h0m0-2h0m0 3h0m0 1h0m0 0h0m0-3h0m0-1h0m0 4h0m0 0h0m0-3h0m0-2h0m0 1h0m0-1h0m0 4h0m0-1h0m0 1h0m1-2h0m0-3h0m0 4h0m0 3h0m0-2h0m0-1h0m1-2h0m0 0h0m5 3h0m-57 9h0m0-5h0m0 1h0m2-2h0m1 0h0m0 1h0m0 0h0m1 1h0m0 1h0m0 0h0m1 1h0m0-1h0m1 3h0m0 1h0m0-1h0m0 0h0m0 0h0m0 0h0m0-1h0m1 3h0m0-3h0m0 2h0m0 0h0m35 1h0m0-1h0m0 1h0m1 0h0m0-2h0m0 1h0m0 0h0m0 0h0m1-2h0m0 1h0m0 0h0m0-2h0m0 2h0m0-2h0m0 1h0m0 0h0m0-2h0m1 1h0m0 1h0m0-2h0m0 1h0m0-1h0m1-1h0m0 0h0m0-1h0m0 1h0m0-1h0m1-1h0m0 0h0m2 3h0m2 0h0m0 2h0m-44 4h0m0 0h0m0 1h0m1-1h0m0-1h0m1 2h0m0 1h0m0-1h0m0 1h0m0-2h0m0 2h0m0 0h0m1 0h0m0 1h0m0-1h0m0 1h0m0-1h0m0 2h0m0-2h0m0 1h0m0-1h0m1 3h0m0-1h0m0 0h0m0-1h0m0 1h0m0-2h0m0 3h0m1 0h0m0 0h0m0 0h0m0 0h0m0-1h0m0 1h0m1 0h0m0 1h0m0 0h0m0-1h0m0-1h0m0 1h0m1 1h0m0 0h0m0 0h0m0-1h0m0 1h0m1-2h0m0 2h0m0-1h0m0 1h0m0 1h0m1-1h0m1 0h0m0 1h0m0 0h0m0-1h0m0 0h0m1 1h0m1-1h0m1 1h0m1 0h0m2 0h0m1 0h0m2-2h0m1 1h0m0 0h0m1 0h0m0 0h0m1 1h0m1 0h0m1-1h0m1 1h0m0-1h0m0 1h0m1-1h0m0 1h0m0 0h0m0-1h0m0-1h0m0 1h0m1-2h0m0 0h0m0 3h0m1-1h0m0 0h0m0 0h0m0 1h0m0-1h0m0 1h0m0-3h0m0 0h0m1 2h0m0-1h0m0 0h0m1-1h0m0 0h0m1-1h0m0 1h0m0 0h0m0 0h0m0-1h0m0 2h0m1-1h0m0-1h0m0-1h0m0 0h0m0 2h0m0-2h0m0 0h0m0 2h0m0-1h0m1-1h0m0 0h0m0 0h0m0 0h0m0 0h0m1-1h0m0 0h0m0-1h0m0 0h0m0 0h0m0 0h0m0 1h0m0-1h0m0 1h0m0-1h0m1 0h0m0 0h0m0 1h0m0-1h0m0-1h0m-27 8h0m0 0h0m0 0h0m0 0h0m1 0h0m0 1h0m0-1h0m0 1h0m0-1h0m0 1h0m1 0h0m0-1h0m0 1h0m0-1h0m1 0h0m0 1h0m0-1h0m0 0h0m0 1h0m1 0h0m0 0h0m0 1h0m0-2h0m1 2h0m0 0h0m0-1h0m0-1h0m0 0h0m1 0h0m0 1h0m0 1h0m0 0h0m1 0h0m0 0h0m0-1h0m0 1h0m0-1h0m0 1h0m0-1h0m0 0h0m0 0h0m1 0h0m0 1h0m0-1h0m0 1h0m0-2h0m1 1h0m0 0h0m0 1h0m0-2h0m0 1h0m0 0h0m0-1h0m0 1h0m0-1h0m0 0h0m0 2h0m1-2h0m0 1h0m0 0h0m0 0h0m0 0h0m0 0h0m1 0h0m0 0h0m0 1h0m1-1h0m0-1h0m0 2h0m0-1h0m0-1h0m0 2h0m0-1h0m0-1h0m1 2h0m0-1h0m0 0h0m0 0h0m0 0h0m0 0h0m0 1h0m1 0h0m0-2h0m0 1h0m0 0h0m1 0h0m0 1h0m0-1h0m0-1h0m1 1h0m0 0h0m1-1h0m0 0h0m1 1h0m0 0h0m0 0h0m0 0h0m0-1h0m0 0h0m1 0h0m0 1h0m0-1h0m0 0h0" stroke="#bcbcbc" stroke-width="2.90" stroke-linecap="round" fill="none"/>
<path d="M49.7 580.7L55.7 583.0M72.5 580.7L78.5 581.4M93.0 580.7L99.0 579.4M110.0 635.6L116.0 635.0M93.0 639.7L99.0 638.7M123.7 643.3L126.0 647.8M83.1 646.7L89.1 643.8M105.9 646.7L111.9 650.8M123.7 650.1L126.0 649.5M86.3 653.8L92.3 651.5M100.6 653.8L106.6 657.0M113.1 657.0L119.1 660.2M76.9 660.3L82.9 664.5M99.6 660.3L105.6 659.1M123.7 663.9L126.0 662.3M70.6 667.6L76.6 665.5M87.3 667.6L93.3 666.6M105.3 667.6L111.3 669.7M124.3 672.7L126.0 676.0M77.4 674.6L83.4 673.8M99.0 674.6L105.0 671.8M124.3 679.3L126.0 678.4M91.1 681.3L97.1 681.7M108.2 680.8L114.2 684.5M124.3 686.1L126.0 687.7M77.8 688.3L83.8 689.2M99.0 688.3L105.0 686.2M82.5 695.2L88.5 696.2M98.7 695.2L104.7 694.8M112.0 694.0L118.0 696.4M102.5 701.9L108.5 706.1M116.7 702.8L122.7 705.1M114.8 715.0L120.8 714.1M123.7 722.0L126.0 723.2M163.2 723.4L159.2 726.7M194.5 580.8L190.5 579.3M209.3 580.8L205.3 584.2M224.9 580.8L220.9 584.4M194.1 588.0L190.1 588.1M222.0 588.0L218.0 590.9M208.7 594.8L204.7 593.6M184.3 604.6L180.3 606.8M170.8 611.6L166.8 611.6M193.6 618.2L189.6 622.5M222.6 624.3L218.6 623.7M181.2 625.3L177.2 623.9M172.1 632.5L168.1 631.8M188.4 632.2L184.4 634.2M165.1 639.2L161.1 637.2M196.4 639.2L192.4 642.4M179.9 646.0L175.9 649.8M163.2 650.0L159.2 650.9M196.4 651.5L192.4 654.3M193.2 658.5L189.2 660.8M187.5 665.3L183.5 664.0" stroke="#999" stroke-width="0.5" fill="none"/>
<rect x="34.5" y="579.0" width="15.2" height="3.4" fill="#2f7a4e"/>
<path d="M35.5 580.7H48.7" stroke="#fff" stroke-opacity="0.55" stroke-width="0.9" stroke-dasharray="1.1 0.5"/>
<rect x="53.1" y="579.0" width="19.4" height="3.4" fill="#8c8c8c"/>
<path d="M54.1 580.7H71.5" stroke="#fff" stroke-opacity="0.55" stroke-width="0.9" stroke-dasharray="1.1 0.5"/>
<rect x="75.9" y="579.0" width="17.1" height="3.4" fill="#acaedb"/>
<path d="M76.9 580.7H92.0" stroke="#fff" stroke-opacity="0.55" stroke-width="0.9" stroke-dasharray="1.1 0.5"/>
<rect x="96.8" y="633.9" width="13.2" height="3.4" fill="#2f7a4e"/>
<path d="M97.8 635.6H109.0" stroke="#fff" stroke-opacity="0.55" stroke-width="0.9" stroke-dasharray="1.1 0.5"/>
<rect x="83.1" y="638.0" width="9.9" height="3.4" fill="#2f7a4e"/>
<path d="M84.1 639.7H92.0" stroke="#fff" stroke-opacity="0.55" stroke-width="0.9" stroke-dasharray="1.1 0.5"/>
<rect x="109.7" y="641.6" width="14.0" height="3.4" fill="#2f7a4e"/>
<path d="M110.7 643.3H122.7" stroke="#fff" stroke-opacity="0.55" stroke-width="0.9" stroke-dasharray="1.1 0.5"/>
<rect x="73.6" y="645.0" width="9.5" height="3.4" fill="#2f7a4e"/>
<path d="M74.6 646.7H82.1" stroke="#fff" stroke-opacity="0.55" stroke-width="0.9" stroke-dasharray="1.1 0.5"/>
<rect x="86.3" y="645.0" width="19.6" height="3.4" fill="#8c8c8c"/>
<path d="M87.3 646.7H104.9" stroke="#fff" stroke-opacity="0.55" stroke-width="0.9" stroke-dasharray="1.1 0.5"/>
<rect x="109.7" y="648.4" width="14.0" height="3.4" fill="#7fb48c"/>
<path d="M110.7 650.1H122.7" stroke="#fff" stroke-opacity="0.55" stroke-width="0.9" stroke-dasharray="1.1 0.5"/>
<rect x="67.9" y="652.1" width="18.4" height="3.4" fill="#2f7a4e"/>
<path d="M68.9 653.8H85.3" stroke="#fff" stroke-opacity="0.55" stroke-width="0.9" stroke-dasharray="1.1 0.5"/>
<rect x="90.1" y="652.1" width="10.5" height="3.4" fill="#2f7a4e"/>
<path d="M91.1 653.8H99.6" stroke="#fff" stroke-opacity="0.55" stroke-width="0.9" stroke-dasharray="1.1 0.5"/>
<rect x="104.0" y="655.3" width="9.1" height="3.4" fill="#8c8c8c"/>
<path d="M105.0 657.0H112.1" stroke="#fff" stroke-opacity="0.55" stroke-width="0.9" stroke-dasharray="1.1 0.5"/>
<rect x="67.4" y="658.6" width="9.5" height="3.4" fill="#2f7a4e"/>
<path d="M68.4 660.3H75.9" stroke="#fff" stroke-opacity="0.55" stroke-width="0.9" stroke-dasharray="1.1 0.5"/>
<rect x="80.6" y="658.6" width="19.0" height="3.4" fill="#2f7a4e"/>
<path d="M81.6 660.3H98.6" stroke="#fff" stroke-opacity="0.55" stroke-width="0.9" stroke-dasharray="1.1 0.5"/>
<rect x="112.0" y="662.2" width="11.7" height="3.4" fill="#acaedb"/>
<path d="M113.0 663.9H122.7" stroke="#fff" stroke-opacity="0.55" stroke-width="0.9" stroke-dasharray="1.1 0.5"/>
<rect x="56.5" y="665.9" width="14.1" height="3.4" fill="#2f7a4e"/>
<path d="M57.5 667.6H69.6" stroke="#fff" stroke-opacity="0.55" stroke-width="0.9" stroke-dasharray="1.1 0.5"/>
<rect x="75.0" y="665.9" width="12.3" height="3.4" fill="#2f7a4e"/>
<path d="M76.0 667.6H86.3" stroke="#fff" stroke-opacity="0.55" stroke-width="0.9" stroke-dasharray="1.1 0.5"/>
<rect x="93.9" y="665.9" width="11.4" height="3.4" fill="#7fb48c"/>
<path d="M94.9 667.6H104.3" stroke="#fff" stroke-opacity="0.55" stroke-width="0.9" stroke-dasharray="1.1 0.5"/>
<rect x="111.0" y="671.0" width="13.3" height="3.4" fill="#2f7a4e"/>
<path d="M112.0 672.7H123.3" stroke="#fff" stroke-opacity="0.55" stroke-width="0.9" stroke-dasharray="1.1 0.5"/>
<rect x="64.1" y="672.9" width="13.3" height="3.4" fill="#2f7a4e"/>
<path d="M65.1 674.6H76.4" stroke="#fff" stroke-opacity="0.55" stroke-width="0.9" stroke-dasharray="1.1 0.5"/>
<rect x="81.2" y="672.9" width="17.8" height="3.4" fill="#8c8c8c"/>
<path d="M82.2 674.6H98.0" stroke="#fff" stroke-opacity="0.55" stroke-width="0.9" stroke-dasharray="1.1 0.5"/>
<rect x="112.0" y="677.6" width="12.3" height="3.4" fill="#2f7a4e"/>
<path d="M113.0 679.3H123.3" stroke="#fff" stroke-opacity="0.55" stroke-width="0.9" stroke-dasharray="1.1 0.5"/>
<rect x="72.5" y="679.6" width="18.6" height="3.4" fill="#8c8c8c"/>
<path d="M73.5 681.3H90.1" stroke="#fff" stroke-opacity="0.55" stroke-width="0.9" stroke-dasharray="1.1 0.5"/>
<rect x="96.4" y="679.1" width="11.8" height="3.4" fill="#5c3f7e"/>
<path d="M97.4 680.8H107.2" stroke="#fff" stroke-opacity="0.55" stroke-width="0.9" stroke-dasharray="1.1 0.5"/>
<rect x="109.1" y="684.4" width="15.2" height="3.4" fill="#acaedb"/>
<path d="M110.1 686.1H123.3" stroke="#fff" stroke-opacity="0.55" stroke-width="0.9" stroke-dasharray="1.1 0.5"/>
<rect x="71.7" y="686.6" width="6.1" height="3.4" fill="#2f7a4e"/>
<path d="M72.7 688.3H76.8" stroke="#fff" stroke-opacity="0.55" stroke-width="0.9" stroke-dasharray="1.1 0.5"/>
<rect x="82.0" y="686.6" width="17.0" height="3.4" fill="#2f7a4e"/>
<path d="M83.0 688.3H98.0" stroke="#fff" stroke-opacity="0.55" stroke-width="0.9" stroke-dasharray="1.1 0.5"/>
<rect x="73.1" y="693.5" width="9.4" height="3.4" fill="#2f7a4e"/>
<path d="M74.1 695.2H81.5" stroke="#fff" stroke-opacity="0.55" stroke-width="0.9" stroke-dasharray="1.1 0.5"/>
<rect x="88.2" y="693.5" width="10.5" height="3.4" fill="#2f7a4e"/>
<path d="M89.2 695.2H97.7" stroke="#fff" stroke-opacity="0.55" stroke-width="0.9" stroke-dasharray="1.1 0.5"/>
<rect x="102.5" y="692.3" width="9.5" height="3.4" fill="#2f7a4e"/>
<path d="M103.5 694.0H111.0" stroke="#fff" stroke-opacity="0.55" stroke-width="0.9" stroke-dasharray="1.1 0.5"/>
<rect x="83.1" y="700.2" width="19.4" height="3.4" fill="#2f7a4e"/>
<path d="M84.1 701.9H101.5" stroke="#fff" stroke-opacity="0.55" stroke-width="0.9" stroke-dasharray="1.1 0.5"/>
<rect x="106.3" y="701.1" width="10.4" height="3.4" fill="#2f7a4e"/>
<path d="M107.3 702.8H115.7" stroke="#fff" stroke-opacity="0.55" stroke-width="0.9" stroke-dasharray="1.1 0.5"/>
<rect x="104.0" y="713.3" width="10.8" height="3.4" fill="#8c8c8c"/>
<path d="M105.0 715.0H113.8" stroke="#fff" stroke-opacity="0.55" stroke-width="0.9" stroke-dasharray="1.1 0.5"/>
<rect x="114.4" y="720.3" width="9.3" height="3.4" fill="#2f7a4e"/>
<path d="M115.4 722.0H122.7" stroke="#fff" stroke-opacity="0.55" stroke-width="0.9" stroke-dasharray="1.1 0.5"/>
<rect x="163.2" y="721.7" width="11.4" height="3.4" fill="#7fb48c"/>
<path d="M164.2 723.4H173.6" stroke="#fff" stroke-opacity="0.55" stroke-width="0.9" stroke-dasharray="1.1 0.5"/>
<rect x="194.5" y="579.1" width="8.0" height="3.4" fill="#8c8c8c"/>
<path d="M195.5 580.8H201.5" stroke="#fff" stroke-opacity="0.55" stroke-width="0.9" stroke-dasharray="1.1 0.5"/>
<rect x="209.3" y="579.1" width="12.7" height="3.4" fill="#5c3f7e"/>
<path d="M210.3 580.8H221.0" stroke="#fff" stroke-opacity="0.55" stroke-width="0.9" stroke-dasharray="1.1 0.5"/>
<rect x="224.9" y="579.1" width="16.1" height="3.4" fill="#ea6f6a"/>
<path d="M225.9 580.8H240.0" stroke="#fff" stroke-opacity="0.55" stroke-width="0.9" stroke-dasharray="1.1 0.5"/>
<rect x="194.1" y="586.3" width="12.2" height="3.4" fill="#2f7a4e"/>
<path d="M195.1 588.0H205.3" stroke="#fff" stroke-opacity="0.55" stroke-width="0.9" stroke-dasharray="1.1 0.5"/>
<rect x="222.0" y="586.3" width="12.7" height="3.4" fill="#7fb48c"/>
<path d="M223.0 588.0H233.7" stroke="#fff" stroke-opacity="0.55" stroke-width="0.9" stroke-dasharray="1.1 0.5"/>
<rect x="208.7" y="593.1" width="14.7" height="3.4" fill="#8c8c8c"/>
<path d="M209.7 594.8H222.4" stroke="#fff" stroke-opacity="0.55" stroke-width="0.9" stroke-dasharray="1.1 0.5"/>
<rect x="184.3" y="602.9" width="13.4" height="3.4" fill="#8c8c8c"/>
<path d="M185.3 604.6H196.7" stroke="#fff" stroke-opacity="0.55" stroke-width="0.9" stroke-dasharray="1.1 0.5"/>
<rect x="170.8" y="609.9" width="19.2" height="3.4" fill="#8c8c8c"/>
<path d="M171.8 611.6H189.0" stroke="#fff" stroke-opacity="0.55" stroke-width="0.9" stroke-dasharray="1.1 0.5"/>
<rect x="193.6" y="616.5" width="17.0" height="3.4" fill="#8c8c8c"/>
<path d="M194.6 618.2H209.6" stroke="#fff" stroke-opacity="0.55" stroke-width="0.9" stroke-dasharray="1.1 0.5"/>
<rect x="222.6" y="622.6" width="11.4" height="3.4" fill="#8c8c8c"/>
<path d="M223.6 624.3H233.0" stroke="#fff" stroke-opacity="0.55" stroke-width="0.9" stroke-dasharray="1.1 0.5"/>
<rect x="181.2" y="623.6" width="19.6" height="3.4" fill="#2f7a4e"/>
<path d="M182.2 625.3H199.8" stroke="#fff" stroke-opacity="0.55" stroke-width="0.9" stroke-dasharray="1.1 0.5"/>
<rect x="172.1" y="630.8" width="12.0" height="3.4" fill="#8c8c8c"/>
<path d="M173.1 632.5H183.1" stroke="#fff" stroke-opacity="0.55" stroke-width="0.9" stroke-dasharray="1.1 0.5"/>
<rect x="188.4" y="630.5" width="14.3" height="3.4" fill="#5c3f7e"/>
<path d="M189.4 632.2H201.7" stroke="#fff" stroke-opacity="0.55" stroke-width="0.9" stroke-dasharray="1.1 0.5"/>
<rect x="165.1" y="637.5" width="19.5" height="3.4" fill="#ea6f6a"/>
<path d="M166.1 639.2H183.6" stroke="#fff" stroke-opacity="0.55" stroke-width="0.9" stroke-dasharray="1.1 0.5"/>
<rect x="196.4" y="637.5" width="17.1" height="3.4" fill="#8c8c8c"/>
<path d="M197.4 639.2H212.5" stroke="#fff" stroke-opacity="0.55" stroke-width="0.9" stroke-dasharray="1.1 0.5"/>
<rect x="179.9" y="644.3" width="12.7" height="3.4" fill="#5c3f7e"/>
<path d="M180.9 646.0H191.6" stroke="#fff" stroke-opacity="0.55" stroke-width="0.9" stroke-dasharray="1.1 0.5"/>
<rect x="163.2" y="648.3" width="12.9" height="3.4" fill="#de912c"/>
<path d="M164.2 650.0H175.1" stroke="#fff" stroke-opacity="0.55" stroke-width="0.9" stroke-dasharray="1.1 0.5"/>
<rect x="196.4" y="649.8" width="16.5" height="3.4" fill="#8c8c8c"/>
<path d="M197.4 651.5H211.9" stroke="#fff" stroke-opacity="0.55" stroke-width="0.9" stroke-dasharray="1.1 0.5"/>
<rect x="193.2" y="656.8" width="9.9" height="3.4" fill="#ea6f6a"/>
<path d="M194.2 658.5H202.1" stroke="#fff" stroke-opacity="0.55" stroke-width="0.9" stroke-dasharray="1.1 0.5"/>
<rect x="187.5" y="663.6" width="12.3" height="3.4" fill="#8c8c8c"/>
<path d="M188.5 665.3H198.8" stroke="#fff" stroke-opacity="0.55" stroke-width="0.9" stroke-dasharray="1.1 0.5"/>
<rect x="246.1" y="632.10" width="4.4" height="5" fill="#de912c"/>
<text x="252.30" y="634.60" dy="0.35em" font-size="6.4" fill="#333">MG1</text>
<rect x="246.1" y="639.13" width="4.4" height="5" fill="#ea6f6a"/>
<text x="252.30" y="641.63" dy="0.35em" font-size="6.4" fill="#333">MG2</text>
<rect x="246.1" y="646.16" width="4.4" height="5" fill="#acaedb"/>
<text x="252.30" y="648.66" dy="0.35em" font-size="6.4" fill="#333">MG3</text>
<rect x="246.1" y="653.19" width="4.4" height="5" fill="#5c3f7e"/>
<text x="252.30" y="655.69" dy="0.35em" font-size="6.4" fill="#333">MG4</text>
<rect x="246.1" y="660.22" width="4.4" height="5" fill="#7fb48c"/>
<text x="252.30" y="662.72" dy="0.35em" font-size="6.4" fill="#333">MG5</text>
<rect x="246.1" y="667.25" width="4.4" height="5" fill="#2f7a4e"/>
<text x="252.30" y="669.75" dy="0.35em" font-size="6.4" fill="#333">MG6</text>
<rect x="246.1" y="674.28" width="4.4" height="5" fill="#8c8c8c"/>
<text x="252.30" y="676.78" dy="0.35em" font-size="6.4" fill="#333">NA</text>
<text transform="translate(304.30 607.60) scale(1.17 1)" font-size="15" font-weight="bold" fill="#111" stroke="#111" stroke-width="0.6">h</text>
<path d="M337.3 622.20H376.4" stroke="#333" stroke-width="0.8"/>
<polygon points="351.90,621.95 352.20,621.95 352.50,621.95 352.80,621.95 353.10,621.93 353.40,621.83 353.70,621.71 354.00,621.59 354.30,621.46 354.60,621.33 354.90,621.18 355.20,621.03 355.50,620.87 355.80,620.71 356.10,620.54 356.40,620.37 356.70,620.19 357.00,620.00 357.30,619.81 357.60,619.62 357.90,619.42 358.20,619.21 358.50,619.01 358.80,618.79 359.10,618.58 359.40,618.36 359.70,618.13 360.00,617.90 360.30,617.67 360.60,617.43 360.90,617.19 361.20,616.95 361.50,616.70 361.80,616.45 362.10,616.20 362.40,615.94 362.70,615.68 363.00,615.41 363.30,615.14 363.60,614.87 363.90,614.60 364.21,614.61 364.52,614.65 364.83,614.73 365.14,614.85 365.45,615.00 365.76,615.19 366.07,615.41 366.38,615.67 366.69,615.95 367.00,616.27 367.32,616.60 367.63,616.95 367.94,617.31 368.25,617.68 368.56,618.05 368.87,618.41 369.18,618.77 369.49,619.12 369.80,619.45 370.11,619.76 370.42,620.06 370.73,620.33 371.04,620.58 371.35,620.81 371.66,621.01 371.97,621.20 372.28,621.36 372.59,621.50 372.90,621.62 373.22,621.73 373.53,621.81 373.84,621.89 374.15,621.95 374.46,621.95 374.77,621.95 375.08,621.95 375.39,621.95 375.70,621.95 376.01,621.95 376.32,621.95 376.32,622.45 376.01,622.45 375.70,622.45 375.39,622.45 375.08,622.45 374.77,622.45 374.46,622.45 374.15,622.45 373.84,622.51 373.53,622.59 373.22,622.67 372.90,622.78 372.59,622.90 372.28,623.04 371.97,623.20 371.66,623.39 371.35,623.59 371.04,623.82 370.73,624.07 370.42,624.34 370.11,624.64 369.80,624.95 369.49,625.28 369.18,625.63 368.87,625.99 368.56,626.35 368.25,626.72 367.94,627.09 367.63,627.45 367.32,627.80 367.00,628.13 366.69,628.45 366.38,628.73 366.07,628.99 365.76,629.21 365.45,629.40 365.14,629.55 364.83,629.67 364.52,629.75 364.21,629.79 363.90,629.80 363.60,629.53 363.30,629.26 363.00,628.99 362.70,628.72 362.40,628.46 362.10,628.20 361.80,627.95 361.50,627.70 361.20,627.45 360.90,627.21 360.60,626.97 360.30,626.73 360.00,626.50 359.70,626.27 359.40,626.04 359.10,625.82 358.80,625.61 358.50,625.39 358.20,625.19 357.90,624.98 357.60,624.78 357.30,624.59 357.00,624.40 356.70,624.21 356.40,624.03 356.10,623.86 355.80,623.69 355.50,623.53 355.20,623.37 354.90,623.22 354.60,623.07 354.30,622.94 354.00,622.81 353.70,622.69 353.40,622.57 353.10,622.47 352.80,622.45 352.50,622.45 352.20,622.45 351.90,622.45" fill="#ef6b63" stroke="#3a3a3a" stroke-width="0.6" stroke-linejoin="round"/>
<circle cx="363.90" cy="622.20" r="1.05" fill="#111"/>
<path d="M342.2 638.50H376.5" stroke="#333" stroke-width="0.8"/>
<polygon points="346.10,638.25 346.51,638.25 346.93,638.25 347.34,638.25 347.75,638.23 348.16,638.13 348.58,638.01 348.99,637.89 349.40,637.76 349.81,637.63 350.23,637.48 350.64,637.33 351.05,637.17 351.46,637.01 351.88,636.84 352.29,636.67 352.70,636.49 353.11,636.30 353.53,636.11 353.94,635.92 354.35,635.72 354.76,635.51 355.18,635.31 355.59,635.09 356.00,634.88 356.41,634.66 356.83,634.43 357.24,634.20 357.65,633.97 358.06,633.73 358.48,633.49 358.89,633.25 359.30,633.00 359.71,632.75 360.12,632.50 360.54,632.24 360.95,631.98 361.36,631.71 361.78,631.44 362.19,631.17 362.60,630.90 363.04,630.91 363.48,630.95 363.93,631.03 364.37,631.15 364.81,631.30 365.25,631.49 365.69,631.71 366.14,631.97 366.58,632.25 367.02,632.57 367.46,632.90 367.91,633.25 368.35,633.61 368.79,633.98 369.23,634.35 369.67,634.71 370.12,635.07 370.56,635.42 371.00,635.75 371.44,636.06 371.88,636.36 372.33,636.63 372.77,636.88 373.21,637.11 373.65,637.31 374.10,637.50 374.54,637.66 374.98,637.80 375.42,637.92 375.86,638.03 376.31,638.11 376.75,638.19 377.19,638.25 377.63,638.25 378.07,638.25 378.52,638.25 378.96,638.25 379.40,638.25 379.84,638.25 380.28,638.25 380.28,638.75 379.84,638.75 379.40,638.75 378.96,638.75 378.52,638.75 378.07,638.75 377.63,638.75 377.19,638.75 376.75,638.81 376.31,638.89 375.86,638.97 375.42,639.08 374.98,639.20 374.54,639.34 374.10,639.50 373.65,639.69 373.21,639.89 372.77,640.12 372.33,640.37 371.88,640.64 371.44,640.94 371.00,641.25 370.56,641.58 370.12,641.93 369.67,642.29 369.23,642.65 368.79,643.02 368.35,643.39 367.91,643.75 367.46,644.10 367.02,644.43 366.58,644.75 366.14,645.03 365.69,645.29 365.25,645.51 364.81,645.70 364.37,645.85 363.93,645.97 363.48,646.05 363.04,646.09 362.60,646.10 362.19,645.83 361.78,645.56 361.36,645.29 360.95,645.02 360.54,644.76 360.12,644.50 359.71,644.25 359.30,644.00 358.89,643.75 358.48,643.51 358.06,643.27 357.65,643.03 357.24,642.80 356.83,642.57 356.41,642.34 356.00,642.12 355.59,641.91 355.18,641.69 354.76,641.49 354.35,641.28 353.94,641.08 353.53,640.89 353.11,640.70 352.70,640.51 352.29,640.33 351.88,640.16 351.46,639.99 351.05,639.83 350.64,639.67 350.23,639.52 349.81,639.37 349.40,639.24 348.99,639.11 348.58,638.99 348.16,638.87 347.75,638.77 347.34,638.75 346.93,638.75 346.51,638.75 346.10,638.75" fill="#ef6b63" stroke="#3a3a3a" stroke-width="0.6" stroke-linejoin="round"/>
<circle cx="361.90" cy="638.50" r="1.05" fill="#111"/>
<path d="M340.2 654.70H375.0" stroke="#333" stroke-width="0.8"/>
<polygon points="350.10,654.45 350.30,654.45 350.50,654.45 350.69,654.45 350.89,654.44 351.09,654.34 351.29,654.23 351.48,654.11 351.68,653.98 351.88,653.85 352.08,653.71 352.27,653.56 352.47,653.41 352.67,653.25 352.87,653.09 353.06,652.92 353.26,652.74 353.46,652.56 353.66,652.38 353.85,652.19 354.05,651.99 354.25,651.79 354.44,651.59 354.64,651.38 354.84,651.17 355.04,650.96 355.24,650.74 355.43,650.51 355.63,650.29 355.83,650.06 356.02,649.82 356.22,649.59 356.42,649.35 356.62,649.10 356.81,648.85 357.01,648.60 357.21,648.35 357.41,648.09 357.61,647.83 357.80,647.57 358.00,647.30 358.53,647.31 359.06,647.35 359.59,647.43 360.12,647.54 360.65,647.69 361.18,647.87 361.71,648.09 362.24,648.34 362.77,648.62 363.30,648.92 363.83,649.25 364.36,649.59 364.89,649.94 365.42,650.30 365.95,650.65 366.48,651.01 367.01,651.36 367.54,651.70 368.07,652.02 368.60,652.33 369.13,652.61 369.66,652.88 370.19,653.12 370.72,653.35 371.25,653.55 371.78,653.72 372.31,653.88 372.84,654.02 373.37,654.14 373.90,654.24 374.43,654.33 374.96,654.40 375.49,654.45 376.02,654.45 376.55,654.45 377.08,654.45 377.61,654.45 378.14,654.45 378.67,654.45 379.19,654.45 379.19,654.95 378.67,654.95 378.14,654.95 377.61,654.95 377.08,654.95 376.55,654.95 376.02,654.95 375.49,654.95 374.96,655.00 374.43,655.07 373.90,655.16 373.37,655.26 372.84,655.38 372.31,655.52 371.78,655.68 371.25,655.85 370.72,656.05 370.19,656.28 369.66,656.52 369.13,656.79 368.60,657.07 368.07,657.38 367.54,657.70 367.01,658.04 366.48,658.39 365.95,658.75 365.42,659.10 364.89,659.46 364.36,659.81 363.83,660.15 363.30,660.48 362.77,660.78 362.24,661.06 361.71,661.31 361.18,661.53 360.65,661.71 360.12,661.86 359.59,661.97 359.06,662.05 358.53,662.09 358.00,662.10 357.80,661.83 357.61,661.57 357.41,661.31 357.21,661.05 357.01,660.80 356.81,660.55 356.62,660.30 356.42,660.05 356.22,659.81 356.02,659.58 355.83,659.34 355.63,659.11 355.43,658.89 355.24,658.66 355.04,658.44 354.84,658.23 354.64,658.02 354.44,657.81 354.25,657.61 354.05,657.41 353.85,657.21 353.66,657.02 353.46,656.84 353.26,656.66 353.06,656.48 352.87,656.31 352.67,656.15 352.47,655.99 352.27,655.84 352.08,655.69 351.88,655.55 351.68,655.42 351.48,655.29 351.29,655.17 351.09,655.06 350.89,654.96 350.69,654.95 350.50,654.95 350.30,654.95 350.10,654.95" fill="#ef6b63" stroke="#3a3a3a" stroke-width="0.6" stroke-linejoin="round"/>
<circle cx="359.00" cy="654.70" r="1.05" fill="#111"/>
<path d="M338.3 671.10H376.4" stroke="#333" stroke-width="0.8"/>
<polygon points="346.10,670.85 346.46,670.85 346.83,670.85 347.19,670.85 347.55,670.83 347.91,670.72 348.28,670.61 348.64,670.48 349.00,670.35 349.36,670.21 349.73,670.07 350.09,669.92 350.45,669.76 350.81,669.59 351.18,669.42 351.54,669.24 351.90,669.06 352.26,668.87 352.62,668.68 352.99,668.48 353.35,668.28 353.71,668.08 354.08,667.86 354.44,667.65 354.80,667.43 355.16,667.20 355.53,666.98 355.89,666.75 356.25,666.51 356.61,666.27 356.98,666.03 357.34,665.78 357.70,665.53 358.06,665.27 358.43,665.02 358.79,664.76 359.15,664.49 359.51,664.22 359.88,663.95 360.24,663.68 360.60,663.40 360.95,663.41 361.31,663.46 361.66,663.53 362.02,663.65 362.37,663.80 362.73,664.00 363.08,664.22 363.44,664.48 363.79,664.77 364.14,665.09 364.50,665.43 364.85,665.78 365.21,666.14 365.56,666.52 365.92,666.89 366.27,667.26 366.62,667.62 366.98,667.98 367.33,668.31 367.69,668.63 368.04,668.93 368.40,669.21 368.75,669.46 369.11,669.69 369.46,669.90 369.81,670.08 370.17,670.25 370.52,670.39 370.88,670.51 371.23,670.62 371.59,670.71 371.94,670.79 372.29,670.85 372.65,670.85 373.00,670.85 373.36,670.85 373.71,670.85 374.07,670.85 374.42,670.85 374.78,670.85 374.78,671.35 374.42,671.35 374.07,671.35 373.71,671.35 373.36,671.35 373.00,671.35 372.65,671.35 372.29,671.35 371.94,671.41 371.59,671.49 371.23,671.58 370.88,671.69 370.52,671.81 370.17,671.95 369.81,672.12 369.46,672.30 369.11,672.51 368.75,672.74 368.40,672.99 368.04,673.27 367.69,673.57 367.33,673.89 366.98,674.22 366.62,674.58 366.27,674.94 365.92,675.31 365.56,675.68 365.21,676.06 364.85,676.42 364.50,676.77 364.14,677.11 363.79,677.43 363.44,677.72 363.08,677.98 362.73,678.20 362.37,678.40 362.02,678.55 361.66,678.67 361.31,678.74 360.95,678.79 360.60,678.80 360.24,678.52 359.88,678.25 359.51,677.98 359.15,677.71 358.79,677.44 358.43,677.18 358.06,676.93 357.70,676.67 357.34,676.42 356.98,676.17 356.61,675.93 356.25,675.69 355.89,675.45 355.53,675.22 355.16,675.00 354.80,674.77 354.44,674.55 354.08,674.34 353.71,674.12 353.35,673.92 352.99,673.72 352.62,673.52 352.26,673.33 351.90,673.14 351.54,672.96 351.18,672.78 350.81,672.61 350.45,672.44 350.09,672.28 349.73,672.13 349.36,671.99 349.00,671.85 348.64,671.72 348.28,671.59 347.91,671.48 347.55,671.37 347.19,671.35 346.83,671.35 346.46,671.35 346.10,671.35" fill="#ef6b63" stroke="#3a3a3a" stroke-width="0.6" stroke-linejoin="round"/>
<circle cx="360.60" cy="671.10" r="1.05" fill="#111"/>
<path d="M335.3 687.40H376.0" stroke="#333" stroke-width="0.8"/>
<polygon points="343.50,687.15 343.94,687.15 344.38,687.15 344.83,687.15 345.27,687.13 345.71,687.03 346.15,686.92 346.60,686.80 347.04,686.67 347.48,686.54 347.93,686.40 348.37,686.25 348.81,686.09 349.25,685.93 349.69,685.76 350.14,685.59 350.58,685.41 351.02,685.23 351.46,685.04 351.91,684.85 352.35,684.65 352.79,684.45 353.24,684.25 353.68,684.04 354.12,683.82 354.56,683.61 355.00,683.38 355.45,683.16 355.89,682.93 356.33,682.70 356.77,682.46 357.22,682.22 357.66,681.97 358.10,681.73 358.55,681.47 358.99,681.22 359.43,680.96 359.87,680.70 360.31,680.44 360.76,680.17 361.20,679.90 361.67,679.91 362.13,679.95 362.60,680.03 363.06,680.14 363.53,680.29 363.99,680.48 364.46,680.70 364.93,680.95 365.39,681.24 365.86,681.54 366.32,681.87 366.79,682.22 367.25,682.57 367.72,682.94 368.19,683.30 368.65,683.66 369.12,684.01 369.58,684.36 370.05,684.68 370.51,684.99 370.98,685.29 371.45,685.56 371.91,685.80 372.38,686.03 372.84,686.23 373.31,686.41 373.78,686.57 374.24,686.71 374.71,686.83 375.17,686.93 375.64,687.02 376.10,687.09 376.57,687.15 377.04,687.15 377.50,687.15 377.97,687.15 378.43,687.15 378.90,687.15 379.36,687.15 379.83,687.15 379.83,687.65 379.36,687.65 378.90,687.65 378.43,687.65 377.97,687.65 377.50,687.65 377.04,687.65 376.57,687.65 376.10,687.71 375.64,687.78 375.17,687.87 374.71,687.97 374.24,688.09 373.78,688.23 373.31,688.39 372.84,688.57 372.38,688.77 371.91,689.00 371.45,689.24 370.98,689.51 370.51,689.81 370.05,690.12 369.58,690.44 369.12,690.79 368.65,691.14 368.19,691.50 367.72,691.86 367.25,692.23 366.79,692.58 366.32,692.93 365.86,693.26 365.39,693.56 364.93,693.85 364.46,694.10 363.99,694.32 363.53,694.51 363.06,694.66 362.60,694.77 362.13,694.85 361.67,694.89 361.20,694.90 360.76,694.63 360.31,694.36 359.87,694.10 359.43,693.84 358.99,693.58 358.55,693.33 358.10,693.07 357.66,692.83 357.22,692.58 356.77,692.34 356.33,692.10 355.89,691.87 355.45,691.64 355.00,691.42 354.56,691.19 354.12,690.98 353.68,690.76 353.24,690.55 352.79,690.35 352.35,690.15 351.91,689.95 351.46,689.76 351.02,689.57 350.58,689.39 350.14,689.21 349.69,689.04 349.25,688.87 348.81,688.71 348.37,688.55 347.93,688.40 347.48,688.26 347.04,688.13 346.60,688.00 346.15,687.88 345.71,687.77 345.27,687.67 344.83,687.65 344.38,687.65 343.94,687.65 343.50,687.65" fill="#ef6b63" stroke="#3a3a3a" stroke-width="0.6" stroke-linejoin="round"/>
<circle cx="360.60" cy="687.40" r="1.05" fill="#111"/>
<path d="M337.6 703.90H376.4" stroke="#333" stroke-width="0.8"/>
<polygon points="344.80,703.65 345.16,703.65 345.53,703.65 345.89,703.65 346.25,703.63 346.61,703.52 346.98,703.41 347.34,703.28 347.70,703.15 348.06,703.01 348.43,702.87 348.79,702.72 349.15,702.56 349.51,702.39 349.88,702.22 350.24,702.04 350.60,701.86 350.96,701.67 351.32,701.48 351.69,701.28 352.05,701.08 352.41,700.88 352.78,700.66 353.14,700.45 353.50,700.23 353.86,700.00 354.23,699.78 354.59,699.55 354.95,699.31 355.31,699.07 355.68,698.83 356.04,698.58 356.40,698.33 356.76,698.07 357.12,697.82 357.49,697.56 357.85,697.29 358.21,697.02 358.57,696.75 358.94,696.48 359.30,696.20 359.67,696.21 360.05,696.26 360.42,696.33 360.80,696.45 361.17,696.60 361.55,696.80 361.92,697.02 362.30,697.28 362.67,697.57 363.05,697.89 363.42,698.23 363.80,698.58 364.17,698.94 364.54,699.32 364.92,699.69 365.29,700.06 365.67,700.42 366.04,700.78 366.42,701.11 366.79,701.43 367.17,701.73 367.54,702.01 367.92,702.26 368.29,702.49 368.67,702.70 369.04,702.88 369.41,703.05 369.79,703.19 370.16,703.31 370.54,703.42 370.91,703.51 371.29,703.59 371.66,703.65 372.04,703.65 372.41,703.65 372.79,703.65 373.16,703.65 373.54,703.65 373.91,703.65 374.28,703.65 374.28,704.15 373.91,704.15 373.54,704.15 373.16,704.15 372.79,704.15 372.41,704.15 372.04,704.15 371.66,704.15 371.29,704.21 370.91,704.29 370.54,704.38 370.16,704.49 369.79,704.61 369.41,704.75 369.04,704.92 368.67,705.10 368.29,705.31 367.92,705.54 367.54,705.79 367.17,706.07 366.79,706.37 366.42,706.69 366.04,707.02 365.67,707.38 365.29,707.74 364.92,708.11 364.54,708.48 364.17,708.86 363.80,709.22 363.42,709.57 363.05,709.91 362.67,710.23 362.30,710.52 361.92,710.78 361.55,711.00 361.17,711.20 360.80,711.35 360.42,711.47 360.05,711.54 359.67,711.59 359.30,711.60 358.94,711.32 358.57,711.05 358.21,710.78 357.85,710.51 357.49,710.24 357.12,709.98 356.76,709.73 356.40,709.47 356.04,709.22 355.68,708.97 355.31,708.73 354.95,708.49 354.59,708.25 354.23,708.02 353.86,707.80 353.50,707.57 353.14,707.35 352.78,707.14 352.41,706.92 352.05,706.72 351.69,706.52 351.32,706.32 350.96,706.13 350.60,705.94 350.24,705.76 349.88,705.58 349.51,705.41 349.15,705.24 348.79,705.08 348.43,704.93 348.06,704.79 347.70,704.65 347.34,704.52 346.98,704.39 346.61,704.28 346.25,704.17 345.89,704.15 345.53,704.15 345.16,704.15 344.80,704.15" fill="#ef6b63" stroke="#3a3a3a" stroke-width="0.6" stroke-linejoin="round"/>
<circle cx="358.00" cy="703.90" r="1.05" fill="#111"/>
<path d="M363.6 613.9V661.7M360.6 664.7V711.8" stroke="#222" stroke-width="0.7"/>
<path d="M378.3 622.20H406.6" stroke="#333" stroke-width="0.8"/>
<polygon points="379.60,621.95 379.81,621.95 380.03,621.95 380.25,621.95 380.46,621.93 380.68,621.83 380.89,621.71 381.11,621.59 381.32,621.46 381.54,621.33 381.75,621.18 381.97,621.03 382.18,620.87 382.40,620.71 382.61,620.54 382.82,620.37 383.04,620.19 383.25,620.00 383.47,619.81 383.69,619.62 383.90,619.42 384.12,619.21 384.33,619.01 384.55,618.79 384.76,618.58 384.98,618.36 385.19,618.13 385.40,617.90 385.62,617.67 385.83,617.43 386.05,617.19 386.26,616.95 386.48,616.70 386.69,616.45 386.91,616.20 387.12,615.94 387.34,615.68 387.56,615.41 387.77,615.14 387.99,614.87 388.20,614.60 388.60,614.61 389.00,614.65 389.39,614.73 389.79,614.85 390.19,615.00 390.59,615.19 390.99,615.41 391.39,615.67 391.78,615.95 392.18,616.27 392.58,616.60 392.98,616.95 393.38,617.31 393.78,617.68 394.17,618.05 394.57,618.41 394.97,618.77 395.37,619.12 395.77,619.45 396.17,619.76 396.56,620.06 396.96,620.33 397.36,620.58 397.76,620.81 398.16,621.01 398.55,621.20 398.95,621.36 399.35,621.50 399.75,621.62 400.15,621.73 400.55,621.81 400.94,621.89 401.34,621.95 401.74,621.95 402.14,621.95 402.54,621.95 402.94,621.95 403.33,621.95 403.73,621.95 404.13,621.95 404.13,622.45 403.73,622.45 403.33,622.45 402.94,622.45 402.54,622.45 402.14,622.45 401.74,622.45 401.34,622.45 400.94,622.51 400.55,622.59 400.15,622.67 399.75,622.78 399.35,622.90 398.95,623.04 398.55,623.20 398.16,623.39 397.76,623.59 397.36,623.82 396.96,624.07 396.56,624.34 396.17,624.64 395.77,624.95 395.37,625.28 394.97,625.63 394.57,625.99 394.17,626.35 393.78,626.72 393.38,627.09 392.98,627.45 392.58,627.80 392.18,628.13 391.78,628.45 391.39,628.73 390.99,628.99 390.59,629.21 390.19,629.40 389.79,629.55 389.39,629.67 389.00,629.75 388.60,629.79 388.20,629.80 387.99,629.53 387.77,629.26 387.56,628.99 387.34,628.72 387.12,628.46 386.91,628.20 386.69,627.95 386.48,627.70 386.26,627.45 386.05,627.21 385.83,626.97 385.62,626.73 385.40,626.50 385.19,626.27 384.98,626.04 384.76,625.82 384.55,625.61 384.33,625.39 384.12,625.19 383.90,624.98 383.69,624.78 383.47,624.59 383.25,624.40 383.04,624.21 382.82,624.03 382.61,623.86 382.40,623.69 382.18,623.53 381.97,623.37 381.75,623.22 381.54,623.07 381.32,622.94 381.11,622.81 380.89,622.69 380.68,622.57 380.46,622.47 380.25,622.45 380.03,622.45 379.81,622.45 379.60,622.45" fill="#d6912b" stroke="#3a3a3a" stroke-width="0.6" stroke-linejoin="round"/>
<circle cx="388.20" cy="622.20" r="1.05" fill="#111"/>
<path d="M379.6 638.50H407.9" stroke="#333" stroke-width="0.8"/>
<polygon points="379.60,638.25 379.75,638.25 379.90,638.25 380.05,638.25 380.20,638.24 380.35,638.15 380.50,638.04 380.65,637.92 380.80,637.80 380.95,637.67 381.10,637.54 381.25,637.39 381.40,637.24 381.55,637.09 381.70,636.93 381.85,636.76 382.00,636.59 382.15,636.42 382.30,636.24 382.45,636.05 382.60,635.86 382.75,635.67 382.90,635.47 383.05,635.27 383.20,635.07 383.35,634.86 383.50,634.64 383.65,634.43 383.80,634.21 383.95,633.98 384.10,633.76 384.25,633.52 384.40,633.29 384.55,633.05 384.70,632.81 384.85,632.57 385.00,632.32 385.15,632.07 385.30,631.82 385.45,631.56 385.60,631.30 385.84,631.31 386.09,631.35 386.33,631.42 386.57,631.53 386.81,631.68 387.06,631.86 387.30,632.07 387.54,632.31 387.79,632.58 388.03,632.88 388.27,633.19 388.52,633.52 388.76,633.87 389.00,634.21 389.25,634.56 389.49,634.91 389.73,635.25 389.97,635.58 390.22,635.89 390.46,636.19 390.70,636.47 390.95,636.73 391.19,636.97 391.43,637.18 391.68,637.38 391.92,637.55 392.16,637.70 392.40,637.84 392.65,637.95 392.89,638.05 393.13,638.14 393.38,638.21 393.62,638.25 393.86,638.25 394.11,638.25 394.35,638.25 394.59,638.25 394.83,638.25 395.08,638.25 395.32,638.25 395.32,638.75 395.08,638.75 394.83,638.75 394.59,638.75 394.35,638.75 394.11,638.75 393.86,638.75 393.62,638.75 393.38,638.79 393.13,638.86 392.89,638.95 392.65,639.05 392.40,639.16 392.16,639.30 391.92,639.45 391.68,639.62 391.43,639.82 391.19,640.03 390.95,640.27 390.70,640.53 390.46,640.81 390.22,641.11 389.97,641.42 389.73,641.75 389.49,642.09 389.25,642.44 389.00,642.79 388.76,643.13 388.52,643.48 388.27,643.81 388.03,644.12 387.79,644.42 387.54,644.69 387.30,644.93 387.06,645.14 386.81,645.32 386.57,645.47 386.33,645.58 386.09,645.65 385.84,645.69 385.60,645.70 385.45,645.44 385.30,645.18 385.15,644.93 385.00,644.68 384.85,644.43 384.70,644.19 384.55,643.95 384.40,643.71 384.25,643.48 384.10,643.24 383.95,643.02 383.80,642.79 383.65,642.57 383.50,642.36 383.35,642.14 383.20,641.93 383.05,641.73 382.90,641.53 382.75,641.33 382.60,641.14 382.45,640.95 382.30,640.76 382.15,640.58 382.00,640.41 381.85,640.24 381.70,640.07 381.55,639.91 381.40,639.76 381.25,639.61 381.10,639.46 380.95,639.33 380.80,639.20 380.65,639.08 380.50,638.96 380.35,638.85 380.20,638.76 380.05,638.75 379.90,638.75 379.75,638.75 379.60,638.75" fill="#d6912b" stroke="#3a3a3a" stroke-width="0.6" stroke-linejoin="round"/>
<circle cx="385.80" cy="638.50" r="1.05" fill="#111"/>
<path d="M379.0 654.70H402.0" stroke="#333" stroke-width="0.8"/>
<polygon points="379.00,654.45 379.18,654.45 379.36,654.45 379.54,654.45 379.72,654.44 379.90,654.34 380.08,654.23 380.26,654.11 380.44,653.98 380.62,653.85 380.80,653.71 380.98,653.56 381.16,653.41 381.34,653.25 381.52,653.09 381.70,652.92 381.88,652.74 382.06,652.56 382.24,652.38 382.42,652.19 382.60,651.99 382.78,651.79 382.96,651.59 383.14,651.38 383.32,651.17 383.50,650.96 383.68,650.74 383.86,650.51 384.04,650.29 384.22,650.06 384.40,649.82 384.58,649.59 384.76,649.35 384.94,649.10 385.12,648.85 385.30,648.60 385.48,648.35 385.66,648.09 385.84,647.83 386.02,647.57 386.20,647.30 386.49,647.31 386.78,647.35 387.07,647.43 387.36,647.54 387.65,647.69 387.94,647.87 388.23,648.09 388.52,648.34 388.81,648.62 389.10,648.92 389.39,649.25 389.68,649.59 389.97,649.94 390.26,650.30 390.55,650.65 390.84,651.01 391.13,651.36 391.42,651.70 391.71,652.02 392.00,652.33 392.30,652.61 392.59,652.88 392.88,653.12 393.17,653.35 393.46,653.55 393.75,653.72 394.04,653.88 394.33,654.02 394.62,654.14 394.91,654.24 395.20,654.33 395.49,654.40 395.78,654.45 396.07,654.45 396.36,654.45 396.65,654.45 396.94,654.45 397.23,654.45 397.52,654.45 397.81,654.45 397.81,654.95 397.52,654.95 397.23,654.95 396.94,654.95 396.65,654.95 396.36,654.95 396.07,654.95 395.78,654.95 395.49,655.00 395.20,655.07 394.91,655.16 394.62,655.26 394.33,655.38 394.04,655.52 393.75,655.68 393.46,655.85 393.17,656.05 392.88,656.28 392.59,656.52 392.30,656.79 392.00,657.07 391.71,657.38 391.42,657.70 391.13,658.04 390.84,658.39 390.55,658.75 390.26,659.10 389.97,659.46 389.68,659.81 389.39,660.15 389.10,660.48 388.81,660.78 388.52,661.06 388.23,661.31 387.94,661.53 387.65,661.71 387.36,661.86 387.07,661.97 386.78,662.05 386.49,662.09 386.20,662.10 386.02,661.83 385.84,661.57 385.66,661.31 385.48,661.05 385.30,660.80 385.12,660.55 384.94,660.30 384.76,660.05 384.58,659.81 384.40,659.58 384.22,659.34 384.04,659.11 383.86,658.89 383.68,658.66 383.50,658.44 383.32,658.23 383.14,658.02 382.96,657.81 382.78,657.61 382.60,657.41 382.42,657.21 382.24,657.02 382.06,656.84 381.88,656.66 381.70,656.48 381.52,656.31 381.34,656.15 381.16,655.99 380.98,655.84 380.80,655.69 380.62,655.55 380.44,655.42 380.26,655.29 380.08,655.17 379.90,655.06 379.72,654.96 379.54,654.95 379.36,654.95 379.18,654.95 379.00,654.95" fill="#d6912b" stroke="#3a3a3a" stroke-width="0.6" stroke-linejoin="round"/>
<circle cx="386.20" cy="654.70" r="1.05" fill="#111"/>
<path d="M379.6 671.10H409.9" stroke="#333" stroke-width="0.8"/>
<polygon points="379.60,670.85 379.85,670.85 380.10,670.85 380.34,670.85 380.59,670.84 380.84,670.75 381.09,670.64 381.33,670.52 381.58,670.40 381.83,670.27 382.08,670.14 382.32,669.99 382.57,669.84 382.82,669.69 383.06,669.53 383.31,669.36 383.56,669.19 383.81,669.02 384.06,668.84 384.30,668.65 384.55,668.46 384.80,668.27 385.05,668.07 385.29,667.87 385.54,667.67 385.79,667.46 386.04,667.24 386.28,667.03 386.53,666.81 386.78,666.58 387.02,666.36 387.27,666.12 387.52,665.89 387.77,665.65 388.01,665.41 388.26,665.17 388.51,664.92 388.76,664.67 389.00,664.42 389.25,664.16 389.50,663.90 389.88,663.91 390.26,663.95 390.63,664.02 391.01,664.13 391.39,664.28 391.77,664.46 392.15,664.67 392.52,664.91 392.90,665.18 393.28,665.48 393.66,665.79 394.04,666.12 394.41,666.47 394.79,666.81 395.17,667.16 395.55,667.51 395.93,667.85 396.30,668.18 396.68,668.49 397.06,668.79 397.44,669.07 397.82,669.33 398.19,669.57 398.57,669.78 398.95,669.98 399.33,670.15 399.71,670.30 400.08,670.44 400.46,670.55 400.84,670.65 401.22,670.74 401.60,670.81 401.97,670.85 402.35,670.85 402.73,670.85 403.11,670.85 403.49,670.85 403.86,670.85 404.24,670.85 404.62,670.85 404.62,671.35 404.24,671.35 403.86,671.35 403.49,671.35 403.11,671.35 402.73,671.35 402.35,671.35 401.97,671.35 401.60,671.39 401.22,671.46 400.84,671.55 400.46,671.65 400.08,671.76 399.71,671.90 399.33,672.05 398.95,672.22 398.57,672.42 398.19,672.63 397.82,672.87 397.44,673.13 397.06,673.41 396.68,673.71 396.30,674.02 395.93,674.35 395.55,674.69 395.17,675.04 394.79,675.39 394.41,675.73 394.04,676.08 393.66,676.41 393.28,676.72 392.90,677.02 392.52,677.29 392.15,677.53 391.77,677.74 391.39,677.92 391.01,678.07 390.63,678.18 390.26,678.25 389.88,678.29 389.50,678.30 389.25,678.04 389.00,677.78 388.76,677.53 388.51,677.28 388.26,677.03 388.01,676.79 387.77,676.55 387.52,676.31 387.27,676.08 387.02,675.84 386.78,675.62 386.53,675.39 386.28,675.17 386.04,674.96 385.79,674.74 385.54,674.53 385.29,674.33 385.05,674.13 384.80,673.93 384.55,673.74 384.30,673.55 384.06,673.36 383.81,673.18 383.56,673.01 383.31,672.84 383.06,672.67 382.82,672.51 382.57,672.36 382.32,672.21 382.08,672.06 381.83,671.93 381.58,671.80 381.33,671.68 381.09,671.56 380.84,671.45 380.59,671.36 380.34,671.35 380.10,671.35 379.85,671.35 379.60,671.35" fill="#d6912b" stroke="#3a3a3a" stroke-width="0.6" stroke-linejoin="round"/>
<circle cx="389.80" cy="671.10" r="1.05" fill="#111"/>
<path d="M379.0 687.40H420.6" stroke="#333" stroke-width="0.8"/>
<polygon points="379.00,687.15 379.21,687.15 379.43,687.15 379.64,687.15 379.85,687.14 380.06,687.05 380.27,686.94 380.49,686.82 380.70,686.70 380.91,686.57 381.12,686.44 381.34,686.29 381.55,686.14 381.76,685.99 381.98,685.83 382.19,685.66 382.40,685.49 382.61,685.32 382.82,685.14 383.04,684.95 383.25,684.76 383.46,684.57 383.68,684.37 383.89,684.17 384.10,683.97 384.31,683.76 384.52,683.54 384.74,683.33 384.95,683.11 385.16,682.88 385.38,682.66 385.59,682.42 385.80,682.19 386.01,681.95 386.23,681.71 386.44,681.47 386.65,681.22 386.86,680.97 387.07,680.72 387.29,680.46 387.50,680.20 387.88,680.21 388.26,680.25 388.63,680.32 389.01,680.43 389.39,680.58 389.77,680.76 390.15,680.97 390.52,681.21 390.90,681.48 391.28,681.78 391.66,682.09 392.04,682.42 392.41,682.77 392.79,683.11 393.17,683.46 393.55,683.81 393.93,684.15 394.30,684.48 394.68,684.79 395.06,685.09 395.44,685.37 395.82,685.63 396.19,685.87 396.57,686.08 396.95,686.28 397.33,686.45 397.71,686.60 398.08,686.74 398.46,686.85 398.84,686.95 399.22,687.04 399.60,687.11 399.97,687.15 400.35,687.15 400.73,687.15 401.11,687.15 401.49,687.15 401.86,687.15 402.24,687.15 402.62,687.15 402.62,687.65 402.24,687.65 401.86,687.65 401.49,687.65 401.11,687.65 400.73,687.65 400.35,687.65 399.97,687.65 399.60,687.69 399.22,687.76 398.84,687.85 398.46,687.95 398.08,688.06 397.71,688.20 397.33,688.35 396.95,688.52 396.57,688.72 396.19,688.93 395.82,689.17 395.44,689.43 395.06,689.71 394.68,690.01 394.30,690.32 393.93,690.65 393.55,690.99 393.17,691.34 392.79,691.69 392.41,692.03 392.04,692.38 391.66,692.71 391.28,693.02 390.90,693.32 390.52,693.59 390.15,693.83 389.77,694.04 389.39,694.22 389.01,694.37 388.63,694.48 388.26,694.55 387.88,694.59 387.50,694.60 387.29,694.34 387.07,694.08 386.86,693.83 386.65,693.58 386.44,693.33 386.23,693.09 386.01,692.85 385.80,692.61 385.59,692.38 385.38,692.14 385.16,691.92 384.95,691.69 384.74,691.47 384.52,691.26 384.31,691.04 384.10,690.83 383.89,690.63 383.68,690.43 383.46,690.23 383.25,690.04 383.04,689.85 382.82,689.66 382.61,689.48 382.40,689.31 382.19,689.14 381.98,688.97 381.76,688.81 381.55,688.66 381.34,688.51 381.12,688.36 380.91,688.23 380.70,688.10 380.49,687.98 380.27,687.86 380.06,687.75 379.85,687.66 379.64,687.65 379.43,687.65 379.21,687.65 379.00,687.65" fill="#d6912b" stroke="#3a3a3a" stroke-width="0.6" stroke-linejoin="round"/>
<circle cx="387.20" cy="687.40" r="1.05" fill="#111"/>
<path d="M381.0 703.90H415.8" stroke="#333" stroke-width="0.8"/>
<polygon points="381.00,703.65 381.23,703.65 381.46,703.65 381.69,703.65 381.92,703.63 382.15,703.52 382.38,703.41 382.61,703.28 382.84,703.15 383.07,703.01 383.30,702.87 383.53,702.72 383.76,702.56 383.99,702.39 384.22,702.22 384.45,702.04 384.68,701.86 384.91,701.67 385.14,701.48 385.37,701.28 385.60,701.08 385.83,700.88 386.06,700.66 386.29,700.45 386.52,700.23 386.75,700.00 386.98,699.78 387.21,699.55 387.44,699.31 387.67,699.07 387.90,698.83 388.13,698.58 388.36,698.33 388.59,698.07 388.82,697.82 389.05,697.56 389.28,697.29 389.51,697.02 389.74,696.75 389.97,696.48 390.20,696.20 390.53,696.21 390.86,696.26 391.19,696.33 391.52,696.45 391.85,696.60 392.18,696.80 392.52,697.02 392.85,697.28 393.18,697.57 393.51,697.89 393.84,698.23 394.17,698.58 394.50,698.94 394.83,699.32 395.16,699.69 395.49,700.06 395.82,700.42 396.15,700.78 396.48,701.11 396.81,701.43 397.15,701.73 397.48,702.01 397.81,702.26 398.14,702.49 398.47,702.70 398.80,702.88 399.13,703.05 399.46,703.19 399.79,703.31 400.12,703.42 400.45,703.51 400.78,703.59 401.11,703.65 401.45,703.65 401.78,703.65 402.11,703.65 402.44,703.65 402.77,703.65 403.10,703.65 403.43,703.65 403.43,704.15 403.10,704.15 402.77,704.15 402.44,704.15 402.11,704.15 401.78,704.15 401.45,704.15 401.11,704.15 400.78,704.21 400.45,704.29 400.12,704.38 399.79,704.49 399.46,704.61 399.13,704.75 398.80,704.92 398.47,705.10 398.14,705.31 397.81,705.54 397.48,705.79 397.15,706.07 396.81,706.37 396.48,706.69 396.15,707.02 395.82,707.38 395.49,707.74 395.16,708.11 394.83,708.48 394.50,708.86 394.17,709.22 393.84,709.57 393.51,709.91 393.18,710.23 392.85,710.52 392.52,710.78 392.18,711.00 391.85,711.20 391.52,711.35 391.19,711.47 390.86,711.54 390.53,711.59 390.20,711.60 389.97,711.32 389.74,711.05 389.51,710.78 389.28,710.51 389.05,710.24 388.82,709.98 388.59,709.73 388.36,709.47 388.13,709.22 387.90,708.97 387.67,708.73 387.44,708.49 387.21,708.25 386.98,708.02 386.75,707.80 386.52,707.57 386.29,707.35 386.06,707.14 385.83,706.92 385.60,706.72 385.37,706.52 385.14,706.32 384.91,706.13 384.68,705.94 384.45,705.76 384.22,705.58 383.99,705.41 383.76,705.24 383.53,705.08 383.30,704.93 383.07,704.79 382.84,704.65 382.61,704.52 382.38,704.39 382.15,704.28 381.92,704.17 381.69,704.15 381.46,704.15 381.23,704.15 381.00,704.15" fill="#d6912b" stroke="#3a3a3a" stroke-width="0.6" stroke-linejoin="round"/>
<circle cx="389.80" cy="703.90" r="1.05" fill="#111"/>
<path d="M388.2 613.9V661.7M390.4 664.7V711.8" stroke="#222" stroke-width="0.7"/>
<path d="M421.3 622.20H456.8" stroke="#333" stroke-width="0.8"/>
<polygon points="421.30,621.95 421.55,621.95 421.79,621.95 422.04,621.95 422.28,621.93 422.53,621.83 422.77,621.71 423.01,621.59 423.26,621.46 423.50,621.33 423.75,621.18 424.00,621.03 424.24,620.87 424.49,620.71 424.73,620.54 424.98,620.37 425.22,620.19 425.47,620.00 425.71,619.81 425.96,619.62 426.20,619.42 426.44,619.21 426.69,619.01 426.94,618.79 427.18,618.58 427.43,618.36 427.67,618.13 427.92,617.90 428.16,617.67 428.41,617.43 428.65,617.19 428.90,616.95 429.14,616.70 429.39,616.45 429.63,616.20 429.88,615.94 430.12,615.68 430.37,615.41 430.61,615.14 430.86,614.87 431.10,614.60 431.55,614.61 431.99,614.65 432.44,614.73 432.88,614.85 433.33,615.00 433.77,615.19 434.22,615.41 434.66,615.67 435.11,615.95 435.56,616.27 436.00,616.60 436.45,616.95 436.89,617.31 437.34,617.68 437.78,618.05 438.23,618.41 438.67,618.77 439.12,619.12 439.56,619.45 440.01,619.76 440.46,620.06 440.90,620.33 441.35,620.58 441.79,620.81 442.24,621.01 442.68,621.20 443.13,621.36 443.57,621.50 444.02,621.62 444.47,621.73 444.91,621.81 445.36,621.89 445.80,621.95 446.25,621.95 446.69,621.95 447.14,621.95 447.58,621.95 448.03,621.95 448.47,621.95 448.92,621.95 448.92,622.45 448.47,622.45 448.03,622.45 447.58,622.45 447.14,622.45 446.69,622.45 446.25,622.45 445.80,622.45 445.36,622.51 444.91,622.59 444.47,622.67 444.02,622.78 443.57,622.90 443.13,623.04 442.68,623.20 442.24,623.39 441.79,623.59 441.35,623.82 440.90,624.07 440.46,624.34 440.01,624.64 439.56,624.95 439.12,625.28 438.67,625.63 438.23,625.99 437.78,626.35 437.34,626.72 436.89,627.09 436.45,627.45 436.00,627.80 435.56,628.13 435.11,628.45 434.66,628.73 434.22,628.99 433.77,629.21 433.33,629.40 432.88,629.55 432.44,629.67 431.99,629.75 431.55,629.79 431.10,629.80 430.86,629.53 430.61,629.26 430.37,628.99 430.12,628.72 429.88,628.46 429.63,628.20 429.39,627.95 429.14,627.70 428.90,627.45 428.65,627.21 428.41,626.97 428.16,626.73 427.92,626.50 427.67,626.27 427.43,626.04 427.18,625.82 426.94,625.61 426.69,625.39 426.44,625.19 426.20,624.98 425.96,624.78 425.71,624.59 425.47,624.40 425.22,624.21 424.98,624.03 424.73,623.86 424.49,623.69 424.24,623.53 424.00,623.37 423.75,623.22 423.50,623.07 423.26,622.94 423.01,622.81 422.77,622.69 422.53,622.57 422.28,622.47 422.04,622.45 421.79,622.45 421.55,622.45 421.30,622.45" fill="#6aab45" stroke="#3a3a3a" stroke-width="0.6" stroke-linejoin="round"/>
<circle cx="431.10" cy="622.20" r="1.05" fill="#111"/>
<path d="M421.3 638.50H449.5" stroke="#333" stroke-width="0.8"/>
<polygon points="421.30,638.25 421.48,638.25 421.66,638.25 421.84,638.25 422.02,638.25 422.20,638.16 422.38,638.05 422.56,637.94 422.74,637.82 422.92,637.70 423.10,637.56 423.28,637.42 423.46,637.28 423.64,637.13 423.82,636.97 424.00,636.81 424.18,636.65 424.36,636.48 424.54,636.30 424.72,636.12 424.90,635.94 425.08,635.75 425.26,635.56 425.44,635.36 425.62,635.16 425.80,634.96 425.98,634.75 426.16,634.54 426.34,634.33 426.52,634.11 426.70,633.89 426.88,633.66 427.06,633.44 427.24,633.20 427.42,632.97 427.60,632.73 427.78,632.49 427.96,632.25 428.14,632.00 428.32,631.75 428.50,631.50 428.72,631.51 428.95,631.55 429.17,631.62 429.39,631.73 429.61,631.87 429.84,632.04 430.06,632.25 430.28,632.48 430.50,632.75 430.73,633.03 430.95,633.34 431.17,633.66 431.40,634.00 431.62,634.33 431.84,634.67 432.06,635.01 432.29,635.34 432.51,635.66 432.73,635.97 432.96,636.25 433.18,636.53 433.40,636.78 433.62,637.01 433.85,637.22 434.07,637.41 434.29,637.58 434.51,637.72 434.74,637.85 434.96,637.97 435.18,638.06 435.41,638.15 435.63,638.21 435.85,638.25 436.07,638.25 436.30,638.25 436.52,638.25 436.74,638.25 436.96,638.25 437.19,638.25 437.41,638.25 437.41,638.75 437.19,638.75 436.96,638.75 436.74,638.75 436.52,638.75 436.30,638.75 436.07,638.75 435.85,638.75 435.63,638.79 435.41,638.85 435.18,638.94 434.96,639.03 434.74,639.15 434.51,639.28 434.29,639.42 434.07,639.59 433.85,639.78 433.62,639.99 433.40,640.22 433.18,640.47 432.96,640.75 432.73,641.03 432.51,641.34 432.29,641.66 432.06,641.99 431.84,642.33 431.62,642.67 431.40,643.00 431.17,643.34 430.95,643.66 430.73,643.97 430.50,644.25 430.28,644.52 430.06,644.75 429.84,644.96 429.61,645.13 429.39,645.27 429.17,645.38 428.95,645.45 428.72,645.49 428.50,645.50 428.32,645.25 428.14,645.00 427.96,644.75 427.78,644.51 427.60,644.27 427.42,644.03 427.24,643.80 427.06,643.56 426.88,643.34 426.70,643.11 426.52,642.89 426.34,642.67 426.16,642.46 425.98,642.25 425.80,642.04 425.62,641.84 425.44,641.64 425.26,641.44 425.08,641.25 424.90,641.06 424.72,640.88 424.54,640.70 424.36,640.52 424.18,640.35 424.00,640.19 423.82,640.03 423.64,639.87 423.46,639.72 423.28,639.58 423.10,639.44 422.92,639.30 422.74,639.18 422.56,639.06 422.38,638.95 422.20,638.84 422.02,638.75 421.84,638.75 421.66,638.75 421.48,638.75 421.30,638.75" fill="#6aab45" stroke="#3a3a3a" stroke-width="0.6" stroke-linejoin="round"/>
<circle cx="428.50" cy="638.50" r="1.05" fill="#111"/>
<path d="M421.3 654.70H452.8" stroke="#333" stroke-width="0.8"/>
<polygon points="421.30,654.45 421.55,654.45 421.79,654.45 422.04,654.45 422.28,654.44 422.53,654.34 422.77,654.23 423.01,654.11 423.26,653.98 423.50,653.85 423.75,653.71 424.00,653.56 424.24,653.41 424.49,653.25 424.73,653.09 424.98,652.92 425.22,652.74 425.47,652.56 425.71,652.38 425.96,652.19 426.20,651.99 426.44,651.79 426.69,651.59 426.94,651.38 427.18,651.17 427.43,650.96 427.67,650.74 427.92,650.51 428.16,650.29 428.41,650.06 428.65,649.82 428.90,649.59 429.14,649.35 429.39,649.10 429.63,648.85 429.88,648.60 430.12,648.35 430.37,648.09 430.61,647.83 430.86,647.57 431.10,647.30 431.37,647.31 431.63,647.35 431.90,647.43 432.17,647.54 432.43,647.69 432.70,647.87 432.97,648.09 433.23,648.34 433.50,648.62 433.77,648.92 434.03,649.25 434.30,649.59 434.57,649.94 434.83,650.30 435.10,650.65 435.37,651.01 435.63,651.36 435.90,651.70 436.17,652.02 436.43,652.33 436.70,652.61 436.97,652.88 437.23,653.12 437.50,653.35 437.77,653.55 438.03,653.72 438.30,653.88 438.57,654.02 438.83,654.14 439.10,654.24 439.37,654.33 439.63,654.40 439.90,654.45 440.17,654.45 440.43,654.45 440.70,654.45 440.97,654.45 441.23,654.45 441.50,654.45 441.76,654.45 441.76,654.95 441.50,654.95 441.23,654.95 440.97,654.95 440.70,654.95 440.43,654.95 440.17,654.95 439.90,654.95 439.63,655.00 439.37,655.07 439.10,655.16 438.83,655.26 438.57,655.38 438.30,655.52 438.03,655.68 437.77,655.85 437.50,656.05 437.23,656.28 436.97,656.52 436.70,656.79 436.43,657.07 436.17,657.38 435.90,657.70 435.63,658.04 435.37,658.39 435.10,658.75 434.83,659.10 434.57,659.46 434.30,659.81 434.03,660.15 433.77,660.48 433.50,660.78 433.23,661.06 432.97,661.31 432.70,661.53 432.43,661.71 432.17,661.86 431.90,661.97 431.63,662.05 431.37,662.09 431.10,662.10 430.86,661.83 430.61,661.57 430.37,661.31 430.12,661.05 429.88,660.80 429.63,660.55 429.39,660.30 429.14,660.05 428.90,659.81 428.65,659.58 428.41,659.34 428.16,659.11 427.92,658.89 427.67,658.66 427.43,658.44 427.18,658.23 426.94,658.02 426.69,657.81 426.44,657.61 426.20,657.41 425.96,657.21 425.71,657.02 425.47,656.84 425.22,656.66 424.98,656.48 424.73,656.31 424.49,656.15 424.24,655.99 424.00,655.84 423.75,655.69 423.50,655.55 423.26,655.42 423.01,655.29 422.77,655.17 422.53,655.06 422.28,654.96 422.04,654.95 421.79,654.95 421.55,654.95 421.30,654.95" fill="#6aab45" stroke="#3a3a3a" stroke-width="0.6" stroke-linejoin="round"/>
<circle cx="430.70" cy="654.70" r="1.05" fill="#111"/>
<path d="M423.3 671.10H455.4" stroke="#333" stroke-width="0.8"/>
<polygon points="423.30,670.85 423.55,670.85 423.79,670.85 424.04,670.85 424.28,670.84 424.53,670.74 424.77,670.63 425.01,670.51 425.26,670.38 425.50,670.25 425.75,670.11 426.00,669.96 426.24,669.81 426.49,669.65 426.73,669.49 426.98,669.32 427.22,669.14 427.47,668.96 427.71,668.78 427.96,668.59 428.20,668.39 428.44,668.19 428.69,667.99 428.94,667.78 429.18,667.57 429.43,667.36 429.67,667.14 429.92,666.91 430.16,666.69 430.41,666.46 430.65,666.22 430.90,665.99 431.14,665.75 431.39,665.50 431.63,665.25 431.88,665.00 432.12,664.75 432.37,664.49 432.61,664.23 432.86,663.97 433.10,663.70 433.54,663.71 433.98,663.75 434.43,663.83 434.87,663.94 435.31,664.09 435.75,664.27 436.19,664.49 436.64,664.74 437.08,665.02 437.52,665.32 437.96,665.65 438.41,665.99 438.85,666.34 439.29,666.70 439.73,667.05 440.17,667.41 440.62,667.76 441.06,668.10 441.50,668.42 441.94,668.73 442.38,669.01 442.83,669.28 443.27,669.52 443.71,669.75 444.15,669.95 444.60,670.12 445.04,670.28 445.48,670.42 445.92,670.54 446.36,670.64 446.81,670.73 447.25,670.80 447.69,670.85 448.13,670.85 448.57,670.85 449.02,670.85 449.46,670.85 449.90,670.85 450.34,670.85 450.78,670.85 450.78,671.35 450.34,671.35 449.90,671.35 449.46,671.35 449.02,671.35 448.57,671.35 448.13,671.35 447.69,671.35 447.25,671.40 446.81,671.47 446.36,671.56 445.92,671.66 445.48,671.78 445.04,671.92 444.60,672.08 444.15,672.25 443.71,672.45 443.27,672.68 442.83,672.92 442.38,673.19 441.94,673.47 441.50,673.78 441.06,674.10 440.62,674.44 440.17,674.79 439.73,675.15 439.29,675.50 438.85,675.86 438.41,676.21 437.96,676.55 437.52,676.88 437.08,677.18 436.64,677.46 436.19,677.71 435.75,677.93 435.31,678.11 434.87,678.26 434.43,678.37 433.98,678.45 433.54,678.49 433.10,678.50 432.86,678.23 432.61,677.97 432.37,677.71 432.12,677.45 431.88,677.20 431.63,676.95 431.39,676.70 431.14,676.45 430.90,676.21 430.65,675.98 430.41,675.74 430.16,675.51 429.92,675.29 429.67,675.06 429.43,674.84 429.18,674.63 428.94,674.42 428.69,674.21 428.44,674.01 428.20,673.81 427.96,673.61 427.71,673.42 427.47,673.24 427.22,673.06 426.98,672.88 426.73,672.71 426.49,672.55 426.24,672.39 426.00,672.24 425.75,672.09 425.50,671.95 425.26,671.82 425.01,671.69 424.77,671.57 424.53,671.46 424.28,671.36 424.04,671.35 423.79,671.35 423.55,671.35 423.30,671.35" fill="#6aab45" stroke="#3a3a3a" stroke-width="0.6" stroke-linejoin="round"/>
<circle cx="433.80" cy="671.10" r="1.05" fill="#111"/>
<path d="M422.0 687.40H462.7" stroke="#333" stroke-width="0.8"/>
<polygon points="422.00,687.15 422.19,687.15 422.39,687.15 422.58,687.15 422.78,687.14 422.98,687.05 423.17,686.94 423.37,686.82 423.56,686.70 423.75,686.57 423.95,686.44 424.14,686.29 424.34,686.14 424.54,685.99 424.73,685.83 424.93,685.66 425.12,685.49 425.31,685.32 425.51,685.14 425.70,684.95 425.90,684.76 426.10,684.57 426.29,684.37 426.49,684.17 426.68,683.97 426.88,683.76 427.07,683.54 427.26,683.33 427.46,683.11 427.66,682.88 427.85,682.66 428.05,682.42 428.24,682.19 428.44,681.95 428.63,681.71 428.82,681.47 429.02,681.22 429.22,680.97 429.41,680.72 429.61,680.46 429.80,680.20 430.25,680.21 430.69,680.25 431.14,680.32 431.58,680.43 432.03,680.58 432.47,680.76 432.92,680.97 433.36,681.21 433.81,681.48 434.25,681.78 434.70,682.09 435.15,682.42 435.59,682.77 436.04,683.11 436.48,683.46 436.93,683.81 437.37,684.15 437.82,684.48 438.26,684.79 438.71,685.09 439.16,685.37 439.60,685.63 440.05,685.87 440.49,686.08 440.94,686.28 441.38,686.45 441.83,686.60 442.27,686.74 442.72,686.85 443.17,686.95 443.61,687.04 444.06,687.11 444.50,687.15 444.95,687.15 445.39,687.15 445.84,687.15 446.28,687.15 446.73,687.15 447.17,687.15 447.62,687.15 447.62,687.65 447.17,687.65 446.73,687.65 446.28,687.65 445.84,687.65 445.39,687.65 444.95,687.65 444.50,687.65 444.06,687.69 443.61,687.76 443.17,687.85 442.72,687.95 442.27,688.06 441.83,688.20 441.38,688.35 440.94,688.52 440.49,688.72 440.05,688.93 439.60,689.17 439.16,689.43 438.71,689.71 438.26,690.01 437.82,690.32 437.37,690.65 436.93,690.99 436.48,691.34 436.04,691.69 435.59,692.03 435.15,692.38 434.70,692.71 434.25,693.02 433.81,693.32 433.36,693.59 432.92,693.83 432.47,694.04 432.03,694.22 431.58,694.37 431.14,694.48 430.69,694.55 430.25,694.59 429.80,694.60 429.61,694.34 429.41,694.08 429.22,693.83 429.02,693.58 428.82,693.33 428.63,693.09 428.44,692.85 428.24,692.61 428.05,692.38 427.85,692.14 427.66,691.92 427.46,691.69 427.26,691.47 427.07,691.26 426.88,691.04 426.68,690.83 426.49,690.63 426.29,690.43 426.10,690.23 425.90,690.04 425.70,689.85 425.51,689.66 425.31,689.48 425.12,689.31 424.93,689.14 424.73,688.97 424.54,688.81 424.34,688.66 424.14,688.51 423.95,688.36 423.75,688.23 423.56,688.10 423.37,687.98 423.17,687.86 422.98,687.75 422.78,687.66 422.58,687.65 422.39,687.65 422.19,687.65 422.00,687.65" fill="#6aab45" stroke="#3a3a3a" stroke-width="0.6" stroke-linejoin="round"/>
<circle cx="430.50" cy="687.40" r="1.05" fill="#111"/>
<path d="M424.6 703.90H457.4" stroke="#333" stroke-width="0.8"/>
<polygon points="424.60,703.65 424.83,703.65 425.06,703.65 425.29,703.65 425.52,703.63 425.75,703.52 425.98,703.41 426.21,703.28 426.44,703.15 426.67,703.01 426.90,702.87 427.13,702.72 427.36,702.56 427.59,702.39 427.82,702.22 428.05,702.04 428.28,701.86 428.51,701.67 428.74,701.48 428.97,701.28 429.20,701.08 429.43,700.88 429.66,700.66 429.89,700.45 430.12,700.23 430.35,700.00 430.58,699.78 430.81,699.55 431.04,699.31 431.27,699.07 431.50,698.83 431.73,698.58 431.96,698.33 432.19,698.07 432.42,697.82 432.65,697.56 432.88,697.29 433.11,697.02 433.34,696.75 433.57,696.48 433.80,696.20 434.15,696.21 434.51,696.26 434.86,696.33 435.22,696.45 435.57,696.60 435.93,696.80 436.28,697.02 436.63,697.28 436.99,697.57 437.34,697.89 437.70,698.23 438.05,698.58 438.41,698.94 438.76,699.32 439.12,699.69 439.47,700.06 439.82,700.42 440.18,700.78 440.53,701.11 440.89,701.43 441.24,701.73 441.60,702.01 441.95,702.26 442.31,702.49 442.66,702.70 443.01,702.88 443.37,703.05 443.72,703.19 444.08,703.31 444.43,703.42 444.79,703.51 445.14,703.59 445.49,703.65 445.85,703.65 446.20,703.65 446.56,703.65 446.91,703.65 447.27,703.65 447.62,703.65 447.98,703.65 447.98,704.15 447.62,704.15 447.27,704.15 446.91,704.15 446.56,704.15 446.20,704.15 445.85,704.15 445.49,704.15 445.14,704.21 444.79,704.29 444.43,704.38 444.08,704.49 443.72,704.61 443.37,704.75 443.01,704.92 442.66,705.10 442.31,705.31 441.95,705.54 441.60,705.79 441.24,706.07 440.89,706.37 440.53,706.69 440.18,707.02 439.82,707.38 439.47,707.74 439.12,708.11 438.76,708.48 438.41,708.86 438.05,709.22 437.70,709.57 437.34,709.91 436.99,710.23 436.63,710.52 436.28,710.78 435.93,711.00 435.57,711.20 435.22,711.35 434.86,711.47 434.51,711.54 434.15,711.59 433.80,711.60 433.57,711.32 433.34,711.05 433.11,710.78 432.88,710.51 432.65,710.24 432.42,709.98 432.19,709.73 431.96,709.47 431.73,709.22 431.50,708.97 431.27,708.73 431.04,708.49 430.81,708.25 430.58,708.02 430.35,707.80 430.12,707.57 429.89,707.35 429.66,707.14 429.43,706.92 429.20,706.72 428.97,706.52 428.74,706.32 428.51,706.13 428.28,705.94 428.05,705.76 427.82,705.58 427.59,705.41 427.36,705.24 427.13,705.08 426.90,704.93 426.67,704.79 426.44,704.65 426.21,704.52 425.98,704.39 425.75,704.28 425.52,704.17 425.29,704.15 425.06,704.15 424.83,704.15 424.60,704.15" fill="#6aab45" stroke="#3a3a3a" stroke-width="0.6" stroke-linejoin="round"/>
<circle cx="434.40" cy="703.90" r="1.05" fill="#111"/>
<path d="M431.1 613.9V661.7M433.4 664.7V711.8" stroke="#222" stroke-width="0.7"/>
<path d="M464.0 622.20H505.4" stroke="#333" stroke-width="0.8"/>
<polygon points="464.00,621.95 464.21,621.95 464.43,621.95 464.64,621.95 464.85,621.93 465.06,621.83 465.27,621.71 465.49,621.59 465.70,621.46 465.91,621.33 466.12,621.18 466.34,621.03 466.55,620.87 466.76,620.71 466.98,620.54 467.19,620.37 467.40,620.19 467.61,620.00 467.82,619.81 468.04,619.62 468.25,619.42 468.46,619.21 468.68,619.01 468.89,618.79 469.10,618.58 469.31,618.36 469.52,618.13 469.74,617.90 469.95,617.67 470.16,617.43 470.38,617.19 470.59,616.95 470.80,616.70 471.01,616.45 471.23,616.20 471.44,615.94 471.65,615.68 471.86,615.41 472.07,615.14 472.29,614.87 472.50,614.60 472.83,614.61 473.17,614.65 473.50,614.73 473.84,614.85 474.17,615.00 474.50,615.19 474.84,615.41 475.17,615.67 475.51,615.95 475.84,616.27 476.18,616.60 476.51,616.95 476.84,617.31 477.18,617.68 477.51,618.05 477.85,618.41 478.18,618.77 478.51,619.12 478.85,619.45 479.18,619.76 479.52,620.06 479.85,620.33 480.18,620.58 480.52,620.81 480.85,621.01 481.19,621.20 481.52,621.36 481.86,621.50 482.19,621.62 482.52,621.73 482.86,621.81 483.19,621.89 483.53,621.95 483.86,621.95 484.19,621.95 484.53,621.95 484.86,621.95 485.20,621.95 485.53,621.95 485.86,621.95 485.86,622.45 485.53,622.45 485.20,622.45 484.86,622.45 484.53,622.45 484.19,622.45 483.86,622.45 483.53,622.45 483.19,622.51 482.86,622.59 482.52,622.67 482.19,622.78 481.86,622.90 481.52,623.04 481.19,623.20 480.85,623.39 480.52,623.59 480.18,623.82 479.85,624.07 479.52,624.34 479.18,624.64 478.85,624.95 478.51,625.28 478.18,625.63 477.85,625.99 477.51,626.35 477.18,626.72 476.84,627.09 476.51,627.45 476.18,627.80 475.84,628.13 475.51,628.45 475.17,628.73 474.84,628.99 474.50,629.21 474.17,629.40 473.84,629.55 473.50,629.67 473.17,629.75 472.83,629.79 472.50,629.80 472.29,629.53 472.07,629.26 471.86,628.99 471.65,628.72 471.44,628.46 471.23,628.20 471.01,627.95 470.80,627.70 470.59,627.45 470.38,627.21 470.16,626.97 469.95,626.73 469.74,626.50 469.52,626.27 469.31,626.04 469.10,625.82 468.89,625.61 468.68,625.39 468.46,625.19 468.25,624.98 468.04,624.78 467.82,624.59 467.61,624.40 467.40,624.21 467.19,624.03 466.98,623.86 466.76,623.69 466.55,623.53 466.34,623.37 466.12,623.22 465.91,623.07 465.70,622.94 465.49,622.81 465.27,622.69 465.06,622.57 464.85,622.47 464.64,622.45 464.43,622.45 464.21,622.45 464.00,622.45" fill="#1aad5c" stroke="#3a3a3a" stroke-width="0.6" stroke-linejoin="round"/>
<circle cx="472.50" cy="622.20" r="1.05" fill="#111"/>
<path d="M463.7 638.50H484.4" stroke="#333" stroke-width="0.8"/>
<polygon points="463.70,638.25 463.84,638.25 463.97,638.25 464.11,638.25 464.25,638.25 464.39,638.16 464.52,638.05 464.66,637.94 464.80,637.82 464.94,637.70 465.07,637.56 465.21,637.42 465.35,637.28 465.49,637.13 465.62,636.97 465.76,636.81 465.90,636.65 466.04,636.48 466.18,636.30 466.31,636.12 466.45,635.94 466.59,635.75 466.72,635.56 466.86,635.36 467.00,635.16 467.14,634.96 467.27,634.75 467.41,634.54 467.55,634.33 467.69,634.11 467.82,633.89 467.96,633.66 468.10,633.44 468.24,633.20 468.38,632.97 468.51,632.73 468.65,632.49 468.79,632.25 468.93,632.00 469.06,631.75 469.20,631.50 469.42,631.51 469.65,631.55 469.87,631.62 470.09,631.73 470.31,631.87 470.54,632.04 470.76,632.25 470.98,632.48 471.20,632.75 471.43,633.03 471.65,633.34 471.87,633.66 472.10,634.00 472.32,634.33 472.54,634.67 472.76,635.01 472.99,635.34 473.21,635.66 473.43,635.97 473.66,636.25 473.88,636.53 474.10,636.78 474.32,637.01 474.55,637.22 474.77,637.41 474.99,637.58 475.21,637.72 475.44,637.85 475.66,637.97 475.88,638.06 476.11,638.15 476.33,638.21 476.55,638.25 476.77,638.25 477.00,638.25 477.22,638.25 477.44,638.25 477.66,638.25 477.89,638.25 478.11,638.25 478.11,638.75 477.89,638.75 477.66,638.75 477.44,638.75 477.22,638.75 477.00,638.75 476.77,638.75 476.55,638.75 476.33,638.79 476.11,638.85 475.88,638.94 475.66,639.03 475.44,639.15 475.21,639.28 474.99,639.42 474.77,639.59 474.55,639.78 474.32,639.99 474.10,640.22 473.88,640.47 473.66,640.75 473.43,641.03 473.21,641.34 472.99,641.66 472.76,641.99 472.54,642.33 472.32,642.67 472.10,643.00 471.87,643.34 471.65,643.66 471.43,643.97 471.20,644.25 470.98,644.52 470.76,644.75 470.54,644.96 470.31,645.13 470.09,645.27 469.87,645.38 469.65,645.45 469.42,645.49 469.20,645.50 469.06,645.25 468.93,645.00 468.79,644.75 468.65,644.51 468.51,644.27 468.38,644.03 468.24,643.80 468.10,643.56 467.96,643.34 467.82,643.11 467.69,642.89 467.55,642.67 467.41,642.46 467.27,642.25 467.14,642.04 467.00,641.84 466.86,641.64 466.72,641.44 466.59,641.25 466.45,641.06 466.31,640.88 466.18,640.70 466.04,640.52 465.90,640.35 465.76,640.19 465.62,640.03 465.49,639.87 465.35,639.72 465.21,639.58 465.07,639.44 464.94,639.30 464.80,639.18 464.66,639.06 464.52,638.95 464.39,638.84 464.25,638.75 464.11,638.75 463.97,638.75 463.84,638.75 463.70,638.75" fill="#1aad5c" stroke="#3a3a3a" stroke-width="0.6" stroke-linejoin="round"/>
<circle cx="468.60" cy="638.50" r="1.05" fill="#111"/>
<path d="M463.3 654.70H489.0" stroke="#333" stroke-width="0.8"/>
<polygon points="463.30,654.45 463.50,654.45 463.71,654.45 463.92,654.45 464.12,654.43 464.32,654.33 464.53,654.22 464.74,654.10 464.94,653.97 465.14,653.84 465.35,653.70 465.56,653.55 465.76,653.39 465.97,653.23 466.17,653.06 466.38,652.89 466.58,652.71 466.79,652.53 466.99,652.34 467.19,652.15 467.40,651.95 467.61,651.75 467.81,651.55 468.01,651.34 468.22,651.12 468.43,650.91 468.63,650.68 468.83,650.46 469.04,650.23 469.25,650.00 469.45,649.76 469.66,649.52 469.86,649.27 470.06,649.03 470.27,648.77 470.48,648.52 470.68,648.26 470.88,648.00 471.09,647.74 471.30,647.47 471.50,647.20 471.87,647.21 472.24,647.25 472.60,647.33 472.97,647.44 473.34,647.59 473.71,647.78 474.08,648.00 474.44,648.25 474.81,648.54 475.18,648.84 475.55,649.17 475.91,649.52 476.28,649.87 476.65,650.24 477.02,650.60 477.39,650.96 477.75,651.31 478.12,651.66 478.49,651.98 478.86,652.29 479.23,652.59 479.59,652.86 479.96,653.10 480.33,653.33 480.70,653.53 481.06,653.71 481.43,653.87 481.80,654.01 482.17,654.13 482.54,654.23 482.90,654.32 483.27,654.39 483.64,654.45 484.01,654.45 484.38,654.45 484.74,654.45 485.11,654.45 485.48,654.45 485.85,654.45 486.21,654.45 486.21,654.95 485.85,654.95 485.48,654.95 485.11,654.95 484.74,654.95 484.38,654.95 484.01,654.95 483.64,654.95 483.27,655.01 482.90,655.08 482.54,655.17 482.17,655.27 481.80,655.39 481.43,655.53 481.06,655.69 480.70,655.87 480.33,656.07 479.96,656.30 479.59,656.54 479.23,656.81 478.86,657.11 478.49,657.42 478.12,657.74 477.75,658.09 477.39,658.44 477.02,658.80 476.65,659.16 476.28,659.53 475.91,659.88 475.55,660.23 475.18,660.56 474.81,660.86 474.44,661.15 474.08,661.40 473.71,661.62 473.34,661.81 472.97,661.96 472.60,662.07 472.24,662.15 471.87,662.19 471.50,662.20 471.30,661.93 471.09,661.66 470.88,661.40 470.68,661.14 470.48,660.88 470.27,660.63 470.06,660.37 469.86,660.13 469.66,659.88 469.45,659.64 469.25,659.40 469.04,659.17 468.83,658.94 468.63,658.72 468.43,658.49 468.22,658.28 468.01,658.06 467.81,657.85 467.61,657.65 467.40,657.45 467.19,657.25 466.99,657.06 466.79,656.87 466.58,656.69 466.38,656.51 466.17,656.34 465.97,656.17 465.76,656.01 465.56,655.85 465.35,655.70 465.14,655.56 464.94,655.43 464.74,655.30 464.53,655.18 464.32,655.07 464.12,654.97 463.92,654.95 463.71,654.95 463.50,654.95 463.30,654.95" fill="#1aad5c" stroke="#3a3a3a" stroke-width="0.6" stroke-linejoin="round"/>
<circle cx="473.00" cy="654.70" r="1.05" fill="#111"/>
<path d="M464.6 671.10H499.5" stroke="#333" stroke-width="0.8"/>
<polygon points="464.60,670.85 464.81,670.85 465.03,670.85 465.25,670.85 465.46,670.84 465.68,670.74 465.89,670.63 466.11,670.51 466.32,670.38 466.54,670.25 466.75,670.11 466.97,669.96 467.18,669.81 467.40,669.65 467.61,669.49 467.82,669.32 468.04,669.14 468.25,668.96 468.47,668.78 468.69,668.59 468.90,668.39 469.12,668.19 469.33,667.99 469.55,667.78 469.76,667.57 469.98,667.36 470.19,667.14 470.40,666.91 470.62,666.69 470.83,666.46 471.05,666.22 471.26,665.99 471.48,665.75 471.69,665.50 471.91,665.25 472.12,665.00 472.34,664.75 472.56,664.49 472.77,664.23 472.99,663.97 473.20,663.70 473.55,663.71 473.91,663.75 474.26,663.83 474.62,663.94 474.97,664.09 475.33,664.27 475.68,664.49 476.03,664.74 476.39,665.02 476.74,665.32 477.10,665.65 477.45,665.99 477.81,666.34 478.16,666.70 478.52,667.05 478.87,667.41 479.22,667.76 479.58,668.10 479.93,668.42 480.29,668.73 480.64,669.01 481.00,669.28 481.35,669.52 481.70,669.75 482.06,669.95 482.41,670.12 482.77,670.28 483.12,670.42 483.48,670.54 483.83,670.64 484.19,670.73 484.54,670.80 484.89,670.85 485.25,670.85 485.60,670.85 485.96,670.85 486.31,670.85 486.67,670.85 487.02,670.85 487.38,670.85 487.38,671.35 487.02,671.35 486.67,671.35 486.31,671.35 485.96,671.35 485.60,671.35 485.25,671.35 484.89,671.35 484.54,671.40 484.19,671.47 483.83,671.56 483.48,671.66 483.12,671.78 482.77,671.92 482.41,672.08 482.06,672.25 481.70,672.45 481.35,672.68 481.00,672.92 480.64,673.19 480.29,673.47 479.93,673.78 479.58,674.10 479.22,674.44 478.87,674.79 478.52,675.15 478.16,675.50 477.81,675.86 477.45,676.21 477.10,676.55 476.74,676.88 476.39,677.18 476.03,677.46 475.68,677.71 475.33,677.93 474.97,678.11 474.62,678.26 474.26,678.37 473.91,678.45 473.55,678.49 473.20,678.50 472.99,678.23 472.77,677.97 472.56,677.71 472.34,677.45 472.12,677.20 471.91,676.95 471.69,676.70 471.48,676.45 471.26,676.21 471.05,675.98 470.83,675.74 470.62,675.51 470.40,675.29 470.19,675.06 469.98,674.84 469.76,674.63 469.55,674.42 469.33,674.21 469.12,674.01 468.90,673.81 468.69,673.61 468.47,673.42 468.25,673.24 468.04,673.06 467.82,672.88 467.61,672.71 467.40,672.55 467.18,672.39 466.97,672.24 466.75,672.09 466.54,671.95 466.32,671.82 466.11,671.69 465.89,671.57 465.68,671.46 465.46,671.36 465.25,671.35 465.03,671.35 464.81,671.35 464.60,671.35" fill="#1aad5c" stroke="#3a3a3a" stroke-width="0.6" stroke-linejoin="round"/>
<circle cx="473.20" cy="671.10" r="1.05" fill="#111"/>
<path d="M464.6 687.40H490.3" stroke="#333" stroke-width="0.8"/>
<polygon points="464.60,687.15 464.73,687.15 464.87,687.15 465.00,687.15 465.13,687.14 465.26,687.05 465.40,686.94 465.53,686.82 465.66,686.70 465.79,686.57 465.93,686.44 466.06,686.29 466.19,686.14 466.32,685.99 466.45,685.83 466.59,685.66 466.72,685.49 466.85,685.32 466.99,685.14 467.12,684.95 467.25,684.76 467.38,684.57 467.51,684.37 467.65,684.17 467.78,683.97 467.91,683.76 468.05,683.54 468.18,683.33 468.31,683.11 468.44,682.88 468.57,682.66 468.71,682.42 468.84,682.19 468.97,681.95 469.10,681.71 469.24,681.47 469.37,681.22 469.50,680.97 469.63,680.72 469.77,680.46 469.90,680.20 470.14,680.21 470.39,680.25 470.63,680.32 470.87,680.43 471.12,680.58 471.36,680.76 471.60,680.97 471.84,681.21 472.09,681.48 472.33,681.78 472.57,682.09 472.82,682.42 473.06,682.77 473.30,683.11 473.55,683.46 473.79,683.81 474.03,684.15 474.27,684.48 474.52,684.79 474.76,685.09 475.00,685.37 475.25,685.63 475.49,685.87 475.73,686.08 475.98,686.28 476.22,686.45 476.46,686.60 476.70,686.74 476.95,686.85 477.19,686.95 477.43,687.04 477.68,687.11 477.92,687.15 478.16,687.15 478.41,687.15 478.65,687.15 478.89,687.15 479.13,687.15 479.38,687.15 479.62,687.15 479.62,687.65 479.38,687.65 479.13,687.65 478.89,687.65 478.65,687.65 478.41,687.65 478.16,687.65 477.92,687.65 477.68,687.69 477.43,687.76 477.19,687.85 476.95,687.95 476.70,688.06 476.46,688.20 476.22,688.35 475.98,688.52 475.73,688.72 475.49,688.93 475.25,689.17 475.00,689.43 474.76,689.71 474.52,690.01 474.27,690.32 474.03,690.65 473.79,690.99 473.55,691.34 473.30,691.69 473.06,692.03 472.82,692.38 472.57,692.71 472.33,693.02 472.09,693.32 471.84,693.59 471.60,693.83 471.36,694.04 471.12,694.22 470.87,694.37 470.63,694.48 470.39,694.55 470.14,694.59 469.90,694.60 469.77,694.34 469.63,694.08 469.50,693.83 469.37,693.58 469.24,693.33 469.10,693.09 468.97,692.85 468.84,692.61 468.71,692.38 468.57,692.14 468.44,691.92 468.31,691.69 468.18,691.47 468.05,691.26 467.91,691.04 467.78,690.83 467.65,690.63 467.51,690.43 467.38,690.23 467.25,690.04 467.12,689.85 466.99,689.66 466.85,689.48 466.72,689.31 466.59,689.14 466.45,688.97 466.32,688.81 466.19,688.66 466.06,688.51 465.93,688.36 465.79,688.23 465.66,688.10 465.53,687.98 465.40,687.86 465.26,687.75 465.13,687.66 465.00,687.65 464.87,687.65 464.73,687.65 464.60,687.65" fill="#1aad5c" stroke="#3a3a3a" stroke-width="0.6" stroke-linejoin="round"/>
<circle cx="469.90" cy="687.40" r="1.05" fill="#111"/>
<path d="M464.6 703.90H501.4" stroke="#333" stroke-width="0.8"/>
<polygon points="464.60,703.65 464.83,703.65 465.06,703.65 465.29,703.65 465.52,703.63 465.75,703.52 465.98,703.41 466.21,703.28 466.44,703.15 466.67,703.01 466.90,702.87 467.13,702.72 467.36,702.56 467.59,702.39 467.82,702.22 468.05,702.04 468.28,701.86 468.51,701.67 468.74,701.48 468.97,701.28 469.20,701.08 469.43,700.88 469.66,700.66 469.89,700.45 470.12,700.23 470.35,700.00 470.58,699.78 470.81,699.55 471.04,699.31 471.27,699.07 471.50,698.83 471.73,698.58 471.96,698.33 472.19,698.07 472.42,697.82 472.65,697.56 472.88,697.29 473.11,697.02 473.34,696.75 473.57,696.48 473.80,696.20 474.11,696.21 474.42,696.26 474.73,696.33 475.04,696.45 475.35,696.60 475.66,696.80 475.97,697.02 476.28,697.28 476.59,697.57 476.91,697.89 477.22,698.23 477.53,698.58 477.84,698.94 478.15,699.32 478.46,699.69 478.77,700.06 479.08,700.42 479.39,700.78 479.70,701.11 480.01,701.43 480.32,701.73 480.63,702.01 480.94,702.26 481.25,702.49 481.56,702.70 481.87,702.88 482.18,703.05 482.49,703.19 482.80,703.31 483.12,703.42 483.43,703.51 483.74,703.59 484.05,703.65 484.36,703.65 484.67,703.65 484.98,703.65 485.29,703.65 485.60,703.65 485.91,703.65 486.22,703.65 486.22,704.15 485.91,704.15 485.60,704.15 485.29,704.15 484.98,704.15 484.67,704.15 484.36,704.15 484.05,704.15 483.74,704.21 483.43,704.29 483.12,704.38 482.80,704.49 482.49,704.61 482.18,704.75 481.87,704.92 481.56,705.10 481.25,705.31 480.94,705.54 480.63,705.79 480.32,706.07 480.01,706.37 479.70,706.69 479.39,707.02 479.08,707.38 478.77,707.74 478.46,708.11 478.15,708.48 477.84,708.86 477.53,709.22 477.22,709.57 476.91,709.91 476.59,710.23 476.28,710.52 475.97,710.78 475.66,711.00 475.35,711.20 475.04,711.35 474.73,711.47 474.42,711.54 474.11,711.59 473.80,711.60 473.57,711.32 473.34,711.05 473.11,710.78 472.88,710.51 472.65,710.24 472.42,709.98 472.19,709.73 471.96,709.47 471.73,709.22 471.50,708.97 471.27,708.73 471.04,708.49 470.81,708.25 470.58,708.02 470.35,707.80 470.12,707.57 469.89,707.35 469.66,707.14 469.43,706.92 469.20,706.72 468.97,706.52 468.74,706.32 468.51,706.13 468.28,705.94 468.05,705.76 467.82,705.58 467.59,705.41 467.36,705.24 467.13,705.08 466.90,704.93 466.67,704.79 466.44,704.65 466.21,704.52 465.98,704.39 465.75,704.28 465.52,704.17 465.29,704.15 465.06,704.15 464.83,704.15 464.60,704.15" fill="#1aad5c" stroke="#3a3a3a" stroke-width="0.6" stroke-linejoin="round"/>
<circle cx="474.50" cy="703.90" r="1.05" fill="#111"/>
<path d="M472.5 613.9V661.7M473.2 664.7V711.8" stroke="#222" stroke-width="0.7"/>
<path d="M506.7 622.20H535.2" stroke="#333" stroke-width="0.8"/>
<polygon points="506.70,621.95 506.80,621.95 506.89,621.95 506.99,621.95 507.09,621.93 507.19,621.83 507.28,621.71 507.38,621.59 507.48,621.46 507.58,621.33 507.68,621.18 507.77,621.03 507.87,620.87 507.97,620.71 508.06,620.54 508.16,620.37 508.26,620.19 508.36,620.00 508.45,619.81 508.55,619.62 508.65,619.42 508.75,619.21 508.85,619.01 508.94,618.79 509.04,618.58 509.14,618.36 509.24,618.13 509.33,617.90 509.43,617.67 509.53,617.43 509.62,617.19 509.72,616.95 509.82,616.70 509.92,616.45 510.02,616.20 510.11,615.94 510.21,615.68 510.31,615.41 510.41,615.14 510.50,614.87 510.60,614.60 510.88,614.61 511.15,614.65 511.43,614.73 511.71,614.85 511.98,615.00 512.26,615.19 512.54,615.41 512.81,615.67 513.09,615.95 513.37,616.27 513.64,616.60 513.92,616.95 514.20,617.31 514.47,617.68 514.75,618.05 515.03,618.41 515.30,618.77 515.58,619.12 515.86,619.45 516.13,619.76 516.41,620.06 516.69,620.33 516.97,620.58 517.24,620.81 517.52,621.01 517.80,621.20 518.07,621.36 518.35,621.50 518.63,621.62 518.90,621.73 519.18,621.81 519.46,621.89 519.73,621.95 520.01,621.95 520.29,621.95 520.56,621.95 520.84,621.95 521.12,621.95 521.39,621.95 521.67,621.95 521.67,622.45 521.39,622.45 521.12,622.45 520.84,622.45 520.56,622.45 520.29,622.45 520.01,622.45 519.73,622.45 519.46,622.51 519.18,622.59 518.90,622.67 518.63,622.78 518.35,622.90 518.07,623.04 517.80,623.20 517.52,623.39 517.24,623.59 516.97,623.82 516.69,624.07 516.41,624.34 516.13,624.64 515.86,624.95 515.58,625.28 515.30,625.63 515.03,625.99 514.75,626.35 514.47,626.72 514.20,627.09 513.92,627.45 513.64,627.80 513.37,628.13 513.09,628.45 512.81,628.73 512.54,628.99 512.26,629.21 511.98,629.40 511.71,629.55 511.43,629.67 511.15,629.75 510.88,629.79 510.60,629.80 510.50,629.53 510.41,629.26 510.31,628.99 510.21,628.72 510.11,628.46 510.02,628.20 509.92,627.95 509.82,627.70 509.72,627.45 509.62,627.21 509.53,626.97 509.43,626.73 509.33,626.50 509.24,626.27 509.14,626.04 509.04,625.82 508.94,625.61 508.85,625.39 508.75,625.19 508.65,624.98 508.55,624.78 508.45,624.59 508.36,624.40 508.26,624.21 508.16,624.03 508.06,623.86 507.97,623.69 507.87,623.53 507.77,623.37 507.68,623.22 507.58,623.07 507.48,622.94 507.38,622.81 507.28,622.69 507.19,622.57 507.09,622.47 506.99,622.45 506.89,622.45 506.80,622.45 506.70,622.45" fill="#1cb8c4" stroke="#3a3a3a" stroke-width="0.6" stroke-linejoin="round"/>
<circle cx="511.90" cy="622.20" r="1.05" fill="#111"/>
<path d="M507.0 638.50H542.4" stroke="#333" stroke-width="0.8"/>
<polygon points="507.00,638.25 507.15,638.25 507.30,638.25 507.44,638.25 507.59,638.24 507.74,638.14 507.88,638.03 508.03,637.91 508.18,637.78 508.33,637.65 508.48,637.51 508.62,637.36 508.77,637.21 508.92,637.05 509.06,636.89 509.21,636.72 509.36,636.54 509.51,636.36 509.65,636.18 509.80,635.99 509.95,635.79 510.10,635.59 510.25,635.39 510.39,635.18 510.54,634.97 510.69,634.76 510.83,634.54 510.98,634.31 511.13,634.09 511.28,633.86 511.42,633.62 511.57,633.39 511.72,633.15 511.87,632.90 512.01,632.65 512.16,632.40 512.31,632.15 512.46,631.89 512.61,631.63 512.75,631.37 512.90,631.10 513.27,631.11 513.65,631.15 514.02,631.23 514.40,631.34 514.77,631.49 515.15,631.67 515.52,631.89 515.90,632.14 516.27,632.42 516.65,632.72 517.02,633.05 517.40,633.39 517.77,633.74 518.14,634.10 518.52,634.45 518.89,634.81 519.27,635.16 519.64,635.50 520.02,635.82 520.39,636.13 520.77,636.41 521.14,636.68 521.52,636.92 521.89,637.15 522.27,637.35 522.64,637.52 523.01,637.68 523.39,637.82 523.76,637.94 524.14,638.04 524.51,638.13 524.89,638.20 525.26,638.25 525.64,638.25 526.01,638.25 526.39,638.25 526.76,638.25 527.14,638.25 527.51,638.25 527.88,638.25 527.88,638.75 527.51,638.75 527.14,638.75 526.76,638.75 526.39,638.75 526.01,638.75 525.64,638.75 525.26,638.75 524.89,638.80 524.51,638.87 524.14,638.96 523.76,639.06 523.39,639.18 523.01,639.32 522.64,639.48 522.27,639.65 521.89,639.85 521.52,640.08 521.14,640.32 520.77,640.59 520.39,640.87 520.02,641.18 519.64,641.50 519.27,641.84 518.89,642.19 518.52,642.55 518.14,642.90 517.77,643.26 517.40,643.61 517.02,643.95 516.65,644.28 516.27,644.58 515.90,644.86 515.52,645.11 515.15,645.33 514.77,645.51 514.40,645.66 514.02,645.77 513.65,645.85 513.27,645.89 512.90,645.90 512.75,645.63 512.61,645.37 512.46,645.11 512.31,644.85 512.16,644.60 512.01,644.35 511.87,644.10 511.72,643.85 511.57,643.61 511.42,643.38 511.28,643.14 511.13,642.91 510.98,642.69 510.83,642.46 510.69,642.24 510.54,642.03 510.39,641.82 510.25,641.61 510.10,641.41 509.95,641.21 509.80,641.01 509.65,640.82 509.51,640.64 509.36,640.46 509.21,640.28 509.06,640.11 508.92,639.95 508.77,639.79 508.62,639.64 508.48,639.49 508.33,639.35 508.18,639.22 508.03,639.09 507.88,638.97 507.74,638.86 507.59,638.76 507.44,638.75 507.30,638.75 507.15,638.75 507.00,638.75" fill="#1cb8c4" stroke="#3a3a3a" stroke-width="0.6" stroke-linejoin="round"/>
<circle cx="514.20" cy="638.50" r="1.05" fill="#111"/>
<path d="M506.7 654.70H539.1" stroke="#333" stroke-width="0.8"/>
<polygon points="506.70,654.45 506.81,654.45 506.91,654.45 507.01,654.45 507.12,654.43 507.22,654.33 507.33,654.21 507.44,654.09 507.54,653.96 507.64,653.83 507.75,653.68 507.85,653.53 507.96,653.37 508.06,653.21 508.17,653.04 508.27,652.87 508.38,652.69 508.48,652.50 508.59,652.31 508.69,652.12 508.80,651.92 508.90,651.71 509.01,651.51 509.12,651.29 509.22,651.08 509.32,650.86 509.43,650.63 509.53,650.40 509.64,650.17 509.75,649.93 509.85,649.69 509.95,649.45 510.06,649.20 510.16,648.95 510.27,648.70 510.38,648.44 510.48,648.18 510.58,647.91 510.69,647.64 510.79,647.37 510.90,647.10 511.25,647.11 511.61,647.15 511.96,647.23 512.32,647.35 512.67,647.50 513.03,647.69 513.38,647.91 513.74,648.17 514.09,648.45 514.44,648.77 514.80,649.10 515.15,649.45 515.51,649.81 515.86,650.18 516.22,650.55 516.57,650.91 516.92,651.27 517.28,651.62 517.63,651.95 517.99,652.26 518.34,652.56 518.70,652.83 519.05,653.08 519.40,653.31 519.76,653.51 520.11,653.70 520.47,653.86 520.82,654.00 521.18,654.12 521.53,654.23 521.89,654.31 522.24,654.39 522.59,654.45 522.95,654.45 523.30,654.45 523.66,654.45 524.01,654.45 524.37,654.45 524.72,654.45 525.07,654.45 525.07,654.95 524.72,654.95 524.37,654.95 524.01,654.95 523.66,654.95 523.30,654.95 522.95,654.95 522.59,654.95 522.24,655.01 521.89,655.09 521.53,655.17 521.18,655.28 520.82,655.40 520.47,655.54 520.11,655.70 519.76,655.89 519.40,656.09 519.05,656.32 518.70,656.57 518.34,656.84 517.99,657.14 517.63,657.45 517.28,657.78 516.92,658.13 516.57,658.49 516.22,658.85 515.86,659.22 515.51,659.59 515.15,659.95 514.80,660.30 514.44,660.63 514.09,660.95 513.74,661.23 513.38,661.49 513.03,661.71 512.67,661.90 512.32,662.05 511.96,662.17 511.61,662.25 511.25,662.29 510.90,662.30 510.79,662.03 510.69,661.76 510.58,661.49 510.48,661.22 510.38,660.96 510.27,660.70 510.16,660.45 510.06,660.20 509.95,659.95 509.85,659.71 509.75,659.47 509.64,659.23 509.53,659.00 509.43,658.77 509.32,658.54 509.22,658.32 509.12,658.11 509.01,657.89 508.90,657.69 508.80,657.48 508.69,657.28 508.59,657.09 508.48,656.90 508.38,656.71 508.27,656.53 508.17,656.36 508.06,656.19 507.96,656.03 507.85,655.87 507.75,655.72 507.64,655.57 507.54,655.44 507.44,655.31 507.33,655.19 507.22,655.07 507.12,654.97 507.01,654.95 506.91,654.95 506.81,654.95 506.70,654.95" fill="#1cb8c4" stroke="#3a3a3a" stroke-width="0.6" stroke-linejoin="round"/>
<circle cx="511.90" cy="654.70" r="1.05" fill="#111"/>
<path d="M506.7 671.10H547.7" stroke="#333" stroke-width="0.8"/>
<polygon points="506.70,670.85 506.79,670.85 506.88,670.85 506.96,670.85 507.05,670.83 507.14,670.73 507.22,670.61 507.31,670.49 507.40,670.36 507.49,670.23 507.57,670.08 507.66,669.93 507.75,669.77 507.84,669.61 507.93,669.44 508.01,669.27 508.10,669.09 508.19,668.90 508.27,668.71 508.36,668.52 508.45,668.32 508.54,668.11 508.62,667.91 508.71,667.69 508.80,667.48 508.89,667.26 508.97,667.03 509.06,666.80 509.15,666.57 509.24,666.33 509.32,666.09 509.41,665.85 509.50,665.60 509.59,665.35 509.68,665.10 509.76,664.84 509.85,664.58 509.94,664.31 510.02,664.04 510.11,663.77 510.20,663.50 510.45,663.51 510.69,663.55 510.94,663.63 511.19,663.75 511.43,663.90 511.68,664.09 511.92,664.31 512.17,664.57 512.42,664.85 512.66,665.17 512.91,665.50 513.16,665.85 513.40,666.21 513.65,666.58 513.90,666.95 514.14,667.31 514.39,667.67 514.63,668.02 514.88,668.35 515.13,668.66 515.37,668.96 515.62,669.23 515.87,669.48 516.11,669.71 516.36,669.91 516.61,670.10 516.85,670.26 517.10,670.40 517.34,670.52 517.59,670.63 517.84,670.71 518.08,670.79 518.33,670.85 518.58,670.85 518.82,670.85 519.07,670.85 519.32,670.85 519.56,670.85 519.81,670.85 520.05,670.85 520.05,671.35 519.81,671.35 519.56,671.35 519.32,671.35 519.07,671.35 518.82,671.35 518.58,671.35 518.33,671.35 518.08,671.41 517.84,671.49 517.59,671.57 517.34,671.68 517.10,671.80 516.85,671.94 516.61,672.10 516.36,672.29 516.11,672.49 515.87,672.72 515.62,672.97 515.37,673.24 515.13,673.54 514.88,673.85 514.63,674.18 514.39,674.53 514.14,674.89 513.90,675.25 513.65,675.62 513.40,675.99 513.16,676.35 512.91,676.70 512.66,677.03 512.42,677.35 512.17,677.63 511.92,677.89 511.68,678.11 511.43,678.30 511.19,678.45 510.94,678.57 510.69,678.65 510.45,678.69 510.20,678.70 510.11,678.43 510.02,678.16 509.94,677.89 509.85,677.62 509.76,677.36 509.68,677.10 509.59,676.85 509.50,676.60 509.41,676.35 509.32,676.11 509.24,675.87 509.15,675.63 509.06,675.40 508.97,675.17 508.89,674.94 508.80,674.72 508.71,674.51 508.62,674.29 508.54,674.09 508.45,673.88 508.36,673.68 508.27,673.49 508.19,673.30 508.10,673.11 508.01,672.93 507.93,672.76 507.84,672.59 507.75,672.43 507.66,672.27 507.57,672.12 507.49,671.97 507.40,671.84 507.31,671.71 507.22,671.59 507.14,671.47 507.05,671.37 506.96,671.35 506.88,671.35 506.79,671.35 506.70,671.35" fill="#1cb8c4" stroke="#3a3a3a" stroke-width="0.6" stroke-linejoin="round"/>
<circle cx="511.10" cy="671.10" r="1.05" fill="#111"/>
<path d="M507.0 687.40H541.1" stroke="#333" stroke-width="0.8"/>
<polygon points="507.00,687.15 507.08,687.15 507.16,687.15 507.24,687.15 507.32,687.14 507.40,687.04 507.48,686.93 507.56,686.81 507.64,686.68 507.72,686.55 507.80,686.41 507.88,686.26 507.96,686.11 508.04,685.95 508.12,685.79 508.20,685.62 508.28,685.44 508.36,685.26 508.44,685.08 508.52,684.89 508.60,684.69 508.68,684.49 508.76,684.29 508.84,684.08 508.92,683.87 509.00,683.66 509.08,683.44 509.16,683.21 509.24,682.99 509.32,682.76 509.40,682.52 509.48,682.29 509.56,682.05 509.64,681.80 509.72,681.55 509.80,681.30 509.88,681.05 509.96,680.79 510.04,680.53 510.12,680.27 510.20,680.00 510.49,680.01 510.78,680.05 511.07,680.13 511.36,680.24 511.65,680.39 511.94,680.57 512.23,680.79 512.52,681.04 512.81,681.32 513.10,681.62 513.39,681.95 513.68,682.29 513.97,682.64 514.26,683.00 514.55,683.35 514.84,683.71 515.13,684.06 515.42,684.40 515.71,684.72 516.00,685.03 516.30,685.31 516.59,685.58 516.88,685.82 517.17,686.05 517.46,686.25 517.75,686.42 518.04,686.58 518.33,686.72 518.62,686.84 518.91,686.94 519.20,687.03 519.49,687.10 519.78,687.15 520.07,687.15 520.36,687.15 520.65,687.15 520.94,687.15 521.23,687.15 521.52,687.15 521.81,687.15 521.81,687.65 521.52,687.65 521.23,687.65 520.94,687.65 520.65,687.65 520.36,687.65 520.07,687.65 519.78,687.65 519.49,687.70 519.20,687.77 518.91,687.86 518.62,687.96 518.33,688.08 518.04,688.22 517.75,688.38 517.46,688.55 517.17,688.75 516.88,688.98 516.59,689.22 516.30,689.49 516.00,689.77 515.71,690.08 515.42,690.40 515.13,690.74 514.84,691.09 514.55,691.45 514.26,691.80 513.97,692.16 513.68,692.51 513.39,692.85 513.10,693.18 512.81,693.48 512.52,693.76 512.23,694.01 511.94,694.23 511.65,694.41 511.36,694.56 511.07,694.67 510.78,694.75 510.49,694.79 510.20,694.80 510.12,694.53 510.04,694.27 509.96,694.01 509.88,693.75 509.80,693.50 509.72,693.25 509.64,693.00 509.56,692.75 509.48,692.51 509.40,692.28 509.32,692.04 509.24,691.81 509.16,691.59 509.08,691.36 509.00,691.14 508.92,690.93 508.84,690.72 508.76,690.51 508.68,690.31 508.60,690.11 508.52,689.91 508.44,689.72 508.36,689.54 508.28,689.36 508.20,689.18 508.12,689.01 508.04,688.85 507.96,688.69 507.88,688.54 507.80,688.39 507.72,688.25 507.64,688.12 507.56,687.99 507.48,687.87 507.40,687.76 507.32,687.66 507.24,687.65 507.16,687.65 507.08,687.65 507.00,687.65" fill="#1cb8c4" stroke="#3a3a3a" stroke-width="0.6" stroke-linejoin="round"/>
<circle cx="511.10" cy="687.40" r="1.05" fill="#111"/>
<path d="M506.7 703.90H547.7" stroke="#333" stroke-width="0.8"/>
<polygon points="506.70,703.65 506.84,703.65 506.97,703.65 507.11,703.65 507.25,703.63 507.39,703.52 507.52,703.41 507.66,703.28 507.80,703.15 507.94,703.01 508.07,702.87 508.21,702.72 508.35,702.56 508.49,702.39 508.62,702.22 508.76,702.04 508.90,701.86 509.04,701.67 509.18,701.48 509.31,701.28 509.45,701.08 509.59,700.88 509.73,700.66 509.86,700.45 510.00,700.23 510.14,700.00 510.28,699.78 510.41,699.55 510.55,699.31 510.69,699.07 510.83,698.83 510.96,698.58 511.10,698.33 511.24,698.07 511.38,697.82 511.51,697.56 511.65,697.29 511.79,697.02 511.93,696.75 512.06,696.48 512.20,696.20 512.86,696.21 513.53,696.26 514.19,696.33 514.86,696.45 515.52,696.60 516.19,696.80 516.85,697.02 517.52,697.28 518.18,697.57 518.85,697.89 519.51,698.23 520.18,698.58 520.84,698.94 521.51,699.32 522.17,699.69 522.84,700.06 523.50,700.42 524.17,700.78 524.83,701.11 525.50,701.43 526.16,701.73 526.83,702.01 527.49,702.26 528.16,702.49 528.82,702.70 529.49,702.88 530.15,703.05 530.82,703.19 531.48,703.31 532.15,703.42 532.81,703.51 533.48,703.59 534.14,703.65 534.81,703.65 535.47,703.65 536.14,703.65 536.80,703.65 537.47,703.65 538.13,703.65 538.79,703.65 538.79,704.15 538.13,704.15 537.47,704.15 536.80,704.15 536.14,704.15 535.47,704.15 534.81,704.15 534.14,704.15 533.48,704.21 532.81,704.29 532.15,704.38 531.48,704.49 530.82,704.61 530.15,704.75 529.49,704.92 528.82,705.10 528.16,705.31 527.49,705.54 526.83,705.79 526.16,706.07 525.50,706.37 524.83,706.69 524.17,707.02 523.50,707.38 522.84,707.74 522.17,708.11 521.51,708.48 520.84,708.86 520.18,709.22 519.51,709.57 518.85,709.91 518.18,710.23 517.52,710.52 516.85,710.78 516.19,711.00 515.52,711.20 514.86,711.35 514.19,711.47 513.53,711.54 512.86,711.59 512.20,711.60 512.06,711.32 511.93,711.05 511.79,710.78 511.65,710.51 511.51,710.24 511.38,709.98 511.24,709.73 511.10,709.47 510.96,709.22 510.83,708.97 510.69,708.73 510.55,708.49 510.41,708.25 510.28,708.02 510.14,707.80 510.00,707.57 509.86,707.35 509.73,707.14 509.59,706.92 509.45,706.72 509.31,706.52 509.18,706.32 509.04,706.13 508.90,705.94 508.76,705.76 508.62,705.58 508.49,705.41 508.35,705.24 508.21,705.08 508.07,704.93 507.94,704.79 507.80,704.65 507.66,704.52 507.52,704.39 507.39,704.28 507.25,704.17 507.11,704.15 506.97,704.15 506.84,704.15 506.70,704.15" fill="#1cb8c4" stroke="#3a3a3a" stroke-width="0.6" stroke-linejoin="round"/>
<circle cx="516.10" cy="703.90" r="1.05" fill="#111"/>
<path d="M511.1 613.9V661.7M510.9 664.7V711.8" stroke="#222" stroke-width="0.7"/>
<path d="M549.0 622.20H570.0" stroke="#333" stroke-width="0.8"/>
<polygon points="549.00,621.95 549.16,621.95 549.33,621.95 549.50,621.95 549.66,621.93 549.83,621.83 549.99,621.71 550.15,621.59 550.32,621.46 550.49,621.33 550.65,621.18 550.82,621.03 550.98,620.87 551.14,620.71 551.31,620.54 551.48,620.37 551.64,620.19 551.81,620.00 551.97,619.81 552.13,619.62 552.30,619.42 552.47,619.21 552.63,619.01 552.79,618.79 552.96,618.58 553.12,618.36 553.29,618.13 553.46,617.90 553.62,617.67 553.78,617.43 553.95,617.19 554.12,616.95 554.28,616.70 554.45,616.45 554.61,616.20 554.77,615.94 554.94,615.68 555.11,615.41 555.27,615.14 555.44,614.87 555.60,614.60 555.86,614.61 556.13,614.65 556.39,614.73 556.65,614.85 556.92,615.00 557.18,615.19 557.44,615.41 557.71,615.67 557.97,615.95 558.23,616.27 558.50,616.60 558.76,616.95 559.02,617.31 559.29,617.68 559.55,618.05 559.81,618.41 560.08,618.77 560.34,619.12 560.60,619.45 560.87,619.76 561.13,620.06 561.39,620.33 561.65,620.58 561.92,620.81 562.18,621.01 562.44,621.20 562.71,621.36 562.97,621.50 563.23,621.62 563.50,621.73 563.76,621.81 564.02,621.89 564.29,621.95 564.55,621.95 564.81,621.95 565.08,621.95 565.34,621.95 565.60,621.95 565.87,621.95 566.13,621.95 566.13,622.45 565.87,622.45 565.60,622.45 565.34,622.45 565.08,622.45 564.81,622.45 564.55,622.45 564.29,622.45 564.02,622.51 563.76,622.59 563.50,622.67 563.23,622.78 562.97,622.90 562.71,623.04 562.44,623.20 562.18,623.39 561.92,623.59 561.65,623.82 561.39,624.07 561.13,624.34 560.87,624.64 560.60,624.95 560.34,625.28 560.08,625.63 559.81,625.99 559.55,626.35 559.29,626.72 559.02,627.09 558.76,627.45 558.50,627.80 558.23,628.13 557.97,628.45 557.71,628.73 557.44,628.99 557.18,629.21 556.92,629.40 556.65,629.55 556.39,629.67 556.13,629.75 555.86,629.79 555.60,629.80 555.44,629.53 555.27,629.26 555.11,628.99 554.94,628.72 554.77,628.46 554.61,628.20 554.45,627.95 554.28,627.70 554.12,627.45 553.95,627.21 553.78,626.97 553.62,626.73 553.46,626.50 553.29,626.27 553.12,626.04 552.96,625.82 552.79,625.61 552.63,625.39 552.47,625.19 552.30,624.98 552.13,624.78 551.97,624.59 551.81,624.40 551.64,624.21 551.48,624.03 551.31,623.86 551.14,623.69 550.98,623.53 550.82,623.37 550.65,623.22 550.49,623.07 550.32,622.94 550.15,622.81 549.99,622.69 549.83,622.57 549.66,622.47 549.50,622.45 549.33,622.45 549.16,622.45 549.00,622.45" fill="#3a96d8" stroke="#3a3a3a" stroke-width="0.6" stroke-linejoin="round"/>
<circle cx="555.60" cy="622.20" r="1.05" fill="#111"/>
<path d="M549.7 638.50H570.7" stroke="#333" stroke-width="0.8"/>
<polygon points="549.70,638.25 549.85,638.25 550.00,638.25 550.14,638.25 550.29,638.24 550.44,638.14 550.59,638.03 550.73,637.91 550.88,637.78 551.03,637.65 551.18,637.51 551.32,637.36 551.47,637.21 551.62,637.05 551.76,636.89 551.91,636.72 552.06,636.54 552.21,636.36 552.36,636.18 552.50,635.99 552.65,635.79 552.80,635.59 552.95,635.39 553.09,635.18 553.24,634.97 553.39,634.76 553.54,634.54 553.68,634.31 553.83,634.09 553.98,633.86 554.12,633.62 554.27,633.39 554.42,633.15 554.57,632.90 554.72,632.65 554.86,632.40 555.01,632.15 555.16,631.89 555.31,631.63 555.45,631.37 555.60,631.10 555.86,631.11 556.13,631.15 556.39,631.23 556.65,631.34 556.92,631.49 557.18,631.67 557.44,631.89 557.71,632.14 557.97,632.42 558.23,632.72 558.50,633.05 558.76,633.39 559.02,633.74 559.29,634.10 559.55,634.45 559.81,634.81 560.08,635.16 560.34,635.50 560.60,635.82 560.87,636.13 561.13,636.41 561.39,636.68 561.65,636.92 561.92,637.15 562.18,637.35 562.44,637.52 562.71,637.68 562.97,637.82 563.23,637.94 563.50,638.04 563.76,638.13 564.02,638.20 564.29,638.25 564.55,638.25 564.81,638.25 565.08,638.25 565.34,638.25 565.60,638.25 565.87,638.25 566.13,638.25 566.13,638.75 565.87,638.75 565.60,638.75 565.34,638.75 565.08,638.75 564.81,638.75 564.55,638.75 564.29,638.75 564.02,638.80 563.76,638.87 563.50,638.96 563.23,639.06 562.97,639.18 562.71,639.32 562.44,639.48 562.18,639.65 561.92,639.85 561.65,640.08 561.39,640.32 561.13,640.59 560.87,640.87 560.60,641.18 560.34,641.50 560.08,641.84 559.81,642.19 559.55,642.55 559.29,642.90 559.02,643.26 558.76,643.61 558.50,643.95 558.23,644.28 557.97,644.58 557.71,644.86 557.44,645.11 557.18,645.33 556.92,645.51 556.65,645.66 556.39,645.77 556.13,645.85 555.86,645.89 555.60,645.90 555.45,645.63 555.31,645.37 555.16,645.11 555.01,644.85 554.86,644.60 554.72,644.35 554.57,644.10 554.42,643.85 554.27,643.61 554.12,643.38 553.98,643.14 553.83,642.91 553.68,642.69 553.54,642.46 553.39,642.24 553.24,642.03 553.09,641.82 552.95,641.61 552.80,641.41 552.65,641.21 552.50,641.01 552.36,640.82 552.21,640.64 552.06,640.46 551.91,640.28 551.76,640.11 551.62,639.95 551.47,639.79 551.32,639.64 551.18,639.49 551.03,639.35 550.88,639.22 550.73,639.09 550.59,638.97 550.44,638.86 550.29,638.76 550.14,638.75 550.00,638.75 549.85,638.75 549.70,638.75" fill="#3a96d8" stroke="#3a3a3a" stroke-width="0.6" stroke-linejoin="round"/>
<circle cx="556.20" cy="638.50" r="1.05" fill="#111"/>
<path d="M549.7 654.70H576.6" stroke="#333" stroke-width="0.8"/>
<polygon points="549.70,654.45 549.86,654.45 550.03,654.45 550.19,654.45 550.35,654.43 550.51,654.33 550.68,654.21 550.84,654.09 551.00,653.96 551.16,653.83 551.33,653.68 551.49,653.53 551.65,653.37 551.81,653.21 551.98,653.04 552.14,652.87 552.30,652.69 552.46,652.50 552.62,652.31 552.79,652.12 552.95,651.92 553.11,651.71 553.28,651.51 553.44,651.29 553.60,651.08 553.76,650.86 553.93,650.63 554.09,650.40 554.25,650.17 554.41,649.93 554.58,649.69 554.74,649.45 554.90,649.20 555.06,648.95 555.23,648.70 555.39,648.44 555.55,648.18 555.71,647.91 555.88,647.64 556.04,647.37 556.20,647.10 556.49,647.11 556.78,647.15 557.07,647.23 557.36,647.35 557.65,647.50 557.94,647.69 558.23,647.91 558.52,648.17 558.81,648.45 559.10,648.77 559.39,649.10 559.68,649.45 559.97,649.81 560.26,650.18 560.55,650.55 560.84,650.91 561.13,651.27 561.42,651.62 561.71,651.95 562.00,652.26 562.30,652.56 562.59,652.83 562.88,653.08 563.17,653.31 563.46,653.51 563.75,653.70 564.04,653.86 564.33,654.00 564.62,654.12 564.91,654.23 565.20,654.31 565.49,654.39 565.78,654.45 566.07,654.45 566.36,654.45 566.65,654.45 566.94,654.45 567.23,654.45 567.52,654.45 567.81,654.45 567.81,654.95 567.52,654.95 567.23,654.95 566.94,654.95 566.65,654.95 566.36,654.95 566.07,654.95 565.78,654.95 565.49,655.01 565.20,655.09 564.91,655.17 564.62,655.28 564.33,655.40 564.04,655.54 563.75,655.70 563.46,655.89 563.17,656.09 562.88,656.32 562.59,656.57 562.30,656.84 562.00,657.14 561.71,657.45 561.42,657.78 561.13,658.13 560.84,658.49 560.55,658.85 560.26,659.22 559.97,659.59 559.68,659.95 559.39,660.30 559.10,660.63 558.81,660.95 558.52,661.23 558.23,661.49 557.94,661.71 557.65,661.90 557.36,662.05 557.07,662.17 556.78,662.25 556.49,662.29 556.20,662.30 556.04,662.03 555.88,661.76 555.71,661.49 555.55,661.22 555.39,660.96 555.23,660.70 555.06,660.45 554.90,660.20 554.74,659.95 554.58,659.71 554.41,659.47 554.25,659.23 554.09,659.00 553.93,658.77 553.76,658.54 553.60,658.32 553.44,658.11 553.28,657.89 553.11,657.69 552.95,657.48 552.79,657.28 552.62,657.09 552.46,656.90 552.30,656.71 552.14,656.53 551.98,656.36 551.81,656.19 551.65,656.03 551.49,655.87 551.33,655.72 551.16,655.57 551.00,655.44 550.84,655.31 550.68,655.19 550.51,655.07 550.35,654.97 550.19,654.95 550.03,654.95 549.86,654.95 549.70,654.95" fill="#3a96d8" stroke="#3a3a3a" stroke-width="0.6" stroke-linejoin="round"/>
<circle cx="556.90" cy="654.70" r="1.05" fill="#111"/>
<path d="M550.3 671.10H579.2" stroke="#333" stroke-width="0.8"/>
<polygon points="550.30,670.85 550.50,670.85 550.69,670.85 550.89,670.85 551.09,670.83 551.29,670.73 551.49,670.61 551.68,670.49 551.88,670.36 552.08,670.23 552.27,670.08 552.47,669.93 552.67,669.77 552.87,669.61 553.06,669.44 553.26,669.27 553.46,669.09 553.66,668.90 553.86,668.71 554.05,668.52 554.25,668.32 554.45,668.11 554.64,667.91 554.84,667.69 555.04,667.48 555.24,667.26 555.44,667.03 555.63,666.80 555.83,666.57 556.03,666.33 556.23,666.09 556.42,665.85 556.62,665.60 556.82,665.35 557.01,665.10 557.21,664.84 557.41,664.58 557.61,664.31 557.81,664.04 558.00,663.77 558.20,663.50 558.51,663.51 558.82,663.55 559.13,663.63 559.44,663.75 559.75,663.90 560.06,664.09 560.37,664.31 560.68,664.57 560.99,664.85 561.31,665.17 561.62,665.50 561.93,665.85 562.24,666.21 562.55,666.58 562.86,666.95 563.17,667.31 563.48,667.67 563.79,668.02 564.10,668.35 564.41,668.66 564.72,668.96 565.03,669.23 565.34,669.48 565.65,669.71 565.96,669.91 566.27,670.10 566.58,670.26 566.89,670.40 567.20,670.52 567.51,670.63 567.83,670.71 568.14,670.79 568.45,670.85 568.76,670.85 569.07,670.85 569.38,670.85 569.69,670.85 570.00,670.85 570.31,670.85 570.62,670.85 570.62,671.35 570.31,671.35 570.00,671.35 569.69,671.35 569.38,671.35 569.07,671.35 568.76,671.35 568.45,671.35 568.14,671.41 567.83,671.49 567.51,671.57 567.20,671.68 566.89,671.80 566.58,671.94 566.27,672.10 565.96,672.29 565.65,672.49 565.34,672.72 565.03,672.97 564.72,673.24 564.41,673.54 564.10,673.85 563.79,674.18 563.48,674.53 563.17,674.89 562.86,675.25 562.55,675.62 562.24,675.99 561.93,676.35 561.62,676.70 561.31,677.03 560.99,677.35 560.68,677.63 560.37,677.89 560.06,678.11 559.75,678.30 559.44,678.45 559.13,678.57 558.82,678.65 558.51,678.69 558.20,678.70 558.00,678.43 557.81,678.16 557.61,677.89 557.41,677.62 557.21,677.36 557.01,677.10 556.82,676.85 556.62,676.60 556.42,676.35 556.23,676.11 556.03,675.87 555.83,675.63 555.63,675.40 555.44,675.17 555.24,674.94 555.04,674.72 554.84,674.51 554.64,674.29 554.45,674.09 554.25,673.88 554.05,673.68 553.86,673.49 553.66,673.30 553.46,673.11 553.26,672.93 553.06,672.76 552.87,672.59 552.67,672.43 552.47,672.27 552.27,672.12 552.08,671.97 551.88,671.84 551.68,671.71 551.49,671.59 551.29,671.47 551.09,671.37 550.89,671.35 550.69,671.35 550.50,671.35 550.30,671.35" fill="#3a96d8" stroke="#3a3a3a" stroke-width="0.6" stroke-linejoin="round"/>
<circle cx="557.90" cy="671.10" r="1.05" fill="#111"/>
<path d="M549.7 687.40H590.2" stroke="#333" stroke-width="0.8"/>
<polygon points="549.70,687.15 549.90,687.15 550.09,687.15 550.29,687.15 550.48,687.14 550.68,687.04 550.87,686.93 551.07,686.81 551.26,686.68 551.46,686.55 551.65,686.41 551.85,686.26 552.04,686.11 552.24,685.95 552.43,685.79 552.62,685.62 552.82,685.44 553.01,685.26 553.21,685.08 553.40,684.89 553.60,684.69 553.80,684.49 553.99,684.29 554.19,684.08 554.38,683.87 554.58,683.66 554.77,683.44 554.97,683.21 555.16,682.99 555.36,682.76 555.55,682.52 555.75,682.29 555.94,682.05 556.13,681.80 556.33,681.55 556.52,681.30 556.72,681.05 556.91,680.79 557.11,680.53 557.30,680.27 557.50,680.00 558.01,680.01 558.52,680.05 559.03,680.13 559.54,680.24 560.05,680.39 560.56,680.57 561.07,680.79 561.58,681.04 562.09,681.32 562.60,681.62 563.11,681.95 563.62,682.29 564.13,682.64 564.63,683.00 565.14,683.35 565.65,683.71 566.16,684.06 566.67,684.40 567.18,684.72 567.69,685.03 568.20,685.31 568.71,685.58 569.22,685.82 569.73,686.05 570.24,686.25 570.75,686.42 571.26,686.58 571.77,686.72 572.28,686.84 572.79,686.94 573.30,687.03 573.81,687.10 574.32,687.15 574.83,687.15 575.34,687.15 575.85,687.15 576.36,687.15 576.87,687.15 577.38,687.15 577.88,687.15 577.88,687.65 577.38,687.65 576.87,687.65 576.36,687.65 575.85,687.65 575.34,687.65 574.83,687.65 574.32,687.65 573.81,687.70 573.30,687.77 572.79,687.86 572.28,687.96 571.77,688.08 571.26,688.22 570.75,688.38 570.24,688.55 569.73,688.75 569.22,688.98 568.71,689.22 568.20,689.49 567.69,689.77 567.18,690.08 566.67,690.40 566.16,690.74 565.65,691.09 565.14,691.45 564.63,691.80 564.13,692.16 563.62,692.51 563.11,692.85 562.60,693.18 562.09,693.48 561.58,693.76 561.07,694.01 560.56,694.23 560.05,694.41 559.54,694.56 559.03,694.67 558.52,694.75 558.01,694.79 557.50,694.80 557.30,694.53 557.11,694.27 556.91,694.01 556.72,693.75 556.52,693.50 556.33,693.25 556.13,693.00 555.94,692.75 555.75,692.51 555.55,692.28 555.36,692.04 555.16,691.81 554.97,691.59 554.77,691.36 554.58,691.14 554.38,690.93 554.19,690.72 553.99,690.51 553.80,690.31 553.60,690.11 553.40,689.91 553.21,689.72 553.01,689.54 552.82,689.36 552.62,689.18 552.43,689.01 552.24,688.85 552.04,688.69 551.85,688.54 551.65,688.39 551.46,688.25 551.26,688.12 551.07,687.99 550.87,687.87 550.68,687.76 550.48,687.66 550.29,687.65 550.09,687.65 549.90,687.65 549.70,687.65" fill="#3a96d8" stroke="#3a3a3a" stroke-width="0.6" stroke-linejoin="round"/>
<circle cx="558.50" cy="687.40" r="1.05" fill="#111"/>
<path d="M551.7 703.90H585.8" stroke="#333" stroke-width="0.8"/>
<polygon points="551.70,703.65 551.90,703.65 552.09,703.65 552.29,703.65 552.48,703.63 552.68,703.52 552.87,703.41 553.07,703.28 553.26,703.15 553.46,703.01 553.65,702.87 553.85,702.72 554.04,702.56 554.24,702.39 554.43,702.22 554.62,702.04 554.82,701.86 555.01,701.67 555.21,701.48 555.40,701.28 555.60,701.08 555.80,700.88 555.99,700.66 556.19,700.45 556.38,700.23 556.58,700.00 556.77,699.78 556.97,699.55 557.16,699.31 557.36,699.07 557.55,698.83 557.75,698.58 557.94,698.33 558.13,698.07 558.33,697.82 558.52,697.56 558.72,697.29 558.91,697.02 559.11,696.75 559.30,696.48 559.50,696.20 559.90,696.21 560.30,696.26 560.69,696.33 561.09,696.45 561.49,696.60 561.89,696.80 562.29,697.02 562.69,697.28 563.08,697.57 563.48,697.89 563.88,698.23 564.28,698.58 564.68,698.94 565.08,699.32 565.47,699.69 565.87,700.06 566.27,700.42 566.67,700.78 567.07,701.11 567.46,701.43 567.86,701.73 568.26,702.01 568.66,702.26 569.06,702.49 569.46,702.70 569.85,702.88 570.25,703.05 570.65,703.19 571.05,703.31 571.45,703.42 571.85,703.51 572.24,703.59 572.64,703.65 573.04,703.65 573.44,703.65 573.84,703.65 574.24,703.65 574.63,703.65 575.03,703.65 575.43,703.65 575.43,704.15 575.03,704.15 574.63,704.15 574.24,704.15 573.84,704.15 573.44,704.15 573.04,704.15 572.64,704.15 572.24,704.21 571.85,704.29 571.45,704.38 571.05,704.49 570.65,704.61 570.25,704.75 569.85,704.92 569.46,705.10 569.06,705.31 568.66,705.54 568.26,705.79 567.86,706.07 567.46,706.37 567.07,706.69 566.67,707.02 566.27,707.38 565.87,707.74 565.47,708.11 565.08,708.48 564.68,708.86 564.28,709.22 563.88,709.57 563.48,709.91 563.08,710.23 562.69,710.52 562.29,710.78 561.89,711.00 561.49,711.20 561.09,711.35 560.69,711.47 560.30,711.54 559.90,711.59 559.50,711.60 559.30,711.32 559.11,711.05 558.91,710.78 558.72,710.51 558.52,710.24 558.33,709.98 558.13,709.73 557.94,709.47 557.75,709.22 557.55,708.97 557.36,708.73 557.16,708.49 556.97,708.25 556.77,708.02 556.58,707.80 556.38,707.57 556.19,707.35 555.99,707.14 555.80,706.92 555.60,706.72 555.40,706.52 555.21,706.32 555.01,706.13 554.82,705.94 554.62,705.76 554.43,705.58 554.24,705.41 554.04,705.24 553.85,705.08 553.65,704.93 553.46,704.79 553.26,704.65 553.07,704.52 552.87,704.39 552.68,704.28 552.48,704.17 552.29,704.15 552.09,704.15 551.90,704.15 551.70,704.15" fill="#3a96d8" stroke="#3a3a3a" stroke-width="0.6" stroke-linejoin="round"/>
<circle cx="561.50" cy="703.90" r="1.05" fill="#111"/>
<path d="M555.3 613.9V661.7M558.2 664.7V711.8" stroke="#222" stroke-width="0.7"/>
<path d="M591.1 622.20H618.4" stroke="#333" stroke-width="0.8"/>
<polygon points="591.10,621.95 591.27,621.95 591.44,621.95 591.61,621.95 591.78,621.93 591.95,621.82 592.12,621.71 592.29,621.58 592.46,621.45 592.63,621.31 592.80,621.17 592.97,621.02 593.14,620.86 593.31,620.69 593.48,620.52 593.65,620.34 593.82,620.16 593.99,619.97 594.16,619.78 594.33,619.58 594.50,619.38 594.67,619.18 594.84,618.96 595.01,618.75 595.18,618.53 595.35,618.30 595.52,618.08 595.69,617.85 595.86,617.61 596.03,617.37 596.20,617.13 596.37,616.88 596.54,616.63 596.71,616.37 596.88,616.12 597.05,615.86 597.22,615.59 597.39,615.32 597.56,615.05 597.73,614.78 597.90,614.50 598.23,614.51 598.57,614.56 598.90,614.63 599.24,614.75 599.57,614.90 599.90,615.10 600.24,615.32 600.57,615.58 600.91,615.87 601.24,616.19 601.58,616.53 601.91,616.88 602.24,617.24 602.58,617.62 602.91,617.99 603.25,618.36 603.58,618.72 603.91,619.08 604.25,619.41 604.58,619.73 604.92,620.03 605.25,620.31 605.58,620.56 605.92,620.79 606.25,621.00 606.59,621.18 606.92,621.35 607.26,621.49 607.59,621.61 607.92,621.72 608.26,621.81 608.59,621.89 608.93,621.95 609.26,621.95 609.59,621.95 609.93,621.95 610.26,621.95 610.60,621.95 610.93,621.95 611.26,621.95 611.26,622.45 610.93,622.45 610.60,622.45 610.26,622.45 609.93,622.45 609.59,622.45 609.26,622.45 608.93,622.45 608.59,622.51 608.26,622.59 607.92,622.68 607.59,622.79 607.26,622.91 606.92,623.05 606.59,623.22 606.25,623.40 605.92,623.61 605.58,623.84 605.25,624.09 604.92,624.37 604.58,624.67 604.25,624.99 603.91,625.32 603.58,625.68 603.25,626.04 602.91,626.41 602.58,626.78 602.24,627.16 601.91,627.52 601.58,627.87 601.24,628.21 600.91,628.53 600.57,628.82 600.24,629.08 599.90,629.30 599.57,629.50 599.24,629.65 598.90,629.77 598.57,629.84 598.23,629.89 597.90,629.90 597.73,629.62 597.56,629.35 597.39,629.08 597.22,628.81 597.05,628.54 596.88,628.28 596.71,628.03 596.54,627.77 596.37,627.52 596.20,627.27 596.03,627.03 595.86,626.79 595.69,626.55 595.52,626.32 595.35,626.10 595.18,625.87 595.01,625.65 594.84,625.44 594.67,625.22 594.50,625.02 594.33,624.82 594.16,624.62 593.99,624.43 593.82,624.24 593.65,624.06 593.48,623.88 593.31,623.71 593.14,623.54 592.97,623.38 592.80,623.23 592.63,623.09 592.46,622.95 592.29,622.82 592.12,622.69 591.95,622.58 591.78,622.47 591.61,622.45 591.44,622.45 591.27,622.45 591.10,622.45" fill="#9c7fc0" stroke="#3a3a3a" stroke-width="0.6" stroke-linejoin="round"/>
<circle cx="597.90" cy="622.20" r="1.05" fill="#111"/>
<path d="M591.5 638.50H624.8" stroke="#333" stroke-width="0.8"/>
<polygon points="591.50,638.25 591.68,638.25 591.86,638.25 592.03,638.25 592.21,638.23 592.39,638.13 592.57,638.01 592.74,637.89 592.92,637.76 593.10,637.63 593.27,637.48 593.45,637.33 593.63,637.17 593.81,637.01 593.99,636.84 594.16,636.67 594.34,636.49 594.52,636.30 594.70,636.11 594.87,635.92 595.05,635.72 595.23,635.51 595.40,635.31 595.58,635.09 595.76,634.88 595.94,634.66 596.12,634.43 596.29,634.20 596.47,633.97 596.65,633.73 596.83,633.49 597.00,633.25 597.18,633.00 597.36,632.75 597.53,632.50 597.71,632.24 597.89,631.98 598.07,631.71 598.25,631.44 598.42,631.17 598.60,630.90 598.96,630.91 599.32,630.95 599.67,631.03 600.03,631.15 600.39,631.30 600.75,631.49 601.10,631.71 601.46,631.97 601.82,632.25 602.18,632.57 602.54,632.90 602.89,633.25 603.25,633.61 603.61,633.98 603.97,634.35 604.32,634.71 604.68,635.07 605.04,635.42 605.40,635.75 605.75,636.06 606.11,636.36 606.47,636.63 606.83,636.88 607.19,637.11 607.54,637.31 607.90,637.50 608.26,637.66 608.62,637.80 608.97,637.92 609.33,638.03 609.69,638.11 610.05,638.19 610.41,638.25 610.76,638.25 611.12,638.25 611.48,638.25 611.84,638.25 612.19,638.25 612.55,638.25 612.91,638.25 612.91,638.75 612.55,638.75 612.19,638.75 611.84,638.75 611.48,638.75 611.12,638.75 610.76,638.75 610.41,638.75 610.05,638.81 609.69,638.89 609.33,638.97 608.97,639.08 608.62,639.20 608.26,639.34 607.90,639.50 607.54,639.69 607.19,639.89 606.83,640.12 606.47,640.37 606.11,640.64 605.75,640.94 605.40,641.25 605.04,641.58 604.68,641.93 604.32,642.29 603.97,642.65 603.61,643.02 603.25,643.39 602.89,643.75 602.54,644.10 602.18,644.43 601.82,644.75 601.46,645.03 601.10,645.29 600.75,645.51 600.39,645.70 600.03,645.85 599.67,645.97 599.32,646.05 598.96,646.09 598.60,646.10 598.42,645.83 598.25,645.56 598.07,645.29 597.89,645.02 597.71,644.76 597.53,644.50 597.36,644.25 597.18,644.00 597.00,643.75 596.83,643.51 596.65,643.27 596.47,643.03 596.29,642.80 596.12,642.57 595.94,642.34 595.76,642.12 595.58,641.91 595.40,641.69 595.23,641.49 595.05,641.28 594.87,641.08 594.70,640.89 594.52,640.70 594.34,640.51 594.16,640.33 593.99,640.16 593.81,639.99 593.63,639.83 593.45,639.67 593.27,639.52 593.10,639.37 592.92,639.24 592.74,639.11 592.57,638.99 592.39,638.87 592.21,638.77 592.03,638.75 591.86,638.75 591.68,638.75 591.50,638.75" fill="#9c7fc0" stroke="#3a3a3a" stroke-width="0.6" stroke-linejoin="round"/>
<circle cx="599.00" cy="638.50" r="1.05" fill="#111"/>
<path d="M591.1 654.70H621.3" stroke="#333" stroke-width="0.8"/>
<polygon points="591.10,654.45 591.24,654.45 591.37,654.45 591.50,654.45 591.64,654.43 591.77,654.33 591.91,654.21 592.05,654.09 592.18,653.96 592.32,653.83 592.45,653.68 592.59,653.53 592.72,653.37 592.86,653.21 592.99,653.04 593.12,652.87 593.26,652.69 593.39,652.50 593.53,652.31 593.66,652.12 593.80,651.92 593.94,651.71 594.07,651.51 594.21,651.29 594.34,651.08 594.48,650.86 594.61,650.63 594.75,650.40 594.88,650.17 595.01,649.93 595.15,649.69 595.28,649.45 595.42,649.20 595.55,648.95 595.69,648.70 595.83,648.44 595.96,648.18 596.10,647.91 596.23,647.64 596.37,647.37 596.50,647.10 596.83,647.11 597.17,647.15 597.50,647.23 597.84,647.35 598.17,647.50 598.50,647.69 598.84,647.91 599.17,648.17 599.51,648.45 599.84,648.77 600.18,649.10 600.51,649.45 600.84,649.81 601.18,650.18 601.51,650.55 601.85,650.91 602.18,651.27 602.51,651.62 602.85,651.95 603.18,652.26 603.52,652.56 603.85,652.83 604.18,653.08 604.52,653.31 604.85,653.51 605.19,653.70 605.52,653.86 605.86,654.00 606.19,654.12 606.52,654.23 606.86,654.31 607.19,654.39 607.53,654.45 607.86,654.45 608.19,654.45 608.53,654.45 608.86,654.45 609.20,654.45 609.53,654.45 609.87,654.45 609.87,654.95 609.53,654.95 609.20,654.95 608.86,654.95 608.53,654.95 608.19,654.95 607.86,654.95 607.53,654.95 607.19,655.01 606.86,655.09 606.52,655.17 606.19,655.28 605.86,655.40 605.52,655.54 605.19,655.70 604.85,655.89 604.52,656.09 604.18,656.32 603.85,656.57 603.52,656.84 603.18,657.14 602.85,657.45 602.51,657.78 602.18,658.13 601.85,658.49 601.51,658.85 601.18,659.22 600.84,659.59 600.51,659.95 600.18,660.30 599.84,660.63 599.51,660.95 599.17,661.23 598.84,661.49 598.50,661.71 598.17,661.90 597.84,662.05 597.50,662.17 597.17,662.25 596.83,662.29 596.50,662.30 596.37,662.03 596.23,661.76 596.10,661.49 595.96,661.22 595.83,660.96 595.69,660.70 595.55,660.45 595.42,660.20 595.28,659.95 595.15,659.71 595.01,659.47 594.88,659.23 594.75,659.00 594.61,658.77 594.48,658.54 594.34,658.32 594.21,658.11 594.07,657.89 593.94,657.69 593.80,657.48 593.66,657.28 593.53,657.09 593.39,656.90 593.26,656.71 593.12,656.53 592.99,656.36 592.86,656.19 592.72,656.03 592.59,655.87 592.45,655.72 592.32,655.57 592.18,655.44 592.05,655.31 591.91,655.19 591.77,655.07 591.64,654.97 591.50,654.95 591.37,654.95 591.24,654.95 591.10,654.95" fill="#9c7fc0" stroke="#3a3a3a" stroke-width="0.6" stroke-linejoin="round"/>
<circle cx="597.20" cy="654.70" r="1.05" fill="#111"/>
<path d="M592.0 671.10H629.8" stroke="#333" stroke-width="0.8"/>
<polygon points="592.00,670.85 592.15,670.85 592.29,670.85 592.44,670.85 592.59,670.83 592.74,670.73 592.88,670.61 593.03,670.49 593.18,670.36 593.33,670.23 593.48,670.08 593.62,669.93 593.77,669.77 593.92,669.61 594.06,669.44 594.21,669.27 594.36,669.09 594.51,668.90 594.65,668.71 594.80,668.52 594.95,668.32 595.10,668.11 595.25,667.91 595.39,667.69 595.54,667.48 595.69,667.26 595.84,667.03 595.98,666.80 596.13,666.57 596.28,666.33 596.42,666.09 596.57,665.85 596.72,665.60 596.87,665.35 597.01,665.10 597.16,664.84 597.31,664.58 597.46,664.31 597.61,664.04 597.75,663.77 597.90,663.50 598.23,663.51 598.57,663.55 598.90,663.63 599.24,663.75 599.57,663.90 599.90,664.09 600.24,664.31 600.57,664.57 600.91,664.85 601.24,665.17 601.58,665.50 601.91,665.85 602.24,666.21 602.58,666.58 602.91,666.95 603.25,667.31 603.58,667.67 603.91,668.02 604.25,668.35 604.58,668.66 604.92,668.96 605.25,669.23 605.58,669.48 605.92,669.71 606.25,669.91 606.59,670.10 606.92,670.26 607.26,670.40 607.59,670.52 607.92,670.63 608.26,670.71 608.59,670.79 608.93,670.85 609.26,670.85 609.59,670.85 609.93,670.85 610.26,670.85 610.60,670.85 610.93,670.85 611.26,670.85 611.26,671.35 610.93,671.35 610.60,671.35 610.26,671.35 609.93,671.35 609.59,671.35 609.26,671.35 608.93,671.35 608.59,671.41 608.26,671.49 607.92,671.57 607.59,671.68 607.26,671.80 606.92,671.94 606.59,672.10 606.25,672.29 605.92,672.49 605.58,672.72 605.25,672.97 604.92,673.24 604.58,673.54 604.25,673.85 603.91,674.18 603.58,674.53 603.25,674.89 602.91,675.25 602.58,675.62 602.24,675.99 601.91,676.35 601.58,676.70 601.24,677.03 600.91,677.35 600.57,677.63 600.24,677.89 599.90,678.11 599.57,678.30 599.24,678.45 598.90,678.57 598.57,678.65 598.23,678.69 597.90,678.70 597.75,678.43 597.61,678.16 597.46,677.89 597.31,677.62 597.16,677.36 597.01,677.10 596.87,676.85 596.72,676.60 596.57,676.35 596.42,676.11 596.28,675.87 596.13,675.63 595.98,675.40 595.84,675.17 595.69,674.94 595.54,674.72 595.39,674.51 595.25,674.29 595.10,674.09 594.95,673.88 594.80,673.68 594.65,673.49 594.51,673.30 594.36,673.11 594.21,672.93 594.06,672.76 593.92,672.59 593.77,672.43 593.62,672.27 593.48,672.12 593.33,671.97 593.18,671.84 593.03,671.71 592.88,671.59 592.74,671.47 592.59,671.37 592.44,671.35 592.29,671.35 592.15,671.35 592.00,671.35" fill="#9c7fc0" stroke="#3a3a3a" stroke-width="0.6" stroke-linejoin="round"/>
<circle cx="598.20" cy="671.10" r="1.05" fill="#111"/>
<path d="M591.5 687.40H627.0" stroke="#333" stroke-width="0.8"/>
<polygon points="591.50,687.15 591.62,687.15 591.75,687.15 591.88,687.15 592.00,687.13 592.12,687.03 592.25,686.91 592.38,686.79 592.50,686.66 592.62,686.53 592.75,686.38 592.88,686.23 593.00,686.07 593.12,685.91 593.25,685.74 593.38,685.57 593.50,685.39 593.62,685.20 593.75,685.01 593.88,684.82 594.00,684.62 594.12,684.41 594.25,684.21 594.38,683.99 594.50,683.78 594.62,683.56 594.75,683.33 594.88,683.10 595.00,682.87 595.12,682.63 595.25,682.39 595.38,682.15 595.50,681.90 595.62,681.65 595.75,681.40 595.88,681.14 596.00,680.88 596.12,680.61 596.25,680.34 596.38,680.07 596.50,679.80 596.88,679.81 597.26,679.85 597.64,679.93 598.03,680.05 598.41,680.20 598.79,680.39 599.17,680.61 599.55,680.87 599.93,681.15 600.31,681.47 600.70,681.80 601.08,682.15 601.46,682.51 601.84,682.88 602.22,683.25 602.60,683.61 602.98,683.97 603.36,684.32 603.75,684.65 604.13,684.96 604.51,685.26 604.89,685.53 605.27,685.78 605.65,686.01 606.03,686.21 606.42,686.40 606.80,686.56 607.18,686.70 607.56,686.82 607.94,686.93 608.32,687.01 608.70,687.09 609.09,687.15 609.47,687.15 609.85,687.15 610.23,687.15 610.61,687.15 610.99,687.15 611.37,687.15 611.75,687.15 611.75,687.65 611.37,687.65 610.99,687.65 610.61,687.65 610.23,687.65 609.85,687.65 609.47,687.65 609.09,687.65 608.70,687.71 608.32,687.79 607.94,687.87 607.56,687.98 607.18,688.10 606.80,688.24 606.42,688.40 606.03,688.59 605.65,688.79 605.27,689.02 604.89,689.27 604.51,689.54 604.13,689.84 603.75,690.15 603.36,690.48 602.98,690.83 602.60,691.19 602.22,691.55 601.84,691.92 601.46,692.29 601.08,692.65 600.70,693.00 600.31,693.33 599.93,693.65 599.55,693.93 599.17,694.19 598.79,694.41 598.41,694.60 598.03,694.75 597.64,694.87 597.26,694.95 596.88,694.99 596.50,695.00 596.38,694.73 596.25,694.46 596.12,694.19 596.00,693.92 595.88,693.66 595.75,693.40 595.62,693.15 595.50,692.90 595.38,692.65 595.25,692.41 595.12,692.17 595.00,691.93 594.88,691.70 594.75,691.47 594.62,691.24 594.50,691.02 594.38,690.81 594.25,690.59 594.12,690.39 594.00,690.18 593.88,689.98 593.75,689.79 593.62,689.60 593.50,689.41 593.38,689.23 593.25,689.06 593.12,688.89 593.00,688.73 592.88,688.57 592.75,688.42 592.62,688.27 592.50,688.14 592.38,688.01 592.25,687.89 592.12,687.77 592.00,687.67 591.88,687.65 591.75,687.65 591.62,687.65 591.50,687.65" fill="#9c7fc0" stroke="#3a3a3a" stroke-width="0.6" stroke-linejoin="round"/>
<circle cx="597.60" cy="687.40" r="1.05" fill="#111"/>
<path d="M592.3 703.90H632.6" stroke="#333" stroke-width="0.8"/>
<polygon points="592.30,703.65 592.46,703.65 592.62,703.65 592.77,703.65 592.93,703.63 593.09,703.52 593.25,703.41 593.40,703.28 593.56,703.15 593.72,703.01 593.88,702.87 594.03,702.72 594.19,702.56 594.35,702.39 594.50,702.22 594.66,702.04 594.82,701.86 594.98,701.67 595.13,701.48 595.29,701.28 595.45,701.08 595.61,700.88 595.76,700.66 595.92,700.45 596.08,700.23 596.24,700.00 596.39,699.78 596.55,699.55 596.71,699.31 596.87,699.07 597.02,698.83 597.18,698.58 597.34,698.33 597.50,698.07 597.65,697.82 597.81,697.56 597.97,697.29 598.13,697.02 598.28,696.75 598.44,696.48 598.60,696.20 599.34,696.21 600.09,696.26 600.83,696.33 601.57,696.45 602.31,696.60 603.06,696.80 603.80,697.02 604.54,697.28 605.28,697.57 606.02,697.89 606.77,698.23 607.51,698.58 608.25,698.94 609.00,699.32 609.74,699.69 610.48,700.06 611.22,700.42 611.97,700.78 612.71,701.11 613.45,701.43 614.19,701.73 614.94,702.01 615.68,702.26 616.42,702.49 617.16,702.70 617.90,702.88 618.65,703.05 619.39,703.19 620.13,703.31 620.88,703.42 621.62,703.51 622.36,703.59 623.10,703.65 623.85,703.65 624.59,703.65 625.33,703.65 626.07,703.65 626.82,703.65 627.56,703.65 628.30,703.65 628.30,704.15 627.56,704.15 626.82,704.15 626.07,704.15 625.33,704.15 624.59,704.15 623.85,704.15 623.10,704.15 622.36,704.21 621.62,704.29 620.88,704.38 620.13,704.49 619.39,704.61 618.65,704.75 617.90,704.92 617.16,705.10 616.42,705.31 615.68,705.54 614.94,705.79 614.19,706.07 613.45,706.37 612.71,706.69 611.97,707.02 611.22,707.38 610.48,707.74 609.74,708.11 609.00,708.48 608.25,708.86 607.51,709.22 606.77,709.57 606.02,709.91 605.28,710.23 604.54,710.52 603.80,710.78 603.06,711.00 602.31,711.20 601.57,711.35 600.83,711.47 600.09,711.54 599.34,711.59 598.60,711.60 598.44,711.32 598.28,711.05 598.13,710.78 597.97,710.51 597.81,710.24 597.65,709.98 597.50,709.73 597.34,709.47 597.18,709.22 597.02,708.97 596.87,708.73 596.71,708.49 596.55,708.25 596.39,708.02 596.24,707.80 596.08,707.57 595.92,707.35 595.76,707.14 595.61,706.92 595.45,706.72 595.29,706.52 595.13,706.32 594.98,706.13 594.82,705.94 594.66,705.76 594.50,705.58 594.35,705.41 594.19,705.24 594.03,705.08 593.88,704.93 593.72,704.79 593.56,704.65 593.40,704.52 593.25,704.39 593.09,704.28 592.93,704.17 592.77,704.15 592.62,704.15 592.46,704.15 592.30,704.15" fill="#9c7fc0" stroke="#3a3a3a" stroke-width="0.6" stroke-linejoin="round"/>
<circle cx="602.90" cy="703.90" r="1.05" fill="#111"/>
<path d="M597.6 613.9V661.7M598.6 664.7V711.8" stroke="#222" stroke-width="0.7"/>
<path d="M634.0 622.20H675.4" stroke="#333" stroke-width="0.8"/>
<polygon points="634.00,621.95 634.15,621.95 634.30,621.95 634.46,621.95 634.61,621.93 634.76,621.82 634.91,621.71 635.07,621.58 635.22,621.45 635.37,621.31 635.52,621.17 635.68,621.02 635.83,620.86 635.98,620.69 636.13,620.52 636.29,620.34 636.44,620.16 636.59,619.97 636.75,619.78 636.90,619.58 637.05,619.38 637.20,619.18 637.36,618.96 637.51,618.75 637.66,618.53 637.81,618.30 637.97,618.08 638.12,617.85 638.27,617.61 638.42,617.37 638.58,617.13 638.73,616.88 638.88,616.63 639.03,616.37 639.19,616.12 639.34,615.86 639.49,615.59 639.64,615.32 639.80,615.05 639.95,614.78 640.10,614.50 640.35,614.51 640.60,614.56 640.85,614.63 641.10,614.75 641.35,614.90 641.60,615.10 641.85,615.32 642.10,615.58 642.35,615.87 642.60,616.19 642.85,616.53 643.10,616.88 643.35,617.24 643.60,617.62 643.85,617.99 644.10,618.36 644.35,618.72 644.60,619.08 644.85,619.41 645.10,619.73 645.34,620.03 645.59,620.31 645.84,620.56 646.09,620.79 646.34,621.00 646.59,621.18 646.84,621.35 647.09,621.49 647.34,621.61 647.59,621.72 647.84,621.81 648.09,621.89 648.34,621.95 648.59,621.95 648.84,621.95 649.09,621.95 649.34,621.95 649.59,621.95 649.84,621.95 650.09,621.95 650.09,622.45 649.84,622.45 649.59,622.45 649.34,622.45 649.09,622.45 648.84,622.45 648.59,622.45 648.34,622.45 648.09,622.51 647.84,622.59 647.59,622.68 647.34,622.79 647.09,622.91 646.84,623.05 646.59,623.22 646.34,623.40 646.09,623.61 645.84,623.84 645.59,624.09 645.34,624.37 645.10,624.67 644.85,624.99 644.60,625.32 644.35,625.68 644.10,626.04 643.85,626.41 643.60,626.78 643.35,627.16 643.10,627.52 642.85,627.87 642.60,628.21 642.35,628.53 642.10,628.82 641.85,629.08 641.60,629.30 641.35,629.50 641.10,629.65 640.85,629.77 640.60,629.84 640.35,629.89 640.10,629.90 639.95,629.62 639.80,629.35 639.64,629.08 639.49,628.81 639.34,628.54 639.19,628.28 639.03,628.03 638.88,627.77 638.73,627.52 638.58,627.27 638.42,627.03 638.27,626.79 638.12,626.55 637.97,626.32 637.81,626.10 637.66,625.87 637.51,625.65 637.36,625.44 637.20,625.22 637.05,625.02 636.90,624.82 636.75,624.62 636.59,624.43 636.44,624.24 636.29,624.06 636.13,623.88 635.98,623.71 635.83,623.54 635.68,623.38 635.52,623.23 635.37,623.09 635.22,622.95 635.07,622.82 634.91,622.69 634.76,622.58 634.61,622.47 634.46,622.45 634.30,622.45 634.15,622.45 634.00,622.45" fill="#e874af" stroke="#3a3a3a" stroke-width="0.6" stroke-linejoin="round"/>
<circle cx="640.10" cy="622.20" r="1.05" fill="#111"/>
<path d="M634.0 638.50H649.6" stroke="#333" stroke-width="0.8"/>
<polygon points="634.00,638.25 634.12,638.25 634.25,638.25 634.38,638.25 634.50,638.25 634.62,638.16 634.75,638.05 634.88,637.94 635.00,637.82 635.12,637.70 635.25,637.56 635.38,637.42 635.50,637.28 635.62,637.13 635.75,636.97 635.88,636.81 636.00,636.65 636.12,636.48 636.25,636.30 636.38,636.12 636.50,635.94 636.62,635.75 636.75,635.56 636.88,635.36 637.00,635.16 637.12,634.96 637.25,634.75 637.38,634.54 637.50,634.33 637.62,634.11 637.75,633.89 637.88,633.66 638.00,633.44 638.12,633.20 638.25,632.97 638.38,632.73 638.50,632.49 638.62,632.25 638.75,632.00 638.88,631.75 639.00,631.50 639.19,631.51 639.38,631.55 639.57,631.62 639.76,631.73 639.95,631.87 640.13,632.04 640.32,632.25 640.51,632.48 640.70,632.75 640.89,633.03 641.08,633.34 641.27,633.66 641.46,634.00 641.65,634.33 641.84,634.67 642.02,635.01 642.21,635.34 642.40,635.66 642.59,635.97 642.78,636.25 642.97,636.53 643.16,636.78 643.35,637.01 643.54,637.22 643.73,637.41 643.91,637.58 644.10,637.72 644.29,637.85 644.48,637.97 644.67,638.06 644.86,638.15 645.05,638.21 645.24,638.25 645.43,638.25 645.62,638.25 645.80,638.25 645.99,638.25 646.18,638.25 646.37,638.25 646.56,638.25 646.56,638.75 646.37,638.75 646.18,638.75 645.99,638.75 645.80,638.75 645.62,638.75 645.43,638.75 645.24,638.75 645.05,638.79 644.86,638.85 644.67,638.94 644.48,639.03 644.29,639.15 644.10,639.28 643.91,639.42 643.73,639.59 643.54,639.78 643.35,639.99 643.16,640.22 642.97,640.47 642.78,640.75 642.59,641.03 642.40,641.34 642.21,641.66 642.02,641.99 641.84,642.33 641.65,642.67 641.46,643.00 641.27,643.34 641.08,643.66 640.89,643.97 640.70,644.25 640.51,644.52 640.32,644.75 640.13,644.96 639.95,645.13 639.76,645.27 639.57,645.38 639.38,645.45 639.19,645.49 639.00,645.50 638.88,645.25 638.75,645.00 638.62,644.75 638.50,644.51 638.38,644.27 638.25,644.03 638.12,643.80 638.00,643.56 637.88,643.34 637.75,643.11 637.62,642.89 637.50,642.67 637.38,642.46 637.25,642.25 637.12,642.04 637.00,641.84 636.88,641.64 636.75,641.44 636.62,641.25 636.50,641.06 636.38,640.88 636.25,640.70 636.12,640.52 636.00,640.35 635.88,640.19 635.75,640.03 635.62,639.87 635.50,639.72 635.38,639.58 635.25,639.44 635.12,639.30 635.00,639.18 634.88,639.06 634.75,638.95 634.62,638.84 634.50,638.75 634.38,638.75 634.25,638.75 634.12,638.75 634.00,638.75" fill="#e874af" stroke="#3a3a3a" stroke-width="0.6" stroke-linejoin="round"/>
<circle cx="639.00" cy="638.50" r="1.05" fill="#111"/>
<path d="M634.0 654.70H659.5" stroke="#333" stroke-width="0.8"/>
<polygon points="634.00,654.45 634.17,654.45 634.34,654.45 634.50,654.45 634.67,654.43 634.84,654.33 635.00,654.21 635.17,654.09 635.34,653.96 635.51,653.83 635.67,653.68 635.84,653.53 636.01,653.37 636.18,653.21 636.35,653.04 636.51,652.87 636.68,652.69 636.85,652.50 637.01,652.31 637.18,652.12 637.35,651.92 637.52,651.71 637.69,651.51 637.85,651.29 638.02,651.08 638.19,650.86 638.36,650.63 638.52,650.40 638.69,650.17 638.86,649.93 639.03,649.69 639.19,649.45 639.36,649.20 639.53,648.95 639.70,648.70 639.86,648.44 640.03,648.18 640.20,647.91 640.37,647.64 640.53,647.37 640.70,647.10 640.93,647.11 641.16,647.15 641.39,647.23 641.62,647.35 641.85,647.50 642.08,647.69 642.31,647.91 642.54,648.17 642.77,648.45 643.00,648.77 643.22,649.10 643.45,649.45 643.68,649.81 643.91,650.18 644.14,650.55 644.37,650.91 644.60,651.27 644.83,651.62 645.06,651.95 645.29,652.26 645.52,652.56 645.75,652.83 645.98,653.08 646.21,653.31 646.44,653.51 646.67,653.70 646.90,653.86 647.13,654.00 647.36,654.12 647.59,654.23 647.81,654.31 648.04,654.39 648.27,654.45 648.50,654.45 648.73,654.45 648.96,654.45 649.19,654.45 649.42,654.45 649.65,654.45 649.88,654.45 649.88,654.95 649.65,654.95 649.42,654.95 649.19,654.95 648.96,654.95 648.73,654.95 648.50,654.95 648.27,654.95 648.04,655.01 647.81,655.09 647.59,655.17 647.36,655.28 647.13,655.40 646.90,655.54 646.67,655.70 646.44,655.89 646.21,656.09 645.98,656.32 645.75,656.57 645.52,656.84 645.29,657.14 645.06,657.45 644.83,657.78 644.60,658.13 644.37,658.49 644.14,658.85 643.91,659.22 643.68,659.59 643.45,659.95 643.22,660.30 643.00,660.63 642.77,660.95 642.54,661.23 642.31,661.49 642.08,661.71 641.85,661.90 641.62,662.05 641.39,662.17 641.16,662.25 640.93,662.29 640.70,662.30 640.53,662.03 640.37,661.76 640.20,661.49 640.03,661.22 639.86,660.96 639.70,660.70 639.53,660.45 639.36,660.20 639.19,659.95 639.03,659.71 638.86,659.47 638.69,659.23 638.52,659.00 638.36,658.77 638.19,658.54 638.02,658.32 637.85,658.11 637.69,657.89 637.52,657.69 637.35,657.48 637.18,657.28 637.01,657.09 636.85,656.90 636.68,656.71 636.51,656.53 636.35,656.36 636.18,656.19 636.01,656.03 635.84,655.87 635.67,655.72 635.51,655.57 635.34,655.44 635.17,655.31 635.00,655.19 634.84,655.07 634.67,654.97 634.50,654.95 634.34,654.95 634.17,654.95 634.00,654.95" fill="#e874af" stroke="#3a3a3a" stroke-width="0.6" stroke-linejoin="round"/>
<circle cx="640.40" cy="654.70" r="1.05" fill="#111"/>
<path d="M634.0 671.10H668.0" stroke="#333" stroke-width="0.8"/>
<polygon points="634.00,670.85 634.16,670.85 634.32,670.85 634.48,670.85 634.64,670.83 634.80,670.73 634.96,670.61 635.12,670.49 635.28,670.36 635.44,670.23 635.60,670.08 635.76,669.93 635.92,669.77 636.08,669.61 636.24,669.44 636.40,669.27 636.56,669.09 636.72,668.90 636.88,668.71 637.04,668.52 637.20,668.32 637.36,668.11 637.52,667.91 637.68,667.69 637.84,667.48 638.00,667.26 638.16,667.03 638.32,666.80 638.48,666.57 638.64,666.33 638.80,666.09 638.96,665.85 639.12,665.60 639.28,665.35 639.44,665.10 639.60,664.84 639.76,664.58 639.92,664.31 640.08,664.04 640.24,663.77 640.40,663.50 640.62,663.51 640.83,663.55 641.05,663.63 641.26,663.75 641.48,663.90 641.70,664.09 641.91,664.31 642.13,664.57 642.34,664.85 642.56,665.17 642.78,665.50 642.99,665.85 643.21,666.21 643.42,666.58 643.64,666.95 643.86,667.31 644.07,667.67 644.29,668.02 644.50,668.35 644.72,668.66 644.94,668.96 645.15,669.23 645.37,669.48 645.58,669.71 645.80,669.91 646.02,670.10 646.23,670.26 646.45,670.40 646.66,670.52 646.88,670.63 647.10,670.71 647.31,670.79 647.53,670.85 647.74,670.85 647.96,670.85 648.18,670.85 648.39,670.85 648.61,670.85 648.82,670.85 649.04,670.85 649.04,671.35 648.82,671.35 648.61,671.35 648.39,671.35 648.18,671.35 647.96,671.35 647.74,671.35 647.53,671.35 647.31,671.41 647.10,671.49 646.88,671.57 646.66,671.68 646.45,671.80 646.23,671.94 646.02,672.10 645.80,672.29 645.58,672.49 645.37,672.72 645.15,672.97 644.94,673.24 644.72,673.54 644.50,673.85 644.29,674.18 644.07,674.53 643.86,674.89 643.64,675.25 643.42,675.62 643.21,675.99 642.99,676.35 642.78,676.70 642.56,677.03 642.34,677.35 642.13,677.63 641.91,677.89 641.70,678.11 641.48,678.30 641.26,678.45 641.05,678.57 640.83,678.65 640.62,678.69 640.40,678.70 640.24,678.43 640.08,678.16 639.92,677.89 639.76,677.62 639.60,677.36 639.44,677.10 639.28,676.85 639.12,676.60 638.96,676.35 638.80,676.11 638.64,675.87 638.48,675.63 638.32,675.40 638.16,675.17 638.00,674.94 637.84,674.72 637.68,674.51 637.52,674.29 637.36,674.09 637.20,673.88 637.04,673.68 636.88,673.49 636.72,673.30 636.56,673.11 636.40,672.93 636.24,672.76 636.08,672.59 635.92,672.43 635.76,672.27 635.60,672.12 635.44,671.97 635.28,671.84 635.12,671.71 634.96,671.59 634.80,671.47 634.64,671.37 634.48,671.35 634.32,671.35 634.16,671.35 634.00,671.35" fill="#e874af" stroke="#3a3a3a" stroke-width="0.6" stroke-linejoin="round"/>
<circle cx="640.40" cy="671.10" r="1.05" fill="#111"/>
<path d="M634.0 687.40H659.5" stroke="#333" stroke-width="0.8"/>
<polygon points="634.00,687.15 634.15,687.15 634.30,687.15 634.46,687.15 634.61,687.13 634.76,687.03 634.91,686.91 635.07,686.79 635.22,686.66 635.37,686.53 635.52,686.38 635.68,686.23 635.83,686.07 635.98,685.91 636.13,685.74 636.29,685.57 636.44,685.39 636.59,685.20 636.75,685.01 636.90,684.82 637.05,684.62 637.20,684.41 637.36,684.21 637.51,683.99 637.66,683.78 637.81,683.56 637.97,683.33 638.12,683.10 638.27,682.87 638.42,682.63 638.58,682.39 638.73,682.15 638.88,681.90 639.03,681.65 639.19,681.40 639.34,681.14 639.49,680.88 639.64,680.61 639.80,680.34 639.95,680.07 640.10,679.80 640.33,679.81 640.55,679.85 640.78,679.93 641.00,680.05 641.23,680.20 641.46,680.39 641.68,680.61 641.91,680.87 642.14,681.15 642.36,681.47 642.59,681.80 642.81,682.15 643.04,682.51 643.27,682.88 643.49,683.25 643.72,683.61 643.94,683.97 644.17,684.32 644.40,684.65 644.62,684.96 644.85,685.26 645.07,685.53 645.30,685.78 645.53,686.01 645.75,686.21 645.98,686.40 646.21,686.56 646.43,686.70 646.66,686.82 646.88,686.93 647.11,687.01 647.34,687.09 647.56,687.15 647.79,687.15 648.01,687.15 648.24,687.15 648.47,687.15 648.69,687.15 648.92,687.15 649.14,687.15 649.14,687.65 648.92,687.65 648.69,687.65 648.47,687.65 648.24,687.65 648.01,687.65 647.79,687.65 647.56,687.65 647.34,687.71 647.11,687.79 646.88,687.87 646.66,687.98 646.43,688.10 646.21,688.24 645.98,688.40 645.75,688.59 645.53,688.79 645.30,689.02 645.07,689.27 644.85,689.54 644.62,689.84 644.40,690.15 644.17,690.48 643.94,690.83 643.72,691.19 643.49,691.55 643.27,691.92 643.04,692.29 642.81,692.65 642.59,693.00 642.36,693.33 642.14,693.65 641.91,693.93 641.68,694.19 641.46,694.41 641.23,694.60 641.00,694.75 640.78,694.87 640.55,694.95 640.33,694.99 640.10,695.00 639.95,694.73 639.80,694.46 639.64,694.19 639.49,693.92 639.34,693.66 639.19,693.40 639.03,693.15 638.88,692.90 638.73,692.65 638.58,692.41 638.42,692.17 638.27,691.93 638.12,691.70 637.97,691.47 637.81,691.24 637.66,691.02 637.51,690.81 637.36,690.59 637.20,690.39 637.05,690.18 636.90,689.98 636.75,689.79 636.59,689.60 636.44,689.41 636.29,689.23 636.13,689.06 635.98,688.89 635.83,688.73 635.68,688.57 635.52,688.42 635.37,688.27 635.22,688.14 635.07,688.01 634.91,687.89 634.76,687.77 634.61,687.67 634.46,687.65 634.30,687.65 634.15,687.65 634.00,687.65" fill="#e874af" stroke="#3a3a3a" stroke-width="0.6" stroke-linejoin="round"/>
<circle cx="639.60" cy="687.40" r="1.05" fill="#111"/>
<path d="M634.7 703.90H660.9" stroke="#333" stroke-width="0.8"/>
<polygon points="634.70,703.65 634.86,703.65 635.02,703.65 635.18,703.65 635.34,703.63 635.50,703.52 635.66,703.41 635.82,703.28 635.98,703.15 636.14,703.01 636.30,702.87 636.46,702.72 636.62,702.56 636.78,702.39 636.94,702.22 637.10,702.04 637.26,701.86 637.42,701.67 637.58,701.48 637.74,701.28 637.90,701.08 638.06,700.88 638.22,700.66 638.38,700.45 638.54,700.23 638.70,700.00 638.86,699.78 639.02,699.55 639.18,699.31 639.34,699.07 639.50,698.83 639.66,698.58 639.82,698.33 639.98,698.07 640.14,697.82 640.30,697.56 640.46,697.29 640.62,697.02 640.78,696.75 640.94,696.48 641.10,696.20 641.32,696.21 641.53,696.26 641.75,696.33 641.96,696.45 642.18,696.60 642.40,696.80 642.61,697.02 642.83,697.28 643.04,697.57 643.26,697.89 643.48,698.23 643.69,698.58 643.91,698.94 644.12,699.32 644.34,699.69 644.56,700.06 644.77,700.42 644.99,700.78 645.20,701.11 645.42,701.43 645.64,701.73 645.85,702.01 646.07,702.26 646.28,702.49 646.50,702.70 646.72,702.88 646.93,703.05 647.15,703.19 647.36,703.31 647.58,703.42 647.80,703.51 648.01,703.59 648.23,703.65 648.44,703.65 648.66,703.65 648.88,703.65 649.09,703.65 649.31,703.65 649.52,703.65 649.74,703.65 649.74,704.15 649.52,704.15 649.31,704.15 649.09,704.15 648.88,704.15 648.66,704.15 648.44,704.15 648.23,704.15 648.01,704.21 647.80,704.29 647.58,704.38 647.36,704.49 647.15,704.61 646.93,704.75 646.72,704.92 646.50,705.10 646.28,705.31 646.07,705.54 645.85,705.79 645.64,706.07 645.42,706.37 645.20,706.69 644.99,707.02 644.77,707.38 644.56,707.74 644.34,708.11 644.12,708.48 643.91,708.86 643.69,709.22 643.48,709.57 643.26,709.91 643.04,710.23 642.83,710.52 642.61,710.78 642.40,711.00 642.18,711.20 641.96,711.35 641.75,711.47 641.53,711.54 641.32,711.59 641.10,711.60 640.94,711.32 640.78,711.05 640.62,710.78 640.46,710.51 640.30,710.24 640.14,709.98 639.98,709.73 639.82,709.47 639.66,709.22 639.50,708.97 639.34,708.73 639.18,708.49 639.02,708.25 638.86,708.02 638.70,707.80 638.54,707.57 638.38,707.35 638.22,707.14 638.06,706.92 637.90,706.72 637.74,706.52 637.58,706.32 637.42,706.13 637.26,705.94 637.10,705.76 636.94,705.58 636.78,705.41 636.62,705.24 636.46,705.08 636.30,704.93 636.14,704.79 635.98,704.65 635.82,704.52 635.66,704.39 635.50,704.28 635.34,704.17 635.18,704.15 635.02,704.15 634.86,704.15 634.70,704.15" fill="#e874af" stroke="#3a3a3a" stroke-width="0.6" stroke-linejoin="round"/>
<circle cx="641.40" cy="703.90" r="1.05" fill="#111"/>
<path d="M640.1 613.9V661.7M640.1 664.7V711.8" stroke="#222" stroke-width="0.7"/>
<path d="M335.3 612.4H675.4V713.3H335.3ZM335.3 663.2H675.4M377.7 612.4V713.3M420.6 612.4V713.3M462.7 612.4V713.3M505.4 612.4V713.3M547.7 612.4V713.3M590.2 612.4V713.3M632.6 612.4V713.3" stroke="#444" stroke-width="0.7" fill="none"/>
<text x="359.10" y="607.20" dy="0.35em" font-size="7.4" text-anchor="middle" fill="#333">HM</text>
<text x="396.50" y="607.20" dy="0.35em" font-size="7.4" text-anchor="middle" fill="#333">tCRM</text>
<text x="441.70" y="607.20" dy="0.35em" font-size="7.4" text-anchor="middle" fill="#333">CRM1</text>
<text x="485.10" y="607.20" dy="0.35em" font-size="7.4" text-anchor="middle" fill="#333">CRM2</text>
<text x="527.90" y="607.20" dy="0.35em" font-size="7.4" text-anchor="middle" fill="#333">TRM</text>
<text x="570.20" y="607.20" dy="0.35em" font-size="7.4" text-anchor="middle" fill="#333">DAM</text>
<text x="612.20" y="607.20" dy="0.35em" font-size="7.4" text-anchor="middle" fill="#333">HLA</text>
<text x="654.80" y="607.20" dy="0.35em" font-size="7.4" text-anchor="middle" fill="#333">IRM</text>
<text x="330.60" y="622.20" dy="0.35em" font-size="7.4" text-anchor="end" fill="#333">Healthy</text>
<text x="330.60" y="638.50" dy="0.35em" font-size="7.4" text-anchor="end" fill="#333">C9-ALS</text>
<text x="330.60" y="654.70" dy="0.35em" font-size="7.4" text-anchor="end" fill="#333">sALS</text>
<text x="330.60" y="671.10" dy="0.35em" font-size="7.4" text-anchor="end" fill="#333">Healthy</text>
<text x="330.60" y="687.40" dy="0.35em" font-size="7.4" text-anchor="end" fill="#333">C9-ALS</text>
<text x="330.60" y="703.90" dy="0.35em" font-size="7.4" text-anchor="end" fill="#333">sALS</text>
<text x="368.70" y="721.60" dy="0.35em" font-size="7.4" text-anchor="middle" fill="#333">0.9</text>
<text x="410.40" y="721.60" dy="0.35em" font-size="7.4" text-anchor="middle" fill="#333">0.9</text>
<text x="452.70" y="721.60" dy="0.35em" font-size="7.4" text-anchor="middle" fill="#333">0.8</text>
<text x="494.60" y="721.60" dy="0.35em" font-size="7.4" text-anchor="middle" fill="#333">0.8</text>
<text x="535.80" y="721.60" dy="0.35em" font-size="7.4" text-anchor="middle" fill="#333">2</text>
<text x="577.60" y="721.60" dy="0.35em" font-size="7.4" text-anchor="middle" fill="#333">1</text>
<text x="619.80" y="721.60" dy="0.35em" font-size="7.4" text-anchor="middle" fill="#333">2</text>
<text x="662.50" y="721.60" dy="0.35em" font-size="7.4" text-anchor="middle" fill="#333">0.8</text>
<path d="M332.5 622.2H335.3M332.5 638.5H335.3M332.5 654.7H335.3M332.5 671.1H335.3M332.5 687.4H335.3M332.5 703.9H335.3M339.5 713.3V715.5999999999999M350.6 713.3V715.5999999999999M361.6 713.3V715.5999999999999M372.6 713.3V715.5999999999999M382.0 713.3V715.5999999999999M393.1 713.3V715.5999999999999M404.3 713.3V715.5999999999999M415.5 713.3V715.5999999999999M424.8 713.3V715.5999999999999M435.8 713.3V715.5999999999999M446.7 713.3V715.5999999999999M457.6 713.3V715.5999999999999M467.0 713.3V715.5999999999999M478.1 713.3V715.5999999999999M489.2 713.3V715.5999999999999M500.3 713.3V715.5999999999999M509.6 713.3V715.5999999999999M520.6 713.3V715.5999999999999M531.6 713.3V715.5999999999999M542.6 713.3V715.5999999999999M552.0 713.3V715.5999999999999M563.0 713.3V715.5999999999999M574.1 713.3V715.5999999999999M585.1 713.3V715.5999999999999M594.4 713.3V715.5999999999999M605.5 713.3V715.5999999999999M616.5 713.3V715.5999999999999M627.5 713.3V715.5999999999999M636.9 713.3V715.5999999999999M648.0 713.3V715.5999999999999M659.1 713.3V715.5999999999999M670.3 713.3V715.5999999999999" stroke="#555" stroke-width="0.6"/>
<text x="504.90" y="733.00" dy="0.35em" font-size="7.4" text-anchor="middle" fill="#333">Expression level</text>
<text x="682.00" y="637.80" dy="0.35em" font-size="7.6" text-anchor="middle" fill="#333" transform="rotate(90 682.00 637.80)">Motor cortex</text>
<text x="682.00" y="688.20" dy="0.35em" font-size="7.6" text-anchor="middle" fill="#333" transform="rotate(90 682.00 688.20)">Spinal cord</text>
<text transform="translate(0.00 774.70) scale(1.17 1)" font-size="15" font-weight="bold" fill="#111" stroke="#111" stroke-width="0.6">i</text>
<text x="36.30" y="772.20" dy="0.35em" font-size="7.3" fill="#333">All GRN_FTD/Spinal Cord C9_ALS versus healthy</text>
<path d="M54.5 780.2V1016.3M100.5 780.2V1016.3M192.5 780.2V1016.3M238.5 780.2V1016.3M35.2 965.4H256.0M35.2 860.0H256.0M35.2 807.3H256.0" stroke="#e4e4e4" stroke-width="0.6" fill="none"/>
<path d="M128.1 780.2V1016.3M164.9 780.2V1016.3M35.2 891.6H256.0M35.2 933.8H256.0M35.2 939.1H256.0" stroke="#bdbdbd" stroke-width="0.6" stroke-dasharray="1.2 1.2" fill="none"/>
<path d="M146.5 780.2V1016.3" stroke="#555" stroke-width="0.8"/>
<path d="M35.2 912.7H256.0" stroke="#999" stroke-width="0.9"/>
<path transform="scale(.5)" d="M326 1630h0m-17 23h0m35 10h0m26 34h0m-29 11h0m-47 1h0m-59 12h0m-24 5h0m24-2h0m4 8h0m125-5h0m-106 10h0m8 1h0m28-1h0m5 3h0m3 0h0m5-5h0m17 2h0m-30 7h0m14 0h0m0 1h0m-87 7h0m51 2h0m12-6h0m53 3h0m8 4h0m7-3h0m-170 11h0m19-3h0m23 1h0m2-3h0m4 4h0m28-1h0m13 3h0m19-8h0m11 1h0m2 0h0m1 7h0m5-3h0m2 2h0m4-2h0m3-4h0m-84 8h0m13 0h0m16 0h0m5 7h0m3 0h0m16-3h0m1-1h0m3-1h0m2-1h0m2-1h0m1 1h0m24-1h0m0 0h0m0 6h0m2-5h0m3 0h0m1 0h0m0 3h0m-124 8h0m11-5h0m20 0h0m14 4h0m5 3h0m9 0h0m1 1h0m4-6h0m4 3h0m1-1h0m6 1h0m0 2h0m3-2h0m0 2h0m3-5h0m0 0h0m1 1h0m2 1h0m3 1h0m0-2h0m0 0h0m2 4h0m8-7h0m2 8h0m1-3h0m3-1h0m1 4h0m2-4h0m1 3h0m3-3h0m1 1h0m2 1h0m2-5h0m2 6h0m5-6h0m2 0h0m1 6h0m-112 3h0m27-1h0m0 6h0m2-2h0m0 3h0m7-2h0m3 1h0m4-6h0m0 5h0m4-5h0m0 1h0m6 4h0m3-1h0m0-2h0m0 1h0m2 2h0m1-5h0m0 2h0m1 3h0m1-4h0m1 5h0m2-2h0m2 1h0m2 1h0m1-1h0m1 0h0m0-4h0m1 0h0m0 1h0m3-1h0m0 6h0m1-3h0m1-5h0m1 5h0m1 1h0m1-3h0m1 2h0m0 0h0m1 3h0m0-4h0m1-1h0m0 5h0m1-3h0m1-1h0m1 2h0m1-5h0m1 6h0m0-2h0m1-2h0m0 4h0m0-6h0m0 0h0m2 1h0m0 1h0m0 5h0m3-4h0m3-1h0m1 3h0m6-1h0m0 1h0m0-1h0m3 2h0m7 0h0m2-2h0m5-3h0m3 4h0m1-1h0m15-1h0m6-1h0m-245 9h0m114 3h0m14-7h0m11 2h0m0 6h0m3-1h0m7-5h0m2 4h0m3 1h0m0-1h0m0 1h0m2 1h0m0-3h0m4 1h0m1-3h0m0 4h0m0-3h0m2 2h0m1-2h0m1-2h0m0-1h0m1 4h0m1-1h0m1 2h0m0-2h0m0 0h0m0-2h0m1 5h0m0-1h0m1 1h0m0-1h0m1-5h0m0 3h0m2 0h0m0 2h0m0 0h0m0 1h0m0-2h0m1-2h0m0 4h0m0-1h0m1-1h0m0 0h0m0-1h0m0-1h0m0-1h0m1 3h0m0 1h0m0-2h0m1-2h0m0-1h0m0 2h0m1-1h0m0 4h0m0-5h0m1 1h0m0-1h0m1 1h0m0-1h0m1 4h0m0-4h0m1 3h0m0 4h0m0-1h0m0 1h0m0-7h0m0 1h0m1 3h0m0-1h0m0 2h0m0-4h0m1-1h0m2 5h0m0 1h0m2 1h0m0-6h0m1-1h0m0 6h0m0-1h0m1 0h0m1-2h0m0 0h0m0-3h0m0 0h0m0 2h0m1 2h0m0 2h0m0-4h0m1 3h0m0 1h0m0-3h0m1-3h0m0 5h0m1-2h0m1 1h0m0 0h0m1-3h0m1 5h0m1-1h0m0 1h0m2-4h0m1 3h0m0-4h0m1 0h0m0 5h0m3 0h0m0 0h0m7-4h0m0 3h0m6-6h0m7 4h0m19-2h0m59-1h0m-303 10h0m74 0h0m24-1h0m2 4h0m8 1h0m13-3h0m11-4h0m5 6h0m5-2h0m0-3h0m1 0h0m1 3h0m1-3h0m0 0h0m2 5h0m1-5h0m1 3h0m1-3h0m1 3h0m0 3h0m0 1h0m1-2h0m0 1h0m1-6h0m1 1h0m1-2h0m1 2h0m2 0h0m0 5h0m0-3h0m1 1h0m0 1h0m0-5h0m1 1h0m0 4h0m1-5h0m0 6h0m0-6h0m0 5h0m1-2h0m0 3h0m0-6h0m0 1h0m1 2h0m0 1h0m1-2h0m0 0h0m0-2h0m0 5h0m0 0h0m1-1h0m0-3h0m0 0h0m0 2h0m0 3h0m0-3h0m1-3h0m0 5h0m0 0h0m1-2h0m1 2h0m0-2h0m0 3h0m1-1h0m1-5h0m0 0h0m0 5h0m1-1h0m0 3h0m0-8h0m1 2h0m0 2h0m0 0h0m0 3h0m1-7h0m0 3h0m0 4h0m0-1h0m0-4h0m0 4h0m0 1h0m0 0h0m0 1h0m1-2h0m0-4h0m0 3h0m0-4h0m1 1h0m0 5h0m0-2h0m0-4h0m0 5h0m0-5h0m1 2h0m0 1h0m0 3h0m0-2h0m0 2h0m1-2h0m1-5h0m0 6h0m0-5h0m0 5h0m0-5h0m0 1h0m0 1h0m1 4h0m0-6h0m0 6h0m0-1h0m0-6h0m0 5h0m0 2h0m1-3h0m0 2h0m0 0h0m0-5h0m0 2h0m1-3h0m0 7h0m0-6h0m0 5h0m0 0h0m0-1h0m0 1h0m1-3h0m0-1h0m0 1h0m1 0h0m0-2h0m0 6h0m0-7h0m0 4h0m0 2h0m0-1h0m0 0h0m1 2h0m0 0h0m0-2h0m0 2h0m1 0h0m0-1h0m0-1h0m0-1h0m0 1h0m0-5h0m0 7h0m1 0h0m0 1h0m0-6h0m0 3h0m1-4h0m0 0h0m0 6h0m0-2h0m1 3h0m0-4h0m0-1h0m0 5h0m0-3h0m1-3h0m0 1h0m0-1h0m1 5h0m0 0h0m1 0h0m0-2h0m0-4h0m1 5h0m1-5h0m0 3h0m1 3h0m1 0h0m0-2h0m0-1h0m1-3h0m0 5h0m1-5h0m0-1h0m0 1h0m0 6h0m2-4h0m1 1h0m2-1h0m4 4h0m0 0h0m0-4h0m2-1h0m0 0h0m0 2h0m3-1h0m2-2h0m1 2h0m1-2h0m14 5h0m4 0h0m6 0h0m3-4h0m4 3h0m3 1h0m13-6h0m-215 12h0m77 2h0m0-1h0m6 2h0m10-6h0m4 1h0m0 2h0m3 1h0m0-4h0m1 2h0m1 5h0m0-1h0m0-2h0m0 2h0m2-4h0m3-2h0m0-1h0m0 6h0m1-6h0m0 4h0m0 2h0m1-5h0m1 5h0m0-4h0m0 2h0m0-1h0m1 5h0m0 0h0m1-8h0m0 6h0m1-1h0m0 2h0m0-4h0m0 3h0m0 1h0m1-5h0m0 1h0m1 4h0m0-7h0m0 5h0m0-3h0m0 1h0m0 2h0m1 1h0m0-3h0m0 4h0m0-2h0m1 2h0m0-7h0m0 1h0m0 0h0m0 0h0m0 0h0m1 4h0m0-1h0m0 2h0m0 1h0m0-6h0m1 6h0m0-3h0m0 0h0m1-1h0m0-1h0m0 5h0m0-2h0m1 2h0m0-1h0m0-3h0m0-2h0m1-1h0m0 4h0m0-4h0m0 4h0m0 2h0m0-1h0m0 1h0m0-3h0m0 5h0m0-3h0m0 3h0m0-6h0m1-1h0m0 2h0m0 3h0m1-4h0m0-1h0m0 3h0m0 3h0m0-2h0m0-2h0m0 0h0m1 4h0m0-1h0m0 0h0m0 1h0m0-3h0m0 4h0m0-3h0m1-5h0m0 6h0m0 2h0m0-2h0m0-1h0m0 0h0m0 3h0m0-7h0m0 3h0m0 4h0m0-5h0m0 2h0m0 1h0m0-6h0m0 6h0m1 2h0m0-1h0m0-3h0m0 3h0m0-1h0m0 2h0m0 0h0m0-1h0m1-2h0m0 1h0m0-4h0m0 5h0m0-7h0m1 3h0m0 2h0m0-4h0m0 5h0m0-3h0m0-1h0m0 1h0m0 4h0m0-5h0m0-2h0m0 3h0m1 0h0m0 0h0m0 3h0m0-1h0m0 1h0m0 2h0m0-3h0m0 0h0m0-1h0m1-4h0m0 7h0m0-1h0m0-6h0m0 8h0m0-4h0m0-3h0m0 6h0m0-2h0m0-4h0m0 4h0m0 2h0m0-1h0m1-1h0m0 2h0m0-5h0m0 4h0m0-2h0m0 1h0m0-3h0m0 4h0m1-4h0m0 4h0m0 1h0m0-3h0m0-3h0m1 3h0m0-3h0m0 3h0m0 3h0m0 1h0m0-4h0m0 2h0m0-4h0m1 1h0m0 2h0m0-1h0m0 0h0m0 3h0m0-5h0m0 4h0m0-5h0m0 7h0m0-5h0m1 2h0m0 1h0m0 1h0m0-2h0m0 0h0m0 0h0m0-3h0m0 3h0m0 2h0m0 1h0m0-1h0m1-1h0m0-1h0m0-3h0m0 5h0m0 0h0m0-1h0m0 1h0m0-6h0m0 5h0m0 1h0m0 1h0m1-1h0m0 1h0m0-2h0m0-2h0m0 2h0m0 2h0m0-5h0m1 4h0m0-1h0m0-1h0m0 2h0m0-3h0m0 0h0m0 0h0m0 1h0m0-2h0m0 3h0m1 0h0m0-4h0m0 5h0m0-2h0m0 2h0m1-4h0m0 4h0m0 0h0m1-4h0m0 1h0m0 3h0m0-4h0m0 3h0m0-5h0m1 1h0m0-1h0m0 7h0m0-4h0m0 2h0m0-3h0m0 1h0m0 3h0m1-3h0m0 0h0m0-4h0m0 5h0m0 0h0m1-2h0m0 4h0m0-4h0m0 3h0m0 1h0m1 1h0m0-7h0m1 3h0m0 3h0m0-1h0m1 0h0m0-3h0m0-1h0m0 2h0m0 3h0m0-1h0m0-3h0m1-1h0m0 3h0m0-4h0m0 5h0m1 0h0m0 1h0m0-3h0m1 1h0m0-1h0m0-2h0m0 0h0m0 2h0m0-2h0m1 3h0m0-4h0m1 3h0m0-1h0m0 0h0m1-2h0m0 5h0m1 1h0m2-2h0m0 3h0m0-2h0m1-3h0m0 4h0m0-5h0m1 6h0m1-7h0m0 6h0m3-4h0m2-2h0m2 4h0m0-1h0m1-3h0m2 7h0m2-2h0m0-5h0m0 1h0m2 4h0m5-5h0m26 0h0m9-1h0m5 7h0m37-2h0m-271 6h0m64-3h0m1 4h0m13 2h0m7 2h0m2-3h0m2-4h0m4 0h0m2 4h0m10-5h0m7 0h0m1 1h0m2 0h0m1 7h0m0-8h0m0 0h0m1 7h0m0-3h0m0-3h0m2 7h0m2-5h0m0 4h0m0-3h0m1-4h0m2 3h0m0 2h0m1-1h0m0 1h0m0-3h0m0 4h0m0-5h0m0 0h0m1 4h0m0-4h0m0-1h0m1 0h0m0 5h0m0-1h0m0 0h0m0-2h0m0 5h0m0-3h0m0 1h0m2 2h0m1-3h0m0-1h0m0-1h0m0 2h0m0 4h0m1 0h0m0-4h0m0-1h0m0-2h0m0-1h0m1 6h0m0-2h0m0-2h0m0 5h0m0 0h0m1-3h0m0-2h0m0 5h0m0-5h0m1 0h0m0 1h0m0-2h0m0 6h0m0-4h0m0 5h0m0-5h0m0 5h0m1-2h0m0 0h0m0 0h0m0 1h0m1-3h0m0 4h0m0-4h0m0-2h0m0 3h0m0 0h0m0 2h0m0-4h0m0 5h0m0-5h0m1 1h0m0 2h0m0 1h0m0-6h0m0 0h0m0 5h0m0-3h0m0-1h0m1-1h0m0 3h0m0 1h0m0-2h0m0 4h0m0-2h0m0 0h0m0 2h0m1-4h0m0 3h0m0 1h0m0-2h0m0-5h0m0 1h0m0 6h0m0-1h0m0 1h0m0-6h0m0 1h0m1 0h0m0 3h0m0-2h0m0 4h0m0-3h0m0-2h0m0 3h0m0-1h0m1 2h0m0 0h0m0-5h0m0 6h0m0-1h0m0-1h0m0-2h0m1-1h0m0 5h0m0-1h0m0-2h0m0 3h0m0-1h0m0-5h0m0 4h0m0 3h0m0-2h0m0-1h0m0 0h0m0 0h0m0 1h0m0 2h0m1-2h0m0-3h0m0 0h0m0 3h0m0 1h0m0-4h0m0 3h0m1-5h0m0 0h0m0 5h0m0 0h0m0 2h0m0-6h0m0 3h0m0-2h0m1-2h0m0 5h0m0 1h0m0-4h0m0 3h0m0-1h0m0-2h0m1-3h0m0 3h0m0-1h0m0-1h0m0 0h0m0 3h0m1-3h0m0 6h0m0-3h0m0-1h0m0 4h0m1-6h0m0 2h0m0 4h0m0-3h0m0-1h0m0-1h0m0 0h0m0 2h0m0-3h0m0 4h0m0 1h0m0-2h0m0-1h0m0 2h0m1-1h0m0 0h0m0-3h0m0-1h0m0 6h0m0 2h0m0-3h0m0 2h0m0-1h0m0 1h0m0-6h0m0-1h0m0 2h0m0-1h0m1 2h0m0-1h0m0 0h0m0 0h0m0-1h0m0 5h0m0-2h0m0-4h0m0 7h0m0-5h0m0 2h0m0 2h0m1 1h0m0 0h0m0 1h0m0-5h0m0-2h0m0 2h0m1-3h0m0 3h0m0 3h0m0 1h0m0-2h0m0-2h0m0 5h0m1-1h0m0-6h0m0 7h0m0-4h0m0-1h0m0 4h0m0-2h0m0-2h0m1 4h0m0 0h0m0-5h0m0 0h0m0 5h0m0-5h0m0 6h0m0-7h0m0 4h0m0-5h0m0 0h0m0 2h0m0 0h0m0 1h0m1-1h0m0 3h0m0-4h0m0 4h0m0 2h0m0 1h0m1-7h0m0 6h0m0-4h0m0 2h0m1 1h0m0-4h0m0 3h0m0-4h0m1 2h0m0 1h0m0-1h0m0-1h0m0 3h0m1-1h0m0-2h0m0 2h0m0 2h0m0-2h0m0 4h0m1-3h0m0 0h0m0 1h0m0 1h0m0-2h0m0-3h0m1 3h0m0 3h0m0-7h0m1 6h0m0-5h0m0 4h0m0 0h0m0 1h0m0 1h0m1-4h0m0 2h0m0 0h0m1-4h0m0 3h0m0-3h0m0 5h0m0-4h0m1 5h0m0-4h0m1 0h0m1 1h0m0 0h0m0 3h0m1-7h0m0 7h0m1-4h0m0-2h0m0 1h0m1 2h0m0-2h0m0 1h0m1-3h0m0 5h0m3-3h0m0-3h0m1 1h0m0 1h0m1 3h0m1-5h0m0 2h0m0 3h0m2-3h0m1-1h0m1 5h0m3-1h0m0-3h0m9 2h0m1 4h0m6-5h0m2 0h0m1 4h0m4-6h0m1-1h0m5 7h0m13-3h0m23-4h0m-266 15h0m98-5h0m4-2h0m14 3h0m6 5h0m1-5h0m3 1h0m2 2h0m2 2h0m0-5h0m5 1h0m3 1h0m0-3h0m1 2h0m1-4h0m0 0h0m1 4h0m0-1h0m0 4h0m0-1h0m0-3h0m1 3h0m0-3h0m1 3h0m0-1h0m1 1h0m0-5h0m0-1h0m0 1h0m0 7h0m1-8h0m0 2h0m0-1h0m0 0h0m0 1h0m1-1h0m0 1h0m0 4h0m0 0h0m0 0h0m0-1h0m1-4h0m0 7h0m0-6h0m0 4h0m0-2h0m1 0h0m0-2h0m0 3h0m0 2h0m0 0h0m0-6h0m1 3h0m0 3h0m0-7h0m0 1h0m0 2h0m1-2h0m0 3h0m0 2h0m0-3h0m0 2h0m0-4h0m0 4h0m0 1h0m0-2h0m1-3h0m0 2h0m0-3h0m0 3h0m0 3h0m1-2h0m0 2h0m0-3h0m0-3h0m0 7h0m0-7h0m0 0h0m0 7h0m0-3h0m0 1h0m0 1h0m1-1h0m0 3h0m0-7h0m0 1h0m0 0h0m0-2h0m1 3h0m0 3h0m0-1h0m0 1h0m0-4h0m0 1h0m0 1h0m0-1h0m0 2h0m0-1h0m0-2h0m1 3h0m0 2h0m0-4h0m0-2h0m0 0h0m0 1h0m0 2h0m0-2h0m0 4h0m1-4h0m0 4h0m0 1h0m0 0h0m0-4h0m0 3h0m1 1h0m0-1h0m0-3h0m0-1h0m0-1h0m1 0h0m0 7h0m0-7h0m0 0h0m0 0h0m0 2h0m0 2h0m0-4h0m1 5h0m0 0h0m0 1h0m0-6h0m0 3h0m0-2h0m0 5h0m0-2h0m0 2h0m0 0h0m0-3h0m1 0h0m0-2h0m0-1h0m0 5h0m0-4h0m0 5h0m0-1h0m0-1h0m0-1h0m0-2h0m0 5h0m1-3h0m0-3h0m0 5h0m0-2h0m0-1h0m0 5h0m0-3h0m1 2h0m0 0h0m0-4h0m0 0h0m0 4h0m1-4h0m0 4h0m0-5h0m0-1h0m0 1h0m0 1h0m1-1h0m0-1h0m0 6h0m0-3h0m0-1h0m0 5h0m0-3h0m0 1h0m1 1h0m0 0h0m0-5h0m0 4h0m0 0h0m0-5h0m0 3h0m0-2h0m0-2h0m0 6h0m0-4h0m0 2h0m1-2h0m0 5h0m0 1h0m0-2h0m0-3h0m0-2h0m0 0h0m0 5h0m0-2h0m0 1h0m0 2h0m0-5h0m0 4h0m0-3h0m0 1h0m0-2h0m0 3h0m0 3h0m0-7h0m1 5h0m0-3h0m0 1h0m0-2h0m0 4h0m0 0h0m0 1h0m0-1h0m1 1h0m0-6h0m0 6h0m0 0h0m0-6h0m0-1h0m0 6h0m0-4h0m0 4h0m0 1h0m0-4h0m0 5h0m1-2h0m0 0h0m0-2h0m0-4h0m0 5h0m0-3h0m0 1h0m1 3h0m0-3h0m0-3h0m0 2h0m0-1h0m0 5h0m0-2h0m0 3h0m0-6h0m0 6h0m0-6h0m0 0h0m0 5h0m1-5h0m0 3h0m0 0h0m0-3h0m0 2h0m0-1h0m0 3h0m1-3h0m0-2h0m0 4h0m0 2h0m0 2h0m0-2h0m0-3h0m1-3h0m0 1h0m0 4h0m0 2h0m0-5h0m0-1h0m0 1h0m0 6h0m1-1h0m0-5h0m0 0h0m0 2h0m0-4h0m0 7h0m0-3h0m0-3h0m0 2h0m1-2h0m0 0h0m0 5h0m0-6h0m0 3h0m0 1h0m1-3h0m0 3h0m0-4h0m0 7h0m0-6h0m0 6h0m0-2h0m0-2h0m0 2h0m0 1h0m0-4h0m0-2h0m0 1h0m0 1h0m1-1h0m0 6h0m0-6h0m0 1h0m0 3h0m1-4h0m0 6h0m0-5h0m0 0h0m0 6h0m0-4h0m1 1h0m0-5h0m0 4h0m1 0h0m0-2h0m1 1h0m0 1h0m0 2h0m0-3h0m1 1h0m0 2h0m1-1h0m0-4h0m0 3h0m0 2h0m0-4h0m1 0h0m0 5h0m0-6h0m0 4h0m1-2h0m0 5h0m0-2h0m0-3h0m0 1h0m1 0h0m0-3h0m0 1h0m1 2h0m0 3h0m1 0h0m0-6h0m1 7h0m2-5h0m0-2h0m0 3h0m0-2h0m0 2h0m1-3h0m1 0h0m1 6h0m0-2h0m0-4h0m0 4h0m0-1h0m2 1h0m1 1h0m2-3h0m0 2h0m0 0h0m3 0h0m0 0h0m13-1h0m21 0h0m-152 6h0m20-2h0m6 6h0m1 0h0m0-3h0m3-1h0m2 0h0m12 0h0m2-2h0m0 8h0m1-6h0m1 4h0m1 1h0m1-7h0m2 0h0m2 3h0m1-1h0m1 0h0m2 4h0m0 0h0m0 1h0m1-5h0m1 2h0m0-2h0m0 3h0m0-4h0m0 2h0m2-1h0m0-2h0m0 2h0m1 3h0m0-4h0m0 0h0m1 6h0m0 0h0m0-6h0m0 5h0m0 0h0m1-4h0m0-1h0m0 1h0m0 1h0m0 1h0m1-2h0m0 2h0m0 0h0m1-2h0m0 3h0m0 1h0m0-3h0m1-1h0m0-2h0m0 1h0m0-1h0m1 7h0m0 1h0m0-8h0m0 1h0m0 6h0m0-6h0m0 5h0m0 2h0m1-7h0m0 1h0m0 0h0m0 0h0m0-1h0m0 0h0m0 4h0m0 2h0m0-5h0m1-2h0m0 3h0m0-1h0m0 0h0m0 0h0m0 2h0m0-4h0m0 0h0m0 1h0m0 5h0m0-1h0m0-3h0m0 2h0m0-2h0m0 1h0m0-1h0m0 2h0m0 1h0m1-1h0m0 0h0m0 4h0m0 0h0m0-6h0m0 0h0m0 2h0m0-3h0m0 5h0m0-6h0m1 1h0m0 2h0m0 4h0m0-5h0m0 6h0m1-7h0m0 1h0m0 3h0m0 0h0m0 2h0m1-6h0m0 5h0m0 2h0m0-5h0m0-2h0m0 4h0m0 0h0m0-4h0m1-1h0m0 6h0m0-4h0m0 4h0m0 0h0m0-5h0m0 6h0m0-6h0m1 1h0m0 6h0m0-5h0m0-3h0m0 1h0m0 3h0m0 3h0m0-6h0m0 0h0m0 2h0m0 1h0m0 4h0m0-5h0m0-2h0m1-1h0m0 2h0m0 6h0m0-1h0m0 1h0m0-2h0m0-2h0m0 1h0m0-1h0m0-2h0m0 1h0m0 1h0m1 1h0m0-1h0m0-1h0m0-1h0m0 0h0m0 3h0m0-3h0m0 5h0m0 0h0m1 1h0m0-5h0m0 1h0m0-2h0m0 5h0m0-5h0m0 4h0m0-3h0m0-2h0m0 6h0m1 0h0m0-1h0m0 1h0m0-6h0m0 0h0m0 5h0m1-6h0m0 7h0m0-1h0m0-2h0m0-3h0m0 2h0m0 3h0m0-4h0m0-2h0m0 1h0m0 0h0m1 5h0m0-6h0m0 3h0m0-2h0m0 3h0m0 1h0m0-1h0m0-4h0m0 4h0m0 2h0m0 1h0m1 0h0m0-6h0m0 2h0m0 1h0m0-2h0m0 1h0m0-1h0m0 2h0m0 2h0m0 0h0m0-4h0m0 1h0m1 4h0m0-4h0m0 0h0m0-3h0m0 4h0m0-2h0m0 2h0m0 2h0m0 2h0m0 0h0m0-5h0m0 1h0m0 3h0m1-2h0m0 2h0m0-7h0m0 5h0m0-4h0m0 1h0m0 0h0m0-1h0m0 0h0m0 3h0m0 3h0m0-2h0m1 0h0m0 1h0m0 1h0m0-4h0m0 2h0m0-4h0m0 3h0m0 4h0m1-7h0m0 0h0m0 6h0m0-2h0m0-4h0m0 2h0m0-2h0m0 6h0m1-1h0m0-1h0m0 0h0m0-2h0m0-2h0m0 4h0m0 2h0m1-2h0m0-1h0m0-4h0m0 1h0m0 4h0m1-1h0m0 1h0m0-3h0m0 2h0m0 2h0m0-5h0m1 0h0m0 1h0m1 5h0m0-6h0m0 1h0m0 6h0m0-3h0m0-5h0m0 4h0m1 3h0m0-5h0m0 5h0m0 1h0m1-8h0m0 4h0m0 4h0m0-6h0m1 1h0m0 4h0m0-4h0m0-2h0m0-1h0m0 1h0m1 6h0m0-4h0m0 2h0m1-4h0m0 6h0m0-3h0m1-2h0m0 2h0m0 1h0m0 0h0m0 0h0m1-2h0m0 1h0m0 3h0m1-1h0m0 0h0m0-2h0m1-3h0m0 0h0m1 2h0m0 1h0m0 2h0m1 1h0m0-2h0m1-4h0m2-1h0m0 6h0m1-5h0m0 0h0m1 3h0m1 3h0m0-7h0m1 6h0m0-2h0m0-3h0m1 1h0m0 5h0m0-1h0m1 1h0m3-4h0m0 4h0m4-2h0m0-4h0m1 6h0m5 1h0m12 0h0m6-7h0m4 4h0m17-1h0m8 1h0m-185 10h0m7-4h0m6-2h0m33 3h0m0-1h0m1 4h0m5-7h0m1 3h0m5-1h0m1 2h0m3 1h0m3 2h0m0-5h0m0 1h0m1-3h0m0 4h0m1-1h0m0-3h0m1 6h0m1-2h0m1-3h0m0-1h0m1 0h0m0 2h0m1 2h0m1 4h0m1-5h0m0 5h0m1-1h0m0-4h0m1 2h0m1 0h0m0-5h0m0 0h0m0 4h0m0-1h0m0-1h0m1 0h0m0 4h0m0-2h0m1 1h0m0-2h0m0-2h0m1 1h0m0 5h0m1-5h0m0-1h0m0 0h0m1 2h0m0-3h0m0 7h0m0 0h0m0-2h0m0-2h0m0 1h0m2-3h0m0 0h0m0 3h0m0 4h0m0-5h0m0-3h0m1 7h0m0-6h0m0 6h0m0-6h0m0 1h0m1 2h0m0 0h0m0 3h0m0-7h0m1 2h0m0-1h0m0 6h0m0-4h0m1-1h0m0 0h0m0 2h0m0 3h0m0-1h0m0-5h0m1 0h0m0-1h0m0 1h0m0 2h0m1 2h0m0-5h0m0 2h0m0-2h0m1 3h0m0 0h0m0 2h0m0-3h0m1 4h0m0-3h0m0-2h0m0 0h0m0 3h0m0 3h0m0-3h0m0 0h0m0 0h0m1 1h0m0 3h0m0-7h0m0 2h0m0 0h0m0 1h0m0-3h0m0 1h0m1 4h0m0-5h0m0 5h0m0-2h0m0 2h0m0-3h0m0-1h0m0 1h0m1 2h0m0-1h0m0 1h0m0 0h0m0-3h0m0-1h0m0 2h0m0 3h0m1-5h0m0 2h0m0 5h0m0-7h0m0 1h0m0-1h0m1 7h0m0-6h0m0 1h0m1 5h0m0-7h0m0 0h0m0 0h0m0 6h0m0-1h0m0-2h0m0 2h0m1 2h0m0-3h0m0-4h0m0 0h0m0 5h0m0-1h0m0-4h0m0 7h0m0 0h0m1-1h0m0-3h0m0-1h0m0-3h0m0 4h0m1-4h0m0 1h0m0 4h0m0-2h0m0-2h0m0 4h0m0 0h0m1-3h0m0 5h0m0 0h0m0-1h0m0-6h0m0 5h0m0-1h0m0 4h0m0-1h0m1 1h0m0-6h0m1 2h0m0-3h0m1-1h0m0 1h0m0 0h0m0 7h0m1-8h0m0 6h0m0-1h0m0 2h0m0 1h0m1-1h0m0-5h0m0 4h0m0-3h0m2 2h0m0-4h0m1-1h0m0 3h0m0-2h0m0 4h0m1 2h0m0-4h0m1-3h0m0 4h0m1 1h0m1 2h0m0-6h0m1-1h0m0 0h0m0 1h0m1 7h0m0-8h0m0 1h0m0 1h0m1 3h0m2 1h0m1 0h0m0-5h0m2-1h0m0 4h0m2-2h0m0 2h0m0 2h0m2-4h0m2 2h0m1 3h0m6-3h0m9-3h0m3 3h0m14-3h0m25 5h0m-172 5h0m10 0h0m8 2h0m18-1h0m1 3h0m2-6h0m2 1h0m4 3h0m1-5h0m2 4h0m2 4h0m1-7h0m2 5h0m0 0h0m2-1h0m0-4h0m4 3h0m1-2h0m0 3h0m1 0h0m0-5h0m1 2h0m0 1h0m0 0h0m1-2h0m1 1h0m0 4h0m0-5h0m1 4h0m0-3h0m0 1h0m1 4h0m0-3h0m1 2h0m0-5h0m1 4h0m1-2h0m0 1h0m0 0h0m1-1h0m0-2h0m1 6h0m1-5h0m0 2h0m0-3h0m0 1h0m1 6h0m0-2h0m1-4h0m0 3h0m0 0h0m0 0h0m1-4h0m0 3h0m0 0h0m0 1h0m0-2h0m0-1h0m1 3h0m0-1h0m1 3h0m0-5h0m1-1h0m0 3h0m0-3h0m0 0h0m0 1h0m1 1h0m0 1h0m0-3h0m0 1h0m0 1h0m0 5h0m1-7h0m0 1h0m2-2h0m0 2h0m1-2h0m0 1h0m2 0h0m0 2h0m0-2h0m0 5h0m1 0h0m0-6h0m0 3h0m0 0h0m0-2h0m0 4h0m0-3h0m0-1h0m0-1h0m1 7h0m0-4h0m0-3h0m0 2h0m0 5h0m1-3h0m0 4h0m0-3h0m0 1h0m1-6h0m0 1h0m0 1h0m0-2h0m0 4h0m1-1h0m0 2h0m2 0h0m0-4h0m0 3h0m0-1h0m2 2h0m0 2h0m0-2h0m0-3h0m0 0h0m1-1h0m0 1h0m0 6h0m0-3h0m0-3h0m1 2h0m1-2h0m0 5h0m0-2h0m1-4h0m1 6h0m1 0h0m2-3h0m0-4h0m0 4h0m1-3h0m0 0h0m2 3h0m0 3h0m0 1h0m1-1h0m2-1h0m0 0h0m0-4h0m1 3h0m1-1h0m3 3h0m1 0h0m1-5h0m2 1h0m0 2h0m2-4h0m2 1h0m1 1h0m2 0h0m0-1h0m1 1h0m2 4h0m1-1h0m5 1h0m75-7h0m-195 12h0m29-3h0m2 7h0m2-7h0m11 0h0m2 0h0m1 1h0m0 5h0m2-7h0m1 6h0m1-6h0m2 2h0m1 0h0m0 3h0m1-3h0m0 5h0m0-4h0m2 4h0m0-6h0m0 6h0m0-3h0m1-4h0m0 4h0m1 4h0m0-7h0m0 1h0m2 4h0m1-5h0m0 6h0m1-4h0m1 0h0m0 0h0m0-1h0m0 3h0m3 0h0m1-1h0m0-3h0m0 5h0m1-2h0m0-2h0m0 2h0m1 2h0m0 1h0m0-5h0m0 2h0m0-4h0m1 7h0m0-7h0m1 2h0m0-1h0m0-1h0m0 4h0m1-1h0m0 2h0m0 1h0m1 1h0m0-5h0m0 1h0m1 3h0m0-4h0m1 3h0m1 2h0m2 0h0m1-5h0m0 6h0m0-2h0m1-4h0m0 0h0m0-2h0m1 3h0m0-3h0m2 5h0m2-4h0m3 2h0m0 4h0m1-4h0m2-1h0m1 2h0m5-1h0m1 3h0m9-5h0m4 0h0m27 3h0m-174 4h0m17 5h0m17 0h0m29-1h0m6 0h0m3-2h0m6 4h0m5-1h0m0-2h0m1-3h0m1 6h0m2 1h0m0-4h0m1 0h0m1-2h0m2 2h0m1 1h0m0 0h0m1 1h0m0-4h0m1 6h0m1-2h0m0-4h0m4 2h0m1-1h0m0-1h0m2 0h0m2 6h0m0-4h0m2-3h0m1 6h0m0-3h0m1-1h0m0 0h0m2 1h0m1 2h0m0 2h0m1-6h0m2 6h0m3-2h0m0-3h0m0 1h0m2-1h0m1 3h0m1 2h0m2-4h0m1 1h0m3 3h0m1-5h0m8-1h0m6 6h0m6-3h0m2-2h0m4 5h0m1-5h0m1 1h0m-150 9h0m5-1h0m15 4h0m3-7h0m26 3h0m4-2h0m16-1h0m9 5h0m1-5h0m5 2h0m1 3h0m1 1h0m2-3h0m2 5h0m2-3h0m1 1h0m3-1h0m3 1h0m1-4h0m4-2h0m7 5h0m3-5h0m2 1h0m4 6h0m1-3h0m0 0h0m0 3h0m4-7h0m0 4h0m3 2h0m6-3h0m10 0h0m4 4h0m29-6h0m7 4h0m10-1h0m-152 6h0m12 6h0m19-6h0m1 4h0m14-4h0m8 0h0m0 3h0m0-4h0m2 3h0m1-2h0m1-2h0m2 7h0m2 0h0m1-6h0m0-1h0m9 7h0m0-6h0m2 3h0m4 1h0m1-3h0m5 2h0m16-2h0m-152 12h0m76 0h0m29 1h0m2-2h0m0-5h0m9 4h0m25-3h0m10 1h0m15 4h0m-101 5h0m36-1h0m14 1h0m6-1h0m20 4h0m14-2h0m-233 10h0m197-6h0m18 5h0m7 0h0m128-5h0m-125 13h0m17 2h0m8-4h0m24 2h0m-201 6h0m93 2h0m4-3h0m77 13h0m2-7h0m6 1h0m-43 20h0m48-2h0m2 1h0m39-2h0m-81 20h0" stroke="#111" stroke-width="2.50" stroke-linecap="round" fill="none"/>
<path d="M61.9 926.8L246.6 895.2" stroke="#3f8f86" stroke-width="0.9"/>
<rect x="175.1" y="785.1" width="14.7" height="4.0" fill="#acaedb"/>
<path d="M176.3 787.1H188.6" stroke="#fff" stroke-opacity="0.5" stroke-width="1.0" stroke-dasharray="1.2 0.5"/>
<rect x="182.8" y="814.6" width="16.1" height="4.1" fill="#acaedb"/>
<path d="M184.0 816.7H197.7" stroke="#fff" stroke-opacity="0.5" stroke-width="1.0" stroke-dasharray="1.2 0.5"/>
<rect x="104.5" y="832.8" width="8.1" height="4.0" fill="#acaedb"/>
<path d="M105.7 834.8H111.4" stroke="#fff" stroke-opacity="0.5" stroke-width="1.0" stroke-dasharray="1.2 0.5"/>
<rect x="179.1" y="828.7" width="14.8" height="4.1" fill="#8c8c8c"/>
<path d="M180.3 830.8H192.7" stroke="#fff" stroke-opacity="0.5" stroke-width="1.0" stroke-dasharray="1.2 0.5"/>
<rect x="179.1" y="837.8" width="14.8" height="4.0" fill="#8c8c8c"/>
<path d="M180.3 839.8H192.7" stroke="#fff" stroke-opacity="0.5" stroke-width="1.0" stroke-dasharray="1.2 0.5"/>
<rect x="196.2" y="842.8" width="15.1" height="4.1" fill="#8c8c8c"/>
<path d="M197.4 844.8H210.1" stroke="#fff" stroke-opacity="0.5" stroke-width="1.0" stroke-dasharray="1.2 0.5"/>
<rect x="166.0" y="848.9" width="10.4" height="4.0" fill="#acaedb"/>
<path d="M167.2 850.9H175.2" stroke="#fff" stroke-opacity="0.5" stroke-width="1.0" stroke-dasharray="1.2 0.5"/>
<rect x="179.1" y="848.9" width="14.8" height="4.0" fill="#8c8c8c"/>
<path d="M180.3 850.9H192.7" stroke="#fff" stroke-opacity="0.5" stroke-width="1.0" stroke-dasharray="1.2 0.5"/>
<rect x="199.6" y="850.9" width="15.1" height="4.0" fill="#8c8c8c"/>
<path d="M200.8 852.9H213.5" stroke="#fff" stroke-opacity="0.5" stroke-width="1.0" stroke-dasharray="1.2 0.5"/>
<rect x="169.0" y="855.3" width="14.8" height="4.0" fill="#8c8c8c"/>
<path d="M170.2 857.3H182.6" stroke="#fff" stroke-opacity="0.5" stroke-width="1.0" stroke-dasharray="1.2 0.5"/>
<rect x="187.8" y="855.3" width="8.8" height="4.0" fill="#8c8c8c"/>
<path d="M189.0 857.3H195.4" stroke="#fff" stroke-opacity="0.5" stroke-width="1.0" stroke-dasharray="1.2 0.5"/>
<rect x="166.0" y="861.6" width="12.1" height="4.1" fill="#5c3f7e"/>
<path d="M167.2 863.7H176.9" stroke="#fff" stroke-opacity="0.5" stroke-width="1.0" stroke-dasharray="1.2 0.5"/>
<rect x="181.1" y="861.6" width="15.1" height="4.1" fill="#8c8c8c"/>
<path d="M182.3 863.7H195.0" stroke="#fff" stroke-opacity="0.5" stroke-width="1.0" stroke-dasharray="1.2 0.5"/>
<rect x="197.9" y="861.6" width="19.5" height="4.1" fill="#8c8c8c"/>
<path d="M199.1 863.7H216.2" stroke="#fff" stroke-opacity="0.5" stroke-width="1.0" stroke-dasharray="1.2 0.5"/>
<rect x="178.1" y="867.7" width="19.1" height="4.0" fill="#ea6f6a"/>
<path d="M179.3 869.7H196.0" stroke="#fff" stroke-opacity="0.5" stroke-width="1.0" stroke-dasharray="1.2 0.5"/>
<rect x="199.6" y="867.7" width="14.4" height="4.0" fill="#8c8c8c"/>
<path d="M200.8 869.7H212.8" stroke="#fff" stroke-opacity="0.5" stroke-width="1.0" stroke-dasharray="1.2 0.5"/>
<rect x="166.0" y="870.7" width="10.4" height="4.0" fill="#8c8c8c"/>
<path d="M167.2 872.7H175.2" stroke="#fff" stroke-opacity="0.5" stroke-width="1.0" stroke-dasharray="1.2 0.5"/>
<rect x="187.2" y="873.7" width="17.4" height="4.1" fill="#8c8c8c"/>
<path d="M188.4 875.8H203.4" stroke="#fff" stroke-opacity="0.5" stroke-width="1.0" stroke-dasharray="1.2 0.5"/>
<rect x="204.6" y="873.7" width="13.4" height="4.1" fill="#8c8c8c"/>
<path d="M205.8 875.8H216.8" stroke="#fff" stroke-opacity="0.5" stroke-width="1.0" stroke-dasharray="1.2 0.5"/>
<rect x="108.2" y="874.4" width="14.8" height="4.0" fill="#acaedb"/>
<path d="M109.4 876.4H121.8" stroke="#fff" stroke-opacity="0.5" stroke-width="1.0" stroke-dasharray="1.2 0.5"/>
<rect x="238.2" y="872.4" width="11.7" height="4.0" fill="#8c8c8c"/>
<path d="M239.4 874.4H248.7" stroke="#fff" stroke-opacity="0.5" stroke-width="1.0" stroke-dasharray="1.2 0.5"/>
<rect x="166.0" y="877.4" width="12.4" height="4.1" fill="#7fb48c"/>
<path d="M167.2 879.5H177.2" stroke="#fff" stroke-opacity="0.5" stroke-width="1.0" stroke-dasharray="1.2 0.5"/>
<rect x="186.1" y="880.8" width="13.5" height="4.0" fill="#ea6f6a"/>
<path d="M187.3 882.8H198.4" stroke="#fff" stroke-opacity="0.5" stroke-width="1.0" stroke-dasharray="1.2 0.5"/>
<rect x="201.9" y="880.8" width="12.1" height="4.0" fill="#8c8c8c"/>
<path d="M203.1 882.8H212.8" stroke="#fff" stroke-opacity="0.5" stroke-width="1.0" stroke-dasharray="1.2 0.5"/>
<rect x="215.4" y="880.8" width="18.4" height="4.0" fill="#5c3f7e"/>
<path d="M216.6 882.8H232.6" stroke="#fff" stroke-opacity="0.5" stroke-width="1.0" stroke-dasharray="1.2 0.5"/>
<rect x="85.4" y="885.8" width="9.4" height="4.0" fill="#2f7a4e"/>
<path d="M86.6 887.8H93.6" stroke="#fff" stroke-opacity="0.5" stroke-width="1.0" stroke-dasharray="1.2 0.5"/>
<rect x="166.0" y="886.8" width="9.1" height="4.0" fill="#8c8c8c"/>
<path d="M167.2 888.8H173.9" stroke="#fff" stroke-opacity="0.5" stroke-width="1.0" stroke-dasharray="1.2 0.5"/>
<rect x="176.7" y="886.8" width="16.8" height="4.0" fill="#8c8c8c"/>
<path d="M177.9 888.8H192.3" stroke="#fff" stroke-opacity="0.5" stroke-width="1.0" stroke-dasharray="1.2 0.5"/>
<rect x="195.5" y="886.8" width="15.2" height="4.0" fill="#8c8c8c"/>
<path d="M196.7 888.8H209.5" stroke="#fff" stroke-opacity="0.5" stroke-width="1.0" stroke-dasharray="1.2 0.5"/>
<rect x="212.0" y="886.8" width="15.4" height="4.0" fill="#8c8c8c"/>
<path d="M213.2 888.8H226.2" stroke="#fff" stroke-opacity="0.5" stroke-width="1.0" stroke-dasharray="1.2 0.5"/>
<rect x="145.2" y="897.9" width="9.7" height="4.0" fill="#b9473e"/>
<path d="M146.4 899.9H153.7" stroke="#fff" stroke-opacity="0.5" stroke-width="1.0" stroke-dasharray="1.2 0.5"/>
<rect x="145.2" y="917.7" width="14.4" height="4.0" fill="#b9473e"/>
<path d="M146.4 919.7H158.4" stroke="#fff" stroke-opacity="0.5" stroke-width="1.0" stroke-dasharray="1.2 0.5"/>
<rect x="109.9" y="935.5" width="11.8" height="4.0" fill="#7fb48c"/>
<path d="M111.1 937.5H120.5" stroke="#fff" stroke-opacity="0.5" stroke-width="1.0" stroke-dasharray="1.2 0.5"/>
<rect x="99.8" y="944.2" width="14.8" height="4.1" fill="#7fb48c"/>
<path d="M101.0 946.2H113.4" stroke="#fff" stroke-opacity="0.5" stroke-width="1.0" stroke-dasharray="1.2 0.5"/>
<rect x="118.0" y="942.9" width="8.7" height="4.0" fill="#8c8c8c"/>
<path d="M119.2 944.9H125.5" stroke="#fff" stroke-opacity="0.5" stroke-width="1.0" stroke-dasharray="1.2 0.5"/>
<rect x="106.6" y="950.3" width="13.4" height="4.0" fill="#8c8c8c"/>
<path d="M107.8 952.3H118.8" stroke="#fff" stroke-opacity="0.5" stroke-width="1.0" stroke-dasharray="1.2 0.5"/>
<rect x="109.6" y="958.0" width="14.4" height="4.0" fill="#2f7a4e"/>
<path d="M110.8 960.0H122.8" stroke="#fff" stroke-opacity="0.5" stroke-width="1.0" stroke-dasharray="1.2 0.5"/>
<rect x="50.1" y="954.3" width="16.8" height="4.0" fill="#acaedb"/>
<path d="M51.3 956.3H65.7" stroke="#fff" stroke-opacity="0.5" stroke-width="1.0" stroke-dasharray="1.2 0.5"/>
<rect x="166.0" y="937.9" width="13.4" height="4.0" fill="#8c8c8c"/>
<path d="M167.2 939.9H178.2" stroke="#fff" stroke-opacity="0.5" stroke-width="1.0" stroke-dasharray="1.2 0.5"/>
<rect x="181.8" y="935.2" width="10.4" height="4.0" fill="#5c3f7e"/>
<path d="M183.0 937.2H191.0" stroke="#fff" stroke-opacity="0.5" stroke-width="1.0" stroke-dasharray="1.2 0.5"/>
<rect x="193.9" y="935.2" width="12.4" height="4.0" fill="#8c8c8c"/>
<path d="M195.1 937.2H205.1" stroke="#fff" stroke-opacity="0.5" stroke-width="1.0" stroke-dasharray="1.2 0.5"/>
<rect x="188.5" y="941.9" width="12.1" height="4.0" fill="#8c8c8c"/>
<path d="M189.7 943.9H199.4" stroke="#fff" stroke-opacity="0.5" stroke-width="1.0" stroke-dasharray="1.2 0.5"/>
<rect x="209.0" y="940.9" width="24.2" height="4.0" fill="#8c8c8c"/>
<path d="M210.2 942.9H232.0" stroke="#fff" stroke-opacity="0.5" stroke-width="1.0" stroke-dasharray="1.2 0.5"/>
<rect x="172.0" y="944.6" width="14.1" height="4.0" fill="#7fb48c"/>
<path d="M173.2 946.6H184.9" stroke="#fff" stroke-opacity="0.5" stroke-width="1.0" stroke-dasharray="1.2 0.5"/>
<rect x="191.9" y="948.3" width="16.1" height="4.0" fill="#8c8c8c"/>
<path d="M193.1 950.3H206.8" stroke="#fff" stroke-opacity="0.5" stroke-width="1.0" stroke-dasharray="1.2 0.5"/>
<rect x="166.0" y="951.0" width="10.7" height="4.0" fill="#8c8c8c"/>
<path d="M167.2 953.0H175.5" stroke="#fff" stroke-opacity="0.5" stroke-width="1.0" stroke-dasharray="1.2 0.5"/>
<rect x="179.8" y="951.0" width="10.0" height="4.0" fill="#8c8c8c"/>
<path d="M181.0 953.0H188.6" stroke="#fff" stroke-opacity="0.5" stroke-width="1.0" stroke-dasharray="1.2 0.5"/>
<rect x="177.1" y="958.0" width="13.4" height="4.0" fill="#8c8c8c"/>
<path d="M178.3 960.0H189.3" stroke="#fff" stroke-opacity="0.5" stroke-width="1.0" stroke-dasharray="1.2 0.5"/>
<rect x="167.7" y="964.7" width="10.0" height="4.1" fill="#2f7a4e"/>
<path d="M168.9 966.8H176.5" stroke="#fff" stroke-opacity="0.5" stroke-width="1.0" stroke-dasharray="1.2 0.5"/>
<rect x="205.3" y="964.7" width="14.4" height="4.1" fill="#ea6f6a"/>
<path d="M206.5 966.8H218.5" stroke="#fff" stroke-opacity="0.5" stroke-width="1.0" stroke-dasharray="1.2 0.5"/>
<rect x="35.2" y="780.2" width="220.8" height="236.0999999999999" fill="none" stroke="#555" stroke-width="0.8"/>
<text x="54.50" y="1023.40" dy="0.35em" font-size="7.6" text-anchor="middle" fill="#333">−1.0</text>
<text x="100.50" y="1023.40" dy="0.35em" font-size="7.6" text-anchor="middle" fill="#333">−0.5</text>
<text x="146.50" y="1023.40" dy="0.35em" font-size="7.6" text-anchor="middle" fill="#333">0</text>
<text x="192.50" y="1023.40" dy="0.35em" font-size="7.6" text-anchor="middle" fill="#333">0.5</text>
<text x="238.50" y="1023.40" dy="0.35em" font-size="7.6" text-anchor="middle" fill="#333">1.0</text>
<text x="31.20" y="965.40" dy="0.35em" font-size="7.6" text-anchor="end" fill="#333">−0.5</text>
<text x="31.20" y="912.70" dy="0.35em" font-size="7.6" text-anchor="end" fill="#333">0</text>
<text x="31.20" y="860.00" dy="0.35em" font-size="7.6" text-anchor="end" fill="#333">0.5</text>
<text x="31.20" y="807.30" dy="0.35em" font-size="7.6" text-anchor="end" fill="#333">1.0</text>
<path d="M54.5 1016.3V1018.8M100.5 1016.3V1018.8M146.5 1016.3V1018.8M192.5 1016.3V1018.8M238.5 1016.3V1018.8M32.7 965.4H35.2M32.7 912.7H35.2M32.7 860.0H35.2M32.7 807.3H35.2" stroke="#555" stroke-width="0.6"/>
<text x="47.8" y="796.6" dy="0.35em" font-size="7.0" fill="#333"><tspan font-style="italic">R</tspan> = 0.15, <tspan font-style="italic">P</tspan> &lt; 2.2 × 10<tspan font-size="4.6" dy="-3">−16</tspan></text>
<text x="9.00" y="903.00" dy="0.35em" font-size="7.6" text-anchor="middle" fill="#333" transform="rotate(-90 9.00 903.00)">C9-ALS patients versus controls</text>
<text x="146.30" y="1034.60" dy="0.35em" font-size="7.6" text-anchor="middle" fill="#333">GRN-FTD patients versus controls</text>
<rect x="261.4" y="881.00" width="7.8" height="8.4" rx="0.8" fill="#de912c"/>
<text x="272.20" y="885.20" dy="0.35em" font-size="7.3" fill="#333">MG1</text>
<rect x="261.4" y="892.12" width="7.8" height="8.4" rx="0.8" fill="#ea7370"/>
<text x="272.20" y="896.32" dy="0.35em" font-size="7.3" fill="#333">MG2</text>
<rect x="261.4" y="903.24" width="7.8" height="8.4" rx="0.8" fill="#a9aad6"/>
<text x="272.20" y="907.44" dy="0.35em" font-size="7.3" fill="#333">MG3</text>
<rect x="261.4" y="914.36" width="7.8" height="8.4" rx="0.8" fill="#5c3f7e"/>
<text x="272.20" y="918.56" dy="0.35em" font-size="7.3" fill="#333">MG4</text>
<rect x="261.4" y="925.48" width="7.8" height="8.4" rx="0.8" fill="#7db48a"/>
<text x="272.20" y="929.68" dy="0.35em" font-size="7.3" fill="#333">MG5</text>
<rect x="261.4" y="936.60" width="7.8" height="8.4" rx="0.8" fill="#2f7a4e"/>
<text x="272.20" y="940.80" dy="0.35em" font-size="7.3" fill="#333">MG6</text>
<text transform="translate(376.60 773.20) scale(1.17 1)" font-size="15" font-weight="bold" fill="#111" stroke="#111" stroke-width="0.6">j</text>
<text x="410.50" y="772.20" dy="0.35em" font-size="7.3" fill="#333">All GRN_FTD/Spinal Cord sALS versus healthy</text>
<path d="M426.9 780.0V1015.8M471.7 780.0V1015.8M561.3 780.0V1015.8M606.1 780.0V1015.8M407.4 1007.0H624.3M407.4 960.6H624.3M407.4 867.9H624.3M407.4 821.6H624.3" stroke="#e4e4e4" stroke-width="0.6" fill="none"/>
<path d="M498.6 780.0V1015.8M534.4 780.0V1015.8M407.4 895.8H624.3M407.4 932.8H624.3M407.4 937.5H624.3" stroke="#bdbdbd" stroke-width="0.6" stroke-dasharray="1.2 1.2" fill="none"/>
<path d="M516.5 780.0V1015.8" stroke="#555" stroke-width="0.8"/>
<path d="M407.4 914.3H624.3" stroke="#999" stroke-width="0.9"/>
<path transform="scale(.5)" d="M1192 1590h0m-168 50h0m51 6h0m7 25h0m10 10h0m-78 11h0m20-4h0m51 10h0m43-1h0m-119 3h0m49 1h0m18 4h0m-77 8h0m1-1h0m26 2h0m9-3h0m-24 5h0m9 0h0m16 5h0m1-3h0m5 0h0m36 2h0m28-1h0m-90 10h0m5-4h0m5 0h0m7 6h0m54-3h0m2 1h0m-86 3h0m15 1h0m1 0h0m16 3h0m3 2h0m4 0h0m15-6h0m25 1h0m30 7h0m7-7h0m-101 10h0m0-1h0m3 2h0m2-2h0m10-2h0m4 5h0m1 3h0m4-2h0m2-3h0m6 5h0m16-6h0m11-1h0m12 6h0m2-1h0m9-3h0m15-2h0m4 1h0m-126 8h0m2 1h0m12-1h0m5 2h0m3-1h0m2 4h0m0-6h0m4 6h0m2-7h0m1 6h0m11-2h0m1 4h0m3-2h0m0-4h0m4 5h0m14-2h0m4 3h0m9-1h0m9 1h0m1-2h0m9 0h0m30 2h0m52-3h0m-207 3h0m32 2h0m13 5h0m3 0h0m5-3h0m0 3h0m2 0h0m3-4h0m3 2h0m1 3h0m0-3h0m1 2h0m1 0h0m0 1h0m3-3h0m0 0h0m3 0h0m7-1h0m16 2h0m1-4h0m3 5h0m4-4h0m6 5h0m1-7h0m7 0h0m0 5h0m5-5h0m6 6h0m4-6h0m15 0h0m-105 8h0m3 2h0m2 1h0m7-4h0m2 2h0m1 2h0m2 1h0m1-1h0m0-3h0m2 2h0m5 2h0m0 0h0m0-2h0m3-1h0m1 4h0m1-3h0m3-2h0m14 1h0m3-1h0m3 5h0m2-2h0m4-1h0m1 4h0m2 0h0m2-4h0m1 2h0m0 2h0m4 0h0m7-5h0m33 1h0m-141 7h0m30 4h0m4-3h0m3 0h0m0 1h0m5 2h0m3-3h0m2-1h0m2 2h0m1 0h0m1 1h0m1-1h0m0 2h0m1-5h0m1 6h0m0-3h0m4 3h0m2-3h0m3 4h0m3-3h0m2 2h0m0-2h0m1-1h0m6 0h0m3-2h0m2 2h0m2 3h0m2-6h0m1-1h0m0 2h0m1 4h0m0-2h0m5 1h0m0-1h0m0-1h0m2 1h0m4 0h0m0 1h0m3 1h0m1 2h0m4-1h0m6 0h0m1 0h0m2-2h0m0 2h0m7 1h0m1-1h0m13 1h0m-114 0h0m7 1h0m16 5h0m1 1h0m2-3h0m2 0h0m1 0h0m0 1h0m1 0h0m1 0h0m1-4h0m1 5h0m2 2h0m0-2h0m0 2h0m2-5h0m0 0h0m4 2h0m1-3h0m4 4h0m6-6h0m3 0h0m1 5h0m0-2h0m0 4h0m1 0h0m1-5h0m4 4h0m1 1h0m1-3h0m1 2h0m1 0h0m0-5h0m1 6h0m1-2h0m2-2h0m1 2h0m1 1h0m1-5h0m2 2h0m0 1h0m2 2h0m2-2h0m1 0h0m1 3h0m2-1h0m1 1h0m0-5h0m0 4h0m0 2h0m1-6h0m4-1h0m0 1h0m11 5h0m7 0h0m5-6h0m7 4h0m6 1h0m0 2h0m-161 3h0m39 4h0m6-2h0m13 2h0m4 1h0m1-3h0m1-5h0m1 3h0m1-3h0m2 7h0m4-5h0m1-1h0m2 0h0m1 1h0m1 5h0m1-2h0m0-4h0m1 5h0m0-2h0m1 3h0m2-6h0m2 5h0m1 2h0m0-2h0m0 0h0m1 0h0m0-4h0m0 6h0m1-1h0m2-1h0m2-1h0m1-2h0m0 4h0m1-3h0m1-2h0m1 3h0m0-2h0m0 3h0m1 1h0m0-6h0m1 7h0m0-1h0m2-7h0m0 6h0m1-1h0m0-1h0m0 2h0m0 1h0m0 0h0m1-5h0m0 5h0m1-3h0m0 0h0m1-1h0m0 1h0m0-4h0m3 8h0m0-6h0m1 5h0m2-3h0m1 3h0m0-1h0m1 1h0m1-2h0m0 2h0m1-3h0m1 2h0m0-2h0m0 3h0m4-4h0m4 3h0m5-1h0m1 0h0m7-2h0m3 1h0m0-1h0m3 1h0m2 2h0m6 1h0m5-4h0m-217 10h0m107-2h0m3-2h0m4 1h0m2 0h0m0-1h0m1 6h0m1-5h0m2 1h0m4-3h0m2 0h0m2 6h0m1-4h0m4-1h0m3 3h0m0-1h0m3-1h0m0 5h0m1-4h0m0 1h0m0 0h0m0-3h0m1 6h0m1 1h0m2-2h0m0-5h0m0 5h0m1 2h0m0-5h0m0 1h0m2-3h0m0 5h0m2 1h0m1 0h0m0-4h0m0-2h0m0 3h0m0-2h0m0-1h0m0 4h0m1 0h0m0 2h0m0-2h0m0 2h0m0 0h0m0-1h0m1-6h0m1 7h0m2-4h0m0-2h0m0 7h0m0-8h0m1 7h0m0-1h0m1-1h0m0-1h0m0 1h0m2-4h0m1 3h0m0 4h0m0-3h0m1-4h0m2 4h0m0-2h0m0 2h0m1-1h0m0 2h0m0-2h0m0-3h0m0 6h0m1-7h0m0 2h0m1-1h0m0 6h0m0 1h0m1-8h0m0 8h0m0-4h0m0-2h0m1 4h0m0-4h0m0 0h0m1 4h0m0-2h0m1 1h0m0-1h0m1 3h0m1-6h0m3 2h0m0-3h0m0 7h0m1-4h0m0 2h0m3-4h0m1 4h0m0 0h0m0-1h0m1-3h0m1 6h0m1-1h0m1 0h0m2-2h0m6 4h0m1-2h0m0 0h0m5 0h0m2-1h0m1 3h0m7-5h0m9 3h0m-165 8h0m36 0h0m28 0h0m0-4h0m0 4h0m1 0h0m1-6h0m3 2h0m2 6h0m1-7h0m0 1h0m1-2h0m1 1h0m2 0h0m0 2h0m3 2h0m0 0h0m0 2h0m2-2h0m0-3h0m1 3h0m3-5h0m1 2h0m1 2h0m0 3h0m0-5h0m0 4h0m1 1h0m1-2h0m0-2h0m0-2h0m0 4h0m2-2h0m1-2h0m1 6h0m0-6h0m0 7h0m0 0h0m1-4h0m1 1h0m1 2h0m0-3h0m0 0h0m0 4h0m1-8h0m1 0h0m0 1h0m0 1h0m0 5h0m1-1h0m0 0h0m0-2h0m1-2h0m0 3h0m0 2h0m0-3h0m0 2h0m0 0h0m0-4h0m1 0h0m0 0h0m1 1h0m0-2h0m0 5h0m0-4h0m0 3h0m0-1h0m0-3h0m1 7h0m0-4h0m0-3h0m0 2h0m0 4h0m0-3h0m0-2h0m1-1h0m0 4h0m0 2h0m0-2h0m1 1h0m0-5h0m1 0h0m1 6h0m0-6h0m0 6h0m0-5h0m0 0h0m1 4h0m0 2h0m0-3h0m0-3h0m0 1h0m0 3h0m1-5h0m0 1h0m0 5h0m0-6h0m0 4h0m0 2h0m1-5h0m0 1h0m0-3h0m0 1h0m0 6h0m0-1h0m1-4h0m0 3h0m2 2h0m0-4h0m0-2h0m0 4h0m1-4h0m1 2h0m0 4h0m1-6h0m0 6h0m0-5h0m0 3h0m0-1h0m1-1h0m1 0h0m0-2h0m0 5h0m0-4h0m2 5h0m0-1h0m1-3h0m0 3h0m2-4h0m1-1h0m1 4h0m0 3h0m0-2h0m3 1h0m1 0h0m4-3h0m7 4h0m6-6h0m1-2h0m-137 10h0m7 0h0m16 0h0m8 1h0m13-2h0m8 1h0m2 3h0m1-2h0m0-3h0m3 4h0m1 1h0m1-3h0m0 0h0m2 6h0m2-1h0m1-1h0m2-3h0m0 3h0m1-3h0m0-1h0m0 0h0m0 1h0m2-2h0m0-1h0m1 5h0m2 1h0m0-1h0m0-2h0m1 0h0m0-1h0m1 3h0m0 2h0m0-6h0m1 4h0m0-4h0m1 7h0m0-5h0m0 3h0m0-6h0m1 2h0m0 4h0m0 0h0m0-4h0m0 3h0m1-2h0m0 1h0m0-2h0m0 5h0m0-5h0m1 4h0m0-2h0m0 1h0m0 3h0m1-2h0m0-3h0m0 1h0m1 3h0m0-1h0m0-6h0m0 1h0m0 0h0m1 0h0m0 5h0m0 0h0m0-3h0m1 0h0m0-3h0m0 2h0m1 3h0m0 2h0m0-6h0m0 1h0m0 4h0m0 1h0m0 1h0m0-8h0m1 3h0m0 4h0m0-1h0m1-5h0m0 4h0m1-1h0m0 2h0m0 1h0m0-5h0m1-1h0m0 3h0m0-4h0m0 3h0m0-3h0m0 5h0m0 2h0m0-5h0m1 1h0m0 1h0m0 2h0m0-1h0m0 2h0m0-5h0m0-1h0m1 4h0m0 0h0m0 2h0m0-4h0m0-1h0m1 1h0m0-3h0m0 4h0m0-3h0m0 5h0m0 2h0m0-4h0m0 2h0m0 2h0m1-7h0m0 6h0m0-6h0m0 5h0m0-4h0m0 1h0m0-2h0m0 2h0m0 5h0m0-3h0m0-4h0m1 0h0m0 5h0m0 0h0m0 0h0m0 2h0m1-6h0m0 6h0m0-8h0m1 7h0m0 0h0m0 1h0m1-4h0m0 0h0m0-1h0m0 3h0m0-2h0m0-3h0m1 0h0m0 4h0m0-4h0m0 6h0m0-3h0m0 1h0m0-5h0m0 8h0m1-4h0m0-4h0m0 4h0m0-1h0m0 4h0m0-7h0m0 0h0m1 8h0m0-7h0m0 2h0m1 2h0m0-4h0m0 5h0m0 2h0m0-2h0m0-5h0m1 1h0m0-1h0m0 7h0m1-5h0m1 0h0m1 2h0m0 0h0m0 1h0m0-1h0m1 0h0m1-4h0m0 7h0m0-5h0m0 3h0m1-3h0m0-2h0m0 4h0m0-3h0m0 6h0m1-6h0m0 2h0m0 2h0m2-4h0m1 2h0m1-3h0m3 3h0m0 2h0m2-5h0m4 0h0m3 2h0m13-3h0m3 7h0m1-2h0m-118 5h0m2 5h0m12-6h0m9 1h0m13 0h0m2 5h0m0-3h0m2-4h0m1 0h0m0 3h0m1-3h0m0 5h0m1-4h0m0 0h0m0 3h0m1 3h0m0-3h0m1 2h0m1-6h0m2 3h0m0-1h0m0-1h0m1 3h0m1-2h0m0 3h0m1 2h0m0 1h0m0-7h0m0 5h0m0-2h0m0 0h0m0 4h0m0 0h0m0-2h0m1-3h0m0-1h0m1 2h0m0 0h0m0 1h0m1-2h0m0 4h0m0-2h0m0 2h0m0-2h0m0-4h0m0 6h0m1-6h0m0 5h0m0-3h0m0 2h0m0 1h0m0-3h0m0 3h0m1-4h0m0 1h0m0 2h0m0-1h0m0-4h0m0 8h0m0-1h0m1 1h0m0-2h0m0-3h0m0-2h0m0 5h0m0-4h0m0 1h0m0 4h0m0 0h0m0-6h0m0 4h0m0 0h0m1 3h0m0 0h0m0-7h0m0 6h0m0-6h0m0 1h0m0 3h0m1 2h0m0-3h0m0-1h0m0 4h0m0 1h0m0-8h0m0 4h0m0 0h0m0-1h0m1 1h0m0 1h0m0 0h0m0-3h0m0 3h0m1-1h0m0-3h0m0 1h0m0-2h0m0 4h0m0 2h0m0-2h0m0-2h0m0 4h0m1-2h0m0 1h0m0 0h0m0 1h0m0-2h0m0 2h0m1-2h0m0 2h0m0-5h0m0 6h0m0-1h0m0-1h0m0-2h0m0 2h0m1 3h0m0 0h0m0-5h0m0-2h0m0 5h0m0-2h0m0 4h0m0-6h0m0 2h0m1-2h0m0 3h0m0 0h0m0 2h0m0-2h0m0 1h0m0-5h0m0 2h0m0 1h0m1-2h0m0 3h0m0-4h0m0 2h0m0 2h0m0-4h0m0 7h0m0-4h0m1 4h0m0-4h0m0-2h0m0 1h0m1 1h0m0 1h0m0 2h0m0-2h0m0 0h0m0-4h0m0 6h0m0-1h0m0 0h0m0 0h0m0 1h0m1-2h0m0 2h0m0-5h0m0-2h0m0 1h0m0 0h0m0-1h0m0 5h0m1-1h0m0-1h0m0-2h0m0 0h0m0 4h0m0-5h0m0 0h0m1 7h0m0-5h0m0 1h0m0-1h0m0 1h0m1-2h0m0 2h0m0 1h0m0-2h0m0 0h0m1-1h0m0 4h0m0-3h0m0 0h0m0 4h0m0-3h0m1 4h0m0 1h0m0-4h0m0-2h0m0 1h0m1 2h0m0-4h0m0 3h0m0-3h0m0 2h0m1 3h0m0-5h0m0 1h0m0 2h0m1 2h0m0-4h0m0 0h0m1 0h0m0 4h0m0-4h0m0 2h0m1-1h0m1-1h0m0 4h0m0 2h0m1-4h0m0 2h0m1 2h0m0-1h0m0-3h0m1-2h0m2 3h0m0 1h0m1 1h0m0 0h0m1-7h0m0 1h0m3 0h0m1 6h0m0 1h0m4-2h0m0-2h0m1 1h0m2-1h0m1-3h0m0 7h0m12-6h0m5 5h0m-106 7h0m5 1h0m5 0h0m3-3h0m7-1h0m3 4h0m1-3h0m5-2h0m1 4h0m0 2h0m1-6h0m0 4h0m0-6h0m0 6h0m1 2h0m0-1h0m0 0h0m0-1h0m0-4h0m1 3h0m0 3h0m0-8h0m0 7h0m0-5h0m0 5h0m1-3h0m0 1h0m0-1h0m0-3h0m1 7h0m1-3h0m0 2h0m0 0h0m0-1h0m1 2h0m1-2h0m0 1h0m0-6h0m0 7h0m0-6h0m0 4h0m0-3h0m0-1h0m1-1h0m0 3h0m0 0h0m0-4h0m1 0h0m0 6h0m0-2h0m0-2h0m0 4h0m0-1h0m1 1h0m0-1h0m0-2h0m0 0h0m1 0h0m0 0h0m0 1h0m0-3h0m0 5h0m0-2h0m0 3h0m0-3h0m1-1h0m0 0h0m0-1h0m0 1h0m0 3h0m1-3h0m0 5h0m0-6h0m0 2h0m0 2h0m0-2h0m0 2h0m0-3h0m0 4h0m0-1h0m0-5h0m0 3h0m0 0h0m1-3h0m0 4h0m0-5h0m0 3h0m0 2h0m0-3h0m0 6h0m1-3h0m0 2h0m0-2h0m0-2h0m0-1h0m0 5h0m0-1h0m1 1h0m0-1h0m0 0h0m0-3h0m0 0h0m0-1h0m0-1h0m0 2h0m0-2h0m0 6h0m0 0h0m0-6h0m0 6h0m1-4h0m0-2h0m0 3h0m0-1h0m0 2h0m0 1h0m0-4h0m0 2h0m0 2h0m0 0h0m0-4h0m1 2h0m0 1h0m0-4h0m0 1h0m0 4h0m0-2h0m0 1h0m0-2h0m1-1h0m0-1h0m0 5h0m0-4h0m0 2h0m0 1h0m0 1h0m0 2h0m0-8h0m0 6h0m1-2h0m0 2h0m0 1h0m0-2h0m0-2h0m1-2h0m0 1h0m0 6h0m0-1h0m0-2h0m0-4h0m0-1h0m0 8h0m0-4h0m0 3h0m0-6h0m0 2h0m1-1h0m0 1h0m0 2h0m0-3h0m0 1h0m0 0h0m0-1h0m0 0h0m0 3h0m0 1h0m0 1h0m0-5h0m1 2h0m0-1h0m0 2h0m0-4h0m0 1h0m0 6h0m0-7h0m1 3h0m0 2h0m0-2h0m0 0h0m0 1h0m0-3h0m0 1h0m0 5h0m0-7h0m0 1h0m0 1h0m0 1h0m0-1h0m0-3h0m0 1h0m1 4h0m0-1h0m0-1h0m0 1h0m1-3h0m0 0h0m0-1h0m0 7h0m0-7h0m0 6h0m1-3h0m0-1h0m0 4h0m1-3h0m0 3h0m0-3h0m0 3h0m0 1h0m1-4h0m0 0h0m0 3h0m0-5h0m0 6h0m1-4h0m0 3h0m0-1h0m0-2h0m0-1h0m0-1h0m0 2h0m1-1h0m0-1h0m1 1h0m0 6h0m0-3h0m0-2h0m0 1h0m0-3h0m0 3h0m1-1h0m0 5h0m0-7h0m0 0h0m0 0h0m1 5h0m0 1h0m0 0h0m0-4h0m0 0h0m1-2h0m0 2h0m0 1h0m1 1h0m0-2h0m1 0h0m0 0h0m0-2h0m0 1h0m0 2h0m0-1h0m1 5h0m1-7h0m1 4h0m0-1h0m1-3h0m0 7h0m0-7h0m0 3h0m0 0h0m1 2h0m1-6h0m1 0h0m1 2h0m1 4h0m0 2h0m1-2h0m2-4h0m1 4h0m6 0h0m0-2h0m2-1h0m0 3h0m1-5h0m-195 8h0m2 1h0m80 5h0m7-3h0m20 4h0m4-1h0m4 0h0m1 0h0m1-3h0m1 1h0m4-5h0m2 6h0m0-5h0m2 2h0m0 1h0m0 1h0m2 1h0m1 1h0m0-4h0m1 3h0m0 1h0m0 0h0m0-1h0m1 0h0m0 1h0m1-2h0m0-4h0m0 6h0m1-1h0m0-3h0m0 3h0m1 0h0m0 1h0m0-6h0m0 4h0m0 2h0m0 0h0m0-1h0m1-3h0m0 2h0m0-4h0m1 2h0m0 3h0m0 0h0m0 0h0m0 0h0m1 0h0m0-3h0m0 1h0m0-1h0m0-2h0m0 2h0m0 2h0m1-2h0m0 2h0m0-4h0m0 1h0m0 4h0m0 2h0m1-6h0m0 1h0m0 5h0m0-3h0m0 0h0m0-2h0m1 5h0m0-3h0m0 2h0m0-5h0m0 2h0m0 1h0m1 1h0m0-5h0m0 4h0m1-2h0m0 2h0m0-4h0m0 4h0m0 0h0m0 1h0m1 1h0m0-4h0m0 5h0m0-6h0m0 6h0m1-7h0m0 6h0m0-1h0m0-1h0m0 0h0m0 2h0m0 0h0m0-4h0m0 3h0m1-3h0m0 2h0m0 2h0m0-6h0m0 2h0m0 5h0m0 0h0m0-6h0m0-1h0m0 1h0m1 1h0m0-2h0m0 4h0m0-4h0m0 6h0m0-2h0m0 1h0m0 0h0m0 1h0m0 0h0m0-3h0m1-3h0m0 3h0m0 0h0m0 1h0m0 2h0m0-4h0m0-2h0m1 7h0m0-6h0m0 3h0m0 1h0m0 1h0m0-5h0m0-2h0m0 4h0m0 0h0m0 2h0m0-1h0m0 2h0m0-7h0m0 3h0m1 0h0m0 0h0m0-2h0m0 4h0m0-5h0m0 2h0m0 1h0m0-3h0m1 8h0m0-3h0m0 1h0m0-5h0m0 4h0m0 1h0m0-2h0m0 3h0m0-4h0m0-2h0m0 5h0m0-1h0m0 0h0m1-2h0m0-3h0m0 2h0m0 6h0m0 0h0m0-1h0m0-4h0m0-2h0m1 6h0m0-5h0m0 2h0m0-3h0m0 0h0m0 3h0m0-1h0m0 4h0m0-4h0m1 3h0m0 2h0m0-7h0m0 2h0m0 3h0m0 0h0m0 0h0m0-3h0m0 1h0m1 1h0m0 0h0m0-2h0m0 0h0m0 5h0m0-1h0m1 0h0m0-4h0m0-2h0m0 1h0m0-1h0m0 6h0m0-1h0m0 2h0m1-4h0m0 2h0m0-2h0m0 1h0m0-1h0m0 0h0m0 2h0m0-2h0m0-3h0m1 6h0m0-2h0m0-4h0m0-1h0m0 6h0m0-2h0m0-3h0m1 7h0m0-1h0m0-5h0m1-1h0m0 5h0m0-5h0m0 5h0m0-1h0m1 2h0m0-3h0m0-2h0m0-2h0m0 0h0m1 8h0m0-5h0m0-1h0m1-1h0m0 2h0m0-2h0m0 3h0m1 1h0m0-1h0m0-2h0m0 0h0m0-1h0m0 2h0m1 2h0m0-4h0m0 1h0m1 2h0m0 4h0m0-7h0m0 0h0m1 3h0m0 2h0m0-4h0m1-2h0m0 1h0m0 0h0m1 2h0m0-2h0m0 5h0m1-2h0m0-1h0m0 5h0m1-6h0m0 3h0m0-2h0m0-2h0m1 5h0m0-5h0m0 0h0m1 0h0m0 1h0m0-2h0m0 5h0m1-2h0m0-2h0m4 2h0m0-1h0m1 5h0m1-1h0m1 2h0m0-4h0m3-3h0m0 4h0m0-4h0m16 6h0m2-5h0m-123 7h0m1 1h0m0-1h0m15 2h0m17-2h0m1 4h0m3 1h0m3-1h0m1 2h0m0-4h0m1 1h0m3-2h0m1 3h0m0-1h0m1 2h0m1-4h0m0 5h0m1-2h0m1-1h0m0 3h0m1-3h0m0 2h0m0 0h0m0 1h0m0-2h0m0 0h0m1-2h0m1 1h0m0 2h0m0 2h0m0-8h0m0 4h0m0-2h0m1 6h0m0-6h0m0 3h0m0-5h0m1 6h0m0 1h0m0-1h0m0-5h0m0-1h0m0 4h0m1 1h0m0-2h0m0 0h0m0-1h0m0 1h0m0-2h0m1 5h0m0-2h0m0-1h0m0 0h0m0 0h0m0-1h0m1 6h0m0-5h0m0 0h0m0 2h0m1-1h0m0 1h0m0-2h0m0 1h0m0-3h0m0 2h0m0 0h0m0 1h0m1 2h0m0-1h0m0-5h0m0 1h0m1 5h0m0-4h0m0 4h0m0-2h0m0-2h0m0 6h0m0-1h0m1-4h0m0 4h0m0-5h0m0 0h0m0 3h0m0-3h0m0 2h0m0-3h0m0 4h0m0 2h0m0-5h0m1 1h0m1-2h0m0 5h0m0 1h0m0 1h0m0-7h0m0 6h0m0-7h0m0 5h0m0-2h0m0 5h0m1 0h0m0-7h0m0 2h0m0 3h0m0 2h0m0-1h0m0 0h0m0 0h0m1-4h0m0 4h0m0 0h0m0 0h0m0-3h0m0-1h0m0 1h0m0 3h0m0-1h0m0 0h0m0-1h0m0-1h0m0 2h0m0-3h0m1 3h0m0-2h0m0-2h0m0 5h0m0-2h0m0-2h0m1 1h0m0-4h0m0 8h0m0-6h0m0 4h0m0-1h0m1 0h0m0-4h0m0-1h0m0 4h0m1 2h0m0-4h0m0 5h0m1-2h0m0 0h0m0 1h0m0 1h0m0-1h0m0 0h0m1-5h0m0 5h0m0-4h0m0 2h0m0-1h0m0 3h0m0 1h0m0-6h0m1 0h0m0 3h0m0 3h0m0-3h0m0 3h0m0 0h0m0 1h0m0-5h0m0-1h0m0 0h0m1 0h0m0-1h0m0 6h0m0-2h0m0 2h0m1-4h0m0 0h0m0-3h0m0 8h0m0-5h0m0 5h0m0-5h0m1-2h0m0 0h0m0 5h0m0-5h0m1 4h0m0-2h0m0 4h0m0-3h0m1-3h0m0 0h0m0 2h0m1 2h0m0-1h0m1-4h0m0 2h0m0 1h0m0 5h0m0-1h0m0-4h0m0-2h0m0 2h0m0 4h0m0-2h0m1-3h0m0 0h0m0 5h0m0-2h0m0-4h0m1 4h0m0-5h0m0 2h0m0-1h0m0 7h0m0-4h0m0-3h0m1 4h0m0 2h0m1-7h0m0 5h0m1-1h0m1-1h0m0 0h0m0 0h0m1-2h0m2 6h0m2-6h0m0 2h0m0 4h0m1 0h0m0-4h0m3 4h0m2-4h0m0 1h0m4 3h0m2-3h0m1 3h0m2-6h0m8 6h0m1-6h0m40 1h0m24 3h0m90 0h0m-400 4h0m114 3h0m32-1h0m4 0h0m3 0h0m14 1h0m1 3h0m2-3h0m0-3h0m2 5h0m1-3h0m0-2h0m0 5h0m0-4h0m3 6h0m2-4h0m0 2h0m0 1h0m0-3h0m0 2h0m1-1h0m0-3h0m0 3h0m1-4h0m0 2h0m0 3h0m0-2h0m0 3h0m1 1h0m1-6h0m0 6h0m0-7h0m0 3h0m0-3h0m0 2h0m0-2h0m1 1h0m0 1h0m0 0h0m1 1h0m1 4h0m0-6h0m0 0h0m0 1h0m0 1h0m1 1h0m0-2h0m0 0h0m0 4h0m0-2h0m0 3h0m1-8h0m0 8h0m0-6h0m0-1h0m1 6h0m0-2h0m0-3h0m1 3h0m0-3h0m0 1h0m0 3h0m0-3h0m0 3h0m0 0h0m0-4h0m1 3h0m0 2h0m0-5h0m0 0h0m0 0h0m0 0h0m0 3h0m2-2h0m0-1h0m0 3h0m0-3h0m0 0h0m0 2h0m0 4h0m0-1h0m0 0h0m2-4h0m0 1h0m0 0h0m0 2h0m1-5h0m0 2h0m0 2h0m0-1h0m1 1h0m0 1h0m0-5h0m0 6h0m0-4h0m0 0h0m0 4h0m1-3h0m0 2h0m0-2h0m0-1h0m0 2h0m1 1h0m0-5h0m0 5h0m0-2h0m0-1h0m1 0h0m0-2h0m0 1h0m0-2h0m0 1h0m0-1h0m0 4h0m0 1h0m0-4h0m0 1h0m1 5h0m0 1h0m0-3h0m0 0h0m0-3h0m0-1h0m1 0h0m0 0h0m0 2h0m0-3h0m0 0h0m1 7h0m0 0h0m0-5h0m0 2h0m0 1h0m1-2h0m0-2h0m0 6h0m0-2h0m1 0h0m0-3h0m0 2h0m0-3h0m0 3h0m0-1h0m1 0h0m0-2h0m0 1h0m0-1h0m0 6h0m0-6h0m0 1h0m1 2h0m0-1h0m0 0h0m0 0h0m0 1h0m1 0h0m0 1h0m0-3h0m1 4h0m0-4h0m0 1h0m1 3h0m1 1h0m0-1h0m0-3h0m1-1h0m0 1h0m0-2h0m0 2h0m1 0h0m2-1h0m0 4h0m1-3h0m0 3h0m2 1h0m1 1h0m1-5h0m0-2h0m0 5h0m2-2h0m1 1h0m1 0h0m2 2h0m0 0h0m0-3h0m9 1h0m2 0h0m5-1h0m35-4h0m-146 15h0m2-6h0m12 4h0m2-1h0m7-1h0m3 0h0m2 1h0m4-2h0m1 6h0m1 0h0m4 0h0m1-2h0m1 1h0m2-1h0m0-4h0m0 4h0m0-4h0m1 3h0m0-4h0m1 1h0m0 1h0m1-1h0m3-1h0m0 6h0m0-1h0m1-5h0m1 4h0m0-1h0m0 3h0m1-3h0m0-2h0m0 1h0m1 3h0m0-3h0m0 1h0m2-1h0m0 0h0m0 2h0m1-3h0m0-1h0m1 2h0m0 3h0m0-2h0m0-3h0m0 1h0m1 0h0m0 1h0m1 2h0m0-3h0m0 0h0m0-2h0m0 3h0m0-2h0m1 3h0m0-2h0m0 4h0m0 2h0m0 0h0m0-6h0m1 5h0m0-6h0m1 1h0m0 2h0m0-1h0m0-3h0m0 1h0m0 4h0m0-4h0m1 3h0m1 1h0m0-1h0m0 3h0m0-7h0m0 2h0m0 0h0m0 4h0m0-6h0m1 1h0m0 6h0m0-3h0m0-4h0m0 0h0m0 3h0m1 1h0m0 3h0m0-6h0m0-1h0m0 7h0m1-7h0m0 5h0m0-4h0m0 3h0m0-1h0m0 3h0m1 2h0m0-7h0m0 0h0m0 2h0m0-1h0m0 1h0m1-3h0m0 0h0m0 1h0m0 1h0m1 5h0m0-3h0m1 0h0m0-1h0m0 4h0m0-5h0m0 5h0m0-1h0m2-5h0m0 4h0m1 3h0m0-5h0m0 1h0m1-2h0m0 3h0m0-4h0m0 0h0m1 2h0m0-2h0m0-1h0m1 0h0m0 7h0m0-2h0m2-4h0m1 4h0m1 1h0m0-6h0m1 2h0m0 0h0m1 1h0m0 2h0m0 1h0m2-4h0m0 1h0m1 4h0m1-6h0m2 2h0m1-3h0m1 2h0m6 0h0m1-1h0m1 7h0m4 0h0m1-2h0m3-3h0m3-3h0m-129 8h0m5 5h0m17-4h0m0 6h0m20-6h0m2 3h0m15 4h0m1-2h0m1 0h0m1-1h0m0-5h0m1 8h0m1-1h0m2-5h0m0 2h0m2-1h0m0-1h0m0 3h0m1-2h0m0 5h0m1-4h0m0 2h0m0-6h0m0 3h0m0 3h0m0 1h0m1-6h0m0-1h0m0 4h0m1-2h0m0 2h0m0 0h0m2-3h0m0 5h0m0-4h0m1 2h0m0 1h0m1-2h0m0-2h0m0 0h0m0 4h0m1 2h0m1-3h0m0 3h0m0-6h0m0 6h0m0-4h0m1 3h0m0-2h0m1-4h0m1 3h0m0 4h0m0 0h0m0-4h0m0-1h0m1-1h0m0 0h0m0 0h0m1 0h0m1 6h0m1-1h0m0-5h0m1 4h0m0-3h0m0-2h0m0 6h0m0-1h0m0-1h0m0-3h0m0 7h0m1-1h0m1-5h0m1 3h0m0 1h0m0-6h0m1 4h0m0-3h0m1 2h0m0-3h0m2 7h0m1-2h0m0-2h0m1 2h0m1 3h0m0-1h0m0-5h0m1 1h0m0 1h0m4 1h0m0 0h0m0 2h0m0-2h0m1 0h0m0-4h0m1-1h0m6 3h0m1 0h0m10 4h0m39-3h0m-110 5h0m2 2h0m0-3h0m1 3h0m1 2h0m5 3h0m1-7h0m0 1h0m1 0h0m1 5h0m0-1h0m1-1h0m0 2h0m2-4h0m0 2h0m0-4h0m0 0h0m3 3h0m0 2h0m0-2h0m1 1h0m0 3h0m2-6h0m0-1h0m0 4h0m0 3h0m0-6h0m1 0h0m0 0h0m1-2h0m0 5h0m0-3h0m0 2h0m1 1h0m0-2h0m0-3h0m0 2h0m0-1h0m1 4h0m0-2h0m0-1h0m0 1h0m0-3h0m0 5h0m1-4h0m0 4h0m0-2h0m0-1h0m2 3h0m1-4h0m0 6h0m1-3h0m0-3h0m0 1h0m1 0h0m0 3h0m0-4h0m2 1h0m1 4h0m0-4h0m1 4h0m0 2h0m0-8h0m1 7h0m1-7h0m0 3h0m1 4h0m1-4h0m1 4h0m0-7h0m1 0h0m0 5h0m1-1h0m0-3h0m1 3h0m6 0h0m1-3h0m1 5h0m2-3h0m0 0h0m6-2h0m1 2h0m11 5h0m167-2h0m-237 5h0m1 0h0m1 1h0m2 2h0m1-4h0m1 1h0m3 0h0m2 4h0m3-4h0m1 2h0m0 0h0m2-1h0m0 2h0m0 1h0m1-2h0m0-3h0m1 5h0m0 0h0m1-1h0m0 0h0m1 2h0m0-8h0m0 5h0m1 0h0m1-3h0m0 4h0m1-1h0m1-2h0m0 5h0m0-1h0m1-5h0m0 2h0m1 3h0m0-3h0m2-3h0m0 6h0m1-2h0m0-1h0m1 2h0m1-6h0m1 2h0m1 0h0m0 3h0m1 1h0m7-3h0m6 1h0m0-4h0m2 1h0m3 4h0m0-3h0m2 4h0m-227 2h0m160 7h0m20-4h0m2 3h0m1-3h0m1 0h0m3 1h0m1 2h0m0-4h0m1-2h0m0 1h0m3 6h0m3-5h0m1-1h0m1 4h0m2-3h0m4 3h0m0 1h0m1 0h0m2-5h0m2 0h0m1 4h0m0 1h0m0-4h0m4 3h0m10 2h0m1-1h0m1-5h0m6 1h0m-87 10h0m16 1h0m8 0h0m2-1h0m2-1h0m0 4h0m2-7h0m7 4h0m1-1h0m1-2h0m1 5h0m0-4h0m1 0h0m0 3h0m1 3h0m0-4h0m1 2h0m3-4h0m2 1h0m0 3h0m7-3h0m3-2h0m10 1h0m4-2h0m18 3h0m5-2h0m-99 13h0m8 1h0m2-5h0m8-1h0m10 1h0m4 1h0m5 2h0m2-4h0m10 2h0m5 5h0m2-7h0m5 1h0m9 5h0m5-1h0m14-3h0m-113 8h0m49-1h0m2 5h0m7-2h0m10-2h0m8 3h0m-48 7h0m1 1h0m4 0h0m6 2h0m8-6h0m10 2h0m1 0h0m15-2h0m5 1h0m8-1h0m27-2h0m37 4h0m-101 4h0m4 2h0m16 3h0m16-5h0m20 2h0m-66 12h0m6-3h0m11 0h0m16-2h0m15 0h0m32-1h0m142 7h0m-309 9h0m85-5h0m24 1h0m2 0h0m-39 35h0m19-1h0m-31 36h0" stroke="#111" stroke-width="2.50" stroke-linecap="round" fill="none"/>
<path d="M433.6 859.6L612.2 979.2" stroke="#3f8f86" stroke-width="0.9"/>
<rect x="476.6" y="785.1" width="6.7" height="4.0" fill="#acaedb"/>
<path d="M477.8 787.1H482.1" stroke="#fff" stroke-opacity="0.5" stroke-width="1.0" stroke-dasharray="1.2 0.5"/>
<rect x="462.8" y="821.3" width="9.4" height="4.1" fill="#2f7a4e"/>
<path d="M464.0 823.3H471.0" stroke="#fff" stroke-opacity="0.5" stroke-width="1.0" stroke-dasharray="1.2 0.5"/>
<rect x="539.4" y="827.4" width="13.4" height="4.0" fill="#acaedb"/>
<path d="M540.6 829.4H551.6" stroke="#fff" stroke-opacity="0.5" stroke-width="1.0" stroke-dasharray="1.2 0.5"/>
<rect x="558.5" y="832.8" width="16.1" height="4.0" fill="#acaedb"/>
<path d="M559.7 834.8H573.4" stroke="#fff" stroke-opacity="0.5" stroke-width="1.0" stroke-dasharray="1.2 0.5"/>
<rect x="551.8" y="841.2" width="14.4" height="4.0" fill="#8c8c8c"/>
<path d="M553.0 843.2H565.0" stroke="#fff" stroke-opacity="0.5" stroke-width="1.0" stroke-dasharray="1.2 0.5"/>
<rect x="542.7" y="847.5" width="14.5" height="4.1" fill="#8c8c8c"/>
<path d="M543.9 849.5H556.0" stroke="#fff" stroke-opacity="0.5" stroke-width="1.0" stroke-dasharray="1.2 0.5"/>
<rect x="478.9" y="857.6" width="14.5" height="4.0" fill="#acaedb"/>
<path d="M480.1 859.6H492.2" stroke="#fff" stroke-opacity="0.5" stroke-width="1.0" stroke-dasharray="1.2 0.5"/>
<rect x="561.2" y="854.6" width="15.1" height="4.0" fill="#8c8c8c"/>
<path d="M562.4 856.6H575.1" stroke="#fff" stroke-opacity="0.5" stroke-width="1.0" stroke-dasharray="1.2 0.5"/>
<rect x="563.9" y="862.3" width="14.1" height="4.0" fill="#8c8c8c"/>
<path d="M565.1 864.3H576.8" stroke="#fff" stroke-opacity="0.5" stroke-width="1.0" stroke-dasharray="1.2 0.5"/>
<rect x="540.4" y="865.0" width="14.1" height="4.0" fill="#8c8c8c"/>
<path d="M541.6 867.0H553.3" stroke="#fff" stroke-opacity="0.5" stroke-width="1.0" stroke-dasharray="1.2 0.5"/>
<rect x="557.2" y="869.0" width="15.7" height="4.1" fill="#8c8c8c"/>
<path d="M558.4 871.0H571.7" stroke="#fff" stroke-opacity="0.5" stroke-width="1.0" stroke-dasharray="1.2 0.5"/>
<rect x="453.7" y="872.0" width="10.1" height="4.1" fill="#2f7a4e"/>
<path d="M454.9 874.0H462.6" stroke="#fff" stroke-opacity="0.5" stroke-width="1.0" stroke-dasharray="1.2 0.5"/>
<rect x="535.3" y="873.4" width="10.1" height="4.0" fill="#acaedb"/>
<path d="M536.5 875.4H544.2" stroke="#fff" stroke-opacity="0.5" stroke-width="1.0" stroke-dasharray="1.2 0.5"/>
<rect x="547.8" y="875.1" width="15.1" height="4.0" fill="#8c8c8c"/>
<path d="M549.0 877.1H561.7" stroke="#fff" stroke-opacity="0.5" stroke-width="1.0" stroke-dasharray="1.2 0.5"/>
<rect x="415.1" y="890.2" width="17.5" height="4.0" fill="#acaedb"/>
<path d="M416.3 892.2H431.4" stroke="#fff" stroke-opacity="0.5" stroke-width="1.0" stroke-dasharray="1.2 0.5"/>
<rect x="535.3" y="886.8" width="10.1" height="4.0" fill="#7fb48c"/>
<path d="M536.5 888.8H544.2" stroke="#fff" stroke-opacity="0.5" stroke-width="1.0" stroke-dasharray="1.2 0.5"/>
<rect x="552.8" y="890.5" width="15.1" height="4.0" fill="#8c8c8c"/>
<path d="M554.0 892.5H566.7" stroke="#fff" stroke-opacity="0.5" stroke-width="1.0" stroke-dasharray="1.2 0.5"/>
<rect x="515.5" y="904.3" width="8.7" height="4.0" fill="#b9473e"/>
<path d="M516.7 906.3H523.0" stroke="#fff" stroke-opacity="0.5" stroke-width="1.0" stroke-dasharray="1.2 0.5"/>
<rect x="509.1" y="920.1" width="13.5" height="4.0" fill="#b9473e"/>
<path d="M510.3 922.1H521.4" stroke="#fff" stroke-opacity="0.5" stroke-width="1.0" stroke-dasharray="1.2 0.5"/>
<rect x="457.8" y="934.2" width="13.4" height="4.0" fill="#8c8c8c"/>
<path d="M459.0 936.2H470.0" stroke="#fff" stroke-opacity="0.5" stroke-width="1.0" stroke-dasharray="1.2 0.5"/>
<rect x="473.9" y="934.2" width="18.4" height="4.0" fill="#ea6f6a"/>
<path d="M475.1 936.2H491.1" stroke="#fff" stroke-opacity="0.5" stroke-width="1.0" stroke-dasharray="1.2 0.5"/>
<rect x="465.5" y="940.5" width="14.4" height="4.1" fill="#8c8c8c"/>
<path d="M466.7 942.5H478.7" stroke="#fff" stroke-opacity="0.5" stroke-width="1.0" stroke-dasharray="1.2 0.5"/>
<rect x="482.3" y="941.6" width="15.1" height="4.0" fill="#7fb48c"/>
<path d="M483.5 943.6H496.2" stroke="#fff" stroke-opacity="0.5" stroke-width="1.0" stroke-dasharray="1.2 0.5"/>
<rect x="461.5" y="950.0" width="14.1" height="4.0" fill="#ea6f6a"/>
<path d="M462.7 952.0H474.4" stroke="#fff" stroke-opacity="0.5" stroke-width="1.0" stroke-dasharray="1.2 0.5"/>
<rect x="489.0" y="953.0" width="8.4" height="4.0" fill="#8c8c8c"/>
<path d="M490.2 955.0H496.2" stroke="#fff" stroke-opacity="0.5" stroke-width="1.0" stroke-dasharray="1.2 0.5"/>
<rect x="567.9" y="940.5" width="11.8" height="4.1" fill="#7fb48c"/>
<path d="M569.1 942.5H578.5" stroke="#fff" stroke-opacity="0.5" stroke-width="1.0" stroke-dasharray="1.2 0.5"/>
<rect x="593.1" y="941.9" width="12.4" height="4.0" fill="#de912c"/>
<path d="M594.3 943.9H604.3" stroke="#fff" stroke-opacity="0.5" stroke-width="1.0" stroke-dasharray="1.2 0.5"/>
<rect x="571.3" y="949.6" width="19.4" height="4.0" fill="#8c8c8c"/>
<path d="M572.5 951.6H589.5" stroke="#fff" stroke-opacity="0.5" stroke-width="1.0" stroke-dasharray="1.2 0.5"/>
<rect x="561.2" y="956.3" width="13.4" height="4.1" fill="#8c8c8c"/>
<path d="M562.4 958.3H573.4" stroke="#fff" stroke-opacity="0.5" stroke-width="1.0" stroke-dasharray="1.2 0.5"/>
<rect x="591.4" y="956.7" width="14.1" height="4.0" fill="#8c8c8c"/>
<path d="M592.6 958.7H604.3" stroke="#fff" stroke-opacity="0.5" stroke-width="1.0" stroke-dasharray="1.2 0.5"/>
<rect x="536.0" y="965.7" width="16.8" height="4.1" fill="#8c8c8c"/>
<path d="M537.2 967.8H551.6" stroke="#fff" stroke-opacity="0.5" stroke-width="1.0" stroke-dasharray="1.2 0.5"/>
<rect x="555.1" y="968.1" width="14.5" height="4.0" fill="#8c8c8c"/>
<path d="M556.3 970.1H568.4" stroke="#fff" stroke-opacity="0.5" stroke-width="1.0" stroke-dasharray="1.2 0.5"/>
<rect x="572.9" y="967.4" width="23.5" height="4.0" fill="#8c8c8c"/>
<path d="M574.1 969.4H595.2" stroke="#fff" stroke-opacity="0.5" stroke-width="1.0" stroke-dasharray="1.2 0.5"/>
<rect x="552.8" y="975.1" width="13.4" height="4.1" fill="#8c8c8c"/>
<path d="M554.0 977.2H565.0" stroke="#fff" stroke-opacity="0.5" stroke-width="1.0" stroke-dasharray="1.2 0.5"/>
<rect x="536.7" y="976.5" width="13.7" height="4.0" fill="#5c3f7e"/>
<path d="M537.9 978.5H549.2" stroke="#fff" stroke-opacity="0.5" stroke-width="1.0" stroke-dasharray="1.2 0.5"/>
<rect x="540.0" y="983.2" width="10.4" height="4.0" fill="#ea6f6a"/>
<path d="M541.2 985.2H549.2" stroke="#fff" stroke-opacity="0.5" stroke-width="1.0" stroke-dasharray="1.2 0.5"/>
<rect x="554.5" y="982.2" width="16.8" height="4.0" fill="#8c8c8c"/>
<path d="M555.7 984.2H570.1" stroke="#fff" stroke-opacity="0.5" stroke-width="1.0" stroke-dasharray="1.2 0.5"/>
<rect x="612.2" y="980.2" width="11.1" height="4.0" fill="#8c8c8c"/>
<path d="M613.4 982.2H622.1" stroke="#fff" stroke-opacity="0.5" stroke-width="1.0" stroke-dasharray="1.2 0.5"/>
<rect x="573.9" y="993.3" width="14.8" height="4.0" fill="#ea6f6a"/>
<path d="M575.1 995.3H587.5" stroke="#fff" stroke-opacity="0.5" stroke-width="1.0" stroke-dasharray="1.2 0.5"/>
<rect x="542.4" y="1007.4" width="12.7" height="4.0" fill="#5c3f7e"/>
<path d="M543.6 1009.4H553.9" stroke="#fff" stroke-opacity="0.5" stroke-width="1.0" stroke-dasharray="1.2 0.5"/>
<rect x="407.4" y="780.0" width="216.89999999999998" height="235.79999999999995" fill="none" stroke="#555" stroke-width="0.8"/>
<text x="426.90" y="1023.40" dy="0.35em" font-size="7.6" text-anchor="middle" fill="#333">−1.0</text>
<text x="471.70" y="1023.40" dy="0.35em" font-size="7.6" text-anchor="middle" fill="#333">−0.5</text>
<text x="516.50" y="1023.40" dy="0.35em" font-size="7.6" text-anchor="middle" fill="#333">0</text>
<text x="561.30" y="1023.40" dy="0.35em" font-size="7.6" text-anchor="middle" fill="#333">0.5</text>
<text x="606.10" y="1023.40" dy="0.35em" font-size="7.6" text-anchor="middle" fill="#333">1.0</text>
<text x="403.40" y="1007.00" dy="0.35em" font-size="7.6" text-anchor="end" fill="#333">−1.0</text>
<text x="403.40" y="960.65" dy="0.35em" font-size="7.6" text-anchor="end" fill="#333">−0.5</text>
<text x="403.40" y="914.30" dy="0.35em" font-size="7.6" text-anchor="end" fill="#333">0</text>
<text x="403.40" y="867.95" dy="0.35em" font-size="7.6" text-anchor="end" fill="#333">0.5</text>
<text x="403.40" y="821.60" dy="0.35em" font-size="7.6" text-anchor="end" fill="#333">1.0</text>
<path d="M426.9 1015.8V1018.3M471.7 1015.8V1018.3M516.5 1015.8V1018.3M561.3 1015.8V1018.3M606.1 1015.8V1018.3M404.9 1007.0H407.4M404.9 960.6H407.4M404.9 914.3H407.4M404.9 867.9H407.4M404.9 821.6H407.4" stroke="#555" stroke-width="0.6"/>
<text x="423.0" y="797.8" dy="0.35em" font-size="7.0" fill="#333"><tspan font-style="italic">R</tspan> = −0.47, P &lt; 2.2 × 10<tspan font-size="4.6" dy="-3">−16</tspan></text>
<text x="380.30" y="903.00" dy="0.35em" font-size="7.6" text-anchor="middle" fill="#333" transform="rotate(-90 380.30 903.00)">sALS patients versus controls</text>
<text x="530.40" y="1034.60" dy="0.35em" font-size="7.6" text-anchor="middle" fill="#333">GRN-FTD patients versus controls</text>
<rect x="630.0" y="881.00" width="7.8" height="8.4" rx="0.8" fill="#de912c"/>
<text x="640.70" y="885.20" dy="0.35em" font-size="7.3" fill="#333">MG1</text>
<rect x="630.0" y="892.12" width="7.8" height="8.4" rx="0.8" fill="#ea7370"/>
<text x="640.70" y="896.32" dy="0.35em" font-size="7.3" fill="#333">MG2</text>
<rect x="630.0" y="903.24" width="7.8" height="8.4" rx="0.8" fill="#a9aad6"/>
<text x="640.70" y="907.44" dy="0.35em" font-size="7.3" fill="#333">MG3</text>
<rect x="630.0" y="914.36" width="7.8" height="8.4" rx="0.8" fill="#5c3f7e"/>
<text x="640.70" y="918.56" dy="0.35em" font-size="7.3" fill="#333">MG4</text>
<rect x="630.0" y="925.48" width="7.8" height="8.4" rx="0.8" fill="#7db48a"/>
<text x="640.70" y="929.68" dy="0.35em" font-size="7.3" fill="#333">MG5</text>
<rect x="630.0" y="936.60" width="7.8" height="8.4" rx="0.8" fill="#2f7a4e"/>
<text x="640.70" y="940.80" dy="0.35em" font-size="7.3" fill="#333">MG6</text>
</svg></body></html>
